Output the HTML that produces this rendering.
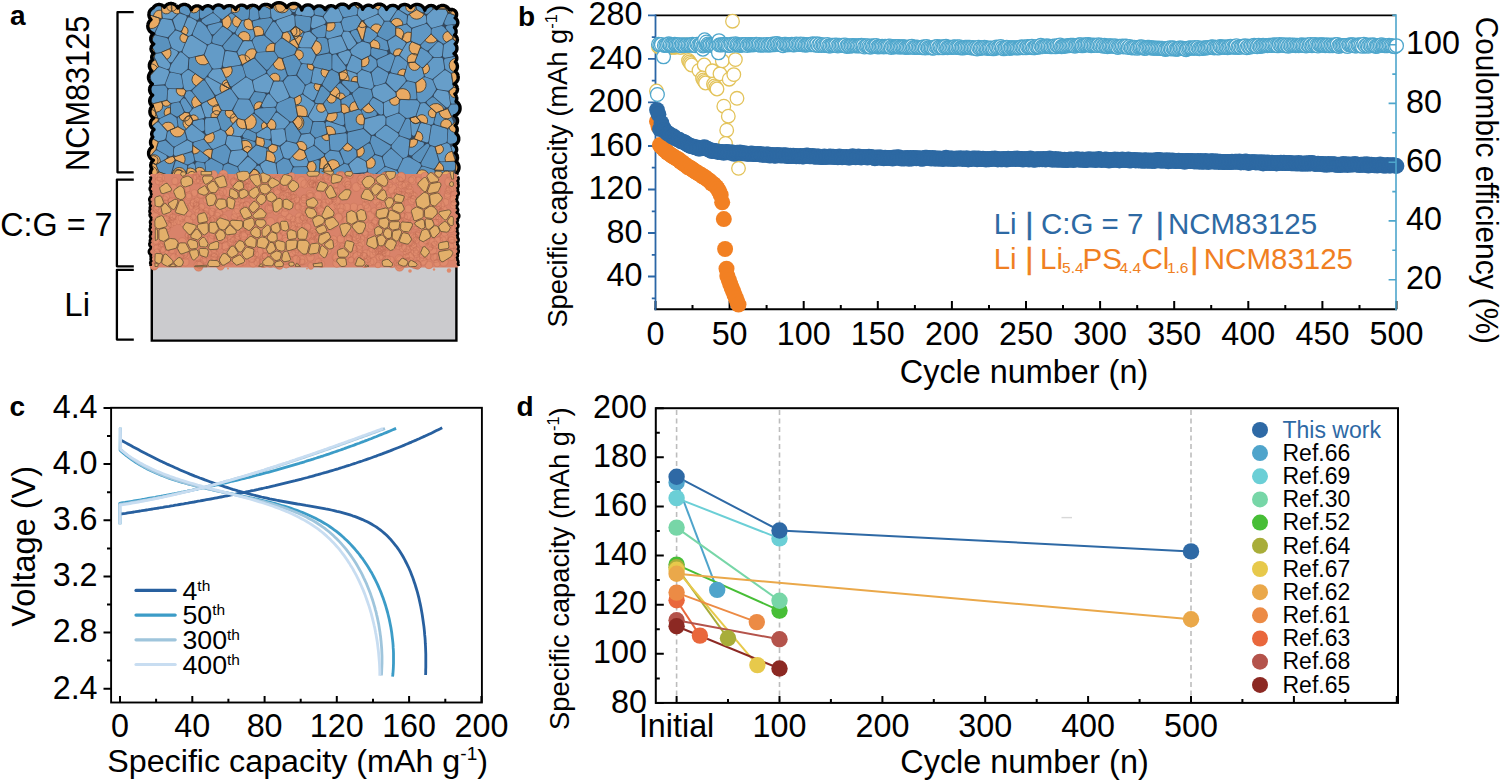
<!DOCTYPE html>
<html><head><meta charset="utf-8"><style>
html,body{margin:0;padding:0;background:#fff;overflow:hidden;width:1500px;height:781px;}
svg{display:block;}
text{font-family:"Liberation Sans", sans-serif;fill:#000;}
</style></head><body>
<svg width="1500" height="781" viewBox="0 0 1500 781" font-family='"Liberation Sans", sans-serif'>
<rect width="1500" height="781" fill="#fff"/>
<rect x="151.8" y="266" width="304.6" height="74.6" fill="#cbcbce"/>
<path d="M151.8,266V340.6H456.4V266" fill="none" stroke="#000" stroke-width="2.4"/>
<path d="M175.9,5.3 175.4,5 174.9,4.6 174.4,4.3 173.8,4.1 173.3,3.9 172.7,3.7 172.1,3.6 171.5,3.5 170.9,3.5 170.3,3.5 169.7,3.6 169.1,3.7 168.6,3.9 168,4.1 167.5,4.3 166.9,4.6 166.4,5 166,5.3 165.5,5.8 165.1,6.2 164.7,6.7 164.4,7.2 164.4,7.2 164.2,6.9 163.8,6.5 163.4,6.1 163,5.8 162.6,5.5 162.1,5.2 161.6,5 161.1,4.8 160.6,4.7 160.1,4.6 159.5,4.5 159,4.5 158.5,4.5 157.9,4.6 157.4,4.7 156.9,4.8 156.4,5 155.9,5.2 155.4,5.5 155,5.8 154.6,6.1 154.2,6.5 153.8,6.9 153.5,7.3 153.2,7.7 153.1,8 152.8,8.1 152.3,8.4 151.9,8.7 151.4,9 151,9.4 150.6,9.8 150.3,10.3 149.9,10.7 149.7,11.2 149.4,11.7 149.2,12.3 149.1,12.8 149,13.4 148.9,13.9 148.9,14.5 148.9,15.1 149,15.6 149.1,16.2 149.2,16.7 149.4,17.3 149.7,17.8 149.9,18.3 150.3,18.7 150.6,19.2 151,19.6 151,19.6 150.6,20 150.1,20.4 149.7,20.8 149.3,21.3 149,21.9 148.7,22.4 148.4,23 148.2,23.5 148,24.1 147.9,24.8 147.8,25.4 147.8,26 147.8,26.6 147.9,27.2 148,27.9 148.2,28.5 148.4,29 148.7,29.6 149,30.2 149.3,30.7 149.7,31.2 150.1,31.6 150.6,32 151.1,32.4 151.6,32.8 152.1,33.1 152.7,33.3 153.3,33.6 153.4,33.6 153.3,33.6 153,34 152.6,34.3 152.3,34.6 152,35 151.7,35.4 151.4,35.9 151.2,36.3 151.1,36.8 150.9,37.2 150.8,37.7 150.8,38.2 150.8,38.7 150.8,39.2 150.8,39.7 150.9,40.2 151.1,40.6 151.2,41.1 151.4,41.5 151.7,42 152,42.4 152.3,42.8 152.6,43.1 153,43.5 153.3,43.8 153.7,44 153.6,44.1 153.3,44.3 152.9,44.6 152.6,44.9 152.3,45.2 152.1,45.5 151.8,45.9 151.6,46.2 151.4,46.6 151.3,47 151.2,47.4 151.1,47.9 151,48.3 151,48.7 151,49.1 151.1,49.6 151.2,50 151.3,50.4 151.4,50.8 151.6,51.2 151.8,51.6 152.1,51.9 152.3,52.3 152.6,52.6 152.9,52.9 153.3,53.1 153.6,53.4 153.7,53.4 153.5,53.6 153.2,53.8 152.9,54.1 152.7,54.4 152.5,54.8 152.3,55.1 152.1,55.5 152,55.9 151.9,56.2 151.8,56.6 151.7,57 151.7,57.4 151.7,57.8 151.8,58.2 151.9,58.6 152,59 152.1,59.4 152.3,59.8 152.3,59.8 151.9,60.1 151.5,60.5 151.1,60.9 150.7,61.3 150.4,61.8 150.1,62.3 149.9,62.8 149.7,63.4 149.6,63.9 149.4,64.5 149.4,65.1 149.4,65.6 149.4,66.2 149.4,66.8 149.6,67.3 149.7,67.9 149.9,68.4 150.1,68.9 150.4,69.4 150.7,69.9 151.1,70.4 151.5,70.8 151.8,71 151.6,71.1 151.2,71.5 150.7,71.9 150.3,72.3 150,72.8 149.6,73.3 149.3,73.8 149.1,74.4 148.9,74.9 148.7,75.5 148.6,76.1 148.5,76.7 148.5,77.3 148.5,77.9 148.6,78.5 148.7,79.1 148.9,79.7 149.1,80.2 149.3,80.8 149.6,81.3 150,81.8 150.3,82.3 150.7,82.7 151.2,83.1 151.6,83.5 152.1,83.8 152.3,83.9 152.1,84.1 151.7,84.5 151.3,84.9 151,85.3 150.6,85.8 150.4,86.3 150.1,86.8 149.9,87.3 149.8,87.8 149.7,88.4 149.6,88.9 149.6,89.5 149.6,90.1 149.7,90.6 149.8,91.2 149.9,91.7 150.1,92.2 150.4,92.7 150.6,93.2 151,93.7 151.3,94.1 151.7,94.5 152.1,94.9 152.5,95.2 152.6,95.3 152.5,95.4 152,95.7 151.6,96.1 151.3,96.5 151,96.9 150.7,97.3 150.4,97.8 150.2,98.3 150,98.8 149.9,99.3 149.8,99.8 149.7,100.3 149.7,100.8 149.7,101.4 149.8,101.9 149.9,102.4 150,102.9 150.2,103.4 150.4,103.9 150.7,104.4 151,104.8 151.3,105.2 151.6,105.6 152,106 152.3,106.1 152.1,106.3 151.7,106.7 151.3,107.2 151,107.7 150.7,108.2 150.4,108.7 150.2,109.3 150.1,109.9 150,110.4 149.9,111 149.9,111.6 149.9,112.2 150,112.8 150.1,113.4 150.2,113.9 150.4,114.5 150.7,115 151,115.6 151.3,116 151.7,116.5 152.1,116.9 152.5,117.3 153,117.7 153.5,118 153.6,118.1 153.5,118.2 153.1,118.5 152.7,118.8 152.3,119.1 151.9,119.5 151.6,119.9 151.4,120.3 151.1,120.7 150.9,121.2 150.7,121.7 150.6,122.2 150.5,122.7 150.4,123.2 150.4,123.7 150.4,124.2 150.5,124.7 150.6,125.2 150.7,125.6 150.9,126.1 151.1,126.6 151.4,127 151.6,127.4 151.9,127.8 152.3,128.2 152.7,128.5 153.1,128.9 153.5,129.1 153.9,129.4 154,129.4 154,129.6 153.9,129.7 153.5,130 153.2,130.3 153,130.6 152.7,130.9 152.5,131.2 152.3,131.6 152.1,131.9 152,132.3 151.9,132.7 151.8,133.1 151.7,133.5 151.7,133.9 151.7,134.3 151.8,134.7 151.9,135.1 152,135.5 152.1,135.9 152.3,136.3 152.5,136.6 152.7,137 152.8,137.1 152.6,137.3 152.2,137.7 151.9,138.1 151.6,138.6 151.3,139.1 151.1,139.6 150.9,140.1 150.7,140.6 150.6,141.1 150.6,141.7 150.5,142.2 150.6,142.8 150.6,143.3 150.7,143.8 150.9,144.4 151.1,144.9 151.3,145.4 151.6,145.8 151.9,146.3 152.2,146.7 152.3,146.9 152.2,147 151.7,147.3 151.2,147.7 150.8,148 150.4,148.5 150,148.9 149.7,149.4 149.4,149.9 149.2,150.5 149,151 148.8,151.6 148.7,152.2 148.6,152.7 148.6,153.3 148.6,153.9 148.7,154.5 148.8,155.1 149,155.6 149.2,156.2 149.4,156.7 149.7,157.2 150,157.7 150.4,158.2 150.8,158.6 151.2,159 151.7,159.4 152.2,159.7 152.7,160 153.2,160.2 153.3,160.3 153.2,160.3 152.8,160.6 152.5,160.9 152.2,161.3 151.9,161.7 151.6,162.1 151.4,162.5 151.1,162.9 151,163.4 150.9,163.8 150.8,164.3 150.7,164.8 150.7,165.3 150.7,165.8 150.8,166.2 150.9,166.7 151,167.2 151.1,167.6 151.4,168.1 151.6,168.5 151.9,168.9 151.9,168.9 151.7,169.1 151.4,169.5 151.1,170 150.9,170.5 150.7,171 150.6,171.5 150.5,172 150.5,172.6 150.5,173.1 150.6,173.7 150.7,174.2 150.9,174.7 151.1,175.2 151.4,175.7 151.7,176.1 152.1,176.5 152.5,176.9 152.9,177.2 153.4,177.5 153.9,177.7 154.4,177.9 154.9,178 155.5,178.1 156,178.1 156.5,178.1 157.1,178 157.6,177.9 158.1,177.7 158.6,177.5 159.1,177.2 159.4,176.9 159.7,177.2 160.1,177.7 160.5,178.1 161,178.4 161.5,178.7 162,179 162,179 166.6,179 166.6,179 167.2,178.7 167.7,178.4 168.1,178.1 168.6,177.7 168.9,177.3 169.1,177.5 169.6,177.9 170.2,178.2 170.8,178.5 171.4,178.7 172.1,178.9 172.7,179 172.8,179 173.9,179 174,179 174.7,178.9 175.3,178.7 175.9,178.5 176.5,178.2 177.1,177.9 177.6,177.5 178.1,177.1 178.4,176.7 178.7,177 179.2,177.4 179.7,177.8 180.3,178.1 180.9,178.4 181.5,178.6 182.1,178.8 182.8,178.9 183.4,178.9 184.1,178.9 184.7,178.8 185.3,178.6 185.9,178.4 186.5,178.1 187.1,177.8 187.6,177.4 188.1,177 188.5,176.5 188.9,176 189.2,176 189.3,176.2 189.7,176.6 190.1,176.9 190.5,177.2 190.9,177.5 191.4,177.7 191.8,177.9 192.3,178 192.8,178.1 193.3,178.1 193.9,178.1 194.4,178 194.8,177.9 195.3,177.7 195.8,177.5 196.2,177.2 196.6,176.9 197,176.6 197.3,176.2 197.5,176 198.5,176 198.7,176.1 199.1,176.4 199.5,176.5 199.9,176.7 200.3,176.8 200.7,176.8 201.1,176.9 201.5,176.8 202,176.8 202.4,176.7 202.8,176.5 203.1,176.4 203.5,176.1 203.7,176 204.3,176 204.3,176.1 204.6,176.4 204.9,176.6 205.3,176.9 205.6,177.1 206,177.3 206.4,177.4 206.8,177.5 207.2,177.6 207.6,177.6 208,177.6 208.4,177.5 208.8,177.4 209.2,177.3 209.6,177.1 209.9,176.9 210.2,176.6 210.5,176.4 210.6,176.5 210.9,176.8 211.3,177.1 211.7,177.3 212.1,177.5 212.5,177.7 213,177.8 213.4,177.9 213.9,177.9 214.3,177.9 214.8,177.8 215.2,177.7 215.6,177.5 216,177.3 216.4,177.1 216.8,176.8 217,176.7 217.2,177 217.6,177.3 218,177.6 218.4,177.8 218.9,178.1 219.3,178.2 219.8,178.3 220.3,178.4 220.8,178.4 221.3,178.4 221.8,178.3 222.3,178.2 222.7,178.1 223.2,177.8 223.6,177.6 224,177.3 224.3,177 224.7,176.6 225,176.2 225.1,176 225.4,176 225.5,176.1 225.8,176.4 226.1,176.6 226.4,176.8 226.8,177 227.2,177.1 227.5,177.2 227.9,177.3 228.3,177.3 228.7,177.3 229.1,177.2 229.5,177.1 229.9,177 230.2,176.8 230.5,176.6 230.9,176.4 231.2,176.1 231.2,176 231.3,176 231.6,176.3 231.9,176.5 232.3,176.8 232.7,176.9 233.1,177.1 233.5,177.2 233.9,177.2 234.3,177.3 234.8,177.2 235.2,177.2 235.6,177.1 236,176.9 236.4,176.8 236.7,176.5 237.1,176.3 237.4,176 239.4,176 239.6,176.1 240,176.2 240.4,176.2 240.8,176.3 241.2,176.2 241.6,176.2 241.8,176.1 242,176.5 242.4,177 242.8,177.4 243.2,177.8 243.7,178.1 244.1,178.4 244.7,178.7 245.2,178.9 245.7,179 248.1,179 248.6,178.9 249.1,178.7 249.7,178.4 250.1,178.1 250.6,177.8 251,177.4 251.4,177 251.8,176.5 252,176.1 252.3,176.3 252.6,176.7 253,176.9 253.4,177.2 253.8,177.4 254.3,177.5 254.7,177.6 255.2,177.7 255.7,177.7 256.1,177.7 256.6,177.6 257,177.5 257.5,177.4 257.9,177.2 258.3,176.9 258.7,176.7 258.8,176.5 258.9,176.5 259.2,176.9 259.6,177.3 260,177.5 260.4,177.8 260.8,178 261.3,178.2 261.8,178.3 262.3,178.4 262.8,178.4 263.3,178.4 263.8,178.3 264.3,178.2 264.7,178 265.2,177.8 265.6,177.5 266,177.3 266.3,177 266.3,177.1 266.8,177.5 267.4,177.8 267.9,178.1 268.5,178.3 269.2,178.4 269.8,178.5 270.4,178.6 271.1,178.5 271.7,178.4 272.3,178.3 272.9,178.1 273.5,177.8 274.1,177.5 274.6,177.1 275.1,176.6 275.5,176.2 275.6,176 275.9,176 276.1,176.2 276.4,176.6 276.8,176.9 277.3,177.3 277.7,177.5 278.2,177.8 278.7,177.9 279.2,178.1 279.7,178.1 280.3,178.2 280.8,178.1 281.3,178.1 281.8,177.9 282.3,177.8 282.8,177.5 283.3,177.3 283.7,176.9 284.1,176.6 284.4,176.2 284.6,176 285,176 285.1,176 285.3,176.4 285.7,176.6 286,176.9 286.3,177.1 286.7,177.3 287.1,177.4 287.5,177.5 287.9,177.6 288.4,177.6 288.8,177.6 289.2,177.5 289.6,177.4 290,177.3 290.4,177.1 290.7,176.9 291.1,176.6 291.1,176.6 291.2,176.7 291.6,177 291.9,177.3 292.4,177.5 292.8,177.7 293.3,177.9 293.8,178 294.2,178.1 294.7,178.1 295.2,178.1 295.7,178 296.2,177.9 296.7,177.7 297.1,177.5 297.3,177.4 297.7,177.8 298.2,178.3 298.7,178.7 299.2,179 299.3,179 305.3,179 305.3,179 305.9,178.7 306.4,178.3 306.9,177.8 307.3,177.4 307.7,176.9 308,176.3 308.2,176 311,176 311.2,176.1 311.6,176.1 312,176.1 312.4,176.1 312.8,176.1 313.1,176 313.2,176 313.5,176.4 313.8,176.8 314.2,177.2 314.6,177.6 315,177.9 315.5,178.2 316,178.4 316.5,178.6 317,178.8 317.6,178.8 318.1,178.9 318.7,178.8 319.2,178.8 319.7,178.6 320.3,178.4 320.7,178.2 321.2,177.9 321.7,177.6 322.1,177.2 322.2,177.1 322.5,177.4 322.9,177.8 323.4,178.1 323.8,178.4 324.3,178.7 324.9,178.8 325.4,179 325.5,179 327.5,179 327.6,179 328.1,178.8 328.6,178.7 329.1,178.4 329.6,178.1 330.1,177.8 330.5,177.4 330.8,177 331.2,176.6 331.3,176.3 331.4,176.3 331.8,176.7 332.3,177 332.8,177.2 333.3,177.4 333.8,177.5 334.4,177.6 334.9,177.6 335.5,177.6 336,177.5 336.6,177.4 337.1,177.2 337.6,177 338,176.7 338.2,176.6 338.2,176.6 338.7,177.1 339.1,177.5 339.7,177.9 340.2,178.3 340.8,178.5 341.4,178.8 342,178.9 342.6,179 344.1,179 344.6,178.9 345.2,178.8 345.8,178.5 346.4,178.3 347,177.9 347.5,177.5 348,177.1 348.4,176.6 348.8,176.1 348.9,176 349.5,176 349.8,176.3 350.2,176.6 350.5,176.9 350.9,177.2 351.4,177.4 351.8,177.5 352.3,177.6 352.7,177.7 353.2,177.7 353.7,177.7 354.1,177.6 354.6,177.5 355,177.4 355.5,177.2 355.9,176.9 356.2,176.6 356.6,176.3 356.9,176 357.8,176 357.9,176.1 358.3,176.3 358.7,176.5 359.1,176.6 359.5,176.8 359.9,176.8 360.4,176.8 360.8,176.8 361.3,176.8 361.7,176.6 362.1,176.5 362.5,176.3 362.9,176.1 362.9,176 363.2,176.3 363.6,176.7 364,177 364.5,177.3 365,177.5 365.5,177.7 366,177.8 366.6,177.9 367.1,177.9 367.7,177.9 368.2,177.8 368.8,177.7 369.3,177.5 369.8,177.3 370.2,177 370.7,176.7 371.1,176.3 371.3,176 371.4,176 371.7,176.3 372,176.7 372.4,177 372.8,177.3 373.2,177.6 373.6,177.8 374.1,177.9 374.5,178.1 375,178.1 375.5,178.2 376,178.1 376.5,178.1 377,177.9 377.4,177.8 377.9,177.6 378.3,177.3 378.7,177 378.8,176.9 378.9,177 379.4,177.4 380,177.7 380.5,178 381.1,178.2 381.8,178.3 382.4,178.4 383,178.5 383.6,178.4 384.3,178.3 384.9,178.2 385.5,178 386,177.7 386.6,177.4 387.1,177 387.6,176.6 387.6,176.5 388,176.9 388.5,177.4 389,177.7 389.6,178.1 390.1,178.3 390.8,178.6 391.4,178.7 392,178.8 392.7,178.8 393.3,178.8 393.9,178.7 394.6,178.6 395.2,178.3 395.7,178.1 396.3,177.7 396.8,177.4 397.3,176.9 397.6,176.6 397.9,177 398.4,177.4 398.9,177.8 399.5,178.1 400,178.4 400.6,178.6 401.2,178.7 401.9,178.8 402.5,178.8 403.1,178.8 403.8,178.7 404.4,178.6 405,178.4 405.5,178.1 406.1,177.8 406.6,177.4 407.1,177 407.5,176.5 407.8,176 408.8,176 408.9,176 409.2,176.3 409.6,176.6 410,176.9 410.4,177 410.8,177.2 411.3,177.3 411.7,177.4 412.2,177.4 412.6,177.4 413.1,177.3 413.5,177.2 414,177 414.4,176.9 414.8,176.6 415.1,176.4 415.3,176.7 415.6,177 416,177.4 416.4,177.7 416.8,177.9 417.3,178.1 417.7,178.3 418.2,178.4 418.7,178.5 419.2,178.5 419.7,178.5 420.2,178.4 420.7,178.3 421.1,178.1 421.6,177.9 422,177.7 422.4,177.4 422.8,177 423.1,176.7 423.4,176.3 423.6,176 423.9,176 424.2,176.2 424.5,176.5 424.9,176.7 425.2,176.9 425.6,177 426,177.1 426.4,177.1 426.8,177.2 427.2,177.1 427.6,177.1 428,177 428.4,176.9 428.7,176.7 429.1,176.5 429.4,176.2 429.7,176 429.7,176 429.9,176.2 430.3,176.4 430.7,176.7 431.1,176.9 431.5,177 432,177.1 432.5,177.2 432.9,177.2 433.4,177.2 433.9,177.1 434.3,177 434.6,176.9 434.8,177.2 435.2,177.7 435.7,178.1 436.3,178.5 436.9,178.9 437.1,179 443.1,179 443.3,178.9 443.9,178.5 444.4,178.1 444.9,177.7 445.4,177.2 445.6,176.9 446.1,177.3 446.6,177.7 447.2,178 447.8,178.3 448.4,178.5 449.1,178.7 449.7,178.8 450.4,178.8 451.1,178.8 451.7,178.7 452.4,178.5 453,178.3 453.6,178 454.2,177.7 454.7,177.3 455.2,176.8 455.7,176.3 456.1,175.8 456.4,175.2 456.7,174.6 456.9,174 457.1,173.3 457.2,172.7 457.2,172.4 457.5,172 457.8,171.5 458.1,171 458.4,170.4 458.6,169.8 458.8,169.2 458.9,168.6 459,168 459,167.4 459,166.8 458.9,166.2 458.8,165.6 458.6,165 458.4,164.4 458.1,163.8 457.8,163.3 457.5,162.8 457.1,162.3 456.7,161.8 456.2,161.4 456.2,161.4 456.3,161.2 456.6,160.8 456.8,160.4 457,160 457.2,159.5 457.3,159 457.4,158.6 457.5,158.1 457.5,157.6 457.5,157.1 457.4,156.7 457.3,156.2 457.2,155.7 457,155.3 456.8,154.8 456.6,154.4 456.3,154 456,153.7 455.7,153.3 455.3,153 455.5,152.9 455.7,152.5 455.9,152.2 456.1,151.9 456.3,151.5 456.4,151.2 456.5,150.8 456.6,150.4 456.7,150 456.7,149.6 456.7,149.2 456.6,148.8 456.5,148.4 456.4,148.1 456.3,147.7 456.1,147.3 455.9,147 455.7,146.7 455.5,146.3 455.2,146.1 454.9,145.8 454.6,145.5 454.3,145.3 454.1,145.2 454.6,145 455,144.8 455.5,144.5 456,144.2 456.4,143.9 456.8,143.6 457.1,143.2 457.4,142.8 457.7,142.3 458,141.8 458.2,141.4 458.4,140.9 458.6,140.4 458.7,139.8 458.7,139.3 458.7,138.8 458.7,138.2 458.7,137.7 458.6,137.2 458.4,136.7 458.2,136.2 458,135.7 457.7,135.2 457.4,134.8 457.1,134.4 456.8,134 456.4,133.6 456,133.3 455.9,133.3 456.1,133 456.4,132.6 456.6,132.2 456.8,131.8 457,131.4 457.1,131 457.2,130.5 457.2,130.1 457.2,129.7 457.2,129.2 457.2,128.8 457.1,128.3 457,127.9 456.8,127.5 456.6,127.1 456.4,126.7 456.1,126.3 455.9,126 455.6,125.6 455.2,125.3 455.2,125.3 455.3,125.3 455.6,125 455.9,124.7 456.2,124.4 456.5,124.1 456.8,123.7 457,123.3 457.1,122.9 457.3,122.5 457.4,122.1 457.5,121.7 457.5,121.2 457.6,120.8 457.5,120.4 457.5,119.9 457.4,119.5 457.3,119.1 457.1,118.7 457,118.3 456.8,117.9 456.5,117.6 456.2,117.2 455.9,116.9 455.6,116.6 455.3,116.3 454.9,116.1 454.5,115.9 454.3,115.8 454.6,115.7 455.2,115.5 455.8,115.2 456.3,114.9 456.8,114.6 457.3,114.2 457.8,113.8 458.2,113.3 458.6,112.8 458.9,112.3 459.2,111.8 459.5,111.2 459.7,110.6 459.9,110 460,109.4 460,108.8 460.1,108.2 460,107.6 460,107 459.9,106.4 459.7,105.8 459.5,105.2 459.2,104.6 458.9,104.1 458.6,103.6 458.2,103.1 457.8,102.6 457.3,102.2 456.8,101.8 456.3,101.5 456.1,101.4 456.1,101.2 456.3,100.8 456.5,100.4 456.6,99.9 456.7,99.4 456.8,99 456.8,98.5 456.8,98 456.7,97.5 456.6,97.1 456.5,96.6 456.3,96.2 456.1,95.7 455.9,95.3 455.6,94.9 455.4,94.5 455,94.2 454.9,94 455.1,93.9 455.5,93.6 455.8,93.3 456.1,92.9 456.4,92.6 456.6,92.2 456.9,91.8 457.1,91.4 457.2,91 457.3,90.5 457.4,90.1 457.5,89.6 457.5,89.2 457.5,88.7 457.4,88.2 457.3,87.8 457.2,87.3 457.1,86.9 456.9,86.5 456.6,86.1 456.4,85.7 456.1,85.4 455.8,85 455.5,84.7 455.1,84.4 454.7,84.2 454.3,84 454.1,83.9 454.2,83.9 454.7,83.6 455.2,83.3 455.6,82.9 456,82.5 456.4,82.1 456.8,81.6 457.1,81.1 457.4,80.6 457.7,80.1 457.9,79.5 458,79 458.1,78.4 458.2,77.8 458.2,77.2 458.2,76.6 458.1,76.1 458,75.5 457.9,74.9 457.7,74.4 457.4,73.8 457.1,73.3 456.8,72.8 456.4,72.4 456,71.9 455.6,71.5 455.4,71.3 455.4,71.3 455.8,70.9 456.1,70.5 456.4,70.1 456.7,69.6 456.9,69.1 457.1,68.6 457.2,68.1 457.3,67.6 457.4,67.1 457.4,66.6 457.4,66.1 457.3,65.5 457.2,65 457.1,64.5 456.9,64 456.7,63.6 456.4,63.1 456.1,62.7 455.8,62.3 455.4,61.9 455.4,61.8 455.6,61.6 455.8,61.3 456.1,60.9 456.3,60.6 456.4,60.2 456.6,59.8 456.7,59.4 456.8,59 456.8,58.6 456.8,58.2 456.8,57.8 456.8,57.4 456.7,57 456.6,56.6 456.4,56.2 456.3,55.8 456.1,55.5 455.8,55.1 455.6,54.8 455.3,54.5 455,54.2 454.7,54 454.3,53.7 454,53.6 454.4,53.3 454.8,53 455.1,52.7 455.5,52.3 455.8,51.9 456,51.5 456.3,51.1 456.5,50.7 456.6,50.2 456.8,49.8 456.9,49.3 456.9,48.8 456.9,48.3 456.9,47.8 456.9,47.4 456.8,46.9 456.6,46.4 456.5,46 456.3,45.5 456,45.1 455.8,44.7 455.5,44.3 455.2,44 455.5,43.8 455.8,43.5 456.1,43.2 456.4,42.9 456.6,42.5 456.8,42.1 457,41.8 457.1,41.4 457.2,41 457.3,40.5 457.4,40.1 457.4,39.7 457.4,39.3 457.3,38.9 457.2,38.4 457.1,38 457,37.6 456.8,37.3 456.6,36.9 456.4,36.5 456.1,36.2 455.8,35.9 455.5,35.6 455.2,35.3 454.8,35.1 454.7,35 454.9,34.8 455.2,34.5 455.4,34.1 455.6,33.8 455.7,33.4 455.9,33 456,32.6 456.1,32.2 456.1,31.8 456.1,31.4 456.1,31 456.1,30.6 456,30.2 455.9,29.8 455.7,29.4 455.6,29.1 455.4,28.7 455.2,28.4 454.9,28.1 454.6,27.8 454.5,27.6 454.8,27.5 455.1,27.3 455.5,27.1 455.8,26.8 456.2,26.5 456.5,26.2 456.7,25.8 457,25.5 457.2,25.1 457.4,24.7 457.5,24.3 457.6,23.9 457.7,23.5 457.8,23 457.8,22.6 457.8,22.2 457.7,21.7 457.6,21.3 457.5,20.9 457.4,20.5 457.2,20.1 457,19.7 456.7,19.4 456.5,19 456.2,18.7 455.8,18.4 455.5,18.2 455.2,18 455.4,17.8 455.7,17.5 455.9,17.1 456.1,16.8 456.3,16.4 456.4,16.1 456.5,15.7 456.6,15.3 456.6,14.9 456.6,14.5 456.6,14.1 456.6,13.7 456.5,13.3 456.4,12.9 456.3,12.6 456.1,12.2 455.9,11.9 455.7,11.5 455.4,11.2 455.2,10.9 454.9,10.6 454.6,10.4 454.2,10.2 453.9,10 453.5,9.8 453.1,9.7 452.8,9.6 452.4,9.5 452,9.4 451.6,9.4 451.2,9.4 450.8,9.5 450.4,9.6 450,9.7 449.6,9.8 449.4,9.9 449.1,9.4 448.9,8.9 448.5,8.5 448.2,8 447.8,7.6 447.4,7.2 446.9,6.8 446.5,6.5 445.9,6.2 445.4,6 444.9,5.8 444.3,5.6 443.8,5.5 443.2,5.5 442.6,5.4 442.1,5.5 441.5,5.5 440.9,5.6 440.4,5.8 439.8,6 439.3,6.2 438.8,6.5 438.3,6.8 437.9,7.2 437.5,7.6 437.1,8 436.7,8.5 436.6,8.6 436.4,8.3 436.1,7.9 435.7,7.5 435.4,7.1 434.9,6.8 434.5,6.5 434.1,6.3 433.6,6 433.1,5.9 432.6,5.7 432.1,5.6 431.6,5.6 431.1,5.5 430.5,5.6 430,5.6 429.5,5.7 429,5.9 428.5,6 428.1,6.3 427.6,6.5 427.2,6.8 426.8,7.1 426.4,7.5 426,7.9 425.7,8.3 425.4,8.7 425.2,9.1 425,9.6 424.8,10.1 424.8,10.2 424.7,9.9 424.5,9.3 424.2,8.8 423.9,8.2 423.5,7.7 423.2,7.2 422.7,6.8 422.3,6.3 421.8,5.9 421.3,5.6 420.7,5.3 420.1,5 419.6,4.8 419,4.6 418.3,4.5 417.7,4.4 417.1,4.4 416.5,4.4 415.8,4.5 415.2,4.6 414.6,4.8 414,5 413.5,5.3 412.9,5.6 412.4,5.9 411.9,6.3 411.4,6.8 411,7.2 410.6,7.7 410.6,7.7 410.4,7.4 410,7 409.6,6.6 409.2,6.2 408.8,5.8 408.3,5.5 407.8,5.2 407.3,5 406.8,4.8 406.3,4.7 405.7,4.6 405.2,4.5 404.6,4.5 404,4.5 403.5,4.6 402.9,4.7 402.4,4.8 401.9,5 401.4,5.2 400.9,5.5 400.4,5.8 400,6.2 399.6,6.6 399.2,7 398.8,7.4 398.5,7.9 398.3,8.3 398.2,8.2 397.9,7.8 397.5,7.4 397.1,7 396.7,6.7 396.3,6.4 395.8,6.1 395.3,5.9 394.8,5.7 394.3,5.6 393.8,5.5 393.3,5.4 392.7,5.4 392.2,5.4 391.7,5.5 391.1,5.6 390.6,5.7 390.1,5.9 389.6,6.1 389.2,6.4 388.7,6.7 388.3,7 387.9,7.4 387.6,7.8 387.2,8.2 386.9,8.6 386.7,9.1 386.5,9.4 386.4,8.9 386.1,8.4 385.8,7.8 385.5,7.3 385.1,6.9 384.7,6.4 384.3,6 383.8,5.6 383.3,5.3 382.7,5 382.2,4.7 381.6,4.5 381,4.4 380.5,4.2 379.9,4.2 379.3,4.2 378.6,4.2 378,4.2 377.5,4.4 376.9,4.5 376.3,4.7 375.8,5 375.2,5.3 374.7,5.6 374.3,6 373.8,6.4 373.4,6.9 373.1,7.3 372.8,7.1 372.5,6.7 372.1,6.4 371.7,6.2 371.3,5.9 370.8,5.7 370.4,5.6 369.9,5.4 369.5,5.3 369,5.3 368.5,5.3 368,5.3 367.5,5.3 367.1,5.4 366.6,5.6 366.1,5.7 365.7,5.9 365.3,6.2 364.9,6.4 364.5,6.7 364.1,7.1 363.8,7.4 363.5,7.8 363.2,8.2 363,8.6 362.8,9.1 362.7,9.3 362.6,8.8 362.4,8.3 362.2,7.8 361.9,7.3 361.6,6.8 361.2,6.3 360.8,5.9 360.4,5.5 359.9,5.2 359.4,4.8 358.9,4.6 358.4,4.3 357.9,4.1 357.3,4 356.7,3.8 356.2,3.8 355.6,3.8 355,3.8 354.4,3.8 353.9,4 353.3,4.1 352.8,4.3 352.2,4.6 351.7,4.8 351.3,5.2 350.8,5.5 350.4,5.9 350,6.3 349.6,6.8 349.3,7.3 349,7.8 348.9,8 348.8,7.8 348.4,7.3 348.1,6.8 347.7,6.4 347.2,6 346.8,5.6 346.3,5.3 345.7,5 345.2,4.7 344.6,4.5 344.1,4.4 343.5,4.2 342.9,4.2 342.3,4.1 341.7,4.2 341.1,4.2 340.5,4.4 340,4.5 339.4,4.7 338.9,5 338.3,5.3 337.8,5.6 337.4,6 336.9,6.4 336.5,6.8 336.2,7.3 335.8,7.8 335.8,7.8 335.6,7.6 335.2,7.3 334.8,6.9 334.4,6.7 333.9,6.4 333.5,6.2 333,6 332.5,5.9 332,5.8 331.5,5.7 331,5.7 330.5,5.7 330,5.8 329.5,5.9 329,6 328.5,6.2 328.1,6.4 327.6,6.7 327.2,6.9 326.8,7.3 326.4,7.6 326.1,8 325.8,8.4 325.5,8.8 325.3,9.2 325.1,9.5 324.9,9.1 324.6,8.7 324.3,8.2 323.9,7.8 323.6,7.5 323.1,7.2 322.7,6.9 322.2,6.6 321.8,6.4 321.3,6.2 320.7,6 320.2,5.9 319.7,5.9 319.2,5.9 318.6,5.9 318.1,5.9 317.6,6 317.1,6.2 316.6,6.4 316.1,6.6 315.6,6.9 315.2,7.2 314.8,7.5 314.4,7.8 314,8.2 313.8,8.5 313.7,8.3 313.5,7.9 313.2,7.5 312.9,7.1 312.5,6.7 312.2,6.4 311.8,6.1 311.4,5.8 310.9,5.6 310.5,5.4 310,5.2 309.5,5.1 309,5 308.5,4.9 308,4.9 307.5,4.9 307,5 306.5,5.1 306.1,5.2 305.6,5.4 305.1,5.6 304.7,5.8 304.3,6.1 303.9,6.4 303.5,6.7 303.2,7.1 302.9,7.5 302.6,7.9 302.4,8.3 302.2,8.8 302,9.3 301.8,9.8 301.8,10.1 301.7,9.7 301.5,9.1 301.3,8.5 301,7.9 300.7,7.3 300.4,6.8 300,6.3 299.5,5.8 299.1,5.4 298.6,5 298,4.6 297.5,4.3 296.9,4.1 296.3,3.8 295.7,3.7 295,3.5 294.4,3.5 293.8,3.4 293.1,3.5 292.5,3.5 291.9,3.7 291.3,3.8 290.7,4.1 290.1,4.3 289.5,4.6 289,5 288.5,5.4 288,5.8 287.6,6.3 287.2,6.8 286.8,7.3 286.7,7.6 286.5,7.3 286.2,6.7 285.8,6.1 285.4,5.6 285,5.1 284.5,4.7 284,4.3 283.4,3.9 282.8,3.6 282.2,3.3 281.6,3.1 281,2.9 280.3,2.8 279.7,2.7 279,2.7 278.3,2.7 277.7,2.8 277,2.9 276.4,3.1 275.8,3.3 275.2,3.6 274.6,3.9 274,4.3 273.5,4.7 273,5.1 272.6,5.6 272.2,6.1 271.8,6.7 271.6,7 271.6,7 271.2,6.5 270.8,6.1 270.4,5.8 269.9,5.4 269.4,5.2 268.8,4.9 268.3,4.7 267.7,4.6 267.1,4.4 266.6,4.4 266,4.4 265.4,4.4 264.8,4.4 264.2,4.6 263.7,4.7 263.1,4.9 262.6,5.2 262.1,5.4 261.6,5.8 261.1,6.1 260.7,6.5 260.3,7 260,7.4 259.6,7.9 259.3,8.4 259.1,8.9 258.9,8.4 258.5,8 258.1,7.5 257.6,7.1 257.2,6.8 256.7,6.4 256.2,6.2 255.6,5.9 255.1,5.7 254.5,5.5 253.9,5.4 253.3,5.4 252.7,5.3 252.1,5.4 251.5,5.4 251,5.5 250.4,5.7 249.8,5.9 249.3,6.2 248.8,6.4 248.3,6.8 247.8,7.1 247.4,7.5 247,8 247,8 246.8,7.7 246.5,7.3 246.2,7 245.8,6.6 245.4,6.3 245,6.1 244.6,5.8 244.1,5.6 243.6,5.4 243.2,5.3 242.7,5.2 242.2,5.2 241.7,5.1 241.2,5.2 240.7,5.2 240.2,5.3 239.7,5.4 239.3,5.6 238.8,5.8 238.4,6.1 238,6.3 237.6,6.6 237.2,7 236.9,7.3 236.6,7.7 236.3,8.1 236.1,8.6 235.9,9 235.7,9.5 235.7,9.6 235.6,9.4 235.4,9 235,8.5 234.7,8.1 234.3,7.7 233.9,7.3 233.5,6.9 233,6.6 232.5,6.4 232,6.1 231.5,5.9 231,5.8 230.4,5.7 229.9,5.6 229.3,5.6 228.8,5.6 228.2,5.7 227.7,5.8 227.2,5.9 226.6,6.1 226.1,6.4 225.6,6.6 225.2,6.9 224.7,7.3 224.3,7.7 224,8.1 223.9,8.1 223.8,8 223.5,7.6 223.2,7.2 222.9,6.8 222.5,6.5 222.2,6.2 221.8,5.9 221.3,5.7 220.9,5.5 220.4,5.3 220,5.2 219.5,5.1 219,5 218.5,5 218,5 217.6,5.1 217.1,5.2 216.6,5.3 216.2,5.5 215.7,5.7 215.3,5.9 214.9,6.2 214.5,6.5 214.2,6.8 213.8,7.2 213.5,7.6 213.3,8 213,8.4 213,8.5 212.8,8.3 212.5,7.9 212.2,7.6 211.8,7.2 211.4,6.9 211,6.7 210.6,6.4 210.2,6.2 209.7,6.1 209.3,5.9 208.8,5.8 208.3,5.8 207.9,5.8 207.4,5.8 206.9,5.8 206.4,5.9 206,6.1 205.5,6.2 205.1,6.4 204.7,6.7 204.3,6.9 203.9,7.2 203.6,7.6 203.2,7.9 202.9,8.3 202.7,8.7 202.5,9 202.3,8.8 202.1,8.4 201.8,8 201.5,7.7 201.1,7.3 200.7,7 200.3,6.8 199.9,6.5 199.5,6.3 199,6.2 198.5,6 198.1,5.9 197.6,5.9 197.1,5.9 196.6,5.9 196.1,5.9 195.7,6 195.2,6.2 194.8,6.3 194.3,6.5 193.9,6.8 193.5,7 193.1,7.3 192.8,7.7 192.4,8 192.1,8.4 191.9,8.8 191.6,9.2 191.4,9.7 191.4,9.9 191.2,9.5 191,8.9 190.8,8.4 190.5,7.9 190.2,7.4 189.8,7 189.5,6.5 189,6.2 188.6,5.8 188.1,5.5 187.6,5.2 187.1,5 186.5,4.8 186,4.6 185.4,4.5 184.8,4.4 184.3,4.4 183.7,4.4 183.1,4.5 182.6,4.6 182,4.8 181.5,5 180.9,5.2 180.4,5.5 180,5.8 179.5,6.2 179.1,6.5 178.7,7 178.3,7.4 178,7.9 177.9,8.1 177.7,7.7 177.4,7.2 177.1,6.7 176.7,6.2 176.3,5.8Z" fill="#5a91bd"/>
<path d="M175.9,5.3 175.4,5 174.9,4.6 174.4,4.3 173.8,4.1 173.3,3.9 172.7,3.7 172.1,3.6 171.5,3.5 170.9,3.5 170.3,3.5 169.7,3.6 169.1,3.7 168.6,3.9 168,4.1 167.5,4.3 166.9,4.6 166.4,5 166,5.3 165.5,5.8 165.1,6.2 164.7,6.7 164.4,7.2 164.4,7.2 164.2,6.9 163.8,6.5 163.4,6.1 163,5.8 162.6,5.5 162.1,5.2 161.6,5 161.1,4.8 160.6,4.7 160.1,4.6 159.5,4.5 159,4.5 158.5,4.5 157.9,4.6 157.4,4.7 156.9,4.8 156.4,5 155.9,5.2 155.4,5.5 155,5.8 154.6,6.1 154.2,6.5 153.8,6.9 153.5,7.3 153.2,7.7 153.1,8 152.8,8.1 152.3,8.4 151.9,8.7 151.4,9 151,9.4 150.6,9.8 150.3,10.3 149.9,10.7 149.7,11.2 149.4,11.7 149.2,12.3 149.1,12.8 149,13.4 148.9,13.9 148.9,14.5 148.9,15.1 149,15.6 149.1,16.2 149.2,16.7 149.4,17.3 149.7,17.8 149.9,18.3 150.3,18.7 150.6,19.2 151,19.6 151,19.6 150.6,20 150.1,20.4 149.7,20.8 149.3,21.3 149,21.9 148.7,22.4 148.4,23 148.2,23.5 148,24.1 147.9,24.8 147.8,25.4 147.8,26 147.8,26.6 147.9,27.2 148,27.9 148.2,28.5 148.4,29 148.7,29.6 149,30.2 149.3,30.7 149.7,31.2 150.1,31.6 150.6,32 151.1,32.4 151.6,32.8 152.1,33.1 152.7,33.3 153.3,33.6 153.4,33.6 153.3,33.6 153,34 152.6,34.3 152.3,34.6 152,35 151.7,35.4 151.4,35.9 151.2,36.3 151.1,36.8 150.9,37.2 150.8,37.7 150.8,38.2 150.8,38.7 150.8,39.2 150.8,39.7 150.9,40.2 151.1,40.6 151.2,41.1 151.4,41.5 151.7,42 152,42.4 152.3,42.8 152.6,43.1 153,43.5 153.3,43.8 153.7,44 153.6,44.1 153.3,44.3 152.9,44.6 152.6,44.9 152.3,45.2 152.1,45.5 151.8,45.9 151.6,46.2 151.4,46.6 151.3,47 151.2,47.4 151.1,47.9 151,48.3 151,48.7 151,49.1 151.1,49.6 151.2,50 151.3,50.4 151.4,50.8 151.6,51.2 151.8,51.6 152.1,51.9 152.3,52.3 152.6,52.6 152.9,52.9 153.3,53.1 153.6,53.4 153.7,53.4 153.5,53.6 153.2,53.8 152.9,54.1 152.7,54.4 152.5,54.8 152.3,55.1 152.1,55.5 152,55.9 151.9,56.2 151.8,56.6 151.7,57 151.7,57.4 151.7,57.8 151.8,58.2 151.9,58.6 152,59 152.1,59.4 152.3,59.8 152.3,59.8 151.9,60.1 151.5,60.5 151.1,60.9 150.7,61.3 150.4,61.8 150.1,62.3 149.9,62.8 149.7,63.4 149.6,63.9 149.4,64.5 149.4,65.1 149.4,65.6 149.4,66.2 149.4,66.8 149.6,67.3 149.7,67.9 149.9,68.4 150.1,68.9 150.4,69.4 150.7,69.9 151.1,70.4 151.5,70.8 151.8,71 151.6,71.1 151.2,71.5 150.7,71.9 150.3,72.3 150,72.8 149.6,73.3 149.3,73.8 149.1,74.4 148.9,74.9 148.7,75.5 148.6,76.1 148.5,76.7 148.5,77.3 148.5,77.9 148.6,78.5 148.7,79.1 148.9,79.7 149.1,80.2 149.3,80.8 149.6,81.3 150,81.8 150.3,82.3 150.7,82.7 151.2,83.1 151.6,83.5 152.1,83.8 152.3,83.9 152.1,84.1 151.7,84.5 151.3,84.9 151,85.3 150.6,85.8 150.4,86.3 150.1,86.8 149.9,87.3 149.8,87.8 149.7,88.4 149.6,88.9 149.6,89.5 149.6,90.1 149.7,90.6 149.8,91.2 149.9,91.7 150.1,92.2 150.4,92.7 150.6,93.2 151,93.7 151.3,94.1 151.7,94.5 152.1,94.9 152.5,95.2 152.6,95.3 152.5,95.4 152,95.7 151.6,96.1 151.3,96.5 151,96.9 150.7,97.3 150.4,97.8 150.2,98.3 150,98.8 149.9,99.3 149.8,99.8 149.7,100.3 149.7,100.8 149.7,101.4 149.8,101.9 149.9,102.4 150,102.9 150.2,103.4 150.4,103.9 150.7,104.4 151,104.8 151.3,105.2 151.6,105.6 152,106 152.3,106.1 152.1,106.3 151.7,106.7 151.3,107.2 151,107.7 150.7,108.2 150.4,108.7 150.2,109.3 150.1,109.9 150,110.4 149.9,111 149.9,111.6 149.9,112.2 150,112.8 150.1,113.4 150.2,113.9 150.4,114.5 150.7,115 151,115.6 151.3,116 151.7,116.5 152.1,116.9 152.5,117.3 153,117.7 153.5,118 153.6,118.1 153.5,118.2 153.1,118.5 152.7,118.8 152.3,119.1 151.9,119.5 151.6,119.9 151.4,120.3 151.1,120.7 150.9,121.2 150.7,121.7 150.6,122.2 150.5,122.7 150.4,123.2 150.4,123.7 150.4,124.2 150.5,124.7 150.6,125.2 150.7,125.6 150.9,126.1 151.1,126.6 151.4,127 151.6,127.4 151.9,127.8 152.3,128.2 152.7,128.5 153.1,128.9 153.5,129.1 153.9,129.4 154,129.4 154,129.6 153.9,129.7 153.5,130 153.2,130.3 153,130.6 152.7,130.9 152.5,131.2 152.3,131.6 152.1,131.9 152,132.3 151.9,132.7 151.8,133.1 151.7,133.5 151.7,133.9 151.7,134.3 151.8,134.7 151.9,135.1 152,135.5 152.1,135.9 152.3,136.3 152.5,136.6 152.7,137 152.8,137.1 152.6,137.3 152.2,137.7 151.9,138.1 151.6,138.6 151.3,139.1 151.1,139.6 150.9,140.1 150.7,140.6 150.6,141.1 150.6,141.7 150.5,142.2 150.6,142.8 150.6,143.3 150.7,143.8 150.9,144.4 151.1,144.9 151.3,145.4 151.6,145.8 151.9,146.3 152.2,146.7 152.3,146.9 152.2,147 151.7,147.3 151.2,147.7 150.8,148 150.4,148.5 150,148.9 149.7,149.4 149.4,149.9 149.2,150.5 149,151 148.8,151.6 148.7,152.2 148.6,152.7 148.6,153.3 148.6,153.9 148.7,154.5 148.8,155.1 149,155.6 149.2,156.2 149.4,156.7 149.7,157.2 150,157.7 150.4,158.2 150.8,158.6 151.2,159 151.7,159.4 152.2,159.7 152.7,160 153.2,160.2 153.3,160.3 153.2,160.3 152.8,160.6 152.5,160.9 152.2,161.3 151.9,161.7 151.6,162.1 151.4,162.5 151.1,162.9 151,163.4 150.9,163.8 150.8,164.3 150.7,164.8 150.7,165.3 150.7,165.8 150.8,166.2 150.9,166.7 151,167.2 151.1,167.6 151.4,168.1 151.6,168.5 151.9,168.9 151.9,168.9 151.7,169.1 151.4,169.5 151.1,170 150.9,170.5 150.7,171 150.6,171.5 150.5,172 150.5,172.6 150.5,173.1 150.6,173.7 150.7,174.2 150.9,174.7 151.1,175.2 151.4,175.7 151.7,176.1 152.1,176.5 152.5,176.9 152.9,177.2 153.4,177.5 153.9,177.7 154.4,177.9 154.9,178 155.5,178.1 156,178.1 156.5,178.1 157.1,178 157.6,177.9 158.1,177.7 158.6,177.5 159.1,177.2 159.4,176.9 159.7,177.2 160.1,177.7 160.5,178.1 161,178.4 161.5,178.7 162,179 162,179 166.6,179 166.6,179 167.2,178.7 167.7,178.4 168.1,178.1 168.6,177.7 168.9,177.3 169.1,177.5 169.6,177.9 170.2,178.2 170.8,178.5 171.4,178.7 172.1,178.9 172.7,179 172.8,179 173.9,179 174,179 174.7,178.9 175.3,178.7 175.9,178.5 176.5,178.2 177.1,177.9 177.6,177.5 178.1,177.1 178.4,176.7 178.7,177 179.2,177.4 179.7,177.8 180.3,178.1 180.9,178.4 181.5,178.6 182.1,178.8 182.8,178.9 183.4,178.9 184.1,178.9 184.7,178.8 185.3,178.6 185.9,178.4 186.5,178.1 187.1,177.8 187.6,177.4 188.1,177 188.5,176.5 188.9,176 189.2,176 189.3,176.2 189.7,176.6 190.1,176.9 190.5,177.2 190.9,177.5 191.4,177.7 191.8,177.9 192.3,178 192.8,178.1 193.3,178.1 193.9,178.1 194.4,178 194.8,177.9 195.3,177.7 195.8,177.5 196.2,177.2 196.6,176.9 197,176.6 197.3,176.2 197.5,176 198.5,176 198.7,176.1 199.1,176.4 199.5,176.5 199.9,176.7 200.3,176.8 200.7,176.8 201.1,176.9 201.5,176.8 202,176.8 202.4,176.7 202.8,176.5 203.1,176.4 203.5,176.1 203.7,176 204.3,176 204.3,176.1 204.6,176.4 204.9,176.6 205.3,176.9 205.6,177.1 206,177.3 206.4,177.4 206.8,177.5 207.2,177.6 207.6,177.6 208,177.6 208.4,177.5 208.8,177.4 209.2,177.3 209.6,177.1 209.9,176.9 210.2,176.6 210.5,176.4 210.6,176.5 210.9,176.8 211.3,177.1 211.7,177.3 212.1,177.5 212.5,177.7 213,177.8 213.4,177.9 213.9,177.9 214.3,177.9 214.8,177.8 215.2,177.7 215.6,177.5 216,177.3 216.4,177.1 216.8,176.8 217,176.7 217.2,177 217.6,177.3 218,177.6 218.4,177.8 218.9,178.1 219.3,178.2 219.8,178.3 220.3,178.4 220.8,178.4 221.3,178.4 221.8,178.3 222.3,178.2 222.7,178.1 223.2,177.8 223.6,177.6 224,177.3 224.3,177 224.7,176.6 225,176.2 225.1,176 225.4,176 225.5,176.1 225.8,176.4 226.1,176.6 226.4,176.8 226.8,177 227.2,177.1 227.5,177.2 227.9,177.3 228.3,177.3 228.7,177.3 229.1,177.2 229.5,177.1 229.9,177 230.2,176.8 230.5,176.6 230.9,176.4 231.2,176.1 231.2,176 231.3,176 231.6,176.3 231.9,176.5 232.3,176.8 232.7,176.9 233.1,177.1 233.5,177.2 233.9,177.2 234.3,177.3 234.8,177.2 235.2,177.2 235.6,177.1 236,176.9 236.4,176.8 236.7,176.5 237.1,176.3 237.4,176 239.4,176 239.6,176.1 240,176.2 240.4,176.2 240.8,176.3 241.2,176.2 241.6,176.2 241.8,176.1 242,176.5 242.4,177 242.8,177.4 243.2,177.8 243.7,178.1 244.1,178.4 244.7,178.7 245.2,178.9 245.7,179 248.1,179 248.6,178.9 249.1,178.7 249.7,178.4 250.1,178.1 250.6,177.8 251,177.4 251.4,177 251.8,176.5 252,176.1 252.3,176.3 252.6,176.7 253,176.9 253.4,177.2 253.8,177.4 254.3,177.5 254.7,177.6 255.2,177.7 255.7,177.7 256.1,177.7 256.6,177.6 257,177.5 257.5,177.4 257.9,177.2 258.3,176.9 258.7,176.7 258.8,176.5 258.9,176.5 259.2,176.9 259.6,177.3 260,177.5 260.4,177.8 260.8,178 261.3,178.2 261.8,178.3 262.3,178.4 262.8,178.4 263.3,178.4 263.8,178.3 264.3,178.2 264.7,178 265.2,177.8 265.6,177.5 266,177.3 266.3,177 266.3,177.1 266.8,177.5 267.4,177.8 267.9,178.1 268.5,178.3 269.2,178.4 269.8,178.5 270.4,178.6 271.1,178.5 271.7,178.4 272.3,178.3 272.9,178.1 273.5,177.8 274.1,177.5 274.6,177.1 275.1,176.6 275.5,176.2 275.6,176 275.9,176 276.1,176.2 276.4,176.6 276.8,176.9 277.3,177.3 277.7,177.5 278.2,177.8 278.7,177.9 279.2,178.1 279.7,178.1 280.3,178.2 280.8,178.1 281.3,178.1 281.8,177.9 282.3,177.8 282.8,177.5 283.3,177.3 283.7,176.9 284.1,176.6 284.4,176.2 284.6,176 285,176 285.1,176 285.3,176.4 285.7,176.6 286,176.9 286.3,177.1 286.7,177.3 287.1,177.4 287.5,177.5 287.9,177.6 288.4,177.6 288.8,177.6 289.2,177.5 289.6,177.4 290,177.3 290.4,177.1 290.7,176.9 291.1,176.6 291.1,176.6 291.2,176.7 291.6,177 291.9,177.3 292.4,177.5 292.8,177.7 293.3,177.9 293.8,178 294.2,178.1 294.7,178.1 295.2,178.1 295.7,178 296.2,177.9 296.7,177.7 297.1,177.5 297.3,177.4 297.7,177.8 298.2,178.3 298.7,178.7 299.2,179 299.3,179 305.3,179 305.3,179 305.9,178.7 306.4,178.3 306.9,177.8 307.3,177.4 307.7,176.9 308,176.3 308.2,176 311,176 311.2,176.1 311.6,176.1 312,176.1 312.4,176.1 312.8,176.1 313.1,176 313.2,176 313.5,176.4 313.8,176.8 314.2,177.2 314.6,177.6 315,177.9 315.5,178.2 316,178.4 316.5,178.6 317,178.8 317.6,178.8 318.1,178.9 318.7,178.8 319.2,178.8 319.7,178.6 320.3,178.4 320.7,178.2 321.2,177.9 321.7,177.6 322.1,177.2 322.2,177.1 322.5,177.4 322.9,177.8 323.4,178.1 323.8,178.4 324.3,178.7 324.9,178.8 325.4,179 325.5,179 327.5,179 327.6,179 328.1,178.8 328.6,178.7 329.1,178.4 329.6,178.1 330.1,177.8 330.5,177.4 330.8,177 331.2,176.6 331.3,176.3 331.4,176.3 331.8,176.7 332.3,177 332.8,177.2 333.3,177.4 333.8,177.5 334.4,177.6 334.9,177.6 335.5,177.6 336,177.5 336.6,177.4 337.1,177.2 337.6,177 338,176.7 338.2,176.6 338.2,176.6 338.7,177.1 339.1,177.5 339.7,177.9 340.2,178.3 340.8,178.5 341.4,178.8 342,178.9 342.6,179 344.1,179 344.6,178.9 345.2,178.8 345.8,178.5 346.4,178.3 347,177.9 347.5,177.5 348,177.1 348.4,176.6 348.8,176.1 348.9,176 349.5,176 349.8,176.3 350.2,176.6 350.5,176.9 350.9,177.2 351.4,177.4 351.8,177.5 352.3,177.6 352.7,177.7 353.2,177.7 353.7,177.7 354.1,177.6 354.6,177.5 355,177.4 355.5,177.2 355.9,176.9 356.2,176.6 356.6,176.3 356.9,176 357.8,176 357.9,176.1 358.3,176.3 358.7,176.5 359.1,176.6 359.5,176.8 359.9,176.8 360.4,176.8 360.8,176.8 361.3,176.8 361.7,176.6 362.1,176.5 362.5,176.3 362.9,176.1 362.9,176 363.2,176.3 363.6,176.7 364,177 364.5,177.3 365,177.5 365.5,177.7 366,177.8 366.6,177.9 367.1,177.9 367.7,177.9 368.2,177.8 368.8,177.7 369.3,177.5 369.8,177.3 370.2,177 370.7,176.7 371.1,176.3 371.3,176 371.4,176 371.7,176.3 372,176.7 372.4,177 372.8,177.3 373.2,177.6 373.6,177.8 374.1,177.9 374.5,178.1 375,178.1 375.5,178.2 376,178.1 376.5,178.1 377,177.9 377.4,177.8 377.9,177.6 378.3,177.3 378.7,177 378.8,176.9 378.9,177 379.4,177.4 380,177.7 380.5,178 381.1,178.2 381.8,178.3 382.4,178.4 383,178.5 383.6,178.4 384.3,178.3 384.9,178.2 385.5,178 386,177.7 386.6,177.4 387.1,177 387.6,176.6 387.6,176.5 388,176.9 388.5,177.4 389,177.7 389.6,178.1 390.1,178.3 390.8,178.6 391.4,178.7 392,178.8 392.7,178.8 393.3,178.8 393.9,178.7 394.6,178.6 395.2,178.3 395.7,178.1 396.3,177.7 396.8,177.4 397.3,176.9 397.6,176.6 397.9,177 398.4,177.4 398.9,177.8 399.5,178.1 400,178.4 400.6,178.6 401.2,178.7 401.9,178.8 402.5,178.8 403.1,178.8 403.8,178.7 404.4,178.6 405,178.4 405.5,178.1 406.1,177.8 406.6,177.4 407.1,177 407.5,176.5 407.8,176 408.8,176 408.9,176 409.2,176.3 409.6,176.6 410,176.9 410.4,177 410.8,177.2 411.3,177.3 411.7,177.4 412.2,177.4 412.6,177.4 413.1,177.3 413.5,177.2 414,177 414.4,176.9 414.8,176.6 415.1,176.4 415.3,176.7 415.6,177 416,177.4 416.4,177.7 416.8,177.9 417.3,178.1 417.7,178.3 418.2,178.4 418.7,178.5 419.2,178.5 419.7,178.5 420.2,178.4 420.7,178.3 421.1,178.1 421.6,177.9 422,177.7 422.4,177.4 422.8,177 423.1,176.7 423.4,176.3 423.6,176 423.9,176 424.2,176.2 424.5,176.5 424.9,176.7 425.2,176.9 425.6,177 426,177.1 426.4,177.1 426.8,177.2 427.2,177.1 427.6,177.1 428,177 428.4,176.9 428.7,176.7 429.1,176.5 429.4,176.2 429.7,176 429.7,176 429.9,176.2 430.3,176.4 430.7,176.7 431.1,176.9 431.5,177 432,177.1 432.5,177.2 432.9,177.2 433.4,177.2 433.9,177.1 434.3,177 434.6,176.9 434.8,177.2 435.2,177.7 435.7,178.1 436.3,178.5 436.9,178.9 437.1,179 443.1,179 443.3,178.9 443.9,178.5 444.4,178.1 444.9,177.7 445.4,177.2 445.6,176.9 446.1,177.3 446.6,177.7 447.2,178 447.8,178.3 448.4,178.5 449.1,178.7 449.7,178.8 450.4,178.8 451.1,178.8 451.7,178.7 452.4,178.5 453,178.3 453.6,178 454.2,177.7 454.7,177.3 455.2,176.8 455.7,176.3 456.1,175.8 456.4,175.2 456.7,174.6 456.9,174 457.1,173.3 457.2,172.7 457.2,172.4 457.5,172 457.8,171.5 458.1,171 458.4,170.4 458.6,169.8 458.8,169.2 458.9,168.6 459,168 459,167.4 459,166.8 458.9,166.2 458.8,165.6 458.6,165 458.4,164.4 458.1,163.8 457.8,163.3 457.5,162.8 457.1,162.3 456.7,161.8 456.2,161.4 456.2,161.4 456.3,161.2 456.6,160.8 456.8,160.4 457,160 457.2,159.5 457.3,159 457.4,158.6 457.5,158.1 457.5,157.6 457.5,157.1 457.4,156.7 457.3,156.2 457.2,155.7 457,155.3 456.8,154.8 456.6,154.4 456.3,154 456,153.7 455.7,153.3 455.3,153 455.5,152.9 455.7,152.5 455.9,152.2 456.1,151.9 456.3,151.5 456.4,151.2 456.5,150.8 456.6,150.4 456.7,150 456.7,149.6 456.7,149.2 456.6,148.8 456.5,148.4 456.4,148.1 456.3,147.7 456.1,147.3 455.9,147 455.7,146.7 455.5,146.3 455.2,146.1 454.9,145.8 454.6,145.5 454.3,145.3 454.1,145.2 454.6,145 455,144.8 455.5,144.5 456,144.2 456.4,143.9 456.8,143.6 457.1,143.2 457.4,142.8 457.7,142.3 458,141.8 458.2,141.4 458.4,140.9 458.6,140.4 458.7,139.8 458.7,139.3 458.7,138.8 458.7,138.2 458.7,137.7 458.6,137.2 458.4,136.7 458.2,136.2 458,135.7 457.7,135.2 457.4,134.8 457.1,134.4 456.8,134 456.4,133.6 456,133.3 455.9,133.3 456.1,133 456.4,132.6 456.6,132.2 456.8,131.8 457,131.4 457.1,131 457.2,130.5 457.2,130.1 457.2,129.7 457.2,129.2 457.2,128.8 457.1,128.3 457,127.9 456.8,127.5 456.6,127.1 456.4,126.7 456.1,126.3 455.9,126 455.6,125.6 455.2,125.3 455.2,125.3 455.3,125.3 455.6,125 455.9,124.7 456.2,124.4 456.5,124.1 456.8,123.7 457,123.3 457.1,122.9 457.3,122.5 457.4,122.1 457.5,121.7 457.5,121.2 457.6,120.8 457.5,120.4 457.5,119.9 457.4,119.5 457.3,119.1 457.1,118.7 457,118.3 456.8,117.9 456.5,117.6 456.2,117.2 455.9,116.9 455.6,116.6 455.3,116.3 454.9,116.1 454.5,115.9 454.3,115.8 454.6,115.7 455.2,115.5 455.8,115.2 456.3,114.9 456.8,114.6 457.3,114.2 457.8,113.8 458.2,113.3 458.6,112.8 458.9,112.3 459.2,111.8 459.5,111.2 459.7,110.6 459.9,110 460,109.4 460,108.8 460.1,108.2 460,107.6 460,107 459.9,106.4 459.7,105.8 459.5,105.2 459.2,104.6 458.9,104.1 458.6,103.6 458.2,103.1 457.8,102.6 457.3,102.2 456.8,101.8 456.3,101.5 456.1,101.4 456.1,101.2 456.3,100.8 456.5,100.4 456.6,99.9 456.7,99.4 456.8,99 456.8,98.5 456.8,98 456.7,97.5 456.6,97.1 456.5,96.6 456.3,96.2 456.1,95.7 455.9,95.3 455.6,94.9 455.4,94.5 455,94.2 454.9,94 455.1,93.9 455.5,93.6 455.8,93.3 456.1,92.9 456.4,92.6 456.6,92.2 456.9,91.8 457.1,91.4 457.2,91 457.3,90.5 457.4,90.1 457.5,89.6 457.5,89.2 457.5,88.7 457.4,88.2 457.3,87.8 457.2,87.3 457.1,86.9 456.9,86.5 456.6,86.1 456.4,85.7 456.1,85.4 455.8,85 455.5,84.7 455.1,84.4 454.7,84.2 454.3,84 454.1,83.9 454.2,83.9 454.7,83.6 455.2,83.3 455.6,82.9 456,82.5 456.4,82.1 456.8,81.6 457.1,81.1 457.4,80.6 457.7,80.1 457.9,79.5 458,79 458.1,78.4 458.2,77.8 458.2,77.2 458.2,76.6 458.1,76.1 458,75.5 457.9,74.9 457.7,74.4 457.4,73.8 457.1,73.3 456.8,72.8 456.4,72.4 456,71.9 455.6,71.5 455.4,71.3 455.4,71.3 455.8,70.9 456.1,70.5 456.4,70.1 456.7,69.6 456.9,69.1 457.1,68.6 457.2,68.1 457.3,67.6 457.4,67.1 457.4,66.6 457.4,66.1 457.3,65.5 457.2,65 457.1,64.5 456.9,64 456.7,63.6 456.4,63.1 456.1,62.7 455.8,62.3 455.4,61.9 455.4,61.8 455.6,61.6 455.8,61.3 456.1,60.9 456.3,60.6 456.4,60.2 456.6,59.8 456.7,59.4 456.8,59 456.8,58.6 456.8,58.2 456.8,57.8 456.8,57.4 456.7,57 456.6,56.6 456.4,56.2 456.3,55.8 456.1,55.5 455.8,55.1 455.6,54.8 455.3,54.5 455,54.2 454.7,54 454.3,53.7 454,53.6 454.4,53.3 454.8,53 455.1,52.7 455.5,52.3 455.8,51.9 456,51.5 456.3,51.1 456.5,50.7 456.6,50.2 456.8,49.8 456.9,49.3 456.9,48.8 456.9,48.3 456.9,47.8 456.9,47.4 456.8,46.9 456.6,46.4 456.5,46 456.3,45.5 456,45.1 455.8,44.7 455.5,44.3 455.2,44 455.5,43.8 455.8,43.5 456.1,43.2 456.4,42.9 456.6,42.5 456.8,42.1 457,41.8 457.1,41.4 457.2,41 457.3,40.5 457.4,40.1 457.4,39.7 457.4,39.3 457.3,38.9 457.2,38.4 457.1,38 457,37.6 456.8,37.3 456.6,36.9 456.4,36.5 456.1,36.2 455.8,35.9 455.5,35.6 455.2,35.3 454.8,35.1 454.7,35 454.9,34.8 455.2,34.5 455.4,34.1 455.6,33.8 455.7,33.4 455.9,33 456,32.6 456.1,32.2 456.1,31.8 456.1,31.4 456.1,31 456.1,30.6 456,30.2 455.9,29.8 455.7,29.4 455.6,29.1 455.4,28.7 455.2,28.4 454.9,28.1 454.6,27.8 454.5,27.6 454.8,27.5 455.1,27.3 455.5,27.1 455.8,26.8 456.2,26.5 456.5,26.2 456.7,25.8 457,25.5 457.2,25.1 457.4,24.7 457.5,24.3 457.6,23.9 457.7,23.5 457.8,23 457.8,22.6 457.8,22.2 457.7,21.7 457.6,21.3 457.5,20.9 457.4,20.5 457.2,20.1 457,19.7 456.7,19.4 456.5,19 456.2,18.7 455.8,18.4 455.5,18.2 455.2,18 455.4,17.8 455.7,17.5 455.9,17.1 456.1,16.8 456.3,16.4 456.4,16.1 456.5,15.7 456.6,15.3 456.6,14.9 456.6,14.5 456.6,14.1 456.6,13.7 456.5,13.3 456.4,12.9 456.3,12.6 456.1,12.2 455.9,11.9 455.7,11.5 455.4,11.2 455.2,10.9 454.9,10.6 454.6,10.4 454.2,10.2 453.9,10 453.5,9.8 453.1,9.7 452.8,9.6 452.4,9.5 452,9.4 451.6,9.4 451.2,9.4 450.8,9.5 450.4,9.6 450,9.7 449.6,9.8 449.4,9.9 449.1,9.4 448.9,8.9 448.5,8.5 448.2,8 447.8,7.6 447.4,7.2 446.9,6.8 446.5,6.5 445.9,6.2 445.4,6 444.9,5.8 444.3,5.6 443.8,5.5 443.2,5.5 442.6,5.4 442.1,5.5 441.5,5.5 440.9,5.6 440.4,5.8 439.8,6 439.3,6.2 438.8,6.5 438.3,6.8 437.9,7.2 437.5,7.6 437.1,8 436.7,8.5 436.6,8.6 436.4,8.3 436.1,7.9 435.7,7.5 435.4,7.1 434.9,6.8 434.5,6.5 434.1,6.3 433.6,6 433.1,5.9 432.6,5.7 432.1,5.6 431.6,5.6 431.1,5.5 430.5,5.6 430,5.6 429.5,5.7 429,5.9 428.5,6 428.1,6.3 427.6,6.5 427.2,6.8 426.8,7.1 426.4,7.5 426,7.9 425.7,8.3 425.4,8.7 425.2,9.1 425,9.6 424.8,10.1 424.8,10.2 424.7,9.9 424.5,9.3 424.2,8.8 423.9,8.2 423.5,7.7 423.2,7.2 422.7,6.8 422.3,6.3 421.8,5.9 421.3,5.6 420.7,5.3 420.1,5 419.6,4.8 419,4.6 418.3,4.5 417.7,4.4 417.1,4.4 416.5,4.4 415.8,4.5 415.2,4.6 414.6,4.8 414,5 413.5,5.3 412.9,5.6 412.4,5.9 411.9,6.3 411.4,6.8 411,7.2 410.6,7.7 410.6,7.7 410.4,7.4 410,7 409.6,6.6 409.2,6.2 408.8,5.8 408.3,5.5 407.8,5.2 407.3,5 406.8,4.8 406.3,4.7 405.7,4.6 405.2,4.5 404.6,4.5 404,4.5 403.5,4.6 402.9,4.7 402.4,4.8 401.9,5 401.4,5.2 400.9,5.5 400.4,5.8 400,6.2 399.6,6.6 399.2,7 398.8,7.4 398.5,7.9 398.3,8.3 398.2,8.2 397.9,7.8 397.5,7.4 397.1,7 396.7,6.7 396.3,6.4 395.8,6.1 395.3,5.9 394.8,5.7 394.3,5.6 393.8,5.5 393.3,5.4 392.7,5.4 392.2,5.4 391.7,5.5 391.1,5.6 390.6,5.7 390.1,5.9 389.6,6.1 389.2,6.4 388.7,6.7 388.3,7 387.9,7.4 387.6,7.8 387.2,8.2 386.9,8.6 386.7,9.1 386.5,9.4 386.4,8.9 386.1,8.4 385.8,7.8 385.5,7.3 385.1,6.9 384.7,6.4 384.3,6 383.8,5.6 383.3,5.3 382.7,5 382.2,4.7 381.6,4.5 381,4.4 380.5,4.2 379.9,4.2 379.3,4.2 378.6,4.2 378,4.2 377.5,4.4 376.9,4.5 376.3,4.7 375.8,5 375.2,5.3 374.7,5.6 374.3,6 373.8,6.4 373.4,6.9 373.1,7.3 372.8,7.1 372.5,6.7 372.1,6.4 371.7,6.2 371.3,5.9 370.8,5.7 370.4,5.6 369.9,5.4 369.5,5.3 369,5.3 368.5,5.3 368,5.3 367.5,5.3 367.1,5.4 366.6,5.6 366.1,5.7 365.7,5.9 365.3,6.2 364.9,6.4 364.5,6.7 364.1,7.1 363.8,7.4 363.5,7.8 363.2,8.2 363,8.6 362.8,9.1 362.7,9.3 362.6,8.8 362.4,8.3 362.2,7.8 361.9,7.3 361.6,6.8 361.2,6.3 360.8,5.9 360.4,5.5 359.9,5.2 359.4,4.8 358.9,4.6 358.4,4.3 357.9,4.1 357.3,4 356.7,3.8 356.2,3.8 355.6,3.8 355,3.8 354.4,3.8 353.9,4 353.3,4.1 352.8,4.3 352.2,4.6 351.7,4.8 351.3,5.2 350.8,5.5 350.4,5.9 350,6.3 349.6,6.8 349.3,7.3 349,7.8 348.9,8 348.8,7.8 348.4,7.3 348.1,6.8 347.7,6.4 347.2,6 346.8,5.6 346.3,5.3 345.7,5 345.2,4.7 344.6,4.5 344.1,4.4 343.5,4.2 342.9,4.2 342.3,4.1 341.7,4.2 341.1,4.2 340.5,4.4 340,4.5 339.4,4.7 338.9,5 338.3,5.3 337.8,5.6 337.4,6 336.9,6.4 336.5,6.8 336.2,7.3 335.8,7.8 335.8,7.8 335.6,7.6 335.2,7.3 334.8,6.9 334.4,6.7 333.9,6.4 333.5,6.2 333,6 332.5,5.9 332,5.8 331.5,5.7 331,5.7 330.5,5.7 330,5.8 329.5,5.9 329,6 328.5,6.2 328.1,6.4 327.6,6.7 327.2,6.9 326.8,7.3 326.4,7.6 326.1,8 325.8,8.4 325.5,8.8 325.3,9.2 325.1,9.5 324.9,9.1 324.6,8.7 324.3,8.2 323.9,7.8 323.6,7.5 323.1,7.2 322.7,6.9 322.2,6.6 321.8,6.4 321.3,6.2 320.7,6 320.2,5.9 319.7,5.9 319.2,5.9 318.6,5.9 318.1,5.9 317.6,6 317.1,6.2 316.6,6.4 316.1,6.6 315.6,6.9 315.2,7.2 314.8,7.5 314.4,7.8 314,8.2 313.8,8.5 313.7,8.3 313.5,7.9 313.2,7.5 312.9,7.1 312.5,6.7 312.2,6.4 311.8,6.1 311.4,5.8 310.9,5.6 310.5,5.4 310,5.2 309.5,5.1 309,5 308.5,4.9 308,4.9 307.5,4.9 307,5 306.5,5.1 306.1,5.2 305.6,5.4 305.1,5.6 304.7,5.8 304.3,6.1 303.9,6.4 303.5,6.7 303.2,7.1 302.9,7.5 302.6,7.9 302.4,8.3 302.2,8.8 302,9.3 301.8,9.8 301.8,10.1 301.7,9.7 301.5,9.1 301.3,8.5 301,7.9 300.7,7.3 300.4,6.8 300,6.3 299.5,5.8 299.1,5.4 298.6,5 298,4.6 297.5,4.3 296.9,4.1 296.3,3.8 295.7,3.7 295,3.5 294.4,3.5 293.8,3.4 293.1,3.5 292.5,3.5 291.9,3.7 291.3,3.8 290.7,4.1 290.1,4.3 289.5,4.6 289,5 288.5,5.4 288,5.8 287.6,6.3 287.2,6.8 286.8,7.3 286.7,7.6 286.5,7.3 286.2,6.7 285.8,6.1 285.4,5.6 285,5.1 284.5,4.7 284,4.3 283.4,3.9 282.8,3.6 282.2,3.3 281.6,3.1 281,2.9 280.3,2.8 279.7,2.7 279,2.7 278.3,2.7 277.7,2.8 277,2.9 276.4,3.1 275.8,3.3 275.2,3.6 274.6,3.9 274,4.3 273.5,4.7 273,5.1 272.6,5.6 272.2,6.1 271.8,6.7 271.6,7 271.6,7 271.2,6.5 270.8,6.1 270.4,5.8 269.9,5.4 269.4,5.2 268.8,4.9 268.3,4.7 267.7,4.6 267.1,4.4 266.6,4.4 266,4.4 265.4,4.4 264.8,4.4 264.2,4.6 263.7,4.7 263.1,4.9 262.6,5.2 262.1,5.4 261.6,5.8 261.1,6.1 260.7,6.5 260.3,7 260,7.4 259.6,7.9 259.3,8.4 259.1,8.9 258.9,8.4 258.5,8 258.1,7.5 257.6,7.1 257.2,6.8 256.7,6.4 256.2,6.2 255.6,5.9 255.1,5.7 254.5,5.5 253.9,5.4 253.3,5.4 252.7,5.3 252.1,5.4 251.5,5.4 251,5.5 250.4,5.7 249.8,5.9 249.3,6.2 248.8,6.4 248.3,6.8 247.8,7.1 247.4,7.5 247,8 247,8 246.8,7.7 246.5,7.3 246.2,7 245.8,6.6 245.4,6.3 245,6.1 244.6,5.8 244.1,5.6 243.6,5.4 243.2,5.3 242.7,5.2 242.2,5.2 241.7,5.1 241.2,5.2 240.7,5.2 240.2,5.3 239.7,5.4 239.3,5.6 238.8,5.8 238.4,6.1 238,6.3 237.6,6.6 237.2,7 236.9,7.3 236.6,7.7 236.3,8.1 236.1,8.6 235.9,9 235.7,9.5 235.7,9.6 235.6,9.4 235.4,9 235,8.5 234.7,8.1 234.3,7.7 233.9,7.3 233.5,6.9 233,6.6 232.5,6.4 232,6.1 231.5,5.9 231,5.8 230.4,5.7 229.9,5.6 229.3,5.6 228.8,5.6 228.2,5.7 227.7,5.8 227.2,5.9 226.6,6.1 226.1,6.4 225.6,6.6 225.2,6.9 224.7,7.3 224.3,7.7 224,8.1 223.9,8.1 223.8,8 223.5,7.6 223.2,7.2 222.9,6.8 222.5,6.5 222.2,6.2 221.8,5.9 221.3,5.7 220.9,5.5 220.4,5.3 220,5.2 219.5,5.1 219,5 218.5,5 218,5 217.6,5.1 217.1,5.2 216.6,5.3 216.2,5.5 215.7,5.7 215.3,5.9 214.9,6.2 214.5,6.5 214.2,6.8 213.8,7.2 213.5,7.6 213.3,8 213,8.4 213,8.5 212.8,8.3 212.5,7.9 212.2,7.6 211.8,7.2 211.4,6.9 211,6.7 210.6,6.4 210.2,6.2 209.7,6.1 209.3,5.9 208.8,5.8 208.3,5.8 207.9,5.8 207.4,5.8 206.9,5.8 206.4,5.9 206,6.1 205.5,6.2 205.1,6.4 204.7,6.7 204.3,6.9 203.9,7.2 203.6,7.6 203.2,7.9 202.9,8.3 202.7,8.7 202.5,9 202.3,8.8 202.1,8.4 201.8,8 201.5,7.7 201.1,7.3 200.7,7 200.3,6.8 199.9,6.5 199.5,6.3 199,6.2 198.5,6 198.1,5.9 197.6,5.9 197.1,5.9 196.6,5.9 196.1,5.9 195.7,6 195.2,6.2 194.8,6.3 194.3,6.5 193.9,6.8 193.5,7 193.1,7.3 192.8,7.7 192.4,8 192.1,8.4 191.9,8.8 191.6,9.2 191.4,9.7 191.4,9.9 191.2,9.5 191,8.9 190.8,8.4 190.5,7.9 190.2,7.4 189.8,7 189.5,6.5 189,6.2 188.6,5.8 188.1,5.5 187.6,5.2 187.1,5 186.5,4.8 186,4.6 185.4,4.5 184.8,4.4 184.3,4.4 183.7,4.4 183.1,4.5 182.6,4.6 182,4.8 181.5,5 180.9,5.2 180.4,5.5 180,5.8 179.5,6.2 179.1,6.5 178.7,7 178.3,7.4 178,7.9 177.9,8.1 177.7,7.7 177.4,7.2 177.1,6.7 176.7,6.2 176.3,5.8Z" fill="#33475c"/>
<path d="M454.1,57 444.7,58.7 444,60.5 445.3,69.1 450.5,72.5 451.4,72.8 453.8,72.2 455.9,70.2 457,67.5 456.7,64.6 454.9,61.8 456.3,59.5 455.9,57.6ZM432,96.1 436.1,89.2 432.6,80.6 431.4,79.5 425.5,77.3 423.6,77.6 416.4,83.1 417.4,99 418,100.3 420.4,102.4 424.4,102.2 425.5,101.7ZM453.3,37.3 453.1,38.3 456.5,42.1 457.1,39.7 456.3,37.1 455.1,35.7ZM392.1,72.8 402.8,75 404.2,73.6 407.2,64 407.2,62.8 406.6,61.8 399.5,56.2 396.9,56 395.3,57.3 390.6,71.2 391.2,72.2ZM430.2,34.4 430.8,33.1 430.9,29.3 430.4,28 426.7,24 425.6,24.1 413.2,28.2 412.3,28.9 411.9,29.9 411.1,39.6 411.3,40.8 412.3,41.6 419.9,44.4 420.9,43.9ZM431.5,58.8 432,56.8 431.5,56 427.3,51.8 421.7,48.3 420.5,48.7 419.8,49.6 415.6,60.7 415.6,61.9 416.3,63 421.2,66.9 423,67.2ZM396.3,34.8 407,42 409.1,41.4 410,40.8 410.4,39.7 411.1,28.6 406.6,24.6 396.9,26.8 396.1,28.4ZM387.1,71.3 388.3,71.5 389.3,71.1 390,70.2 394.5,57.6 394.3,55.8 390.6,53.7 378.3,59.3 377.4,60.2 377.2,61.4 378.1,66.1ZM417.6,100.8 416.3,100.2 400.7,99.9 399.6,101.6 399.4,112.7 405.4,117.6 406.8,118 410.5,117.6 415.5,115.9 419.5,104.2 419.5,103.1ZM447,7.3 446.3,9 448.3,12.4 456.2,15.4 456.1,13 454.7,10.9 451.9,9.8 449.2,10.4ZM431.6,126.6 429,143.3 430,144.7 434.5,146.3 435.7,146.3 445.5,142.8 446.5,142.1 446.9,141 447.4,130.3 446.7,128.7 434.2,124.9 432.7,125.1ZM384.4,82.9 385.6,81.6 388.1,74.5 387.9,72.7 378.9,67.6 377.7,67.3 376.6,67.8 371.6,72.7 373.8,83.9 374.3,84.9 376.4,85.4ZM408.8,153.4 409.4,155.1 411.2,155.6 412,155.2 423.4,145.6 424,143.7 423.6,142.8 414.7,139.3 412.1,139.5 411,140.1 410.4,141.2ZM404,158.6 403,159.6 398.1,169.8 398,170.6 398.6,172.6 400.1,173.8 413.5,176.2 414.7,176.1 415.6,175.3 420.7,166.7 421,165.8 420.6,164.2 419.7,163.3 409.7,157.5 407.3,157.2ZM372.1,98.7 369.5,102.8 370,104.5 379,114.1 381.3,114.7 383.1,113.7 383,104 382,102.4 373.8,97.9ZM400.7,136.5 399.5,136.5 398.4,137.1 391.9,145.1 391.5,146.7 392.1,148.2 402.2,157.4 403.2,157.9 404.3,157.8 406.6,156.8 407.8,155.2 409.6,140.6 408.4,139.4ZM395.2,25.5 396.9,26 405.1,24 406.2,23.4 406.6,22.3 407,15.5 398.5,10.1 396.7,11 390.7,20.6 391.4,22.3ZM341.8,125.3 343.7,125 344.5,123.2 343.6,114.5 342.8,113.1 340.8,112.4 328.6,114.4 326.8,118 327.1,120ZM399.7,114 397.8,113.6 387.6,117.2 386.6,118 386.3,119.1 386.4,124.4 396.5,131.6 397.6,131.9 398.7,131.7 399.4,130.8 405,119.1 404.2,117.5ZM377.6,172.9 376.9,174.7 377.2,175.6 380.2,177.4 382.5,178.1 385.2,177.7 387.6,176 390.4,178.1 394,178.4 396.7,177 398.1,174.6 398.1,173.2 397,171 386.1,167.1 384.2,167.5ZM338.3,150.7 339.9,150.1 346.9,142.7 346.8,135 346.5,134 345.7,133.2 331,134.9 329.4,136.1 330.5,149.2 332,150.1ZM383.3,155.9 382.8,157.9 385.4,166 395.6,169.6 397.4,169.3 402,160.1 402.2,158.8 401.6,157.7 391.6,149 389.8,149.5ZM369.1,173.2 370.3,173.7 374.6,173.9 375.9,173.5 383.6,167.2 384.2,166.2 384.2,165 381.6,157.1 375.1,155 367.5,160.9 366.8,162.7 368,171.5ZM332.2,68.1 333.3,69.9 339,72.5 344.7,70 345.9,68.3 345.6,66.6 336,54.2 333.7,54.4 332.4,55.5ZM356.1,28.7 357.2,27.8 360.7,21.8 361,20.6 357.9,16.3 356,15.6 344.3,18 342.9,19.1 341.8,21.4 341.6,22.8 343.4,29.3 344.1,30.4 345.2,30.8 349.6,30.9ZM339.7,7.1 339.2,8.1 339.3,9.3 342.6,16.1 343.9,17.2 355.6,15 356.6,14.4 357.2,13.3 357.6,8.8 354.5,5.4 353.4,4.8 351,5.8 348.9,8.7 346.6,5.9 343.5,4.6 342.2,4.6ZM304.7,86.5 304.3,84.5 296.2,75.8 288.6,76.2 287.3,76.8 283.6,81.3 283.8,82.4 290,96.1 291.4,97.2 293.6,97.7 295,97.5 301.5,93.9 302.4,92.8ZM325.1,157 332.1,169 334.1,169 343.1,163.4 343.2,161.6 338.9,151.7 330.9,150.7 329.6,151.1 325.8,154 325,155.1ZM376.4,60.7 375.6,59.4 370.5,55.9 363.1,59.6 362.1,61.3 362.1,67.7 362.5,68.9 363.5,69.6 369.7,71.8 371.7,71.3 377,66.3ZM323.7,152.8 325.4,153.2 326.2,152.8 329.5,150 328.6,136.6 328.1,135.5 327.1,134.9 325.9,134.9 316.5,138 315.1,139.6 314.6,144.9ZM266.5,158.2 267.1,159.8 267.9,160.3 276,162.5 281.9,158.6 282.7,157.6 282.7,156.4 279.4,146.7 272.1,144.9 268.1,147.8 267.3,149.2ZM277.7,177.1 279.3,177.7 281.2,177.7 283.1,177 284.4,175.7 285.2,175.7 287.6,177.2 289.5,177.1 291.1,176.1 292.8,177.4 290.6,173.6 278,176.7ZM248.5,152.1 247.9,154 248.8,156 257.5,163.5 258.7,164 259.9,163.6 265.5,159.8 266.6,150 266.5,149.1 265.2,147.9 256.4,145.3ZM331.8,91.7 331.3,92.7 331.5,93.9 332.4,94.7 340.7,98.9 348.7,94.7 349.7,93.2 349.2,91.5 340.5,83.3 338.5,83.9ZM251.3,172.4 250.9,173.5 251.1,174.6 252.9,176.5 254.5,177.2 256.9,177.2 258.9,176 260.2,177.3 262.1,178 264,177.2 264.4,176.2 260,166.6 258.5,165.5 256.7,166.2ZM239.4,175.7 242,175.8 243.4,177.5 245.3,178.6 248.9,178.4 247.7,176.1 240.5,174.4ZM217.9,177.1 219.4,177.9 221.3,178.1 223,177.6 224.3,176.6 221.7,174.6ZM213.4,11.4 214.1,12.9 220.7,18.6 222.5,19 230.8,12.3 231,7 230.3,6.2 227.7,6.1 225.4,7.2 223.9,8.7 222.7,7.1 221.1,5.9 219.1,5.4 217.1,5.5 215.4,6.2 214,7.5ZM200.6,21.8 198.8,21.4 197.5,22.6 192.8,33.5 193,35.3 206.7,44.1 208.8,44.2 210.8,42.7 211.2,41.9 211.9,37.3 211.7,35.9 205.8,26.2ZM253.1,113 253.8,111.9 253.9,109.3 249.8,100.7 248.1,99.5 238.8,99.3 238,100.1 232.9,110.6 237.6,117.7 238.8,118.4 243.7,119.7 245.5,119.3ZM211.8,13.6 201.9,19.7 201.7,21.6 206,25.1 218.8,22 220.3,20.5 219.6,18.5 214.1,13.8 213,13.3ZM303.3,34.1 303.2,32.2 302.6,31.6 296.7,27.6 295.5,27.3 294.3,27.8 291.5,30.5 291.5,32.2 297.2,42 299.3,42 300,41.1ZM229.7,89 215.9,96.3 215.7,98.3 220.8,108.9 222.6,110.1 231.8,110 237.5,99.8 237.7,98.7 231.3,89.8ZM194.4,107.4 199.9,104.3 200.1,103.2 199.7,102.1 191.6,91.8 189.8,91 186.4,91.6 184.6,96.3 191.9,106.7 193.5,107.5ZM265.5,33.3 265.3,35.1 265.9,35.9 274.3,42.9 276.2,42.4 281.2,37.6 282.4,33.3 275.5,22.7 273.8,21.8 272.1,22.7ZM172.1,177.7 172.8,178.4 174.7,178.6 176.8,177.7 178.4,176.2 179.4,176.8 180.5,176.8 185.7,174.9 187.3,166.8 186.8,165.2 177.6,161.1 176.5,160.9 175.5,161.4 171.4,175.3ZM180.8,88.5 182,88.2 182.7,87.3 182.9,86.1 181.2,75.9 180.6,74.9 179.6,74.3 171.5,72.6 169.8,73.1 165.6,83.8 165.9,85.8 167.3,87.4 168.7,88.2ZM160.1,118.7 159,120.2 159.5,121.9 166.6,129.7 167.7,130.3 168.9,130.2 176.2,127.1 177.2,126.3 177.5,125.1 176.5,117.9 171.2,114.3 169.3,114.2ZM149.5,150.5 149.6,152.3 150.3,153 152.1,153.2 154.8,150.3 155.2,149.3 154.7,147.9 156,147.3 156.5,146.5 157.4,142.6 156.4,141.2 153.9,139.8 152.1,139.7 151,141.1 151.2,144.3 153,147.1 151.1,148.2ZM204.5,129.3 204,120.1 203.1,119.4 202,119.3 194.3,120.7 192.7,122 192.6,123.3 193.3,124.4 201.2,130.9 202.2,131.3 203.3,131.1 204.2,130.4ZM159.4,176.4 161.1,178.1 162.6,178.7 166.4,178.4 167.2,177.5 167.3,176.5 166.9,175.4 166,174.8 160.5,173.1 159,174.5ZM369,27.7 367.1,27.4 365.9,28.9 363.7,40.2 365.1,41.5 370,42.5 376.5,36.4 377.1,34.5 376.3,33ZM211.1,33.7 212.6,34.6 214.2,34 221.8,26.2 222.3,24.4 221.7,23 219.7,22.4 208.2,25.6 207.7,26.4 207.8,28.2ZM151.3,121.2 151.5,123.2 153.4,124 156.7,121.6 157.4,120.7 157.4,119.5 156.8,118.6 155.8,118.1 154,118.2 152.5,119.4ZM180.9,100.7 180.7,102.8 184.5,111.1 186.1,112.2 188.6,112.3 189.4,111.8 191.3,109.7 191.7,108 185.5,99 183.9,98.2 183,98.4Z" fill="#5f97c4"/>
<path d="M424.5,75.2 425.7,76.7 432.4,78.9 443.6,70 444.3,68.2 442.8,58.5 441.2,57.7 434.3,57.7 432.9,58.3 423.2,68.7ZM432.9,56.4 434.3,57 440.3,57 442,56.1 443,45.8 442.1,44 439.8,42.4 438,42.1 437.2,42.6 429,51.1 429.5,53.1ZM442.9,55.6 443.2,56.7 444,57.5 445.2,57.7 452,56.6 453.5,55.5 453.4,53.6 455.8,51.3 456.6,48.2 456.1,46 454.7,44 455.3,42.1 453,39.5 451.2,39.7 443.9,44.8ZM415.2,63 413.9,62.5 408.5,63.2 407.8,64.2 404.4,75.7 407,80.2 415.7,82.2 423,77.2 423.7,76.3 423.8,75.1 422.5,69.4 421.8,68.2ZM402.8,75.9 390.2,73.2 388.8,74.5 386.3,82.6 394.6,90.8 396.6,91.3 405.3,81.7 405.8,80.6 405.6,79.4 404.1,76.8ZM397.8,55.2 399.3,54.3 405.8,43.4 404.9,41.6 396.8,36.3 395.7,36 388.8,40.2 388.1,41.1 388,42.3 390.6,52.3 394.9,55.2ZM432.3,124.6 433.3,123.2 435.4,112.9 425.7,103.4 424.1,102.9 420.7,103.5 416.6,115.2 417,117.1 421.5,121.8 430.7,124.7ZM370.9,73.9 369.6,72.4 361.9,70.1 358.1,73.1 357.4,74.7 357.9,81.7 359.7,86.6 370.3,88.9 372.2,88.2 373.5,86.4 373.5,85.5ZM399.7,6.9 399.2,8 399.3,9.1 400.1,10 407.7,14.5 415.1,10.4 415.9,9.4 415.9,7.3 414.7,5.9 412.8,6.1 410.6,8.3 408.5,6.1 405.6,4.9 402.4,5.2ZM452.4,160.9 453.9,160 454.2,158.3 449.8,145.2 448.9,144.1 447.1,143.2 446.2,143.3 436.4,147 436,148.9 439.6,160.9 441.2,161.6ZM454.6,146 452.7,145.7 451.4,147.2 452.4,150.8 453.9,152.2 455.8,151.5 456.3,150.3 456,147.9ZM398.5,134.2 397.7,133.2 387.1,126 385.9,125.7 384.7,126.1 376.3,133.2 375.6,134.9 376.5,136.4 390.5,144.4 392.2,143.7 398.2,136.4 398.6,135.5ZM311.8,100 312.9,100.3 314,100 314.8,99.1 319.7,87.3 319.8,86.1 319.2,85.1 318.2,84.6 311.3,83.2 310,83.4 306.5,85.2 305.5,86.3 303.2,93 304,94.5ZM436.1,175.6 435.4,177.4 437.2,178.7 443,178.7 444,178ZM319.9,84.2 321.2,84.1 322.1,83.2 327.4,73.2 327.6,72 327.1,70.9 326.1,70.3 315,67.7 313.6,69.2 311.4,81.6 312.9,82.9ZM363.1,41.7 361.8,41.8 357.2,44 351.1,49.4 350.4,51 351.5,53.6 352.3,54.4 361.7,59.3 369.3,55.5 370.3,53.8 370.6,47.3 369.6,43.7ZM326,36.3 326.7,38 328.5,38.4 341,35 342.9,31.7 343,30.3 340.8,23.2 339.2,22.5 328.2,23.6 327.2,25.1ZM295.6,53.4 295.8,55.3 301.2,62.5 302.6,63.2 310.7,64.1 311.9,63.8 312.7,62.9 315.6,55.5 312,49.3 310.4,48.3 299.2,48.1 298,48.4ZM360.8,69.9 361.5,68.3 361.1,60.3 353.7,55.9 352.6,55.7 351.6,56.1 346.8,67.5 346.7,68.8 347.2,69.7 356.9,72.9ZM292.8,165.6 294.6,166.6 305.5,166.3 306.6,165.9 307.4,165 308,161.7 303.7,151.1 300.9,149.8 299.7,149.7 298.7,150.3 290.6,158.5 290.1,159.7 290.3,160.9ZM354.3,4.2 358.2,8.1 360.6,6.2 357.8,4.4ZM296,97.7 295.2,98.6 295,99.8 298.1,115.1 299.6,115.9 307.7,116 314.3,104.7 314.5,103.5 314,102.4 302.4,94.5ZM289.6,5 288.9,5.8 289.1,7.9 292.8,12.1 294.7,12 297.6,7.1 297.8,6 297.4,5 296.1,4.1 293.7,3.8ZM273.1,19.5 274.1,20.2 275.3,20.1 290.4,14.8 291.2,14.3 291.7,12.6 289.1,8.9 287.6,8.1 286.6,8.3 285.2,5.9 283.2,4.1 279.6,3 276,3.6 274.4,4.5 271.2,8.5 270.8,10 271.5,16.9ZM285.8,141.9 280.6,146.4 280.6,147.6 283.5,156.6 284.8,158 287.9,158.8 289.9,158.3 298.1,149.9 298.7,148.8 298.5,147.6 296.5,144.1 287.5,141.6ZM226.6,135.7 226.4,134.4 224.6,131.7 220.9,129.8 206.3,135.8 205.3,136.8 204.7,138.8 211.6,148.1 213.1,148.9 224.8,143.9ZM238.8,165.8 238.3,166.8 238.4,167.9 240.8,173.5 247.7,175.1 256.1,165.9 256.5,163.9 249.4,157.4 247.5,157ZM251.6,21.9 250.8,20.8 248.8,19.5 241.9,21.1 235.8,31.8 235.7,33.6 236.3,34.3 242.8,39.8 244.1,40.3 251.6,40.1 254.3,36.9 254.7,35.2ZM212,67.7 213.8,68.7 219.9,68.3 221.5,67.4 224.4,51.1 224.1,49.7 222.3,47 221.2,46.2 211.4,43.6 208.6,45 207.7,46 204.6,54.8ZM239.3,64.9 240.4,64.4 240.9,63.4 240.8,62.2 236.4,52.4 227.1,50.9 225.3,51.6 222.7,65 223.3,66.7 225,67.3ZM275.3,113.2 267.5,125 268.2,126.7 270.1,128.4 271.5,128.9 283.8,128.4 285.2,127.7 289.1,122.9 288.4,120.9 277.2,112.4ZM187,173.4 187.1,174.5 187.8,175.3 189.4,175.7 191.6,177.4 193.9,177.7 195.9,176.9 196.4,175.2 194.8,164.9 193.7,163.4 191.9,163.4 188.4,165.5ZM171.3,64.4 169.3,70.3 169.9,71.3 170.9,71.8 180.3,73.8 181.9,73.4 187.7,68.8 188.4,58.3 182.2,52.7 180.8,52.3 179.8,52.5ZM215.4,117.7 206,118.2 205,120 205.2,132.6 206.1,134.2 207.9,134.4 219.6,129.2 220,127.3 217.3,119.1 216.6,118ZM204.7,135 204.1,134.1 192.3,124.7 190.5,125.3 185.3,130.8 187.7,139.3 192.1,141.7 193.6,141.8 202.9,138.9 204.2,137.8ZM151.2,40.1 153.7,34.7 153.1,34.2 151.4,36.9ZM163.2,18.7 161.9,19 161.1,19.9 155.7,32.1 155.5,33.2 156,34.3 157,34.9 167.8,37.3 174.3,30.5 174.7,28.5 171.7,20.2ZM180.2,51.6 181.9,50.4 187.2,37.3 186.3,35.8 181.3,32.6 176.9,30.7 175.7,30.5 174.6,31.2 169.2,37.2 168.8,39.2 171.5,47 172.5,48.2 179.1,51.4ZM190.2,90.3 191.4,89.8 201,81.1 201.6,80.1 201.5,78.9 200.8,78 189.4,70.3 188.3,69.9 187.1,70.3 182.6,73.7 181.8,75.6 183.9,88 184.5,89.2 186.2,90.5ZM223.8,25.8 233.3,32.5 234.4,32.3 235.2,31.5 240.6,21.3 239.8,19.7 232.6,13.9 230.9,13.6 223,19.7 222.3,21.2 223,24.6ZM151.5,70.3 152.4,70.8 154.4,70.3 157.6,66.3 155.6,60.8 154.8,59.9 153.6,59.6 152.5,60 151,61.6 150,63.6 149.9,67.2ZM151.7,162.5 151.9,162.4 151.8,162.3ZM149.6,156.3 150,157.1 150.3,157.5 150,156.5ZM149.2,75.2 149,79 150.7,82.2 149.8,75.6ZM149.5,12.5 150,14.4 150.8,15 159,17.6 160.8,17.3 161.6,15.6 160.8,5.8 159.1,4.8 155.7,5.7 150.9,10ZM151.7,46.8 151.4,48.7 151.7,50.7 152.9,52.3 154.3,53.4 152.8,54.9 152.1,57.3 153.9,56.6 154.9,53.5ZM452.9,80.7 453.4,81.7 454.4,82.3 455.5,82.2 456.6,81.3 457.6,79.3 457.9,77.3 457.6,75.1 456.9,73.6 455.4,72.6 453.3,73.1 452,74.4ZM268.3,139.5 270,139.1 270.8,137.4 270.3,130.2 269.6,128.9 268.3,127.7 267.2,127.2 265.9,127.5 256.9,133.5 256.7,135.1 257.2,136.2 258.2,136.9ZM321.7,158.3 320.8,159.8 319.6,173.2 320.4,174 321.5,174.3 329.4,174 330.6,173.6 331.6,171.3 331.5,169.8 325.2,158.6 323.5,157.5ZM328.1,121.4 326.1,121.8 325.5,123.7 327.6,132.8 328.8,134.3 344.3,132.5 345.3,132 346,131 345.2,128 344,126.7ZM261.8,104.5 261.9,106.5 263.7,107.5 274.3,106.8 275.4,106.4 276.1,105.5 276.7,103 270.1,94.8 268.3,94.1 266.8,95.2ZM148.3,26.8 148.7,29 150.4,31.4 152.4,32.8 154.4,32.6 159.9,20.9 160.1,19.8 159.6,18.8 153.8,16.6 152,17 151.4,17.8 151.5,19.6 149.2,22.4ZM185.7,15.6 179.7,13.4 178.7,13.9 172.9,19.8 175.9,29.3 180.3,31.1 181.9,29.9 186.9,17.1ZM151.2,158.1 152,159.2 154,160.2 153.4,161.8 153.7,162.7 155.9,163.9 166,158.8 167.1,157.1 166.1,155.3 156.7,150.3 155,151.1 151.3,155.5 150.9,156.4ZM415.7,117.1 411.4,118.2 410.8,119.8 411.7,134 412,135 413.9,135.9 415.5,134.6 420.1,122.1 416.6,117.7Z" fill="#639bc7"/>
<path d="M443.5,26.7 441.4,26.1 433,28.3 432,29 431.5,30.2 431.5,33 432.1,34.5 438.5,40.6 443.4,43.7 444.5,43.3 451.2,39 451.9,38.1 452.1,37ZM399,98.4 400.3,99 415.7,99.2 416.4,98.4 416.6,97.4 415.6,84.5 415.2,83.4 414.1,82.7 408,81.3 406,81.9 396.6,92.9 396.7,95.5ZM448.4,108.8 451.5,115.4 453.4,115.7 456.2,114.6 458.3,112.7 459.3,110.6 459.7,108.3 459.3,105.8 458.5,104.7 457.3,104.4 451.8,104.6 450.2,105.5ZM446.7,127.8 448.5,127.4 452.8,123.7 453.5,122.1 448.3,110.7 446.8,109.6 436.6,113.1 434.2,122.3 434.8,124.1 435.6,124.6ZM410.2,120.4 409,118.7 408,118.6 406.3,119 405.6,119.7 399.2,132.7 399.1,134.2 400.4,135.7 409.5,138.8 411,137.6 411.2,136.7ZM456.1,126.8 453.8,124.8 452,125.2 448.3,128.7 447.5,141.3 447.7,142.3 449.2,143.5 450.7,143.8 456.4,142.6 457.2,142.2 458.1,140.7 458.4,138.7 458.1,136.7 457.1,134.9 455.4,133.4 456.7,131 456.8,128.5ZM438.8,162 434.6,147.3 431.9,146.3 430.2,146.6 429.6,147.2 421.4,162.6 421.3,164.3 422,165.4 433.1,168.7 434.3,168.6 435.3,167.8ZM374.3,135.9 372.5,135.8 371.8,136.3 370.4,141.2 370.5,142.4 375.3,153.9 381.9,155.9 390.2,148.2 390.8,146.5 390.5,145.7ZM451.5,178.4 453.4,177.7 455,176.6 456.7,173.3 455.6,172.7ZM363.3,129.1 348.2,132.6 347.5,134.2 347.9,142.7 355.8,149.2 356.9,149.6 358.1,149.3 368.9,142.1 369.8,140.9 370.7,135.7ZM421,167.5 416.3,176.1 416.6,177.2 417.6,177.9 419.3,178.2 421.7,177.4 423.4,175.7 426.3,176.8 428,176.6 429.6,175.7 431.7,176.7 433.9,176.8 434.8,176.3 435.4,174.4 434.2,170 423.2,166.6 422,166.7ZM308.1,160.3 309.6,161.5 310.6,161.5 320.2,158.3 323.8,156 324,154.2 315,146.4 313.9,146 312.7,146.2 306,150 305,151.5ZM343.1,112.5 344.8,112.8 356.8,109 357.3,108 357.2,106.9 351.7,95.1 350.6,94.7 349.5,95 341.4,100 341.9,110.8ZM376.5,37.3 370.8,43.3 371,45.5 371.5,46.5 372.5,47.1 386.2,50.3 387.2,50.3 388.6,48.9 386.8,41.2 378.8,37 377.6,36.8ZM368.8,177.3 371.6,175.7 374.2,177.6 377.2,177.5 375.3,174.6 369.7,174.3ZM332.1,175.9 333.3,177 334.8,177.3 336.6,177 338.2,176.1 340.8,178.2 344.2,178.6 346.7,177.7 348.7,175.7 350.7,175.7 351.5,175.3 352.3,173.6 347.9,164.8 344.4,163.8 333.2,170.3 332.3,171.5 331.6,173.6ZM365.3,24.6 363.1,22.4 361.3,22.6 357.6,28.8 360.1,35.2 361.6,36.4 362.6,36.3 363.9,34.8 365.7,26.4ZM309.4,83 310.5,81.6 313.3,67.6 313,66.1 311.2,64.8 303.2,64 302,64.2 301.1,65.2 297.2,75.1 304.6,83.8 305.7,84.4 307,84.2ZM347.1,163.7 348.9,163.3 356.2,157.1 356.9,155.5 356.4,150.7 348,144.1 346.2,144.6 340.1,151.3 344.2,162.1 344.7,162.9ZM323.6,25 312,30 311.6,31.9 316.8,37 318.2,37.5 323.5,37.3 325.1,36.5 326.4,27 325.6,25.2ZM289.8,121.2 291.5,121.6 293,120.9 297.2,116 294.4,99.8 293.8,98.8 290.9,97.8 289.6,97.9 278.4,102.8 277.4,103.9 276.2,107.6 276.6,110 277.3,111.3ZM277.4,162.5 276.6,164.4 278.2,174.8 279.1,175.4 280.2,175.5 290.3,172.7 292.6,167 288.8,160 283.6,158.5ZM273.4,80 274.8,80.6 282.6,80.6 287,75.8 282,59.8 280.6,58.5 278.8,58.4 277.9,59 267.5,71 267,72.1 267.6,73.6ZM252.9,58.9 243.3,64.7 243.1,66.4 245.9,75.8 246.9,77 251.5,79.5 253.3,79.5 265,73.6 265.8,72.7 266.1,71.5 265.6,70.4 254.7,58.7ZM263.6,5.1 270.3,8.7 271.4,7.2 269.7,5.7 267.6,4.9ZM252.9,39.8 252.6,41.8 256.1,50.6 256.9,51.6 258.1,51.9 272.2,51 273.8,50.1 274.3,44.3 264,35.4 256.2,36.4 255,37.2ZM255.7,6.3 253.7,6.5 250.8,8.6 250,10.1 249.5,18.7 251.8,20.5 257.5,19.3 258.9,18.1 258,8.6 257.2,7.2ZM275.6,111.5 276,110.1 275.4,108.3 273.7,107.5 259.4,108.5 255.9,109.7 255.1,110.3 254.6,111.5 255.2,113.4 266.3,123.2 267.4,123 268.3,122.3ZM265.4,127.1 266.3,125.6 265.7,123.9 254.4,113.9 252.6,114.3 245.4,120.6 247.2,128.5 255.3,132.4 257.2,132.2ZM208.6,175.6 210.5,175.9 212.5,177.3 214.2,177.5 218.6,175.9 220.7,174.5 221.6,173.2 222.8,166.4 222.7,165.2 221.9,164.3 211.2,158.7 206,162.1 205.2,164 206.6,173.4ZM204.8,140.4 203.8,139.7 202.6,139.7 194.5,142.2 193.5,142.9 193.4,145.2 208.2,156.2 210.1,156.5 211.3,154.9 211.9,149.8ZM204.5,175.7 206.5,177.1 209.1,176.9 206.4,174.7ZM213.4,43.3 221.9,45.4 222.8,44.8 232,34.1 231.2,32.1 223.4,26.7 221.7,27.3 213.1,36.2 212,41.1 212.6,42.8ZM256.4,143.1 256.8,144.2 257.8,144.8 267,147.5 270.7,144.9 271.4,143 270.8,141.1 269.8,140.6 259,137.8 257.9,137.8 256.9,138.5 256.5,139.5ZM213.7,149.5 212.5,151.1 211.8,156.4 212,157.5 212.8,158.4 223.5,164.2 227.4,162.5 230.3,151 226.2,145.8 225.1,145.1 223.9,145.2ZM180.4,7.1 179.7,8.7 180.2,12.2 186.8,15.3 188.8,15 190.8,10.8 190.8,9.1 189.2,6.7 186.5,5.1 183.8,4.7 182.6,5.2ZM224.4,68.1 223,69.1 222.9,70.9 229.6,85.2 230.3,86.1 231.4,86.4 232.5,86 244.4,77.5 245.1,76.5 245.1,75.3 242.5,66.8 241.2,65.5ZM202.4,9.7 200.6,9.8 199.7,11.5 199.9,17.5 201.7,18.5 211.8,12.8 212.8,11.2 212.8,9.7 212.3,8.2 210.5,6.8 208.7,6.2 205.2,6.8ZM180.1,177.6 182.2,178.5 184,178.6 185.8,178.1 187.6,177 186.2,175.7ZM177.2,156.4 175.9,157.7 176.3,159.5 187,164.4 188.7,164.3 193.3,162 194.3,160.6 192.9,153.7 191.4,152.2ZM178.8,127.6 177,127.5 168.7,130.9 167.5,132.4 166.3,139.5 172.8,146 173.9,146.5 175.2,146.2 185.5,140.3 186.5,138.9 184.5,131.6 183.6,130.5ZM158.7,142.3 156.8,148.6 157.8,150 169.4,156.4 170.8,156.6 172.5,155.8 173,154.6 173.3,147.6 165.5,140.4ZM179.4,7.1 181.4,5.3 179.7,6.4ZM264.6,177.7 265.4,177.3 266,176.8 265.3,176.7ZM266.6,176.9 269.8,178.2 272.8,177.7ZM153.2,95.3 151.9,96.5 151.7,97.4 151.9,101.2 152.2,102.3 153.2,103 154.3,103.1 165.2,100.4 166.3,99.8 166.7,98.6 167.3,89.4 166.8,88 165.3,86.1 163.7,85.4 152.4,86.1 151.4,87.8 151.6,93.2 151.8,94ZM151.1,97.3 150.1,99.8 150.4,103 151.3,102.8ZM150.7,86.4 149.9,89.5 150.9,93.1ZM386.5,54.7 387.7,53.2 387,51.4 386.1,50.9 373.6,48 372.4,48.1 371.5,48.8 371.1,49.9 371.2,54.9 376.7,59ZM456.2,161.9 455.8,172.1 456.8,172.6 458.1,170.3 458.6,168 458.1,164.5ZM344.2,80.6 342.4,81.2 342,83.1 351.2,92.2 353,91.9 358.5,86.9 358.4,85.7 357.1,82.6ZM196.2,148.3 194.1,148.1 193,149.9 195,159.7 195.6,160.7 196.7,161.2 203.8,162.2 205.3,161.8 207.8,160 208.6,158.4 207.7,156.8ZM443.4,177.1 444.6,177.1 445.6,176.4 448,178 450.4,178.3 453.7,174.2 453.8,172.2 452.1,171.1 437.8,170.5 436.7,170.8 435.9,171.7 435.8,172.9 436.5,174.8ZM351.2,33.7 357.1,42.3 359,42.4 360.9,41.2 361.2,40.3 357.5,30.9 356,29.7 352.2,30.7 351.3,31.4 350.9,32.5ZM190,14.5 190.2,16.4 190.9,17.1 196,19.8 198,19.7 199,18 198.8,7.2 198,6.4 196.7,6.2 193.4,7.5 192.4,8.7ZM421.6,44.2 421,45.2 421.1,46.3 421.8,47.2 426.2,50.3 428,50.5 436.5,42.4 437,40.5 432.5,35.8 430.6,35.3Z" fill="#5c94c1"/>
<path d="M434.1,78.7 433.4,79.8 433.5,81 436.6,88 438,89.2 448.5,90.8 453,87.1 450.8,73.7 446.1,70.6 444.9,70.3 443.7,70.7ZM415,60.6 420,46.6 418.8,45.1 411.3,41.9 409.8,41.9 407.8,42.6 406.8,43.4 400.3,53.8 400.2,55.6 407.5,61.7 408.9,62.2 414.3,61.5ZM372.6,88.8 372.1,90.5 373.5,96.4 382.4,101.8 384.2,101.9 394.9,96.8 395.8,96 395.9,93.6 395.2,92.4 385.4,83.5 374.8,86.6ZM430.6,27.1 431.5,27.7 432.6,27.8 442.3,25 447.3,13.6 447.2,11.8 445.6,9.6 433.5,9.3 427.4,15.1 426.8,16.6 427.2,22.5ZM407.2,22.8 407.9,24.5 411.8,27.7 425.1,23.5 426.4,22.3 426.5,21.5 425.8,15.9 417.7,10.8 415.7,10.8 408.2,15.5ZM385.6,8.1 383.2,5.9 381.3,6.6 378.9,9.4 378.5,10.8 378.5,13.1 379,14.3 384.6,20.7 389.3,20.7 396.9,9.5 397,7.6 394.6,6 391.1,5.9 388.2,7.6 386.5,10.2ZM383.3,22.5 383.5,21.3 383.1,20.2 379.1,15.5 378,14.8 376.8,14.9 365.4,19.8 364.3,21.1 364.7,22.9 366.7,25.2 376.5,32 377.6,31.7 378.4,31ZM366.1,118.9 365.1,119.5 364.7,120.6 364,128.2 371.6,134.9 373.8,134.4 385.3,124.5 385.6,118.4 385.1,117 383.6,115.6 379.2,115.4ZM429.5,125 421.8,122.9 420.3,124.1 415.3,137.8 416.6,139.3 427,142.6 428,142 428.5,141 430.8,126.3ZM384.8,102.4 383.9,103.1 383.7,104.2 384.1,114.3 385.2,116.1 386.2,116.7 387.3,116.6 397.3,113.1 398.2,112.4 398.6,111.3 399,100.3 398.9,99.5 397.4,97.8 396.4,97.2 395.2,97.4ZM366.1,162.7 365.1,161.2 358.6,157.7 357.4,157.4 356.3,157.9 349.8,163.4 349.1,165 352.4,172.1 353.2,172.9 354.4,173.2 365.3,172.3 366.3,171.9 367.1,170ZM356.8,75.2 356.4,74.1 355.4,73.4 346.6,70.4 345.1,70.5 340.7,72.7 339.8,73.6 339.6,74.8 340.1,77.9 340.7,79 341.8,79.6 354.8,81.3 355.9,81.1 356.8,80.3ZM336.1,53.2 345.4,50.3 346.4,49.7 346.8,48.7 341.9,37.4 340.5,36.2 329.6,38.8 328.2,40.1 330,51.9 330.7,53.1 332,53.9ZM365.1,173 363.5,174 363.4,175.8 365,177.2 367.2,177.4 368,176.9 368.7,175.4 368.3,173.6 367.6,173ZM299.1,44.6 299.2,46.5 300.9,47.4 311.3,47.4 316.1,39.3 316.2,37.6 309.7,31.7 305.6,32.4 304.2,33.6ZM362.4,9.2 361,7.8 359.1,8.2 358.4,9.5 357.7,14.1 358.2,15.6 361.2,19.3 362.3,20 363.5,19.9 376.6,14.2 377.5,13.5 377.8,12.3 377.6,10.2 376.9,9.5 374.8,8 373.1,7.8 371.6,6.5 369.8,5.7 367.7,5.7 365.9,6.2 363.8,7.9 362.7,10.3ZM348.1,31.6 344,31.7 343.2,32.6 342.2,34.6 342.1,36.3 347.7,48.2 348.2,48.9 350,49.3 355.6,44.6 356.2,42.9 349.6,32.5ZM295.8,11.8 295.7,13.7 297.2,14.8 300.1,15.1 301.4,14.8 302.5,15.5 310.8,16.6 313.1,15.6 313.9,13.8 313.1,8 311.1,6.1 308.6,5.2 306.1,5.5 303.8,6.9 302.5,8.9 301.8,11.7 301.1,8.9 300.5,8 299.4,7.6 298.3,7.9 297.5,8.7ZM299.4,148 300.5,148.9 304,150.1 312.8,145.4 313.8,144 314.5,139.3 314,137.6 309.9,133.6 301.6,134.7 297.4,143.6ZM327.5,114.7 327.4,113 322.7,104.6 316.8,103.9 315.7,104.1 314.9,104.9 309.2,115.3 308.9,116.5 309.5,117.7 313,121 323.5,121 325.1,120.2ZM335.2,7.7 332.7,6.8 331.6,6.8 330.6,7.5 324.2,15.6 323.8,16.8 324.1,18 327.4,22.5 339.7,21.8 341.4,20.7 342.3,18.8 342.3,17 338.6,9.3 337.9,8.5 335.9,8.4ZM272.1,142.8 272.6,143.8 273.6,144.3 279.7,145.6 285.2,141.5 286,139.7 284.4,129.9 282.7,129.1 272,129.8 271,131.6ZM264.9,175.1 266.5,176.2 273,177.1 273.9,177 276.3,175.3 277.1,173.5 275.5,163.6 274.5,163 266,160.6 260.6,164.3 260.5,166.1ZM289.8,30.6 294.9,26.2 294.4,16.8 293.9,15.7 292.9,15 291.7,15.1 277.5,20 276.6,20.8 276.2,21.9 276.5,23 282.2,31.5 283.2,32.3 284.5,32.3ZM276.5,101.4 277.6,102 278.9,101.9 287.9,97.9 289.1,96.3 283.1,82.6 282.4,81.8 281.4,81.4 275.4,81.3 274.2,81.6 273.5,82.6 269.9,91.9 270.2,93.9ZM241.1,138.6 240.2,137.1 239.4,136.9 228.2,135.7 227,137.2 225.9,144.1 231.2,150.3 240.5,149.6 241.5,149.2 242.3,147.3ZM244.6,41 242.9,42 237.4,51.9 241.5,62.2 242.2,63 243.3,63.4 253.5,57.7 254.4,56.7 255.8,53 255.8,51.6 252.1,42.3 251.4,41.3ZM256.1,91.2 268,92.8 269.3,91.6 273,81 267.6,74.6 266.4,74 265.2,74.2 254.1,79.9 253.2,80.8 253,82.1 254.5,89.6 255,90.6ZM243.4,150.4 242.1,150.1 232.6,151.1 231.5,151.5 230.8,152.5 228.7,161 229.1,162.8 236.2,165.8 237.4,165.9 238.4,165.3 247.3,155.5 247.2,153.7 246.4,152.5ZM232.5,86.9 231.7,88.7 232.1,89.7 238.1,97.6 239.5,98.4 249.1,98.7 253.7,91.8 254,90.4 251.9,80.7 247,77.8 246,77.6 244.9,78ZM245.9,129.5 246.2,127.9 244.2,120.8 238.1,119.2 226.8,130.8 226.3,131.8 226.8,133.7 228.3,134.8 239.8,136.2 241.7,135.4ZM248,7.4 249.7,8.6 253.6,5.7 250.5,6ZM206.7,46.8 206.6,45.1 205.9,44.4 192.6,36.1 190.8,35.9 189.2,36.5 188,37.6 182.7,50.4 182.6,51.7 183.2,52.7 188.3,57.1 190,57.5 203.6,54.4ZM190.2,17.4 188.1,17.6 187.4,18.4 182.2,31.4 183.2,33 188.2,35.9 190.7,35.2 191.8,34.1 196.8,21.9 195.7,20.4ZM225.1,85.8 227,85.8 228.1,84.2 227.9,83.2 221.8,70.1 221,69.2 219.9,68.9 212.7,69.6 208.8,74.2 208.4,75.3 208.6,76.4 209.4,77.2ZM202.9,103.4 201.7,104.8 201.8,105.8 205.1,115.9 205.8,116.9 207.1,117.3 215.8,117 217.5,116 220.5,110.4 214.9,98.7 212.9,98.5ZM164.4,7.8 162.7,8.1 161.9,9.8 162.3,16.3 163.1,17.9 164,18.2 172,19 179,12.4 178.8,9.5 176,5.9 173.1,4.2 170.4,3.9 168.2,4.4 166.1,5.6ZM172.4,61.7 178,53 177.8,51.9 176.9,51.1 171.4,48.6 164.3,51.4 163.4,52.2 163.1,53.4 163.5,54.5 169.2,61.8 170.8,62.5ZM152.3,168.9 150.9,171.5 151,174.2 152.6,176.5 153.6,177 154.7,176.9 155.6,176.1 158.2,171.8 155.8,165.4 155,164.4 153,163.6 151.9,163.9 151,165.8ZM150.7,75.6 151.7,83 153.7,84.8 154.8,85.1 164.3,84.3 165,83.4 169,72.8 168.8,71.1 167.7,70.1 159.8,67.3 158.6,67.2 157.6,67.8ZM184.1,89.7 182.8,89.2 168.9,89.1 167.9,90.7 167.5,100.1 170.8,102.9 178.9,101.5 180.1,100.7 183.4,96.4 185.1,92.4 185.2,91.2ZM152.3,135.4 153.4,138.3 154.2,139.2 158.3,141.3 164.2,139.8 165.6,138.3 166.9,131.2 158.6,122.2 156.6,122.5 152.5,126.4 152.5,127.6 154.3,129.2 154.3,129.8 152.6,131.7 152.1,133.3ZM193.3,108.6 190.2,111.9 189.7,113 192.4,118.9 193.3,119.8 194.5,120 203.8,117.9 204.4,117 204.4,115.9 200.9,106.2 199.9,105.8 198.8,106ZM445.8,106.9 446.8,107.4 448,107.2 449.8,104.9 450.1,103.5 448.5,93.1 448,92 446.9,91.4 438.3,89.9 437.1,90 433.9,94.6 433.7,96.4ZM349.7,51.4 348.2,50.4 347.3,50.4 339.5,52.9 338.2,54.1 338.5,56 345.1,64.4 346.1,64.5 347.7,63.3 350.8,55.2 350.8,53.6ZM205.5,80.5 215.1,94.7 216.9,94.7 225.4,90.3 226.5,88.5 226.2,87.5 208.4,77.4 206.6,77.3 205.6,78.2 205.2,79.3ZM166.6,69.1 168.6,68.7 169.2,67.9 170.1,65.6 169.8,63.6 161.2,53 155.7,54 154.8,56.1 154.9,57.5 158.8,66ZM173.7,153.9 174.5,155.6 176.3,156 190.9,151.3 191.9,150.6 192.3,149.5 192.1,142.8 187.3,140.3 175.1,147 174.1,148.7ZM311,26.2 311.8,28 313.7,28.3 324.4,23.9 325.3,23.2 325.6,22.1 325.3,21 322.6,17.2 314.5,15.6 312.2,17.3Z" fill="#679ec9"/>
<path d="M435.3,111.5 437.3,111.9 443.5,109.8 444.8,108.2 444.7,107.2 433.8,97.6 432.1,97.2 427.3,101 426.7,101.9 426.7,103ZM451.7,103.7 454.8,103.5 455.5,102.6 456.5,98.9 456,96.2 454.3,94 456.2,92.3 457.1,90.2 456.3,88.3 454.6,87.8 453.2,88.2 449.9,90.8 449.1,92.7 450.6,102.2ZM444.4,22.2 444.6,24.2 446.4,25 455.6,24.1 457.2,22.9 457.4,21.9 456.5,19.6 454.7,18 455,16.9 454.6,15.8 453.7,15.2 449.1,13.6 447.5,14.8ZM424.7,11.4 425.2,13.4 426.1,14 428,13.5 432.1,9.5 432.7,7.6 432.2,6.6 430.5,5.9 427.7,6.8 425.8,8.8ZM419.1,5 417.1,5.5 416.6,6.3 417.2,9.5 421.4,12.2 423.3,12.3 424.4,10.8 423.7,8.5 421.6,6.3ZM378.2,4.8 376.1,5.4 375.7,6.4 375.8,7.5 376.5,8.4 378.4,8.6 379.7,7.1 379.6,6.1ZM360.3,87.7 358.6,88.1 353.2,92.6 352.5,93.7 352.6,94.9 358.4,108.1 359.5,109.2 360.8,109.4 368.3,103 372.2,97.4 372.5,95.9 371,90 370,89.5ZM433,6.2 433.6,8.5 436.2,8.5 434.8,7.1ZM437.1,8.5 445.8,8.7 446.4,6.9 444.3,6 441.5,5.9 439,6.8ZM436.7,166.7 436.6,168.7 438.3,169.8 453.1,170.4 454.8,169.5 455.5,163.6 455.2,162.6 454.4,161.8 453.3,161.5 440.5,162.3 439,163.2ZM359.1,109.7 357.8,109.7 345.8,113.3 344.5,114.5 345.5,126.5 346.8,130.2 348.1,131.5 361.8,128.5 362.8,127.9 363.3,126.8 364,118.5 361,111.1ZM329.8,113.3 340.4,111.5 341.2,109.7 340.1,100 332.2,95.4 330.3,95.3 324.2,103.1 323.8,104.1 327.7,112.2 328.6,113.1ZM323.2,85.7 329.7,91.4 331.7,90.8 339.1,82.1 339.6,81 338.5,73.5 331.9,70.1 330,70.7 329,71.6 322.5,84.2ZM377.7,34.5 378.8,36.2 386.2,39.9 388.2,39.8 395.1,34.9 395.3,26.8 390.1,22.1 388.8,21.6 384.7,21.8 378,33ZM310.7,132.9 315.2,137.4 316.3,137.4 326.2,133.9 326.7,132 324.7,123.3 323.6,121.9 314.7,121.8 313.1,122.5ZM373.4,155.2 374.1,154.1 374,152.9 370.6,144.6 369.9,143.7 368.8,143.4 367.7,143.7 357.5,150.8 357.9,156.3 365.1,160.5 366.2,160.7 367.3,160.2ZM330.3,69.8 331.2,69.1 331.6,68 331.5,55.6 330.8,54.1 328.8,53.4 316.7,55.9 313.1,63.6 313,64.5 313.5,65.8 314.7,66.7 328.4,70.2ZM398.1,176.7 400.2,178 403.1,178.5 405.4,177.8 407.6,175.8 398.9,174.3ZM409.5,176.2 411.3,177 413.4,176.9ZM308.4,132.9 309.5,132.4 310.2,131.4 312.2,122.7 311.7,120.8 308.4,117.5 307.1,117 298,116.7 294.2,120.5 293.8,121.3 294.1,123 301.5,133.5ZM313.9,176.3 315.2,177.6 317.1,178.4 320.1,178.1 322.2,176.6 324.5,178.4 327.4,178.7 329.4,177.9 331.4,175.9 330.9,174.6 318.8,175ZM309.8,162.4 308.5,163.6 307.7,165.8 307.8,167.3 310.8,174.5 312.1,175.6 313.4,175.7 318.1,174.2 318.6,173.1 319.7,161.1 319.1,160.4 317.3,160ZM314.8,7.9 314.2,9.6 314.5,13.3 315,14.4 316.1,15 322.7,16.1 325.9,12.1 325.8,11.1 324.1,8.5 321.6,6.7 318.1,6.3ZM293.2,176.8 295,177.8 297.4,177 298.7,178.3 299.9,178.7 304.6,178.7 306.1,178.1 307.9,175.7 308.9,175.2 309.5,174.1 309.4,172.9 306.7,167.3 305.5,166.9 294.7,167.3 293.7,167.6 292.9,168.5 291.5,172.3 291.6,174ZM288.1,141 296,142.8 297.4,141.7 300.6,134.2 293.4,123.2 292.5,122.4 291.3,122.4 290.2,123 285.3,128.8 286.6,139.4 287.1,140.4ZM327.2,40 326.5,38.8 324.7,38 318.6,38.1 316.9,39.2 312.3,48 315.7,53.9 316.6,54.7 317.8,54.8 328.5,52.5 329.1,50.6ZM282.9,59.6 287.8,74.8 289.4,75.5 296,74.7 300.7,64.6 300.4,62.6 295.5,56 294.5,55.3 293.3,55.3 284.3,58.1ZM336.6,7.2 338.3,7.7 341.1,4.6 338.5,5.5ZM274.7,50.4 275,51.7 278.3,56.7 279.5,57.6 282.5,58 294.4,54.1 296.4,49 295.6,47.5 282.4,38.4 280.7,39 275.7,43.7 275.1,45ZM255.2,56.4 255.6,58.4 266.2,69.7 267.3,69.7 268.3,69.1 277.2,58.8 277.6,57.6 277.3,56.4 274.7,52.5 273,51.6 257.9,52.5 256.9,52.9 256.2,53.8ZM303.8,31.5 305.3,31.8 309.5,30.5 309.9,29.4 311,18.3 309.4,17.1 297.3,15.4 296.2,15.6 295.3,16.4 295.1,17.6 295.9,26.1ZM271.8,18.9 269.9,18.1 259.5,19.5 253.1,21.3 252.5,23.2 255.6,34.9 257.4,35.6 263.8,34.3 272.1,21.5 272.4,20.3ZM243,134.7 242.7,136.4 244,137.7 253.3,140.8 254.4,140.8 255.4,140.2 255.9,139.1 256.1,136.6 255.7,133.6 248.4,130 247.5,129.8 245.9,130.6ZM223.6,175.3 225.6,175.7 227.9,176.9 229.6,176.7 231.2,175.7 233.1,176.7 235,176.9 239.1,175 239.7,173.9 239.6,172.8 237.2,167.1 227.9,163.4 224.7,164.7 223.6,166.1 222.3,172.9 222.4,174ZM235.7,10.5 234.9,9.3 232.9,9.1 231.7,10.8 231.9,12.3 240.9,19.7 242.6,20.1 247.2,19 248.3,18.4 248.7,17.2 249.3,10.7 249,9.5 248.1,8.7 246.9,8.6 244.9,6.4 242.2,5.5 239.5,5.9 237.4,7.3ZM221,128.3 221.9,129.4 224,130.6 225.7,130.7 236.3,119.7 236.8,118 236.5,117.2 231.9,111.2 222.5,110.7 220.8,111.7 217.7,117.3ZM264.1,93.1 254.8,92 253.9,92.7 250.1,99.3 253.9,107.8 255.4,108.9 258.6,108 259.7,107.1 265.8,95.1 265.6,94.2ZM241.5,39.6 234.5,34.1 232.7,34.7 223.5,45 223,46.6 225.2,49.8 235.3,51.3 236.4,51.1 237.3,50.3 242.3,41.3ZM149.2,15 149.4,16.1 149.6,16.8 149.9,15.3ZM202.3,78.3 204.2,78.5 205,77.9 211.2,70.1 211.6,69 211.3,67.9 204.6,56.5 203.6,55.7 202.4,55.5 190.8,58 189.7,58.6 189.2,59.8 188.9,68.7ZM187.6,113.1 184.2,113.2 178.4,117.1 177.5,118.9 178.5,126.4 183.2,129.5 184.5,129.7 185.6,129.2 191.2,123.7 192.3,120.6 189.1,114.1ZM154,106.1 158.2,117.7 159.2,118.1 160.3,117.9 169.7,112.9 170.3,104.6 169.6,103 167.7,101.4 165.9,100.9 154.4,104.1ZM174,158 173,157.2 169.9,157.5 157.1,164.5 156.9,166.4 159.2,171.4 168.6,175 170.6,174.6 174.7,160.6ZM170.7,112 171.6,113.7 177,116.8 182.9,113.2 183.8,111.7 180.3,103.4 178.9,102.3 178.1,102.3 172.5,103.5 171.1,104.5ZM152,40.1 152.1,42 154.3,44 153.1,44.9 152.5,46 152.6,47.2 154.8,51.7 155.7,52.6 157,52.8 161.5,51.9 169.4,48.6 170.5,47.1 168.2,39.3 166.7,38 155.1,35.3 153.7,36.4ZM205.2,81.3 204.3,80.6 203.2,80.5 202.2,80.9 192.3,90.2 192.7,92.1 200.5,102 202.1,102.8 213.2,97.6 214,96.9 214.3,95.8ZM156.1,115.5 153.8,108.6 152,108.1 150.6,109.3 150.2,111.1 150.4,113.2 151.2,115.3 152,116.4 153.9,117.1 154.9,117ZM293.5,45.2 295.6,45.4 296.7,43.7 291,32.6 289.5,31.6 288.6,31.7 283.4,33.7 282.6,35.9 282.6,37.1 283.4,38ZM412.8,155.4 412.1,157.1 413.1,158.6 418.7,161.9 420.7,161.9 429.1,146.7 429.3,145.5 428.8,144.4 427.9,143.8 426,144.2ZM260.6,7.1 258.9,10.8 259.6,16.7 260.8,18.4 268.9,17.6 270.5,16.4 270.1,10.3 269.1,8.8 262.7,5.7ZM362.4,109.2 361.7,110.3 361.8,111.5 364,116.9 365.5,118.1 375.6,115.7 377,114.3 376.5,112.4 368.9,104.7 367,105.1ZM197.6,162 195.9,162.6 195.3,164.3 196.9,174 197.9,175.4 200.2,176.4 201.7,176.3 205.6,173.9 205.8,172.7 204.6,164.4 204.1,163.3 202.9,162.7ZM447.5,25.5 445.8,26.8 446.2,28.8 451.4,34.8 452.4,35.4 453.5,35.4 454.4,34.8 455.5,33 455.8,31 455.2,29.1 453.9,27.5 453.4,25.8 451.8,25.1ZM244.7,138.6 242.8,139 242.2,139.8 243.1,148.6 243.9,150 246,151.4 247.7,151.7 255.1,145.2 255.7,143.3 254.4,141.9ZM320.8,86.9 314.8,101.4 315.7,102.9 322.8,103.5 329.5,95 329.8,93.1 323.5,86.9 322.6,86.5Z" fill="#5a92be"/>
<path d="M292.8,121.7 297.6,128.7 300.4,127.1 302.1,124 302.2,121.4 301.6,119.4 300,117.4 297.8,116.2ZM150.3,15.2 149.8,17.9 151,19.6 149,21.9 148,27.7 150.9,28.5 153.4,28.3 156.3,27 158.4,24.7 159.5,21.8 159.3,18.7 159.1,18ZM298,47.7 298.4,45.5 294.9,39.1 292,40.1 289.6,42.6 297.3,48.3ZM247.9,175.8 249.3,178.6 251,177.4 252,176.1 253.4,177.2 255.2,177.7 257,177.5 258.8,176.5 259.3,177 259.5,175 258.9,172.7 257.4,170.9 255.4,169.7 253.4,169.5ZM340.7,99.6 345.5,96.9 343.9,94.2 342.5,93.4 340.7,93 338.8,93.4 337.4,94.2 335.8,97ZM395.7,35.2 402.1,39.4 403.8,36.2 403.7,32.6 402.7,30.7 400.8,28.9 398.4,28 395.8,28.1ZM422.6,68.5 423.8,74 424.3,74 426.4,73.4 428.1,72 429.2,70.1 429.5,68 428.6,65.5 427.1,63.8ZM434.8,170 443.5,170.4 443.5,167.3 442.3,164.7 439.2,162.2 434.6,169.4ZM243.2,40.6 249.2,40.7 249.9,38.9 250,36.6 249.2,34.4 247.6,32.7 245.5,31.7 243.1,31.6 240.9,32.4 239.2,34 238.2,36.1ZM330.3,92.8 330.5,94.1 338.3,98.3 339.3,96.6 339.9,93.7 339.3,90.8 337.7,88.3 335.5,86.8ZM287.5,6.4 286.7,7.6 284,4.3 281.6,3.1 279.7,2.7 276.3,3.1 275.6,5.5 275.9,8.2 277.2,10.5 279.3,12.2 281.9,12.9 285.1,12.4 287.7,10.5 289,8.2ZM158.4,66.4 155.5,59.9 153.8,60.6 152.2,62 150.7,65.2 151.1,68.8 153.5,71.7ZM381.8,178.3 384.9,178.2 387.6,176.5 389,177.7 391.1,178.6 391.2,175.2 390.2,173.5 388.7,172.3 386.8,171.8 384.8,172 383.1,173 381.9,174.5 381.3,176.8ZM444.9,177.7 445.6,176.9 447.8,178.3 450.8,178.8 453.1,175.5 451.9,173.3 449.9,171.8 447.5,171.1 445.4,171.2 443.6,172 442,173.3 440.5,176.6ZM229.4,88.5 221.3,84.1 220.1,87.1 220.2,89.9 221.5,92.7ZM214.9,97.2 207.1,101 209,104.3 212,106.1 215.4,106.4 218.6,105.1ZM436.1,112.7 431.9,108.7 430.5,109.3 429.2,110.5 428.4,112.1 428.4,113.9 429,115.5 430.2,116.8 431.8,117.6 433.5,117.6 435.1,117.1ZM235.9,16.2 234.1,17.4 233,18.8 232.5,22.3 233.3,24.4 234.4,25.7 235.9,26.6 238.1,27.1 241.6,20.7ZM345.8,69.8 339,73.1 340,79.7 342.7,80 343.6,79.7 345.3,78.7 346.6,77.2 347.4,75.3 347.5,73.3 346.8,70.9ZM349.3,111.9 349.1,108.6 347.1,105.6 344.3,104.2 341.1,104.3 341.6,111.9 343.8,113.5ZM370.9,47.1 379.2,49 379.8,46.8 379.5,44.3 378.6,42.4 377.1,41 373.6,39.7 370.1,43.1ZM456.5,42.6 457.2,41 457.3,38.9 456.6,36.9 455.6,37 452.8,38.4ZM218.4,104.7 216.2,104.7 214.4,105.5 213.1,107 212.4,108.9 212.4,110.9 213.3,112.7 214.8,114.1 216.6,114.8 218.6,114.7 221.2,110.4ZM452.7,38.4 453,37.1 448,31.4 445.1,32.4 443.1,35.2 442.9,37.3 443.5,39.4 444.8,41.1 446.7,42.1ZM221.4,68.5 225.6,77.5 228.9,76.4 231.5,73.5 232.3,70.2 231.3,66.6ZM176.7,6.2 174.4,4.3 170.9,3.5 167.1,4.5 166.8,6.4 167.1,8.3 168.2,9.9 169.8,11 171.8,11.4 173.7,11 175.3,9.9 176.4,8.3ZM247.3,152.8 251.6,148.9 250.1,147.2 247.8,146.3 244.7,147.2 242.9,149.7ZM173.8,157.1 175.3,159.7 183.6,163.3 184.7,161.5 185.1,159.7 184.8,157.4 184,155.7 182.6,154.3ZM452.4,9.5 449.4,9.9 446.8,6.8 446,9 448.1,12.6 448.7,12.9 451.2,11.7 452.5,10.1ZM290.4,30.8 293.5,36.5 295,35.5 296.4,33.8 296.9,32.2 296.8,30 296.1,28.4 294.8,26.9ZM402.3,50.1 399.5,48.7 396.1,49.3 394,51.3 393.2,54.5 395.5,55.8 399,55.4ZM297.8,116.1 306.4,116.6 307.3,114.2 307.1,111.2 305.9,108.4 303.7,106.4 299.7,105.3 295.9,106.2ZM295.4,26.4 290.4,30.8 293.1,35.8 295.5,36.4 297.8,36.2 300.8,34.7 303,31.4ZM259.6,108 262.4,102.7 260.2,101.8 258.1,101.9 256.2,102.8 254.8,104.3 254.1,106.2 254.2,108.3 254.8,109.8ZM175.7,178.6 178.4,176.7 179.3,177.5 184.4,176 184.2,173.4 182.9,171.4 181.3,170.2 179.3,169.8 177.3,170.2 175.6,171.4 174.5,173.1 174.1,175 174.6,177.4ZM275,129.1 276,125.9 275.6,122.9 273.8,120.4 270.9,119 267,124.7 267.3,126.3 270.6,129.3ZM409.3,147.2 412.5,147.2 415.3,145.8 417.2,143.2 417.7,140.1 414.2,138.8 410.3,139.7ZM222,20.1 222.8,25.6 227.1,28.7 229.1,27.2 230.7,24.7 231.3,21.7 230.7,18.7 229.1,16.2 228,15.3ZM205.3,135.8 204,138.9 207.1,142.8 209.2,142.8 211.5,142 213,140.7 214.2,138.6 214.3,135.3 212.9,132.6ZM297.8,116.1 292.8,121.7 298.4,129.9 300.8,128.8 302.4,127.1 303.5,124.9 303.9,122 303.1,119.1 301.7,117.2 300.6,116.3ZM244.7,120.3 246.8,128.9 247.5,129.2 250.4,129.1 252.6,128.1 254.4,126.6 255.9,124 256.3,121.6 255.7,118.6 254,116.2 251.8,114.6ZM335.5,177.6 338.2,176.6 340.8,178.5 344.1,179 344.6,178.5 344.8,176.7 344.3,174.9 343.2,173.4 341.5,172.5 339.7,172.3 337.9,172.8 336.4,173.9 335.4,175.9ZM364.5,118.9 362.6,114.2 360.7,114.1 358.7,114.8 357.1,116.3 356.3,118.2 356.2,120.3 356.9,122.3 358.3,123.8 360.2,124.7 362.3,124.8 363.9,124.3ZM226.7,79.8 225,80.2 223.5,81.2 222.5,82.7 222.1,84.5 229.2,88.4 230.3,87.5ZM455.5,172.3 457.1,173.1 458.9,168.6 458.8,165.6 457.4,162.6 455.8,163.2ZM217.4,177.1 219.3,178.2 221.3,178.4 223.2,177.8 224.7,176.5 221.7,174.2ZM359.4,4.8 356.2,3.8 353.6,4 357.7,8.1 359.2,5.8ZM173.9,179 176.5,178.2 178.4,176.7 179.3,177.5 186.2,175.4 185.9,172.3 184.6,169.9 182.4,168.2 179.7,167.5 177,167.8 174.6,169.2 172.9,171.3 172.2,174 172.5,176.7ZM282.9,33.2 281.9,37.4 288.7,42.2 290,40.3 290.5,38.2 290.3,36.1 289.5,34.1 287.1,31.8ZM330.5,94.1 326.9,99.4 327.7,101.1 329,102.3 330.7,103 332.6,102.9 334.2,102.1 335.5,100.8 336.1,99.1 336.1,97.2ZM452.7,38.4 456.5,42.6 457.4,39.3 456.1,36.2 455.1,35.3 453,37.1ZM272,144.3 268.3,147.2 268.4,149 269.1,150.6 270.5,151.8 272.1,152.5 273.9,152.4 275.6,151.6 276.8,150.3 277.4,148.6 277.3,146.8 276.7,145.4ZM173.9,179 176.5,178.2 178.4,176.7 179.3,177.5 183.2,176.3 183.1,173.5 181.7,171.3 179.9,170.1 177.8,169.6 175.7,170.1 173.9,171.3 172.7,173.1 172.2,175.2 172.7,177.3ZM170.3,113.3 170.5,107.7 167.3,107.9 165.6,109 164.7,110.4 164.1,113.1 165.2,115.8ZM435,177.5 437.1,179 441.5,179 441.5,176.9 435.9,175.2ZM420.8,121.9 426.6,123.8 427.5,121.8 427.5,119.6 426.8,117.4 425.2,115.8 423.2,114.8 420.9,114.7 418.8,115.5 417.1,117.1 416.9,117.5ZM339.7,166.1 338.4,162.4 336.9,161 335,160 333,159.7 330.9,160 327.7,162.2 332.2,170.5ZM191.8,123.5 192.9,120.6 190.5,116.1 188.2,116.2 186.2,117 184.6,118.4 183.3,120.8 183,123.4 183.5,125.5 184.6,127.3 186.4,128.8ZM244.7,120.3 237.9,118.5 237.5,119 236.7,121.2 236.7,123.2 237.3,125.1 238.8,127.1 240.6,128.2 242.5,128.7 244.5,128.5 246.5,127.7ZM328.7,134.9 327.5,134 321.9,135.9 322.2,137.6 323.3,139.1 324.9,140.2 326.7,140.6 328.6,140.2 329.2,139.9ZM380.6,6.9 380.1,4.2 379.3,4.2 376.3,4.7 373.5,6.7 378.1,9.9ZM157.3,67.7 156,65.9 154.2,64.6 152.1,63.9 149.6,63.9 149.7,67.9 151.8,71 150,72.8 149,74.7 150.1,75.4ZM170,157.1 164.5,160 165.7,162 167.5,163.1 169.6,163.6 171.8,163.1 173.5,162 174.7,160.2 175,159.3 173.2,156.4ZM274.3,51.2 274.9,44 274.2,43.5 272.2,43.3 270.1,43.8 268.3,45 266.9,46.6 265.9,49.2 266,51.7ZM255.3,36.2 263,35 263.6,32.8 263.4,30.5 262.5,28.8 260.8,27.3 258.6,26.5 256.8,26.5 255,27 253.4,28.3ZM281.9,58.5 278.6,57.7 273.1,64 274.8,67.4 278.3,69.7 281.8,70 285.2,68.6ZM169.7,3.6 166.4,5 164.4,7.2 163,5.8 161.6,5.2 161.7,11.3 163.5,13 165.5,13.8 167.7,13.7 169.7,12.8 171.2,11.2 172,9.1 171.8,6.5 170.4,4.2ZM267,124.7 264,121.9 262.7,122.8 261.7,124.3 261.4,126 261.7,127.7 262.7,129.2 267.3,126.3ZM416.7,9.8 409.4,14.2 410.4,16 412.1,17.7 414.3,18.8 416.7,19.2 419.1,18.8 421.3,17.7 423,16 424,14.1ZM435.1,146.8 436.9,153.4 438.5,153.8 440.3,153.6 442.8,151.6 443.4,149.9 443.4,148.1 442.6,146.5 441.3,145.3 440.5,144.9ZM161.3,18.7 162,18.3 161.6,10.3 158.9,10.2 156.5,11.1 154.3,13.2 153.4,16.2ZM327.5,134 328.7,134.9 335.5,134 335.2,131 333.9,128.6 332.3,127.3 330.3,126.4 328.2,126.3 325.9,126.9ZM156.9,174.8 157.4,171.9 156.3,168.9 153.7,166.9 150.8,166.5 151.9,168.9 150.5,172 150.7,174.2 151.4,175.7 154,177.7 155.7,176.6ZM431.1,34 424.9,40.3 426.7,41.9 429,42.9 433.3,42.7 435.5,41.6 437.2,39.9ZM192.9,120.6 198.3,119.6 197.8,117.4 196,115.5 193.2,114.8 190.4,116ZM225.4,131.7 227.1,135 231.7,135.5 233.6,132.8 233.7,129.6 232.7,127.6 230.9,125.9ZM242.3,64.7 250.4,59.9 248.6,57 245.4,55.1 241.7,54.8 238.6,56ZM331.1,174.3 332.2,170.5 328.3,163.3 327.5,163.5 325.4,164.7 324,166.5 323.3,168.8 323.6,171.1 324.7,173.2 326.3,174.4ZM285.8,6.1 282.8,3.6 279,2.7 277,2.9 274.6,3.9 273.9,4.7 273.7,6.2 274.1,8.5 275.5,10.5 277.5,11.8 279.8,12.3 282.2,11.8 284.1,10.5 285.5,8.5ZM307.1,166.6 310,173.5 312.4,172.8 314.1,171.5 315.3,169.9 316,167.9 316,165.9 315.3,163.9 312.7,161.1 308.6,162.4ZM304.1,150.7 299.5,148.9 292.5,156.1 294.4,158.4 297.1,159.9 300.1,160.3 303.1,159.4 305.1,158 306.3,156.4ZM196.9,176.6 197.5,176 198.5,176 201.4,176.8 205.6,174.8 205.4,171.6 203.6,168.8 202,167.8 199.6,167.4 197.8,167.7 195.7,168.8ZM409.2,62.5 408.8,64.7 409.2,66.9 410.5,68.7 412.3,70 414.5,70.4 416.7,70 418.6,68.7 419.8,66.9 420,66.4 414.7,62.2ZM203.4,79.4 195.4,73.9 193.8,75 192.6,76.7 191.9,80.2 193.2,83.6 196.2,85.9ZM405.8,69.6 402.8,69 400.3,69.8 398.5,71.6 397.6,74.4 403.9,75.8ZM186.3,175.4 188,177 189.2,176 190.9,177.5 192.8,178.1 195.8,177.5 196.7,176.8 196.9,176.1 196.2,171.8 195.3,170.4 193.1,168.7 190.4,168 187.4,168.4ZM329.1,70.7 322.2,68.9 321,71.5 321.5,74.5 323.3,76.5 325.6,77.3ZM217.1,117.3 220.1,112.2 218.4,111 216.8,110.6 215.1,110.8 213.1,111.7 211.1,114.4 211,117.5ZM204,54.9 195.3,56.7 195.7,59.5 196.8,61.7 198.5,63.5 200.7,64.6 205.1,64.8 208.7,62.8ZM295.4,26.4 290.4,30.8 294.9,39.1 296.8,38.2 298.5,36.8 299.6,34.9 300.2,32.8 299.4,29ZM248.9,19 245,19.9 244,22.5 244.1,25 245.1,27.2 246.9,28.9 249.2,29.7 251.7,29.6 253.5,28.8 251.7,21ZM298.7,59.8 300.6,59.2 302.1,58.1 303.1,56.4 303.3,54.5 302.8,52.6 301.6,51.1 299.9,50.2 298,49.9 296.5,50.3 294.8,54.5ZM357.5,82 357.2,76.5 354.1,76.6 351.9,78.5 351.3,81.2ZM361.7,59.9 361.8,66.7 364,66.7 365.8,66.1 367.4,65 368.5,63.4 369.2,60.1 367.8,56.7ZM415.8,82.8 416.6,92.1 418.5,92.3 420.9,92 423,90.9 424.7,89.2 425.9,86.5 426,83.5 425,80.8 423,78.6 422.3,78.1ZM297.5,4.3 295,3.5 292.5,3.5 289.5,4.6 288.6,5.3 288.6,5.8 289.2,7.5 290.5,8.8 292.1,9.6 294,9.7 295.7,9 297.2,7.5 297.9,5.4ZM321.1,84.8 314.9,83.6 314,86.3 314.8,88.8 316.3,90.3 318.5,91ZM358.5,109.2 355.1,101.5 352.1,102.6 350.2,105 349.5,108.4 350.5,111.5ZM304.1,150.7 306.7,149.2 306.7,146.3 305.6,144.1 303.8,142.4 302,141.6 299.5,141.5 297.5,142.3 296.8,143.6 299.5,148.9ZM167.5,131.1 174.7,128.1 174,125.9 172.8,124.1 171,122.8 168.9,122.2 165.2,122.6 162.1,125.2ZM170,130 170.6,132.3 172.2,134.7 174.6,136.4 176.9,136.9 179.8,136.6 181.8,135.5 183.8,133.4 184.7,131.1 184.6,130.6 177.9,126.8ZM327.1,23.2 326.3,30.4 328.4,31.1 330.2,31.1 333.4,29.5 335,26.3 335,24.4 334.4,22.6ZM339,73.1 340,79.7 348.8,80.8 349.1,78.8 348.7,76.7 347.7,74.7 346.2,73.1 344.2,72.1 342,71.8ZM410.6,41.2 411.3,32.5 407.8,32.1 404.8,33.4 402.7,35.8 401.9,39.3 407,42.6ZM399.4,99.3 396.5,96.4 389.7,99.7 389.8,101.5 390.6,103.3 392,104.6 393.9,105.3 395.8,105.2 397.6,104.4 399,102.9ZM295.7,105.1 299.1,104 301.1,101.5 301.5,98.2 300,95.1 294.4,98.3ZM151.2,159 153.3,160.3 152,161.5 152.3,162.5 155.8,164.5 157.1,163.2 157.9,161.5 158,159.7 157.3,157.9 156.1,156.6 153.6,155.7 151.1,156.2 150.4,156.6ZM455.3,170.9 457.8,171.6 459,168 458.4,164.4 456.2,161.3ZM368.5,103.4 362.3,108.8 365,111.8 367,112.6 369.2,112.8 372.2,111.8 374.4,109.7ZM311.6,48 315.9,54.8 318,53.9 320.1,51.9 321.3,49.3 321.4,46.5 320.7,44.3 319.4,42.4 315.8,40.5ZM192.6,151.1 193.2,153.8 194.9,153.9 198,152.8 199.8,150.6 192.8,145.5ZM377.4,33.4 381.4,26.3 378.4,24.2 375,24 372.1,25.7 370.5,28.4ZM410.5,120.2 412.4,122.5 415.3,123.6 417.9,123.2 420.3,121.3 415.9,116.4 410.3,118ZM366.3,161.5 367.1,167.6 368,168 370.2,168.3 372.2,167.7 374,166.3 375,164.4 375.3,162.3 374.7,160.2 373.3,158.4 371.4,157.4ZM415.6,177 417.3,178.1 419.7,178.5 422,177.7 423.6,176 426.8,177.2 428.8,176.6 428.8,175.9 428.1,173.4 426.5,171.3 424.2,170.1 421.6,169.8 418.7,170.7 415.5,176.1ZM410.5,120.4 412.7,122.7 415.3,123.6 418,123.1 420.3,121.4 415.9,116.4 410.3,118ZM452.2,151.3 448.6,152.4 446.1,154.9 445,158.3 445.5,161.7 455.5,161.1ZM447.7,108.7 438.9,111.7 440.4,115.6 443.1,118 447.2,118.8 449.6,118.2 451.7,117ZM176.3,88.7 176.4,91.9 178.2,94.6 181.2,96 184.1,95.7 186,91 183.7,88.9ZM161.4,52.3 166.9,59.4 169.5,57.5 170.9,54.7 170.9,51.5 169.6,48.8ZM328.2,113.8 325.9,119.3 328,121 330.4,121.7 332.9,121.4 335,120.2 336.6,118.2 337.3,115.3 336.7,112.6ZM230.4,88.1 227.6,81.9 225.1,82.9 223.3,85.2 229.4,88.5ZM150.1,109.9 150,112.8 151,115.6 152.4,117.2 154.5,117.5 155.9,114.9 155.3,111.7 152.8,109.7ZM409.6,99.7 410.3,97 409.9,94 408.5,91.3 406.1,89.4 403.1,88.6 400.1,88.9 399.1,89.3 396.1,92.7 396.5,96.4 399.4,99.3ZM443.8,110 443.1,107.8 441.6,105.7 437.8,103.6 433.5,103.8 431.3,104.9 429.6,106.6 436.1,112.7ZM449,127.4 449.8,129.5 451.5,131.3 453.8,132.3 456.5,132.4 457.2,130.5 457.2,128.8 456.4,126.7 455.2,125.3 457.1,122.9 454.4,122.8ZM152.8,103.8 155.7,112.4 159.6,111.3 162.1,108.6 162.8,104.9 161.7,101.6ZM331.1,174.3 332.2,170.5 328.4,163.6 326.2,164.6 324.6,166.3 323.8,168.5 323.9,170.9 324.9,173 326.3,174.4ZM408,62.5 414.7,62.2 417.6,54.7 415.3,53.6 413.2,53.5 411.3,53.9 409.5,55 408.2,56.5 407.4,58.4 407.3,61ZM181.3,32.2 186,34.9 187.3,33.5 188,31.7 187.9,29.8 187.1,28.1 185.7,26.8 183.9,26.1ZM414.6,4.8 412.4,5.9 410.6,7.7 408.8,5.8 406.4,4.7 405.7,7.2 406.4,9.7 407.7,11 409.4,11.8 411.3,11.9 413,11.2 414.4,10 415.2,8.3 415.2,6.4ZM347.4,142.9 342.7,147.7 343.7,149.4 344.9,150.4 348.1,151.2 351.1,150 352.8,147.2ZM191.8,123.5 192.9,120.6 190.1,115.3 187.8,115.9 186.1,117.2 185.1,119.1 184.8,121.2 185.4,123.3 187.1,125.2 189.2,126.1ZM195.4,96.2 192.8,98.3 191.6,101.7 192.3,105.3 194.4,107.7 201.1,104.5 201.4,103.7ZM247.9,175.8 249.3,178.6 251,177.4 252,176.1 253.4,177.2 255.2,177.7 257,177.5 258.8,176.5 260,177.5 260.1,176.9 259.9,174.5 258.6,171.8 256.5,169.8 253.9,168.9ZM452.8,9.6 449.4,9.9 446.8,6.8 446,9 448.1,12.6 449.3,13.1 451.9,11.7 453,10.1ZM254.4,57.6 256.4,52.3 255.2,49.3 252.5,48.8 250.2,49.1 248.1,50.2 246.5,51.8 245.3,54.4 245.1,56.7 245.9,59.5 247.5,61.6ZM323.8,178.4 325.5,179 327.6,179 329.6,178.1 331.3,176.3 332.2,176.9 331.1,174.3 324.1,174.5 323.5,176.5ZM298.4,45.5 302.2,37.2 299.8,36.1 297.6,35.9 293.9,37.3ZM262.9,146.8 264,144.9 264.5,142.7 263.7,138.7 256.5,136.8 255.9,142 256.2,144.7ZM179.2,116.2 179.7,118.1 181.1,119.8 183,120.8 185.1,121.1 187.2,120.5 188.6,119.5 189.8,117.7 190.2,115.6 188.8,112.9 184.7,112.4ZM366.3,25.3 362.4,20.7 361.8,20.6 358.5,26.1 360.7,27.4 362.7,27.6 365.1,26.9 366.1,26.1ZM274.4,162.6 275.5,158.7 274.3,154.7 271.3,151.9 269,151.1 266.8,151.1 266,160.1ZM323,104.1 318.7,103.7 317.1,105.5 316.6,107.3 316.8,109.1 317.7,110.7 319.2,111.8 320.9,112.3 322.8,112.1 324.4,111.2 325.5,109.8 325.7,109.2ZM237.9,118.5 234.2,113.5 232.4,114.4 231.2,115.6 230.3,117.5 230.2,119.2 231.2,121.9 233.1,123.5ZM263.7,178.3 266.3,177 269.8,178.5 272.8,178.1 272.8,177.4 265.2,176.4ZM361.1,6.2 357.9,4.1 355.6,3.8 353.6,4 358.2,8.6ZM210.5,158.4 211.2,157.9 212.4,149.7 208.8,149.1 205.4,150.2 202.9,152.8ZM414.2,138.8 421.2,141.3 422.4,139.4 422.9,137.6 422,134 420,132.1 417.2,131.2ZM319.5,168.3 322.1,168.8 324.8,168.3 327.1,166.8 328.7,164.5 324.4,156.3 320.6,158.6ZM451.6,125.2 451.4,123 450.3,121.2 448.6,119.9 446.6,119.3 444.5,119.5 442.6,120.6 441.3,122.2 440.7,124.3 441,126.5 447.8,128.4ZM455.9,71.8 455.4,71.3 456.9,69.1 457.4,66.1 456.7,63.6 455.4,61.8 456.4,60.2 456.8,58.3 454,58.6 451.6,60 449.9,62.2 449.2,64.8 449.7,68.1 451.2,70.3 454,72.1ZM445.4,6 442.6,5.4 440.4,5.8 438.3,6.8 436.6,8.6 434.9,6.8 432.6,5.7 433.3,8.8 445.3,9ZM420,45.3 412.1,41.9 410.2,43.9 409.2,46.6 409.3,49.5 410.5,52.1 413.6,54.6 417.4,55.1 420.6,46.7ZM151.2,159 153.3,160.3 152,161.5 152.3,162.5 155.8,164.5 160.2,162.2 160.2,160.1 159.4,157.7 157.7,155.9 155.9,155 153.4,154.7 151,155.4 150.2,156.3ZM453.7,87.4 449.2,90.9 449.5,93.3 450.5,95.2 452.4,96.9 454.3,97.7 456.8,97.8 456.1,95.7 454.9,94 457.1,91.4 457.4,88ZM279.2,81 279.9,79.2 279.8,77.2 278.9,75.4 277.5,74 275.6,73.3 273.6,73.4 271.7,74.3 270.4,75.7 269.9,76.7 273.8,80.9ZM188,177 189.2,176 191.4,177.7 194.4,178 196.6,176.9 196.5,175.1 195.7,173.4 194.3,172.2 192.6,171.5 190.7,171.6 188.7,172.6 187.5,174.1 187,176.1ZM232.1,110.6 225.7,110.5 225.3,112.5 225.6,114.2 226.4,115.8 228,117.3 230.1,118 232.3,118 234.3,117 235.7,115.6ZM242.9,149.6 247.3,152.8 252.2,148.3 251.6,144.9 250,142.5 248.1,141.1 245.9,140.4 241.8,140.9ZM239.2,5.7 236.9,7.3 235.7,9.6 234.3,7.7 232.1,6.2 231.7,6.5 231.4,11.2 232.8,12.3 234.6,12.8 237.8,11.9 239.1,10.5 239.7,8.8 239.5,6.5ZM161.5,101.7 162.6,104.8 165.2,106.3 168.5,105.9 170.6,103.7 167,100.3ZM188.1,36.5 182.9,33.5 181.3,34.5 180.3,36.1 179.9,37.9 180.3,39.8 182.5,42.2 185.6,42.6ZM179.6,12.6 179.4,7.6 178.8,6.9 177.9,8.1 175.9,5.3 172.6,3.7 171.5,5.7 171.2,7.6 171.5,9.5 172.4,11.3 174.2,12.9 176.4,13.8 178.3,13.8ZM356.9,150.5 357.4,156.7 359.3,156.7 361.5,155.9 363.2,154.3 364.2,152.2 364.2,149.4 362.7,146.7ZM313.8,66.7 312.3,64.6 307.3,64.1 307.4,67.3 308.4,68.7 309.9,69.7 311.6,70.1 313.2,69.8ZM402.8,24.9 402.6,22.6 401.7,20.9 399.9,19.3 398.2,18.6 396.3,18.4 394,19.1 392.1,20.5 391,22.4 395.8,26.6ZM199.4,6.3 196.6,5.9 193.9,6.8 192.2,8.3 190.7,11.9 193.6,13 196.9,12.2 199.2,9.7ZM150.6,125.2 151.3,125.9 152.2,125.7 157.8,121.1 158.3,119.6 157.5,118.1 154,117.7 152.3,119.1 150.6,122.1ZM239.9,174.6 240,176.1 241.8,176 242.8,177.4 244.6,178.7 247.9,179 248.7,178.5 248.8,177.5 247.5,175.7 242.9,174.6 242,174.8 241,174.2ZM453,83 454,83.8 455.6,82.9 457.1,81.1 458,79 457.9,75 455.9,72 452.1,73.1 451.5,73.8ZM456.6,86 454.3,84.1 453.4,84.7 453.6,86.6 454.5,87.4 456.2,87.5ZM355.8,3.8 355,4.2 354.8,5.1 358,8.2 358.9,8 360.5,6.5 360.5,5.9 359.4,4.8ZM265.2,176.4 263.7,178.3 266.3,177 269.8,178.5 271.7,178.4 273.9,177.6ZM248.6,6.5 248.3,7.8 249.7,8.8 252.1,7.3 252.5,6.3 251.3,5.5ZM150.5,32 151.1,32.4 151.8,32.9ZM154.2,34.6 153.1,33.8 151.4,35.9 150.8,38.2 151.2,41ZM149.5,155.9 150.8,155.6 155.9,149.5 158,142.6 157.5,141.4 152.2,138.5 151.1,139.5 150.5,142.3 151.1,144.8 152.3,146.9 150.4,148.5 149,151.1 148.6,154 148.8,155.1ZM218.6,176.3 218.4,177.7 220.4,178.4 222.8,178 224.2,176.6 223.8,175.8 221.7,174.5ZM265.5,4.4 264.7,4.9 265.1,6.2 270.1,8.8 271.3,7.9 271.3,6.6 269.8,5.4 267.8,4.6ZM151.8,168.9 150.6,171.4 150.7,174.1 152.1,176.5 154.5,177.8 155.2,177.4 158.7,171.8 156,164.8 152.3,162.7 151.3,163.2 150.7,164.8 151,167.1ZM398,176.2 398.2,177.2 399.4,178.1 402.4,178.8 405.5,178.1 407.3,176.6 406.5,175.3 399.6,174.1 398.7,174.3ZM456.6,87.7 457.4,88 457.1,87ZM154.8,54.9 154.6,53.9 153.1,53.9 152,55.9 152.2,57 153.2,57.2 154.1,56.8ZM152.9,48.6 151.5,48.2 151,49.1 151.2,49.9 152.4,52.3 153.8,52.9 154.4,51.5ZM154.9,177.9 154.9,178 155,178ZM153.8,106.6 152.6,106 150.7,108.2 150,110.5 150.1,113.4 152.1,117 156.5,117.7 157.1,116.5ZM152.4,103.6 151,104 151.1,105 151.7,105.5 153,104.8ZM152.3,162.5 152,161.5 151,163.4ZM150.2,156.3 148.9,155.5 151.1,158.9ZM438,7.1 437.8,8.4 438.6,8.9 445.3,9 446.2,8.4 446.6,7.1 445.4,6 442.6,5.4 440.3,5.8ZM434.5,6.5 433.4,6.6 433,7 433.6,8.7 435.4,8.4 435.5,7.4ZM362.9,21.3 362.1,21 361.3,21.5 357.1,28.7 361.4,39.2 362.2,39.8 363.3,39 366.2,25.8 366,24.9ZM448,7.8 446.6,7.7 446.1,9 447.9,12.3 455.3,15.4 456.2,15.3 456.6,14.4 456.4,13 454.9,10.7 452.3,9.5 449.4,9.9ZM205.1,175 204.6,175.8 205.3,176.9 207.2,177.6 208.5,177.1 208.5,176.2 206.9,174.7ZM155.7,176.5 155.7,177.6 156.2,178 157.7,177.9 159.4,176.9 160.9,178.4 162.3,179 166.4,179 169.1,177.2 170.1,178.1 171.2,177.1 170.5,176.1 169.5,176.2 168.9,175.5 159.1,172 158.4,172.5Z" fill="#e9aa63" stroke="#3f3a30" stroke-width="0.85" stroke-linejoin="round"/>
<path d="M175.9,5.3 175.4,5 174.9,4.6 174.4,4.3 173.8,4.1 173.3,3.9 172.7,3.7 172.1,3.6 171.5,3.5 170.9,3.5 170.3,3.5 169.7,3.6 169.1,3.7 168.6,3.9 168,4.1 167.5,4.3 166.9,4.6 166.4,5 166,5.3 165.5,5.8 165.1,6.2 164.7,6.7 164.4,7.2 164.4,7.2 164.2,6.9 163.8,6.5 163.4,6.1 163,5.8 162.6,5.5 162.1,5.2 161.6,5 161.1,4.8 160.6,4.7 160.1,4.6 159.5,4.5 159,4.5 158.5,4.5 157.9,4.6 157.4,4.7 156.9,4.8 156.4,5 155.9,5.2 155.4,5.5 155,5.8 154.6,6.1 154.2,6.5 153.8,6.9 153.5,7.3 153.2,7.7 153.1,8 152.8,8.1 152.3,8.4 151.9,8.7 151.4,9 151,9.4 150.6,9.8 150.3,10.3 149.9,10.7 149.7,11.2 149.4,11.7 149.2,12.3 149.1,12.8 149,13.4 148.9,13.9 148.9,14.5 148.9,15.1 149,15.6 149.1,16.2 149.2,16.7 149.4,17.3 149.7,17.8 149.9,18.3 150.3,18.7 150.6,19.2 151,19.6 151,19.6 150.6,20 150.1,20.4 149.7,20.8 149.3,21.3 149,21.9 148.7,22.4 148.4,23 148.2,23.5 148,24.1 147.9,24.8 147.8,25.4 147.8,26 147.8,26.6 147.9,27.2 148,27.9 148.2,28.5 148.4,29 148.7,29.6 149,30.2 149.3,30.7 149.7,31.2 150.1,31.6 150.6,32 151.1,32.4 151.6,32.8 152.1,33.1 152.7,33.3 153.3,33.6 153.4,33.6 153.3,33.6 153,34 152.6,34.3 152.3,34.6 152,35 151.7,35.4 151.4,35.9 151.2,36.3 151.1,36.8 150.9,37.2 150.8,37.7 150.8,38.2 150.8,38.7 150.8,39.2 150.8,39.7 150.9,40.2 151.1,40.6 151.2,41.1 151.4,41.5 151.7,42 152,42.4 152.3,42.8 152.6,43.1 153,43.5 153.3,43.8 153.7,44 153.6,44.1 153.3,44.3 152.9,44.6 152.6,44.9 152.3,45.2 152.1,45.5 151.8,45.9 151.6,46.2 151.4,46.6 151.3,47 151.2,47.4 151.1,47.9 151,48.3 151,48.7 151,49.1 151.1,49.6 151.2,50 151.3,50.4 151.4,50.8 151.6,51.2 151.8,51.6 152.1,51.9 152.3,52.3 152.6,52.6 152.9,52.9 153.3,53.1 153.6,53.4 153.7,53.4 153.5,53.6 153.2,53.8 152.9,54.1 152.7,54.4 152.5,54.8 152.3,55.1 152.1,55.5 152,55.9 151.9,56.2 151.8,56.6 151.7,57 151.7,57.4 151.7,57.8 151.8,58.2 151.9,58.6 152,59 152.1,59.4 152.3,59.8 152.3,59.8 151.9,60.1 151.5,60.5 151.1,60.9 150.7,61.3 150.4,61.8 150.1,62.3 149.9,62.8 149.7,63.4 149.6,63.9 149.4,64.5 149.4,65.1 149.4,65.6 149.4,66.2 149.4,66.8 149.6,67.3 149.7,67.9 149.9,68.4 150.1,68.9 150.4,69.4 150.7,69.9 151.1,70.4 151.5,70.8 151.8,71 151.6,71.1 151.2,71.5 150.7,71.9 150.3,72.3 150,72.8 149.6,73.3 149.3,73.8 149.1,74.4 148.9,74.9 148.7,75.5 148.6,76.1 148.5,76.7 148.5,77.3 148.5,77.9 148.6,78.5 148.7,79.1 148.9,79.7 149.1,80.2 149.3,80.8 149.6,81.3 150,81.8 150.3,82.3 150.7,82.7 151.2,83.1 151.6,83.5 152.1,83.8 152.3,83.9 152.1,84.1 151.7,84.5 151.3,84.9 151,85.3 150.6,85.8 150.4,86.3 150.1,86.8 149.9,87.3 149.8,87.8 149.7,88.4 149.6,88.9 149.6,89.5 149.6,90.1 149.7,90.6 149.8,91.2 149.9,91.7 150.1,92.2 150.4,92.7 150.6,93.2 151,93.7 151.3,94.1 151.7,94.5 152.1,94.9 152.5,95.2 152.6,95.3 152.5,95.4 152,95.7 151.6,96.1 151.3,96.5 151,96.9 150.7,97.3 150.4,97.8 150.2,98.3 150,98.8 149.9,99.3 149.8,99.8 149.7,100.3 149.7,100.8 149.7,101.4 149.8,101.9 149.9,102.4 150,102.9 150.2,103.4 150.4,103.9 150.7,104.4 151,104.8 151.3,105.2 151.6,105.6 152,106 152.3,106.1 152.1,106.3 151.7,106.7 151.3,107.2 151,107.7 150.7,108.2 150.4,108.7 150.2,109.3 150.1,109.9 150,110.4 149.9,111 149.9,111.6 149.9,112.2 150,112.8 150.1,113.4 150.2,113.9 150.4,114.5 150.7,115 151,115.6 151.3,116 151.7,116.5 152.1,116.9 152.5,117.3 153,117.7 153.5,118 153.6,118.1 153.5,118.2 153.1,118.5 152.7,118.8 152.3,119.1 151.9,119.5 151.6,119.9 151.4,120.3 151.1,120.7 150.9,121.2 150.7,121.7 150.6,122.2 150.5,122.7 150.4,123.2 150.4,123.7 150.4,124.2 150.5,124.7 150.6,125.2 150.7,125.6 150.9,126.1 151.1,126.6 151.4,127 151.6,127.4 151.9,127.8 152.3,128.2 152.7,128.5 153.1,128.9 153.5,129.1 153.9,129.4 154,129.4 154,129.6 153.9,129.7 153.5,130 153.2,130.3 153,130.6 152.7,130.9 152.5,131.2 152.3,131.6 152.1,131.9 152,132.3 151.9,132.7 151.8,133.1 151.7,133.5 151.7,133.9 151.7,134.3 151.8,134.7 151.9,135.1 152,135.5 152.1,135.9 152.3,136.3 152.5,136.6 152.7,137 152.8,137.1 152.6,137.3 152.2,137.7 151.9,138.1 151.6,138.6 151.3,139.1 151.1,139.6 150.9,140.1 150.7,140.6 150.6,141.1 150.6,141.7 150.5,142.2 150.6,142.8 150.6,143.3 150.7,143.8 150.9,144.4 151.1,144.9 151.3,145.4 151.6,145.8 151.9,146.3 152.2,146.7 152.3,146.9 152.2,147 151.7,147.3 151.2,147.7 150.8,148 150.4,148.5 150,148.9 149.7,149.4 149.4,149.9 149.2,150.5 149,151 148.8,151.6 148.7,152.2 148.6,152.7 148.6,153.3 148.6,153.9 148.7,154.5 148.8,155.1 149,155.6 149.2,156.2 149.4,156.7 149.7,157.2 150,157.7 150.4,158.2 150.8,158.6 151.2,159 151.7,159.4 152.2,159.7 152.7,160 153.2,160.2 153.3,160.3 153.2,160.3 152.8,160.6 152.5,160.9 152.2,161.3 151.9,161.7 151.6,162.1 151.4,162.5 151.1,162.9 151,163.4 150.9,163.8 150.8,164.3 150.7,164.8 150.7,165.3 150.7,165.8 150.8,166.2 150.9,166.7 151,167.2 151.1,167.6 151.4,168.1 151.6,168.5 151.9,168.9 151.9,168.9 151.7,169.1 151.4,169.5 151.1,170 150.9,170.5 150.7,171 150.6,171.5 150.5,172 150.5,172.6 150.5,173.1 150.6,173.7 150.7,174.2 150.8,174.5M456.7,174.5 456.9,174 457.1,173.3 457.2,172.7 457.2,172.4 457.5,172 457.8,171.5 458.1,171 458.4,170.4 458.6,169.8 458.8,169.2 458.9,168.6 459,168 459,167.4 459,166.8 458.9,166.2 458.8,165.6 458.6,165 458.4,164.4 458.1,163.8 457.8,163.3 457.5,162.8 457.1,162.3 456.7,161.8 456.2,161.4 456.2,161.4 456.3,161.2 456.6,160.8 456.8,160.4 457,160 457.2,159.5 457.3,159 457.4,158.6 457.5,158.1 457.5,157.6 457.5,157.1 457.4,156.7 457.3,156.2 457.2,155.7 457,155.3 456.8,154.8 456.6,154.4 456.3,154 456,153.7 455.7,153.3 455.3,153 455.5,152.9 455.7,152.5 455.9,152.2 456.1,151.9 456.3,151.5 456.4,151.2 456.5,150.8 456.6,150.4 456.7,150 456.7,149.6 456.7,149.2 456.6,148.8 456.5,148.4 456.4,148.1 456.3,147.7 456.1,147.3 455.9,147 455.7,146.7 455.5,146.3 455.2,146.1 454.9,145.8 454.6,145.5 454.3,145.3 454.1,145.2 454.6,145 455,144.8 455.5,144.5 456,144.2 456.4,143.9 456.8,143.6 457.1,143.2 457.4,142.8 457.7,142.3 458,141.8 458.2,141.4 458.4,140.9 458.6,140.4 458.7,139.8 458.7,139.3 458.7,138.8 458.7,138.2 458.7,137.7 458.6,137.2 458.4,136.7 458.2,136.2 458,135.7 457.7,135.2 457.4,134.8 457.1,134.4 456.8,134 456.4,133.6 456,133.3 455.9,133.3 456.1,133 456.4,132.6 456.6,132.2 456.8,131.8 457,131.4 457.1,131 457.2,130.5 457.2,130.1 457.2,129.7 457.2,129.2 457.2,128.8 457.1,128.3 457,127.9 456.8,127.5 456.6,127.1 456.4,126.7 456.1,126.3 455.9,126 455.6,125.6 455.2,125.3 455.2,125.3 455.3,125.3 455.6,125 455.9,124.7 456.2,124.4 456.5,124.1 456.8,123.7 457,123.3 457.1,122.9 457.3,122.5 457.4,122.1 457.5,121.7 457.5,121.2 457.6,120.8 457.5,120.4 457.5,119.9 457.4,119.5 457.3,119.1 457.1,118.7 457,118.3 456.8,117.9 456.5,117.6 456.2,117.2 455.9,116.9 455.6,116.6 455.3,116.3 454.9,116.1 454.5,115.9 454.3,115.8 454.6,115.7 455.2,115.5 455.8,115.2 456.3,114.9 456.8,114.6 457.3,114.2 457.8,113.8 458.2,113.3 458.6,112.8 458.9,112.3 459.2,111.8 459.5,111.2 459.7,110.6 459.9,110 460,109.4 460,108.8 460.1,108.2 460,107.6 460,107 459.9,106.4 459.7,105.8 459.5,105.2 459.2,104.6 458.9,104.1 458.6,103.6 458.2,103.1 457.8,102.6 457.3,102.2 456.8,101.8 456.3,101.5 456.1,101.4 456.1,101.2 456.3,100.8 456.5,100.4 456.6,99.9 456.7,99.4 456.8,99 456.8,98.5 456.8,98 456.7,97.5 456.6,97.1 456.5,96.6 456.3,96.2 456.1,95.7 455.9,95.3 455.6,94.9 455.4,94.5 455,94.2 454.9,94 455.1,93.9 455.5,93.6 455.8,93.3 456.1,92.9 456.4,92.6 456.6,92.2 456.9,91.8 457.1,91.4 457.2,91 457.3,90.5 457.4,90.1 457.5,89.6 457.5,89.2 457.5,88.7 457.4,88.2 457.3,87.8 457.2,87.3 457.1,86.9 456.9,86.5 456.6,86.1 456.4,85.7 456.1,85.4 455.8,85 455.5,84.7 455.1,84.4 454.7,84.2 454.3,84 454.1,83.9 454.2,83.9 454.7,83.6 455.2,83.3 455.6,82.9 456,82.5 456.4,82.1 456.8,81.6 457.1,81.1 457.4,80.6 457.7,80.1 457.9,79.5 458,79 458.1,78.4 458.2,77.8 458.2,77.2 458.2,76.6 458.1,76.1 458,75.5 457.9,74.9 457.7,74.4 457.4,73.8 457.1,73.3 456.8,72.8 456.4,72.4 456,71.9 455.6,71.5 455.4,71.3 455.4,71.3 455.8,70.9 456.1,70.5 456.4,70.1 456.7,69.6 456.9,69.1 457.1,68.6 457.2,68.1 457.3,67.6 457.4,67.1 457.4,66.6 457.4,66.1 457.3,65.5 457.2,65 457.1,64.5 456.9,64 456.7,63.6 456.4,63.1 456.1,62.7 455.8,62.3 455.4,61.9 455.4,61.8 455.6,61.6 455.8,61.3 456.1,60.9 456.3,60.6 456.4,60.2 456.6,59.8 456.7,59.4 456.8,59 456.8,58.6 456.8,58.2 456.8,57.8 456.8,57.4 456.7,57 456.6,56.6 456.4,56.2 456.3,55.8 456.1,55.5 455.8,55.1 455.6,54.8 455.3,54.5 455,54.2 454.7,54 454.3,53.7 454,53.6 454.4,53.3 454.8,53 455.1,52.7 455.5,52.3 455.8,51.9 456,51.5 456.3,51.1 456.5,50.7 456.6,50.2 456.8,49.8 456.9,49.3 456.9,48.8 456.9,48.3 456.9,47.8 456.9,47.4 456.8,46.9 456.6,46.4 456.5,46 456.3,45.5 456,45.1 455.8,44.7 455.5,44.3 455.2,44 455.5,43.8 455.8,43.5 456.1,43.2 456.4,42.9 456.6,42.5 456.8,42.1 457,41.8 457.1,41.4 457.2,41 457.3,40.5 457.4,40.1 457.4,39.7 457.4,39.3 457.3,38.9 457.2,38.4 457.1,38 457,37.6 456.8,37.3 456.6,36.9 456.4,36.5 456.1,36.2 455.8,35.9 455.5,35.6 455.2,35.3 454.8,35.1 454.7,35 454.9,34.8 455.2,34.5 455.4,34.1 455.6,33.8 455.7,33.4 455.9,33 456,32.6 456.1,32.2 456.1,31.8 456.1,31.4 456.1,31 456.1,30.6 456,30.2 455.9,29.8 455.7,29.4 455.6,29.1 455.4,28.7 455.2,28.4 454.9,28.1 454.6,27.8 454.5,27.6 454.8,27.5 455.1,27.3 455.5,27.1 455.8,26.8 456.2,26.5 456.5,26.2 456.7,25.8 457,25.5 457.2,25.1 457.4,24.7 457.5,24.3 457.6,23.9 457.7,23.5 457.8,23 457.8,22.6 457.8,22.2 457.7,21.7 457.6,21.3 457.5,20.9 457.4,20.5 457.2,20.1 457,19.7 456.7,19.4 456.5,19 456.2,18.7 455.8,18.4 455.5,18.2 455.2,18 455.4,17.8 455.7,17.5 455.9,17.1 456.1,16.8 456.3,16.4 456.4,16.1 456.5,15.7 456.6,15.3 456.6,14.9 456.6,14.5 456.6,14.1 456.6,13.7 456.5,13.3 456.4,12.9 456.3,12.6 456.1,12.2 455.9,11.9 455.7,11.5 455.4,11.2 455.2,10.9 454.9,10.6 454.6,10.4 454.2,10.2 453.9,10 453.5,9.8 453.1,9.7 452.8,9.6 452.4,9.5 452,9.4 451.6,9.4 451.2,9.4 450.8,9.5 450.4,9.6 450,9.7 449.6,9.8 449.4,9.9 449.1,9.4 448.9,8.9 448.5,8.5 448.2,8 447.8,7.6 447.4,7.2 446.9,6.8 446.5,6.5 445.9,6.2 445.4,6 444.9,5.8 444.3,5.6 443.8,5.5 443.2,5.5 442.6,5.4 442.1,5.5 441.5,5.5 440.9,5.6 440.4,5.8 439.8,6 439.3,6.2 438.8,6.5 438.3,6.8 437.9,7.2 437.5,7.6 437.1,8 436.7,8.5 436.6,8.6 436.4,8.3 436.1,7.9 435.7,7.5 435.4,7.1 434.9,6.8 434.5,6.5 434.1,6.3 433.6,6 433.1,5.9 432.6,5.7 432.1,5.6 431.6,5.6 431.1,5.5 430.5,5.6 430,5.6 429.5,5.7 429,5.9 428.5,6 428.1,6.3 427.6,6.5 427.2,6.8 426.8,7.1 426.4,7.5 426,7.9 425.7,8.3 425.4,8.7 425.2,9.1 425,9.6 424.8,10.1 424.8,10.2 424.7,9.9 424.5,9.3 424.2,8.8 423.9,8.2 423.5,7.7 423.2,7.2 422.7,6.8 422.3,6.3 421.8,5.9 421.3,5.6 420.7,5.3 420.1,5 419.6,4.8 419,4.6 418.3,4.5 417.7,4.4 417.1,4.4 416.5,4.4 415.8,4.5 415.2,4.6 414.6,4.8 414,5 413.5,5.3 412.9,5.6 412.4,5.9 411.9,6.3 411.4,6.8 411,7.2 410.6,7.7 410.6,7.7 410.4,7.4 410,7 409.6,6.6 409.2,6.2 408.8,5.8 408.3,5.5 407.8,5.2 407.3,5 406.8,4.8 406.3,4.7 405.7,4.6 405.2,4.5 404.6,4.5 404,4.5 403.5,4.6 402.9,4.7 402.4,4.8 401.9,5 401.4,5.2 400.9,5.5 400.4,5.8 400,6.2 399.6,6.6 399.2,7 398.8,7.4 398.5,7.9 398.3,8.3 398.2,8.2 397.9,7.8 397.5,7.4 397.1,7 396.7,6.7 396.3,6.4 395.8,6.1 395.3,5.9 394.8,5.7 394.3,5.6 393.8,5.5 393.3,5.4 392.7,5.4 392.2,5.4 391.7,5.5 391.1,5.6 390.6,5.7 390.1,5.9 389.6,6.1 389.2,6.4 388.7,6.7 388.3,7 387.9,7.4 387.6,7.8 387.2,8.2 386.9,8.6 386.7,9.1 386.5,9.4 386.4,8.9 386.1,8.4 385.8,7.8 385.5,7.3 385.1,6.9 384.7,6.4 384.3,6 383.8,5.6 383.3,5.3 382.7,5 382.2,4.7 381.6,4.5 381,4.4 380.5,4.2 379.9,4.2 379.3,4.2 378.6,4.2 378,4.2 377.5,4.4 376.9,4.5 376.3,4.7 375.8,5 375.2,5.3 374.7,5.6 374.3,6 373.8,6.4 373.4,6.9 373.1,7.3 372.8,7.1 372.5,6.7 372.1,6.4 371.7,6.2 371.3,5.9 370.8,5.7 370.4,5.6 369.9,5.4 369.5,5.3 369,5.3 368.5,5.3 368,5.3 367.5,5.3 367.1,5.4 366.6,5.6 366.1,5.7 365.7,5.9 365.3,6.2 364.9,6.4 364.5,6.7 364.1,7.1 363.8,7.4 363.5,7.8 363.2,8.2 363,8.6 362.8,9.1 362.7,9.3 362.6,8.8 362.4,8.3 362.2,7.8 361.9,7.3 361.6,6.8 361.2,6.3 360.8,5.9 360.4,5.5 359.9,5.2 359.4,4.8 358.9,4.6 358.4,4.3 357.9,4.1 357.3,4 356.7,3.8 356.2,3.8 355.6,3.8 355,3.8 354.4,3.8 353.9,4 353.3,4.1 352.8,4.3 352.2,4.6 351.7,4.8 351.3,5.2 350.8,5.5 350.4,5.9 350,6.3 349.6,6.8 349.3,7.3 349,7.8 348.9,8 348.8,7.8 348.4,7.3 348.1,6.8 347.7,6.4 347.2,6 346.8,5.6 346.3,5.3 345.7,5 345.2,4.7 344.6,4.5 344.1,4.4 343.5,4.2 342.9,4.2 342.3,4.1 341.7,4.2 341.1,4.2 340.5,4.4 340,4.5 339.4,4.7 338.9,5 338.3,5.3 337.8,5.6 337.4,6 336.9,6.4 336.5,6.8 336.2,7.3 335.8,7.8 335.8,7.8 335.6,7.6 335.2,7.3 334.8,6.9 334.4,6.7 333.9,6.4 333.5,6.2 333,6 332.5,5.9 332,5.8 331.5,5.7 331,5.7 330.5,5.7 330,5.8 329.5,5.9 329,6 328.5,6.2 328.1,6.4 327.6,6.7 327.2,6.9 326.8,7.3 326.4,7.6 326.1,8 325.8,8.4 325.5,8.8 325.3,9.2 325.1,9.5 324.9,9.1 324.6,8.7 324.3,8.2 323.9,7.8 323.6,7.5 323.1,7.2 322.7,6.9 322.2,6.6 321.8,6.4 321.3,6.2 320.7,6 320.2,5.9 319.7,5.9 319.2,5.9 318.6,5.9 318.1,5.9 317.6,6 317.1,6.2 316.6,6.4 316.1,6.6 315.6,6.9 315.2,7.2 314.8,7.5 314.4,7.8 314,8.2 313.8,8.5 313.7,8.3 313.5,7.9 313.2,7.5 312.9,7.1 312.5,6.7 312.2,6.4 311.8,6.1 311.4,5.8 310.9,5.6 310.5,5.4 310,5.2 309.5,5.1 309,5 308.5,4.9 308,4.9 307.5,4.9 307,5 306.5,5.1 306.1,5.2 305.6,5.4 305.1,5.6 304.7,5.8 304.3,6.1 303.9,6.4 303.5,6.7 303.2,7.1 302.9,7.5 302.6,7.9 302.4,8.3 302.2,8.8 302,9.3 301.8,9.8 301.8,10.1 301.7,9.7 301.5,9.1 301.3,8.5 301,7.9 300.7,7.3 300.4,6.8 300,6.3 299.5,5.8 299.1,5.4 298.6,5 298,4.6 297.5,4.3 296.9,4.1 296.3,3.8 295.7,3.7 295,3.5 294.4,3.5 293.8,3.4 293.1,3.5 292.5,3.5 291.9,3.7 291.3,3.8 290.7,4.1 290.1,4.3 289.5,4.6 289,5 288.5,5.4 288,5.8 287.6,6.3 287.2,6.8 286.8,7.3 286.7,7.6 286.5,7.3 286.2,6.7 285.8,6.1 285.4,5.6 285,5.1 284.5,4.7 284,4.3 283.4,3.9 282.8,3.6 282.2,3.3 281.6,3.1 281,2.9 280.3,2.8 279.7,2.7 279,2.7 278.3,2.7 277.7,2.8 277,2.9 276.4,3.1 275.8,3.3 275.2,3.6 274.6,3.9 274,4.3 273.5,4.7 273,5.1 272.6,5.6 272.2,6.1 271.8,6.7 271.6,7 271.6,7 271.2,6.5 270.8,6.1 270.4,5.8 269.9,5.4 269.4,5.2 268.8,4.9 268.3,4.7 267.7,4.6 267.1,4.4 266.6,4.4 266,4.4 265.4,4.4 264.8,4.4 264.2,4.6 263.7,4.7 263.1,4.9 262.6,5.2 262.1,5.4 261.6,5.8 261.1,6.1 260.7,6.5 260.3,7 260,7.4 259.6,7.9 259.3,8.4 259.1,8.9 258.9,8.4 258.5,8 258.1,7.5 257.6,7.1 257.2,6.8 256.7,6.4 256.2,6.2 255.6,5.9 255.1,5.7 254.5,5.5 253.9,5.4 253.3,5.4 252.7,5.3 252.1,5.4 251.5,5.4 251,5.5 250.4,5.7 249.8,5.9 249.3,6.2 248.8,6.4 248.3,6.8 247.8,7.1 247.4,7.5 247,8 247,8 246.8,7.7 246.5,7.3 246.2,7 245.8,6.6 245.4,6.3 245,6.1 244.6,5.8 244.1,5.6 243.6,5.4 243.2,5.3 242.7,5.2 242.2,5.2 241.7,5.1 241.2,5.2 240.7,5.2 240.2,5.3 239.7,5.4 239.3,5.6 238.8,5.8 238.4,6.1 238,6.3 237.6,6.6 237.2,7 236.9,7.3 236.6,7.7 236.3,8.1 236.1,8.6 235.9,9 235.7,9.5 235.7,9.6 235.6,9.4 235.4,9 235,8.5 234.7,8.1 234.3,7.7 233.9,7.3 233.5,6.9 233,6.6 232.5,6.4 232,6.1 231.5,5.9 231,5.8 230.4,5.7 229.9,5.6 229.3,5.6 228.8,5.6 228.2,5.7 227.7,5.8 227.2,5.9 226.6,6.1 226.1,6.4 225.6,6.6 225.2,6.9 224.7,7.3 224.3,7.7 224,8.1 223.9,8.1 223.8,8 223.5,7.6 223.2,7.2 222.9,6.8 222.5,6.5 222.2,6.2 221.8,5.9 221.3,5.7 220.9,5.5 220.4,5.3 220,5.2 219.5,5.1 219,5 218.5,5 218,5 217.6,5.1 217.1,5.2 216.6,5.3 216.2,5.5 215.7,5.7 215.3,5.9 214.9,6.2 214.5,6.5 214.2,6.8 213.8,7.2 213.5,7.6 213.3,8 213,8.4 213,8.5 212.8,8.3 212.5,7.9 212.2,7.6 211.8,7.2 211.4,6.9 211,6.7 210.6,6.4 210.2,6.2 209.7,6.1 209.3,5.9 208.8,5.8 208.3,5.8 207.9,5.8 207.4,5.8 206.9,5.8 206.4,5.9 206,6.1 205.5,6.2 205.1,6.4 204.7,6.7 204.3,6.9 203.9,7.2 203.6,7.6 203.2,7.9 202.9,8.3 202.7,8.7 202.5,9 202.3,8.8 202.1,8.4 201.8,8 201.5,7.7 201.1,7.3 200.7,7 200.3,6.8 199.9,6.5 199.5,6.3 199,6.2 198.5,6 198.1,5.9 197.6,5.9 197.1,5.9 196.6,5.9 196.1,5.9 195.7,6 195.2,6.2 194.8,6.3 194.3,6.5 193.9,6.8 193.5,7 193.1,7.3 192.8,7.7 192.4,8 192.1,8.4 191.9,8.8 191.6,9.2 191.4,9.7 191.4,9.9 191.2,9.5 191,8.9 190.8,8.4 190.5,7.9 190.2,7.4 189.8,7 189.5,6.5 189,6.2 188.6,5.8 188.1,5.5 187.6,5.2 187.1,5 186.5,4.8 186,4.6 185.4,4.5 184.8,4.4 184.3,4.4 183.7,4.4 183.1,4.5 182.6,4.6 182,4.8 181.5,5 180.9,5.2 180.4,5.5 180,5.8 179.5,6.2 179.1,6.5 178.7,7 178.3,7.4 178,7.9 177.9,8.1 177.7,7.7 177.4,7.2 177.1,6.7 176.7,6.2 176.3,5.8 175.9,5.3" fill="none" stroke="#000" stroke-width="3.4" stroke-linejoin="round"/>
<path d="M151,174.2 150.7,174.4 150.5,174.6 150.4,174.8 150.2,175.1 150.1,175.4 150.1,175.7 150,176 150.1,176.3 150.1,176.6 150.2,176.9 150.4,177.2 150.5,177.4 150.7,177.6 151,177.8 151,177.9 150.9,178 150.8,178.2 150.7,178.5 150.7,178.7 150.7,179 150.7,179.3 150.7,179.3 150.7,179.3 150.4,179.7 150.2,180 150,180.4 149.9,180.8 149.8,181.2 149.7,181.6 149.8,182 149.9,182.4 150,182.8 150.2,183.2 150.4,183.6 150.7,183.9 151,184.1 151.1,184.2 151,184.3 150.8,184.6 150.7,184.9 150.6,185.2 150.5,185.5 150.5,185.8 150.5,186.1 150.6,186.4 150.7,186.6 150.5,186.8 150.2,187.1 150,187.4 149.9,187.7 149.8,188.1 149.7,188.5 149.7,188.8 149.7,189.2 149.8,189.5 149.9,189.9 150,190.2 150.2,190.5 150.5,190.8 150.8,191 151.1,191.3 151.1,191.3 151,191.5 150.9,191.8 150.9,192.1 150.8,192.5 150.9,192.8 150.9,193.2 151,193.5 151.2,193.8 151.4,194.1 151.5,194.3 151.5,194.3 151.3,194.6 151.1,194.9 151,195.3 150.9,195.6 150.9,195.9 150.9,196.3 151,196.6 151,196.7 150.8,196.7 150.5,197 150.2,197.2 149.9,197.5 149.7,197.9 149.5,198.2 149.4,198.6 149.3,199 149.3,199.4 149.3,199.8 149.4,200.2 149.5,200.6 149.7,201 149.9,201.3 150.2,201.6 150.3,201.7 150.2,201.7 150,202.1 149.9,202.6 149.8,203 149.8,203.4 149.8,203.9 149.9,204.3 150,204.7 150.2,205.1 150.5,205.5 150.8,205.8 150.6,205.9 150.4,206.2 150.2,206.5 150,206.8 149.9,207.1 149.8,207.5 149.8,207.8 149.8,208.2 149.9,208.5 150,208.8 150.2,209.2 150.2,209.3 150.1,209.5 149.9,209.8 149.7,210.1 149.6,210.5 149.5,210.9 149.5,211.3 149.5,211.7 149.6,212.1 149.7,212.4 149.9,212.8 150.1,213.1 150.4,213.4 150.4,213.4 150.3,213.5 150.1,213.8 149.9,214.1 149.8,214.5 149.7,214.8 149.7,215.2 149.7,215.5 149.8,215.9 149.9,216.2 150.1,216.5 150.3,216.8 150.5,217.1 150.8,217.3 151.1,217.5 151.2,217.6 151.1,217.7 151,218 151,218.3 150.9,218.7 151,219 151,219.3 151.1,219.7 151.2,219.8 151.2,219.8 150.9,220 150.6,220.3 150.4,220.6 150.2,221 150.1,221.3 150,221.7 150,222.1 150,222.5 150.1,222.8 150.2,223.2 150.4,223.5 150.6,223.8 150.8,224 150.8,224.1 150.6,224.4 150.4,224.7 150.3,225.1 150.2,225.5 150.2,225.8 150.2,226.2 150.3,226.6 150.4,227 150.6,227.3 150.7,227.5 150.5,227.6 150.3,227.9 150.1,228.2 149.9,228.5 149.8,228.9 149.7,229.3 149.7,229.6 149.7,230 149.8,230.4 149.9,230.8 150.1,231.1 150.3,231.4 150.5,231.7 150.8,232 151.1,232.1 151,232.3 150.9,232.5 150.8,232.8 150.7,233.1 150.7,233.4 150.7,233.7 150.8,234 150.9,234.2 150.7,234.4 150.5,234.7 150.3,235.1 150.1,235.6 150.1,236 150,236.4 150.1,236.9 150.1,237.3 150.3,237.7 150.5,238.1 150.7,238.5 150.9,238.7 150.7,238.9 150.4,239.2 150.2,239.5 150.1,239.8 150,240.1 149.9,240.5 149.9,240.8 149.9,241.2 150,241.6 150.1,241.9 150.2,242.2 150.3,242.3 150.2,242.4 150,242.6 149.8,243 149.6,243.3 149.5,243.7 149.4,244 149.4,244.4 149.4,244.8 149.5,245.1 149.6,245.5 149.8,245.8 150,246.2 150.2,246.4 150.5,246.7 150.8,246.9 150.9,246.9 150.8,247.1 150.6,247.4 150.6,247.8 150.6,248.1 150.6,248.5 150.6,248.7 150.6,248.7 150.2,249 149.9,249.3 149.6,249.6 149.3,250 149.1,250.4 149,250.8 148.9,251.3 148.9,251.7 148.9,252.2 149,252.6 149.1,253 149.3,253.4 149.6,253.8 149.9,254.2 150.2,254.5 150.6,254.7 151,254.9 150.9,255.1 150.7,255.3 150.6,255.6 150.6,255.9 150.6,256.2 150.6,256.5 150.6,256.8 150.7,257.1 150.9,257.4 151,257.6 151.1,257.6 151,257.7 150.9,258.1 150.7,258.4 150.7,258.8 150.6,259.2 150.7,259.6 150.7,259.9 150.9,260.3 151,260.6 151.2,261 151.3,261.1 151.3,261.1 151.1,261.3 150.9,261.5 150.7,261.7 150.5,261.9 150.4,262.2 150.3,262.4 150.2,262.7 150.2,263 150.2,263.3 150.3,263.5 150.4,263.8 150.5,264.1 150.7,264.3 150.9,264.5 150.9,264.5 150.8,264.7 150.7,265.1 150.6,265.4 150.6,265.8 150.6,266.1 150.7,266.5 150.8,266.8 150.9,267.2 151.1,267.4 151.2,267.5 155.4,267.5 453.8,267.5 457.9,267.5 458,267.4 458.2,267.1 458.4,266.7 458.5,266.4 458.6,266 458.6,265.7 458.6,265.3 458.5,265 458.4,264.6 458.2,264.3 458,264 457.8,263.8 457.9,263.8 458.1,263.5 458.2,263.2 458.3,262.8 458.4,262.5 458.4,262.1 458.4,261.7 458.3,261.4 458.2,261 458.1,260.7 457.9,260.4 457.6,260.2 457.4,260 457.5,259.7 457.6,259.4 457.6,259.1 457.6,258.8 457.5,258.5 457.4,258.2 457.3,258 457.1,257.7 457,257.6 457.1,257.5 457.3,257.2 457.5,256.9 457.7,256.6 457.8,256.3 457.8,255.9 457.9,255.5 457.8,255.2 457.8,254.8 457.7,254.5 457.5,254.2 457.3,253.9 457.4,253.9 457.7,253.6 458,253.3 458.3,252.9 458.5,252.5 458.6,252.1 458.7,251.7 458.7,251.3 458.7,250.8 458.6,250.4 458.5,250 458.3,249.6 458,249.3 457.8,249 457.9,249 458.1,248.6 458.3,248.2 458.4,247.8 458.5,247.4 458.5,246.9 458.5,246.5 458.4,246.1 458.3,245.7 458.1,245.3 457.9,244.9 457.6,244.6 457.3,244.4 457.4,244.1 457.5,243.7 457.5,243.4 457.5,243 457.4,242.7 457.3,242.3 457.2,242.2 457.3,242.2 457.6,242 457.8,241.8 458.1,241.5 458.3,241.2 458.4,240.9 458.5,240.6 458.6,240.2 458.6,239.9 458.6,239.5 458.5,239.2 458.4,238.8 458.3,238.5 458.1,238.2 457.8,238 457.6,237.7 457.5,237.7 457.6,237.4 457.6,237.1 457.7,236.8 457.6,236.4 457.6,236.1 457.5,235.8 457.3,235.6 457.2,235.4 457.4,235.3 457.6,235.1 457.8,234.8 457.9,234.5 458,234.2 458.1,233.9 458.1,233.6 458.1,233.2 458,232.9 457.9,232.6 457.8,232.3 457.6,232.1 457.4,231.8 457.2,231.6 457,231.5 457.1,231.4 457.3,231 457.4,230.7 457.5,230.3 457.5,230 457.5,229.6 457.4,229.3 457.3,228.9 457.1,228.6 457,228.4 457.1,228.3 457.4,228 457.7,227.7 457.9,227.4 458.1,227 458.3,226.6 458.3,226.2 458.4,225.7 458.3,225.3 458.3,224.9 458.1,224.5 457.9,224.1 457.7,223.7 457.4,223.4 457.4,223.3 457.4,223.1 457.4,222.8 457.4,222.5 457.3,222.3 457.2,222.1 457.1,221.9 457.3,221.8 457.5,221.5 457.6,221.3 457.7,221 457.8,220.8 457.9,220.5 457.9,220.2 457.9,219.9 457.8,219.6 457.7,219.3 457.6,219.1 457.5,218.9 457.7,218.8 458,218.5 458.3,218.3 458.6,217.9 458.8,217.6 459,217.2 459.2,216.8 459.2,216.4 459.3,216 459.2,215.5 459.2,215.1 459,214.7 458.8,214.3 458.6,214 458.3,213.7 458,213.4 457.7,213.2 457.3,213 456.9,212.8 456.9,212.7 456.8,212.5 456.7,212.3 456.9,212.2 457.1,212 457.4,211.8 457.6,211.6 457.8,211.3 457.9,211 458,210.7 458.1,210.4 458.1,210.1 458.1,209.7 458,209.4 457.9,209.1 457.8,208.8 457.6,208.6 457.4,208.3 457.1,208.1 456.9,208 457,207.9 457.1,207.6 457.1,207.3 457.2,207 457.1,206.7 457.1,206.4 457,206.1 456.8,205.8 456.8,205.7 457,205.6 457.3,205.4 457.5,205.1 457.7,204.8 457.8,204.5 458,204.2 458,203.8 458,203.5 458,203.1 458,202.8 457.8,202.4 457.7,202.1 457.5,201.8 457.3,201.6 457,201.4 457.1,201.3 457.1,201 457.1,200.7 457.1,200.4 457.1,200.2 457,199.9 456.8,199.7 456.7,199.4 456.5,199.3 456.6,199.2 456.8,199 457,198.7 457.2,198.4 457.3,198.1 457.3,197.7 457.4,197.4 457.3,197.1 457.3,196.8 457.2,196.4 457,196.1 457,196.1 457.1,196 457.5,195.8 457.8,195.5 458,195.2 458.3,194.9 458.4,194.5 458.6,194.1 458.7,193.7 458.7,193.3 458.7,192.9 458.6,192.5 458.4,192.1 458.3,191.8 458,191.4 457.8,191.1 457.6,191 457.7,190.7 457.9,190.4 457.9,190 458,189.7 457.9,189.3 457.9,188.9 457.7,188.6 457.6,188.3 457.4,188 457.6,187.8 457.9,187.5 458.1,187.2 458.3,186.8 458.4,186.4 458.5,186 458.5,185.6 458.5,185.2 458.4,184.8 458.3,184.4 458.1,184 458,183.8 458,183.8 458.1,183.5 458.2,183.2 458.2,182.9 458.3,182.6 458.2,182.3 458.2,182.1 458.1,181.8 458,181.5 457.8,181.3 457.6,181 457.5,181 457.7,180.8 457.9,180.5 458.2,180.2 458.3,179.8 458.5,179.4 458.6,179.1 458.6,178.7 458.6,178.3 458.5,177.9 458.3,177.5 458.2,177.1 457.9,176.8 457.7,176.5 457.6,176.4 457.6,176.3 457.6,176 457.6,175.7 457.5,175.5 457.5,175.2 457.3,175 457.2,174.8 457,174.6 456.8,174.4 456.6,174.2 456.3,174.1 456.1,174 456,174 455.2,174 153.5,174 151.2,174Z" fill="#d9836a"/>
<path d="M344,185a3.6,3.6 0 1,0 7.2,0a3.6,3.6 0 1,0 -7.2,0M168,224a3.0,3.0 0 1,0 5.9,0a3.0,3.0 0 1,0 -5.9,0M397,177a4.3,4.3 0 1,0 8.5,0a4.3,4.3 0 1,0 -8.5,0M240,262a3.4,3.4 0 1,0 6.8,0a3.4,3.4 0 1,0 -6.8,0M194,236a3.2,3.2 0 1,0 6.5,0a3.2,3.2 0 1,0 -6.5,0M395,219a3.3,3.3 0 1,0 6.6,0a3.3,3.3 0 1,0 -6.6,0M328,195a3.3,3.3 0 1,0 6.6,0a3.3,3.3 0 1,0 -6.6,0M175,197a3.2,3.2 0 1,0 6.4,0a3.2,3.2 0 1,0 -6.4,0M198,213a3.6,3.6 0 1,0 7.2,0a3.6,3.6 0 1,0 -7.2,0M329,225a4.0,4.0 0 1,0 8.1,0a4.0,4.0 0 1,0 -8.1,0M334,218a4.3,4.3 0 1,0 8.7,0a4.3,4.3 0 1,0 -8.7,0M194,200a2.8,2.8 0 1,0 5.6,0a2.8,2.8 0 1,0 -5.6,0M424,256a3.5,3.5 0 1,0 7.1,0a3.5,3.5 0 1,0 -7.1,0M403,226a4.5,4.5 0 1,0 9.0,0a4.5,4.5 0 1,0 -9.0,0M422,205a3.3,3.3 0 1,0 6.6,0a3.3,3.3 0 1,0 -6.6,0M275,262a3.6,3.6 0 1,0 7.3,0a3.6,3.6 0 1,0 -7.3,0M259,177a3.5,3.5 0 1,0 7.0,0a3.5,3.5 0 1,0 -7.0,0M428,213a4.2,4.2 0 1,0 8.5,0a4.2,4.2 0 1,0 -8.5,0M419,261a4.1,4.1 0 1,0 8.2,0a4.1,4.1 0 1,0 -8.2,0M299,202a4.5,4.5 0 1,0 9.0,0a4.5,4.5 0 1,0 -9.0,0M393,243a2.9,2.9 0 1,0 5.8,0a2.9,2.9 0 1,0 -5.8,0M346,238a3.0,3.0 0 1,0 6.1,0a3.0,3.0 0 1,0 -6.1,0M249,217a3.3,3.3 0 1,0 6.5,0a3.3,3.3 0 1,0 -6.5,0M183,189a3.6,3.6 0 1,0 7.2,0a3.6,3.6 0 1,0 -7.2,0M154,248a3.6,3.6 0 1,0 7.1,0a3.6,3.6 0 1,0 -7.1,0M234,198a3.4,3.4 0 1,0 6.7,0a3.4,3.4 0 1,0 -6.7,0M330,240a3.6,3.6 0 1,0 7.1,0a3.6,3.6 0 1,0 -7.1,0M365,227a4.3,4.3 0 1,0 8.5,0a4.3,4.3 0 1,0 -8.5,0M370,245a2.8,2.8 0 1,0 5.7,0a2.8,2.8 0 1,0 -5.7,0M255,186a4.3,4.3 0 1,0 8.6,0a4.3,4.3 0 1,0 -8.6,0M200,260a3.4,3.4 0 1,0 6.8,0a3.4,3.4 0 1,0 -6.8,0M197,239a3.1,3.1 0 1,0 6.3,0a3.1,3.1 0 1,0 -6.3,0M259,215a3.9,3.9 0 1,0 7.9,0a3.9,3.9 0 1,0 -7.9,0M305,236a4.2,4.2 0 1,0 8.5,0a4.2,4.2 0 1,0 -8.5,0M441,232a3.6,3.6 0 1,0 7.1,0a3.6,3.6 0 1,0 -7.1,0M299,207a4.3,4.3 0 1,0 8.6,0a4.3,4.3 0 1,0 -8.6,0M314,239a4.3,4.3 0 1,0 8.5,0a4.3,4.3 0 1,0 -8.5,0M360,256a3.6,3.6 0 1,0 7.2,0a3.6,3.6 0 1,0 -7.2,0M360,256a3.7,3.7 0 1,0 7.4,0a3.7,3.7 0 1,0 -7.4,0M398,201a3.1,3.1 0 1,0 6.2,0a3.1,3.1 0 1,0 -6.2,0M406,225a4.5,4.5 0 1,0 9.1,0a4.5,4.5 0 1,0 -9.1,0M331,199a3.0,3.0 0 1,0 6.0,0a3.0,3.0 0 1,0 -6.0,0M421,198a3.1,3.1 0 1,0 6.2,0a3.1,3.1 0 1,0 -6.2,0M309,241a3.8,3.8 0 1,0 7.7,0a3.8,3.8 0 1,0 -7.7,0M164,247a4.0,4.0 0 1,0 8.0,0a4.0,4.0 0 1,0 -8.0,0M248,259a3.7,3.7 0 1,0 7.4,0a3.7,3.7 0 1,0 -7.4,0M381,183a3.4,3.4 0 1,0 6.7,0a3.4,3.4 0 1,0 -6.7,0M377,238a4.1,4.1 0 1,0 8.1,0a4.1,4.1 0 1,0 -8.1,0M358,178a4.3,4.3 0 1,0 8.7,0a4.3,4.3 0 1,0 -8.7,0M163,197a3.3,3.3 0 1,0 6.7,0a3.3,3.3 0 1,0 -6.7,0M301,184a3.6,3.6 0 1,0 7.1,0a3.6,3.6 0 1,0 -7.1,0M193,206a3.4,3.4 0 1,0 6.8,0a3.4,3.4 0 1,0 -6.8,0M185,248a2.9,2.9 0 1,0 5.7,0a2.9,2.9 0 1,0 -5.7,0M211,257a3.5,3.5 0 1,0 7.1,0a3.5,3.5 0 1,0 -7.1,0M434,203a3.7,3.7 0 1,0 7.5,0a3.7,3.7 0 1,0 -7.5,0M308,212a4.6,4.6 0 1,0 9.2,0a4.6,4.6 0 1,0 -9.2,0M271,248a3.7,3.7 0 1,0 7.4,0a3.7,3.7 0 1,0 -7.4,0M254,252a4.5,4.5 0 1,0 8.9,0a4.5,4.5 0 1,0 -8.9,0M154,230a4.2,4.2 0 1,0 8.3,0a4.2,4.2 0 1,0 -8.3,0M302,212a4.1,4.1 0 1,0 8.2,0a4.1,4.1 0 1,0 -8.2,0M198,218a3.2,3.2 0 1,0 6.3,0a3.2,3.2 0 1,0 -6.3,0M410,247a3.5,3.5 0 1,0 7.0,0a3.5,3.5 0 1,0 -7.0,0M386,225a4.0,4.0 0 1,0 8.0,0a4.0,4.0 0 1,0 -8.0,0M222,246a4.0,4.0 0 1,0 7.9,0a4.0,4.0 0 1,0 -7.9,0M450,199a3.5,3.5 0 1,0 7.0,0a3.5,3.5 0 1,0 -7.0,0M384,199a4.2,4.2 0 1,0 8.4,0a4.2,4.2 0 1,0 -8.4,0M405,190a4.1,4.1 0 1,0 8.2,0a4.1,4.1 0 1,0 -8.2,0M238,200a3.4,3.4 0 1,0 6.9,0a3.4,3.4 0 1,0 -6.9,0M385,233a3.5,3.5 0 1,0 7.0,0a3.5,3.5 0 1,0 -7.0,0M356,249a3.2,3.2 0 1,0 6.3,0a3.2,3.2 0 1,0 -6.3,0M410,223a3.9,3.9 0 1,0 7.9,0a3.9,3.9 0 1,0 -7.9,0M409,195a3.6,3.6 0 1,0 7.3,0a3.6,3.6 0 1,0 -7.3,0M364,176a3.5,3.5 0 1,0 7.0,0a3.5,3.5 0 1,0 -7.0,0M313,216a3.7,3.7 0 1,0 7.4,0a3.7,3.7 0 1,0 -7.4,0M401,185a4.1,4.1 0 1,0 8.2,0a4.1,4.1 0 1,0 -8.2,0M235,183a3.6,3.6 0 1,0 7.3,0a3.6,3.6 0 1,0 -7.3,0M190,217a3.1,3.1 0 1,0 6.2,0a3.1,3.1 0 1,0 -6.2,0M283,188a4.6,4.6 0 1,0 9.2,0a4.6,4.6 0 1,0 -9.2,0M213,216a3.9,3.9 0 1,0 7.8,0a3.9,3.9 0 1,0 -7.8,0M352,187a4.3,4.3 0 1,0 8.7,0a4.3,4.3 0 1,0 -8.7,0M262,183a3.6,3.6 0 1,0 7.1,0a3.6,3.6 0 1,0 -7.1,0M337,208a4.1,4.1 0 1,0 8.2,0a4.1,4.1 0 1,0 -8.2,0M243,250a4.5,4.5 0 1,0 9.0,0a4.5,4.5 0 1,0 -9.0,0M396,181a3.6,3.6 0 1,0 7.1,0a3.6,3.6 0 1,0 -7.1,0M311,210a3.1,3.1 0 1,0 6.3,0a3.1,3.1 0 1,0 -6.3,0M328,186a3.1,3.1 0 1,0 6.2,0a3.1,3.1 0 1,0 -6.2,0M276,266a3.5,3.5 0 1,0 7.0,0a3.5,3.5 0 1,0 -7.0,0M440,237a4.0,4.0 0 1,0 7.9,0a4.0,4.0 0 1,0 -7.9,0M424,228a4.1,4.1 0 1,0 8.3,0a4.1,4.1 0 1,0 -8.3,0M292,248a4.4,4.4 0 1,0 8.8,0a4.4,4.4 0 1,0 -8.8,0M151,260a2.9,2.9 0 1,0 5.7,0a2.9,2.9 0 1,0 -5.7,0M342,182a4.2,4.2 0 1,0 8.3,0a4.2,4.2 0 1,0 -8.3,0M280,187a4.3,4.3 0 1,0 8.6,0a4.3,4.3 0 1,0 -8.6,0M225,257a3.5,3.5 0 1,0 7.0,0a3.5,3.5 0 1,0 -7.0,0M318,216a4.2,4.2 0 1,0 8.3,0a4.2,4.2 0 1,0 -8.3,0M257,222a3.2,3.2 0 1,0 6.4,0a3.2,3.2 0 1,0 -6.4,0M252,185a3.3,3.3 0 1,0 6.5,0a3.3,3.3 0 1,0 -6.5,0M234,238a3.1,3.1 0 1,0 6.1,0a3.1,3.1 0 1,0 -6.1,0M196,264a4.0,4.0 0 1,0 7.9,0a4.0,4.0 0 1,0 -7.9,0M176,254a4.2,4.2 0 1,0 8.3,0a4.2,4.2 0 1,0 -8.3,0M333,263a3.8,3.8 0 1,0 7.5,0a3.8,3.8 0 1,0 -7.5,0M193,176a3.0,3.0 0 1,0 5.9,0a3.0,3.0 0 1,0 -5.9,0M289,226a4.3,4.3 0 1,0 8.6,0a4.3,4.3 0 1,0 -8.6,0M172,181a3.0,3.0 0 1,0 5.9,0a3.0,3.0 0 1,0 -5.9,0M259,261a4.2,4.2 0 1,0 8.4,0a4.2,4.2 0 1,0 -8.4,0M164,229a3.1,3.1 0 1,0 6.3,0a3.1,3.1 0 1,0 -6.3,0M218,204a3.2,3.2 0 1,0 6.5,0a3.2,3.2 0 1,0 -6.5,0M239,196a3.4,3.4 0 1,0 6.8,0a3.4,3.4 0 1,0 -6.8,0M327,226a4.1,4.1 0 1,0 8.2,0a4.1,4.1 0 1,0 -8.2,0M234,177a3.8,3.8 0 1,0 7.7,0a3.8,3.8 0 1,0 -7.7,0M244,194a3.5,3.5 0 1,0 7.1,0a3.5,3.5 0 1,0 -7.1,0M434,230a4.1,4.1 0 1,0 8.2,0a4.1,4.1 0 1,0 -8.2,0M163,225a4.1,4.1 0 1,0 8.1,0a4.1,4.1 0 1,0 -8.1,0M411,245a2.9,2.9 0 1,0 5.8,0a2.9,2.9 0 1,0 -5.8,0M447,176a4.2,4.2 0 1,0 8.4,0a4.2,4.2 0 1,0 -8.4,0M291,260a4.5,4.5 0 1,0 9.0,0a4.5,4.5 0 1,0 -9.0,0M375,183a4.0,4.0 0 1,0 7.9,0a4.0,4.0 0 1,0 -7.9,0M186,214a3.0,3.0 0 1,0 6.1,0a3.0,3.0 0 1,0 -6.1,0M241,180a3.8,3.8 0 1,0 7.5,0a3.8,3.8 0 1,0 -7.5,0M177,197a4.2,4.2 0 1,0 8.4,0a4.2,4.2 0 1,0 -8.4,0M238,228a4.4,4.4 0 1,0 8.7,0a4.4,4.4 0 1,0 -8.7,0M341,250a4.5,4.5 0 1,0 9.0,0a4.5,4.5 0 1,0 -9.0,0M223,192a4.6,4.6 0 1,0 9.2,0a4.6,4.6 0 1,0 -9.2,0M425,204a4.5,4.5 0 1,0 8.9,0a4.5,4.5 0 1,0 -8.9,0M176,196a4.4,4.4 0 1,0 8.7,0a4.4,4.4 0 1,0 -8.7,0M182,254a3.2,3.2 0 1,0 6.4,0a3.2,3.2 0 1,0 -6.4,0M382,187a3.7,3.7 0 1,0 7.4,0a3.7,3.7 0 1,0 -7.4,0M322,226a4.4,4.4 0 1,0 8.7,0a4.4,4.4 0 1,0 -8.7,0M160,240a4.3,4.3 0 1,0 8.7,0a4.3,4.3 0 1,0 -8.7,0M307,197a4.2,4.2 0 1,0 8.5,0a4.2,4.2 0 1,0 -8.5,0M279,199a4.2,4.2 0 1,0 8.4,0a4.2,4.2 0 1,0 -8.4,0M380,250a3.7,3.7 0 1,0 7.4,0a3.7,3.7 0 1,0 -7.4,0M155,177a3.8,3.8 0 1,0 7.6,0a3.8,3.8 0 1,0 -7.6,0M162,232a3.0,3.0 0 1,0 6.1,0a3.0,3.0 0 1,0 -6.1,0M383,177a4.0,4.0 0 1,0 8.1,0a4.0,4.0 0 1,0 -8.1,0M217,266a3.7,3.7 0 1,0 7.3,0a3.7,3.7 0 1,0 -7.3,0M306,253a3.3,3.3 0 1,0 6.6,0a3.3,3.3 0 1,0 -6.6,0M443,202a2.9,2.9 0 1,0 5.7,0a2.9,2.9 0 1,0 -5.7,0M234,209a3.9,3.9 0 1,0 7.7,0a3.9,3.9 0 1,0 -7.7,0M170,258a4.2,4.2 0 1,0 8.4,0a4.2,4.2 0 1,0 -8.4,0M375,265a2.9,2.9 0 1,0 5.8,0a2.9,2.9 0 1,0 -5.8,0M357,253a3.1,3.1 0 1,0 6.2,0a3.1,3.1 0 1,0 -6.2,0M273,193a4.5,4.5 0 1,0 8.9,0a4.5,4.5 0 1,0 -8.9,0M292,251a3.3,3.3 0 1,0 6.5,0a3.3,3.3 0 1,0 -6.5,0M331,243a3.4,3.4 0 1,0 6.8,0a3.4,3.4 0 1,0 -6.8,0M231,183a3.9,3.9 0 1,0 7.9,0a3.9,3.9 0 1,0 -7.9,0M274,193a3.4,3.4 0 1,0 6.8,0a3.4,3.4 0 1,0 -6.8,0M246,186a3.9,3.9 0 1,0 7.7,0a3.9,3.9 0 1,0 -7.7,0M197,195a3.4,3.4 0 1,0 6.9,0a3.4,3.4 0 1,0 -6.9,0M448,240a3.2,3.2 0 1,0 6.4,0a3.2,3.2 0 1,0 -6.4,0M404,261a3.4,3.4 0 1,0 6.8,0a3.4,3.4 0 1,0 -6.8,0M390,233a3.8,3.8 0 1,0 7.6,0a3.8,3.8 0 1,0 -7.6,0M422,236a4.0,4.0 0 1,0 7.9,0a4.0,4.0 0 1,0 -7.9,0M433,217a3.0,3.0 0 1,0 6.0,0a3.0,3.0 0 1,0 -6.0,0M153,241a3.6,3.6 0 1,0 7.3,0a3.6,3.6 0 1,0 -7.3,0M414,264a3.3,3.3 0 1,0 6.5,0a3.3,3.3 0 1,0 -6.5,0M211,227a2.8,2.8 0 1,0 5.7,0a2.8,2.8 0 1,0 -5.7,0M181,182a3.3,3.3 0 1,0 6.7,0a3.3,3.3 0 1,0 -6.7,0M283,193a4.0,4.0 0 1,0 8.1,0a4.0,4.0 0 1,0 -8.1,0M378,251a3.8,3.8 0 1,0 7.6,0a3.8,3.8 0 1,0 -7.6,0M377,248a4.1,4.1 0 1,0 8.2,0a4.1,4.1 0 1,0 -8.2,0M245,228a4.3,4.3 0 1,0 8.6,0a4.3,4.3 0 1,0 -8.6,0M225,208a2.8,2.8 0 1,0 5.6,0a2.8,2.8 0 1,0 -5.6,0M331,185a3.6,3.6 0 1,0 7.2,0a3.6,3.6 0 1,0 -7.2,0M206,186a4.4,4.4 0 1,0 8.8,0a4.4,4.4 0 1,0 -8.8,0M249,263a4.1,4.1 0 1,0 8.3,0a4.1,4.1 0 1,0 -8.3,0M327,219a4.0,4.0 0 1,0 7.9,0a4.0,4.0 0 1,0 -7.9,0M394,192a3.8,3.8 0 1,0 7.5,0a3.8,3.8 0 1,0 -7.5,0M232,192a3.2,3.2 0 1,0 6.4,0a3.2,3.2 0 1,0 -6.4,0M387,260a3.6,3.6 0 1,0 7.2,0a3.6,3.6 0 1,0 -7.2,0M203,191a3.4,3.4 0 1,0 6.7,0a3.4,3.4 0 1,0 -6.7,0M262,256a3.7,3.7 0 1,0 7.5,0a3.7,3.7 0 1,0 -7.5,0M298,232a3.1,3.1 0 1,0 6.2,0a3.1,3.1 0 1,0 -6.2,0M262,215a2.9,2.9 0 1,0 5.8,0a2.9,2.9 0 1,0 -5.8,0M242,227a3.9,3.9 0 1,0 7.8,0a3.9,3.9 0 1,0 -7.8,0M230,182a3.8,3.8 0 1,0 7.7,0a3.8,3.8 0 1,0 -7.7,0M196,175a4.5,4.5 0 1,0 9.1,0a4.5,4.5 0 1,0 -9.1,0M370,261a3.4,3.4 0 1,0 6.7,0a3.4,3.4 0 1,0 -6.7,0M382,253a3.9,3.9 0 1,0 7.9,0a3.9,3.9 0 1,0 -7.9,0M161,200a3.5,3.5 0 1,0 6.9,0a3.5,3.5 0 1,0 -6.9,0M283,227a3.1,3.1 0 1,0 6.3,0a3.1,3.1 0 1,0 -6.3,0M217,177a3.5,3.5 0 1,0 7.0,0a3.5,3.5 0 1,0 -7.0,0M186,196a2.8,2.8 0 1,0 5.7,0a2.8,2.8 0 1,0 -5.7,0M404,196a3.7,3.7 0 1,0 7.4,0a3.7,3.7 0 1,0 -7.4,0M324,179a3.8,3.8 0 1,0 7.6,0a3.8,3.8 0 1,0 -7.6,0M391,197a3.9,3.9 0 1,0 7.9,0a3.9,3.9 0 1,0 -7.9,0M368,226a3.4,3.4 0 1,0 6.9,0a3.4,3.4 0 1,0 -6.9,0M304,236a3.6,3.6 0 1,0 7.2,0a3.6,3.6 0 1,0 -7.2,0M371,244a4.2,4.2 0 1,0 8.3,0a4.2,4.2 0 1,0 -8.3,0M281,188a3.1,3.1 0 1,0 6.2,0a3.1,3.1 0 1,0 -6.2,0M240,226a2.9,2.9 0 1,0 5.8,0a2.9,2.9 0 1,0 -5.8,0M244,188a3.8,3.8 0 1,0 7.5,0a3.8,3.8 0 1,0 -7.5,0M211,250a2.9,2.9 0 1,0 5.8,0a2.9,2.9 0 1,0 -5.8,0M257,243a4.3,4.3 0 1,0 8.6,0a4.3,4.3 0 1,0 -8.6,0M267,261a4.4,4.4 0 1,0 8.8,0a4.4,4.4 0 1,0 -8.8,0M320,205a3.1,3.1 0 1,0 6.3,0a3.1,3.1 0 1,0 -6.3,0M357,180a4.0,4.0 0 1,0 7.9,0a4.0,4.0 0 1,0 -7.9,0M219,192a3.9,3.9 0 1,0 7.8,0a3.9,3.9 0 1,0 -7.8,0M268,180a3.1,3.1 0 1,0 6.1,0a3.1,3.1 0 1,0 -6.1,0M387,211a4.2,4.2 0 1,0 8.4,0a4.2,4.2 0 1,0 -8.4,0M336,175a3.4,3.4 0 1,0 6.8,0a3.4,3.4 0 1,0 -6.8,0M331,197a3.0,3.0 0 1,0 6.1,0a3.0,3.0 0 1,0 -6.1,0M450,205a4.0,4.0 0 1,0 8.0,0a4.0,4.0 0 1,0 -8.0,0M283,265a3.2,3.2 0 1,0 6.4,0a3.2,3.2 0 1,0 -6.4,0M159,234a4.0,4.0 0 1,0 8.1,0a4.0,4.0 0 1,0 -8.1,0M402,185a3.1,3.1 0 1,0 6.2,0a3.1,3.1 0 1,0 -6.2,0M294,200a3.0,3.0 0 1,0 6.1,0a3.0,3.0 0 1,0 -6.1,0M193,179a3.6,3.6 0 1,0 7.1,0a3.6,3.6 0 1,0 -7.1,0M191,178a3.0,3.0 0 1,0 5.9,0a3.0,3.0 0 1,0 -5.9,0M362,234a3.4,3.4 0 1,0 6.8,0a3.4,3.4 0 1,0 -6.8,0M392,179a3.6,3.6 0 1,0 7.1,0a3.6,3.6 0 1,0 -7.1,0M431,180a3.1,3.1 0 1,0 6.1,0a3.1,3.1 0 1,0 -6.1,0M295,207a2.9,2.9 0 1,0 5.8,0a2.9,2.9 0 1,0 -5.8,0M402,247a3.9,3.9 0 1,0 7.7,0a3.9,3.9 0 1,0 -7.7,0M275,226a3.7,3.7 0 1,0 7.4,0a3.7,3.7 0 1,0 -7.4,0M321,204a4.3,4.3 0 1,0 8.5,0a4.3,4.3 0 1,0 -8.5,0M306,197a3.9,3.9 0 1,0 7.7,0a3.9,3.9 0 1,0 -7.7,0M384,221a3.4,3.4 0 1,0 6.8,0a3.4,3.4 0 1,0 -6.8,0M314,238a3.1,3.1 0 1,0 6.3,0a3.1,3.1 0 1,0 -6.3,0M417,212a3.6,3.6 0 1,0 7.1,0a3.6,3.6 0 1,0 -7.1,0M307,245a3.1,3.1 0 1,0 6.2,0a3.1,3.1 0 1,0 -6.2,0M206,220a2.8,2.8 0 1,0 5.7,0a2.8,2.8 0 1,0 -5.7,0M281,187a3.2,3.2 0 1,0 6.3,0a3.2,3.2 0 1,0 -6.3,0M260,257a3.9,3.9 0 1,0 7.8,0a3.9,3.9 0 1,0 -7.8,0M234,233a3.7,3.7 0 1,0 7.4,0a3.7,3.7 0 1,0 -7.4,0M151,215a4.1,4.1 0 1,0 8.1,0a4.1,4.1 0 1,0 -8.1,0M394,263a2.8,2.8 0 1,0 5.7,0a2.8,2.8 0 1,0 -5.7,0M305,210a3.6,3.6 0 1,0 7.2,0a3.6,3.6 0 1,0 -7.2,0M397,215a3.8,3.8 0 1,0 7.6,0a3.8,3.8 0 1,0 -7.6,0M378,255a3.9,3.9 0 1,0 7.7,0a3.9,3.9 0 1,0 -7.7,0M309,184a3.5,3.5 0 1,0 7.0,0a3.5,3.5 0 1,0 -7.0,0M207,246a4.0,4.0 0 1,0 8.0,0a4.0,4.0 0 1,0 -8.0,0M190,228a4.4,4.4 0 1,0 8.7,0a4.4,4.4 0 1,0 -8.7,0M405,209a3.5,3.5 0 1,0 6.9,0a3.5,3.5 0 1,0 -6.9,0M309,213a4.6,4.6 0 1,0 9.1,0a4.6,4.6 0 1,0 -9.1,0M405,257a4.6,4.6 0 1,0 9.2,0a4.6,4.6 0 1,0 -9.2,0M182,262a3.5,3.5 0 1,0 6.9,0a3.5,3.5 0 1,0 -6.9,0M229,230a3.5,3.5 0 1,0 7.0,0a3.5,3.5 0 1,0 -7.0,0M214,264a3.1,3.1 0 1,0 6.3,0a3.1,3.1 0 1,0 -6.3,0M175,211a4.3,4.3 0 1,0 8.6,0a4.3,4.3 0 1,0 -8.6,0M392,217a3.5,3.5 0 1,0 7.1,0a3.5,3.5 0 1,0 -7.1,0M192,248a4.2,4.2 0 1,0 8.3,0a4.2,4.2 0 1,0 -8.3,0M215,236a4.4,4.4 0 1,0 8.8,0a4.4,4.4 0 1,0 -8.8,0M258,196a4.1,4.1 0 1,0 8.3,0a4.1,4.1 0 1,0 -8.3,0M338,211a2.8,2.8 0 1,0 5.6,0a2.8,2.8 0 1,0 -5.6,0M248,239a3.1,3.1 0 1,0 6.3,0a3.1,3.1 0 1,0 -6.3,0M295,245a3.4,3.4 0 1,0 6.9,0a3.4,3.4 0 1,0 -6.9,0M188,237a4.0,4.0 0 1,0 8.1,0a4.0,4.0 0 1,0 -8.1,0M333,258a3.5,3.5 0 1,0 6.9,0a3.5,3.5 0 1,0 -6.9,0M303,216a4.3,4.3 0 1,0 8.7,0a4.3,4.3 0 1,0 -8.7,0M250,197a3.5,3.5 0 1,0 6.9,0a3.5,3.5 0 1,0 -6.9,0M398,243a3.1,3.1 0 1,0 6.3,0a3.1,3.1 0 1,0 -6.3,0M396,265a3.4,3.4 0 1,0 6.8,0a3.4,3.4 0 1,0 -6.8,0M387,238a3.9,3.9 0 1,0 7.8,0a3.9,3.9 0 1,0 -7.8,0M219,175a4.4,4.4 0 1,0 8.7,0a4.4,4.4 0 1,0 -8.7,0M249,250a4.3,4.3 0 1,0 8.7,0a4.3,4.3 0 1,0 -8.7,0M407,242a4.1,4.1 0 1,0 8.2,0a4.1,4.1 0 1,0 -8.2,0M396,261a4.5,4.5 0 1,0 8.9,0a4.5,4.5 0 1,0 -8.9,0M414,204a4.5,4.5 0 1,0 8.9,0a4.5,4.5 0 1,0 -8.9,0M177,192a4.4,4.4 0 1,0 8.7,0a4.4,4.4 0 1,0 -8.7,0M315,262a3.4,3.4 0 1,0 6.8,0a3.4,3.4 0 1,0 -6.8,0M169,189a4.4,4.4 0 1,0 8.8,0a4.4,4.4 0 1,0 -8.8,0M393,214a4.0,4.0 0 1,0 8.0,0a4.0,4.0 0 1,0 -8.0,0M162,261a3.3,3.3 0 1,0 6.6,0a3.3,3.3 0 1,0 -6.6,0M210,220a3.7,3.7 0 1,0 7.3,0a3.7,3.7 0 1,0 -7.3,0M297,241a3.1,3.1 0 1,0 6.3,0a3.1,3.1 0 1,0 -6.3,0M390,205a3.5,3.5 0 1,0 7.0,0a3.5,3.5 0 1,0 -7.0,0M419,243a4.1,4.1 0 1,0 8.2,0a4.1,4.1 0 1,0 -8.2,0M389,214a3.4,3.4 0 1,0 6.8,0a3.4,3.4 0 1,0 -6.8,0M308,253a3.1,3.1 0 1,0 6.2,0a3.1,3.1 0 1,0 -6.2,0M360,218a4.5,4.5 0 1,0 9.0,0a4.5,4.5 0 1,0 -9.0,0M364,259a3.5,3.5 0 1,0 7.1,0a3.5,3.5 0 1,0 -7.1,0M290,198a3.2,3.2 0 1,0 6.3,0a3.2,3.2 0 1,0 -6.3,0M244,195a3.9,3.9 0 1,0 7.9,0a3.9,3.9 0 1,0 -7.9,0M321,242a4.2,4.2 0 1,0 8.3,0a4.2,4.2 0 1,0 -8.3,0M442,223a3.9,3.9 0 1,0 7.8,0a3.9,3.9 0 1,0 -7.8,0M310,219a3.4,3.4 0 1,0 6.8,0a3.4,3.4 0 1,0 -6.8,0M243,205a3.7,3.7 0 1,0 7.4,0a3.7,3.7 0 1,0 -7.4,0M284,225a4.0,4.0 0 1,0 8.0,0a4.0,4.0 0 1,0 -8.0,0M446,228a4.6,4.6 0 1,0 9.2,0a4.6,4.6 0 1,0 -9.2,0M245,231a3.8,3.8 0 1,0 7.7,0a3.8,3.8 0 1,0 -7.7,0M286,217a3.2,3.2 0 1,0 6.5,0a3.2,3.2 0 1,0 -6.5,0M445,182a4.3,4.3 0 1,0 8.5,0a4.3,4.3 0 1,0 -8.5,0M295,207a3.4,3.4 0 1,0 6.7,0a3.4,3.4 0 1,0 -6.7,0M434,206a3.8,3.8 0 1,0 7.7,0a3.8,3.8 0 1,0 -7.7,0M275,236a3.8,3.8 0 1,0 7.6,0a3.8,3.8 0 1,0 -7.6,0M311,185a2.8,2.8 0 1,0 5.7,0a2.8,2.8 0 1,0 -5.7,0M346,175a3.7,3.7 0 1,0 7.5,0a3.7,3.7 0 1,0 -7.5,0M235,243a3.4,3.4 0 1,0 6.8,0a3.4,3.4 0 1,0 -6.8,0M165,190a3.4,3.4 0 1,0 6.8,0a3.4,3.4 0 1,0 -6.8,0M344,239a4.3,4.3 0 1,0 8.6,0a4.3,4.3 0 1,0 -8.6,0M438,226a2.9,2.9 0 1,0 5.8,0a2.9,2.9 0 1,0 -5.8,0M350,207a3.9,3.9 0 1,0 7.8,0a3.9,3.9 0 1,0 -7.8,0M203,211a3.2,3.2 0 1,0 6.5,0a3.2,3.2 0 1,0 -6.5,0M354,262a3.5,3.5 0 1,0 6.9,0a3.5,3.5 0 1,0 -6.9,0M301,233a4.2,4.2 0 1,0 8.4,0a4.2,4.2 0 1,0 -8.4,0M258,200a4.0,4.0 0 1,0 8.0,0a4.0,4.0 0 1,0 -8.0,0M243,220a3.9,3.9 0 1,0 7.9,0a3.9,3.9 0 1,0 -7.9,0M318,264a3.4,3.4 0 1,0 6.9,0a3.4,3.4 0 1,0 -6.9,0M214,212a4.4,4.4 0 1,0 8.8,0a4.4,4.4 0 1,0 -8.8,0M408,180a3.1,3.1 0 1,0 6.2,0a3.1,3.1 0 1,0 -6.2,0M221,246a4.0,4.0 0 1,0 8.1,0a4.0,4.0 0 1,0 -8.1,0M199,247a4.4,4.4 0 1,0 8.7,0a4.4,4.4 0 1,0 -8.7,0M395,207a4.3,4.3 0 1,0 8.5,0a4.3,4.3 0 1,0 -8.5,0M229,260a3.1,3.1 0 1,0 6.1,0a3.1,3.1 0 1,0 -6.1,0M268,203a4.3,4.3 0 1,0 8.6,0a4.3,4.3 0 1,0 -8.6,0M380,224a3.8,3.8 0 1,0 7.5,0a3.8,3.8 0 1,0 -7.5,0M239,229a2.9,2.9 0 1,0 5.8,0a2.9,2.9 0 1,0 -5.8,0M367,262a3.6,3.6 0 1,0 7.2,0a3.6,3.6 0 1,0 -7.2,0M290,229a3.5,3.5 0 1,0 7.0,0a3.5,3.5 0 1,0 -7.0,0M429,195a3.7,3.7 0 1,0 7.4,0a3.7,3.7 0 1,0 -7.4,0M358,243a3.4,3.4 0 1,0 6.7,0a3.4,3.4 0 1,0 -6.7,0M188,238a3.0,3.0 0 1,0 6.1,0a3.0,3.0 0 1,0 -6.1,0M397,177a4.4,4.4 0 1,0 8.8,0a4.4,4.4 0 1,0 -8.8,0M395,221a4.4,4.4 0 1,0 8.8,0a4.4,4.4 0 1,0 -8.8,0M385,237a3.3,3.3 0 1,0 6.5,0a3.3,3.3 0 1,0 -6.5,0M178,186a3.0,3.0 0 1,0 5.9,0a3.0,3.0 0 1,0 -5.9,0M352,239a4.5,4.5 0 1,0 9.0,0a4.5,4.5 0 1,0 -9.0,0M265,208a4.3,4.3 0 1,0 8.7,0a4.3,4.3 0 1,0 -8.7,0M389,265a2.8,2.8 0 1,0 5.6,0a2.8,2.8 0 1,0 -5.6,0M437,213a4.2,4.2 0 1,0 8.5,0a4.2,4.2 0 1,0 -8.5,0M212,225a4.2,4.2 0 1,0 8.3,0a4.2,4.2 0 1,0 -8.3,0M367,239a3.0,3.0 0 1,0 5.9,0a3.0,3.0 0 1,0 -5.9,0M425,180a4.3,4.3 0 1,0 8.6,0a4.3,4.3 0 1,0 -8.6,0M321,232a3.2,3.2 0 1,0 6.4,0a3.2,3.2 0 1,0 -6.4,0M388,245a3.2,3.2 0 1,0 6.5,0a3.2,3.2 0 1,0 -6.5,0M429,213a4.3,4.3 0 1,0 8.7,0a4.3,4.3 0 1,0 -8.7,0M221,209a3.2,3.2 0 1,0 6.4,0a3.2,3.2 0 1,0 -6.4,0M161,188a3.1,3.1 0 1,0 6.2,0a3.1,3.1 0 1,0 -6.2,0M306,219a3.0,3.0 0 1,0 6.0,0a3.0,3.0 0 1,0 -6.0,0M426,233a3.7,3.7 0 1,0 7.5,0a3.7,3.7 0 1,0 -7.5,0M232,213a4.4,4.4 0 1,0 8.9,0a4.4,4.4 0 1,0 -8.9,0M277,221a4.5,4.5 0 1,0 8.9,0a4.5,4.5 0 1,0 -8.9,0M271,253a2.9,2.9 0 1,0 5.8,0a2.9,2.9 0 1,0 -5.8,0M364,186a3.3,3.3 0 1,0 6.6,0a3.3,3.3 0 1,0 -6.6,0M175,256a4.4,4.4 0 1,0 8.8,0a4.4,4.4 0 1,0 -8.8,0M389,221a3.0,3.0 0 1,0 6.0,0a3.0,3.0 0 1,0 -6.0,0M306,257a4.1,4.1 0 1,0 8.2,0a4.1,4.1 0 1,0 -8.2,0M150,265a4.5,4.5 0 1,0 9.0,0a4.5,4.5 0 1,0 -9.0,0M327,177a4.1,4.1 0 1,0 8.2,0a4.1,4.1 0 1,0 -8.2,0M338,175a3.6,3.6 0 1,0 7.2,0a3.6,3.6 0 1,0 -7.2,0M155,181a4.0,4.0 0 1,0 8.0,0a4.0,4.0 0 1,0 -8.0,0M381,205a3.1,3.1 0 1,0 6.2,0a3.1,3.1 0 1,0 -6.2,0M232,196a3.8,3.8 0 1,0 7.6,0a3.8,3.8 0 1,0 -7.6,0M233,258a2.8,2.8 0 1,0 5.7,0a2.8,2.8 0 1,0 -5.7,0M219,232a3.6,3.6 0 1,0 7.2,0a3.6,3.6 0 1,0 -7.2,0M176,210a3.3,3.3 0 1,0 6.6,0a3.3,3.3 0 1,0 -6.6,0M390,197a4.0,4.0 0 1,0 7.9,0a4.0,4.0 0 1,0 -7.9,0M354,213a2.9,2.9 0 1,0 5.8,0a2.9,2.9 0 1,0 -5.8,0M312,185a3.2,3.2 0 1,0 6.5,0a3.2,3.2 0 1,0 -6.5,0M427,191a4.5,4.5 0 1,0 9.0,0a4.5,4.5 0 1,0 -9.0,0M199,178a2.9,2.9 0 1,0 5.7,0a2.9,2.9 0 1,0 -5.7,0M403,257a3.3,3.3 0 1,0 6.6,0a3.3,3.3 0 1,0 -6.6,0M254,206a3.9,3.9 0 1,0 7.9,0a3.9,3.9 0 1,0 -7.9,0M241,218a4.0,4.0 0 1,0 7.9,0a4.0,4.0 0 1,0 -7.9,0M233,187a4.0,4.0 0 1,0 8.0,0a4.0,4.0 0 1,0 -8.0,0M346,175a3.6,3.6 0 1,0 7.2,0a3.6,3.6 0 1,0 -7.2,0M404,229a4.0,4.0 0 1,0 8.0,0a4.0,4.0 0 1,0 -8.0,0M444,194a3.5,3.5 0 1,0 7.0,0a3.5,3.5 0 1,0 -7.0,0M195,257a3.9,3.9 0 1,0 7.7,0a3.9,3.9 0 1,0 -7.7,0M413,235a3.4,3.4 0 1,0 6.8,0a3.4,3.4 0 1,0 -6.8,0M364,200a3.7,3.7 0 1,0 7.4,0a3.7,3.7 0 1,0 -7.4,0M339,246a3.2,3.2 0 1,0 6.5,0a3.2,3.2 0 1,0 -6.5,0M377,225a3.9,3.9 0 1,0 7.9,0a3.9,3.9 0 1,0 -7.9,0M180,223a3.0,3.0 0 1,0 5.9,0a3.0,3.0 0 1,0 -5.9,0M340,247a3.5,3.5 0 1,0 7.0,0a3.5,3.5 0 1,0 -7.0,0M280,232a3.8,3.8 0 1,0 7.6,0a3.8,3.8 0 1,0 -7.6,0M444,252a4.0,4.0 0 1,0 8.1,0a4.0,4.0 0 1,0 -8.1,0M255,180a4.0,4.0 0 1,0 8.0,0a4.0,4.0 0 1,0 -8.0,0M217,239a4.0,4.0 0 1,0 7.9,0a4.0,4.0 0 1,0 -7.9,0M409,180a3.7,3.7 0 1,0 7.3,0a3.7,3.7 0 1,0 -7.3,0M253,206a3.3,3.3 0 1,0 6.5,0a3.3,3.3 0 1,0 -6.5,0M400,217a3.8,3.8 0 1,0 7.6,0a3.8,3.8 0 1,0 -7.6,0M185,226a3.9,3.9 0 1,0 7.9,0a3.9,3.9 0 1,0 -7.9,0M188,206a3.3,3.3 0 1,0 6.6,0a3.3,3.3 0 1,0 -6.6,0M315,182a4.6,4.6 0 1,0 9.1,0a4.6,4.6 0 1,0 -9.1,0M268,260a2.9,2.9 0 1,0 5.7,0a2.9,2.9 0 1,0 -5.7,0M376,257a3.6,3.6 0 1,0 7.2,0a3.6,3.6 0 1,0 -7.2,0M263,232a3.4,3.4 0 1,0 6.7,0a3.4,3.4 0 1,0 -6.7,0M224,259a4.0,4.0 0 1,0 7.9,0a4.0,4.0 0 1,0 -7.9,0M300,217a4.2,4.2 0 1,0 8.5,0a4.2,4.2 0 1,0 -8.5,0M373,201a3.4,3.4 0 1,0 6.7,0a3.4,3.4 0 1,0 -6.7,0M274,180a3.6,3.6 0 1,0 7.1,0a3.6,3.6 0 1,0 -7.1,0M185,236a3.4,3.4 0 1,0 6.8,0a3.4,3.4 0 1,0 -6.8,0M249,195a3.3,3.3 0 1,0 6.5,0a3.3,3.3 0 1,0 -6.5,0M219,256a3.6,3.6 0 1,0 7.2,0a3.6,3.6 0 1,0 -7.2,0M314,204a4.5,4.5 0 1,0 9.0,0a4.5,4.5 0 1,0 -9.0,0M330,191a4.0,4.0 0 1,0 8.0,0a4.0,4.0 0 1,0 -8.0,0M150,266a4.1,4.1 0 1,0 8.3,0a4.1,4.1 0 1,0 -8.3,0M214,214a4.4,4.4 0 1,0 8.9,0a4.4,4.4 0 1,0 -8.9,0M383,247a3.8,3.8 0 1,0 7.7,0a3.8,3.8 0 1,0 -7.7,0M209,235a3.8,3.8 0 1,0 7.7,0a3.8,3.8 0 1,0 -7.7,0M196,180a3.7,3.7 0 1,0 7.5,0a3.7,3.7 0 1,0 -7.5,0M426,205a3.9,3.9 0 1,0 7.9,0a3.9,3.9 0 1,0 -7.9,0M181,255a4.4,4.4 0 1,0 8.8,0a4.4,4.4 0 1,0 -8.8,0M240,241a4.1,4.1 0 1,0 8.3,0a4.1,4.1 0 1,0 -8.3,0M281,256a2.9,2.9 0 1,0 5.8,0a2.9,2.9 0 1,0 -5.8,0M236,186a4.3,4.3 0 1,0 8.6,0a4.3,4.3 0 1,0 -8.6,0M372,196a4.0,4.0 0 1,0 8.0,0a4.0,4.0 0 1,0 -8.0,0M304,227a3.5,3.5 0 1,0 7.1,0a3.5,3.5 0 1,0 -7.1,0M321,226a3.4,3.4 0 1,0 6.7,0a3.4,3.4 0 1,0 -6.7,0M260,190a3.9,3.9 0 1,0 7.9,0a3.9,3.9 0 1,0 -7.9,0M397,196a3.9,3.9 0 1,0 7.7,0a3.9,3.9 0 1,0 -7.7,0M268,192a2.9,2.9 0 1,0 5.8,0a2.9,2.9 0 1,0 -5.8,0M162,243a3.0,3.0 0 1,0 6.1,0a3.0,3.0 0 1,0 -6.1,0M236,222a3.2,3.2 0 1,0 6.3,0a3.2,3.2 0 1,0 -6.3,0M325,218a3.2,3.2 0 1,0 6.4,0a3.2,3.2 0 1,0 -6.4,0M353,234a4.5,4.5 0 1,0 9.0,0a4.5,4.5 0 1,0 -9.0,0M251,246a3.9,3.9 0 1,0 7.8,0a3.9,3.9 0 1,0 -7.8,0M322,178a3.4,3.4 0 1,0 6.7,0a3.4,3.4 0 1,0 -6.7,0M280,179a3.0,3.0 0 1,0 6.0,0a3.0,3.0 0 1,0 -6.0,0M398,185a3.8,3.8 0 1,0 7.6,0a3.8,3.8 0 1,0 -7.6,0M222,223a3.5,3.5 0 1,0 7.0,0a3.5,3.5 0 1,0 -7.0,0M231,217a3.3,3.3 0 1,0 6.6,0a3.3,3.3 0 1,0 -6.6,0M435,217a3.0,3.0 0 1,0 6.1,0a3.0,3.0 0 1,0 -6.1,0M373,190a4.1,4.1 0 1,0 8.3,0a4.1,4.1 0 1,0 -8.3,0M383,259a3.7,3.7 0 1,0 7.5,0a3.7,3.7 0 1,0 -7.5,0M374,247a4.3,4.3 0 1,0 8.5,0a4.3,4.3 0 1,0 -8.5,0M332,257a4.1,4.1 0 1,0 8.3,0a4.1,4.1 0 1,0 -8.3,0M265,209a4.3,4.3 0 1,0 8.6,0a4.3,4.3 0 1,0 -8.6,0M428,210a4.5,4.5 0 1,0 8.9,0a4.5,4.5 0 1,0 -8.9,0M389,239a3.4,3.4 0 1,0 6.8,0a3.4,3.4 0 1,0 -6.8,0M233,202a4.0,4.0 0 1,0 8.1,0a4.0,4.0 0 1,0 -8.1,0M290,195a3.1,3.1 0 1,0 6.1,0a3.1,3.1 0 1,0 -6.1,0M394,192a3.1,3.1 0 1,0 6.2,0a3.1,3.1 0 1,0 -6.2,0M310,180a3.5,3.5 0 1,0 7.1,0a3.5,3.5 0 1,0 -7.1,0M211,254a3.8,3.8 0 1,0 7.6,0a3.8,3.8 0 1,0 -7.6,0M300,218a2.8,2.8 0 1,0 5.7,0a2.8,2.8 0 1,0 -5.7,0M405,261a2.8,2.8 0 1,0 5.6,0a2.8,2.8 0 1,0 -5.6,0M319,247a4.3,4.3 0 1,0 8.6,0a4.3,4.3 0 1,0 -8.6,0M437,258a4.4,4.4 0 1,0 8.8,0a4.4,4.4 0 1,0 -8.8,0M194,266a4.6,4.6 0 1,0 9.1,0a4.6,4.6 0 1,0 -9.1,0M344,255a3.3,3.3 0 1,0 6.5,0a3.3,3.3 0 1,0 -6.5,0M280,185a3.6,3.6 0 1,0 7.3,0a3.6,3.6 0 1,0 -7.3,0M448,240a3.6,3.6 0 1,0 7.3,0a3.6,3.6 0 1,0 -7.3,0M245,194a3.6,3.6 0 1,0 7.1,0a3.6,3.6 0 1,0 -7.1,0M237,220a3.8,3.8 0 1,0 7.7,0a3.8,3.8 0 1,0 -7.7,0M272,229a3.5,3.5 0 1,0 7.1,0a3.5,3.5 0 1,0 -7.1,0M299,219a4.3,4.3 0 1,0 8.6,0a4.3,4.3 0 1,0 -8.6,0M419,229a4.2,4.2 0 1,0 8.3,0a4.2,4.2 0 1,0 -8.3,0M241,190a3.4,3.4 0 1,0 6.7,0a3.4,3.4 0 1,0 -6.7,0M191,245a4.4,4.4 0 1,0 8.9,0a4.4,4.4 0 1,0 -8.9,0M344,195a3.0,3.0 0 1,0 6.1,0a3.0,3.0 0 1,0 -6.1,0M383,228a3.1,3.1 0 1,0 6.1,0a3.1,3.1 0 1,0 -6.1,0M448,244a4.5,4.5 0 1,0 9.1,0a4.5,4.5 0 1,0 -9.1,0M445,247a4.5,4.5 0 1,0 8.9,0a4.5,4.5 0 1,0 -8.9,0M434,190a3.4,3.4 0 1,0 6.8,0a3.4,3.4 0 1,0 -6.8,0M312,233a3.1,3.1 0 1,0 6.1,0a3.1,3.1 0 1,0 -6.1,0M231,246a4.5,4.5 0 1,0 9.1,0a4.5,4.5 0 1,0 -9.1,0M292,260a4.4,4.4 0 1,0 8.8,0a4.4,4.4 0 1,0 -8.8,0M421,192a3.5,3.5 0 1,0 7.0,0a3.5,3.5 0 1,0 -7.0,0M349,249a4.3,4.3 0 1,0 8.6,0a4.3,4.3 0 1,0 -8.6,0M187,237a2.8,2.8 0 1,0 5.7,0a2.8,2.8 0 1,0 -5.7,0M244,180a3.7,3.7 0 1,0 7.4,0a3.7,3.7 0 1,0 -7.4,0M188,235a3.5,3.5 0 1,0 7.1,0a3.5,3.5 0 1,0 -7.1,0M393,205a4.6,4.6 0 1,0 9.2,0a4.6,4.6 0 1,0 -9.2,0M186,182a3.7,3.7 0 1,0 7.4,0a3.7,3.7 0 1,0 -7.4,0M302,252a2.8,2.8 0 1,0 5.7,0a2.8,2.8 0 1,0 -5.7,0M205,197a3.6,3.6 0 1,0 7.2,0a3.6,3.6 0 1,0 -7.2,0M398,236a3.2,3.2 0 1,0 6.5,0a3.2,3.2 0 1,0 -6.5,0M267,245a3.8,3.8 0 1,0 7.6,0a3.8,3.8 0 1,0 -7.6,0M184,208a2.8,2.8 0 1,0 5.7,0a2.8,2.8 0 1,0 -5.7,0M288,196a3.3,3.3 0 1,0 6.7,0a3.3,3.3 0 1,0 -6.7,0M253,254a2.9,2.9 0 1,0 5.9,0a2.9,2.9 0 1,0 -5.9,0M177,187a3.6,3.6 0 1,0 7.1,0a3.6,3.6 0 1,0 -7.1,0M281,260a4.1,4.1 0 1,0 8.2,0a4.1,4.1 0 1,0 -8.2,0M231,187a3.8,3.8 0 1,0 7.6,0a3.8,3.8 0 1,0 -7.6,0M400,196a4.2,4.2 0 1,0 8.4,0a4.2,4.2 0 1,0 -8.4,0M259,263a4.5,4.5 0 1,0 9.0,0a4.5,4.5 0 1,0 -9.0,0M203,249a3.9,3.9 0 1,0 7.7,0a3.9,3.9 0 1,0 -7.7,0M266,222a4.4,4.4 0 1,0 8.9,0a4.4,4.4 0 1,0 -8.9,0M295,227a3.7,3.7 0 1,0 7.4,0a3.7,3.7 0 1,0 -7.4,0M158,244a3.0,3.0 0 1,0 6.0,0a3.0,3.0 0 1,0 -6.0,0M421,176a3.8,3.8 0 1,0 7.6,0a3.8,3.8 0 1,0 -7.6,0M227,238a3.9,3.9 0 1,0 7.9,0a3.9,3.9 0 1,0 -7.9,0M374,250a4.6,4.6 0 1,0 9.2,0a4.6,4.6 0 1,0 -9.2,0M185,196a3.7,3.7 0 1,0 7.3,0a3.7,3.7 0 1,0 -7.3,0M430,211a3.2,3.2 0 1,0 6.3,0a3.2,3.2 0 1,0 -6.3,0M309,204a2.9,2.9 0 1,0 5.9,0a2.9,2.9 0 1,0 -5.9,0M392,217a4.3,4.3 0 1,0 8.6,0a4.3,4.3 0 1,0 -8.6,0M182,206a3.0,3.0 0 1,0 6.0,0a3.0,3.0 0 1,0 -6.0,0M404,216a3.9,3.9 0 1,0 7.8,0a3.9,3.9 0 1,0 -7.8,0M166,215a3.5,3.5 0 1,0 7.0,0a3.5,3.5 0 1,0 -7.0,0M361,197a4.6,4.6 0 1,0 9.1,0a4.6,4.6 0 1,0 -9.1,0M249,222a3.6,3.6 0 1,0 7.3,0a3.6,3.6 0 1,0 -7.3,0M254,180a2.9,2.9 0 1,0 5.7,0a2.9,2.9 0 1,0 -5.7,0M425,265a3.9,3.9 0 1,0 7.8,0a3.9,3.9 0 1,0 -7.8,0M191,193a3.4,3.4 0 1,0 6.8,0a3.4,3.4 0 1,0 -6.8,0M161,206a3.3,3.3 0 1,0 6.6,0a3.3,3.3 0 1,0 -6.6,0M248,252a3.8,3.8 0 1,0 7.6,0a3.8,3.8 0 1,0 -7.6,0M451,203a2.9,2.9 0 1,0 5.9,0a2.9,2.9 0 1,0 -5.9,0M379,242a4.3,4.3 0 1,0 8.5,0a4.3,4.3 0 1,0 -8.5,0M263,250a3.0,3.0 0 1,0 6.0,0a3.0,3.0 0 1,0 -6.0,0M367,238a3.8,3.8 0 1,0 7.6,0a3.8,3.8 0 1,0 -7.6,0M335,217a3.6,3.6 0 1,0 7.1,0a3.6,3.6 0 1,0 -7.1,0M292,231a4.3,4.3 0 1,0 8.6,0a4.3,4.3 0 1,0 -8.6,0M251,226a3.5,3.5 0 1,0 7.0,0a3.5,3.5 0 1,0 -7.0,0M203,239a2.8,2.8 0 1,0 5.6,0a2.8,2.8 0 1,0 -5.6,0M415,180a3.1,3.1 0 1,0 6.2,0a3.1,3.1 0 1,0 -6.2,0M375,215a3.3,3.3 0 1,0 6.7,0a3.3,3.3 0 1,0 -6.7,0M297,260a4.0,4.0 0 1,0 7.9,0a4.0,4.0 0 1,0 -7.9,0M259,262a3.2,3.2 0 1,0 6.5,0a3.2,3.2 0 1,0 -6.5,0M178,242a4.2,4.2 0 1,0 8.5,0a4.2,4.2 0 1,0 -8.5,0M389,211a4.0,4.0 0 1,0 8.1,0a4.0,4.0 0 1,0 -8.1,0M213,199a4.5,4.5 0 1,0 9.0,0a4.5,4.5 0 1,0 -9.0,0M406,261a3.8,3.8 0 1,0 7.6,0a3.8,3.8 0 1,0 -7.6,0M364,208a3.5,3.5 0 1,0 7.0,0a3.5,3.5 0 1,0 -7.0,0M428,243a4.5,4.5 0 1,0 9.0,0a4.5,4.5 0 1,0 -9.0,0M195,213a4.5,4.5 0 1,0 8.9,0a4.5,4.5 0 1,0 -8.9,0M428,250a4.4,4.4 0 1,0 8.8,0a4.4,4.4 0 1,0 -8.8,0M230,240a3.0,3.0 0 1,0 6.0,0a3.0,3.0 0 1,0 -6.0,0M288,176a3.6,3.6 0 1,0 7.2,0a3.6,3.6 0 1,0 -7.2,0M208,212a4.0,4.0 0 1,0 8.0,0a4.0,4.0 0 1,0 -8.0,0M353,256a4.5,4.5 0 1,0 9.0,0a4.5,4.5 0 1,0 -9.0,0M243,206a3.6,3.6 0 1,0 7.1,0a3.6,3.6 0 1,0 -7.1,0M226,252a4.2,4.2 0 1,0 8.5,0a4.2,4.2 0 1,0 -8.5,0M350,234a3.3,3.3 0 1,0 6.7,0a3.3,3.3 0 1,0 -6.7,0M234,245a3.0,3.0 0 1,0 5.9,0a3.0,3.0 0 1,0 -5.9,0M449,188a3.2,3.2 0 1,0 6.3,0a3.2,3.2 0 1,0 -6.3,0M379,258a3.1,3.1 0 1,0 6.2,0a3.1,3.1 0 1,0 -6.2,0M433,222a3.0,3.0 0 1,0 6.0,0a3.0,3.0 0 1,0 -6.0,0M314,196a4.0,4.0 0 1,0 7.9,0a4.0,4.0 0 1,0 -7.9,0M338,251a4.5,4.5 0 1,0 8.9,0a4.5,4.5 0 1,0 -8.9,0M409,237a4.1,4.1 0 1,0 8.2,0a4.1,4.1 0 1,0 -8.2,0M411,252a3.7,3.7 0 1,0 7.4,0a3.7,3.7 0 1,0 -7.4,0M434,263a3.2,3.2 0 1,0 6.3,0a3.2,3.2 0 1,0 -6.3,0M214,231a3.8,3.8 0 1,0 7.6,0a3.8,3.8 0 1,0 -7.6,0M278,221a3.2,3.2 0 1,0 6.3,0a3.2,3.2 0 1,0 -6.3,0M275,229a4.2,4.2 0 1,0 8.3,0a4.2,4.2 0 1,0 -8.3,0M363,184a3.2,3.2 0 1,0 6.4,0a3.2,3.2 0 1,0 -6.4,0M296,246a3.3,3.3 0 1,0 6.6,0a3.3,3.3 0 1,0 -6.6,0M372,196a3.3,3.3 0 1,0 6.7,0a3.3,3.3 0 1,0 -6.7,0M405,193a4.3,4.3 0 1,0 8.6,0a4.3,4.3 0 1,0 -8.6,0M316,177a3.6,3.6 0 1,0 7.3,0a3.6,3.6 0 1,0 -7.3,0M313,186a3.5,3.5 0 1,0 6.9,0a3.5,3.5 0 1,0 -6.9,0M295,218a4.5,4.5 0 1,0 8.9,0a4.5,4.5 0 1,0 -8.9,0M267,257a3.3,3.3 0 1,0 6.7,0a3.3,3.3 0 1,0 -6.7,0M374,189a3.9,3.9 0 1,0 7.7,0a3.9,3.9 0 1,0 -7.7,0M376,251a2.9,2.9 0 1,0 5.8,0a2.9,2.9 0 1,0 -5.8,0M373,189a4.5,4.5 0 1,0 9.1,0a4.5,4.5 0 1,0 -9.1,0M242,253a3.1,3.1 0 1,0 6.2,0a3.1,3.1 0 1,0 -6.2,0M447,224a3.2,3.2 0 1,0 6.4,0a3.2,3.2 0 1,0 -6.4,0M425,247a4.1,4.1 0 1,0 8.2,0a4.1,4.1 0 1,0 -8.2,0M279,196a3.9,3.9 0 1,0 7.9,0a3.9,3.9 0 1,0 -7.9,0M405,242a4.1,4.1 0 1,0 8.2,0a4.1,4.1 0 1,0 -8.2,0M169,217a3.3,3.3 0 1,0 6.6,0a3.3,3.3 0 1,0 -6.6,0M311,236a3.9,3.9 0 1,0 7.8,0a3.9,3.9 0 1,0 -7.8,0M152,203a3.3,3.3 0 1,0 6.6,0a3.3,3.3 0 1,0 -6.6,0M278,201a3.1,3.1 0 1,0 6.3,0a3.1,3.1 0 1,0 -6.3,0M217,220a4.4,4.4 0 1,0 8.8,0a4.4,4.4 0 1,0 -8.8,0M215,263a4.0,4.0 0 1,0 8.0,0a4.0,4.0 0 1,0 -8.0,0M419,256a4.2,4.2 0 1,0 8.3,0a4.2,4.2 0 1,0 -8.3,0M425,193a3.9,3.9 0 1,0 7.9,0a3.9,3.9 0 1,0 -7.9,0M259,190a3.3,3.3 0 1,0 6.6,0a3.3,3.3 0 1,0 -6.6,0M345,187a3.0,3.0 0 1,0 6.0,0a3.0,3.0 0 1,0 -6.0,0M405,250a2.9,2.9 0 1,0 5.7,0a2.9,2.9 0 1,0 -5.7,0M210,175a3.8,3.8 0 1,0 7.5,0a3.8,3.8 0 1,0 -7.5,0M446,189a3.8,3.8 0 1,0 7.7,0a3.8,3.8 0 1,0 -7.7,0M282,242a3.9,3.9 0 1,0 7.7,0a3.9,3.9 0 1,0 -7.7,0M370,185a4.6,4.6 0 1,0 9.1,0a4.6,4.6 0 1,0 -9.1,0M387,185a2.8,2.8 0 1,0 5.6,0a2.8,2.8 0 1,0 -5.6,0M395,246a3.5,3.5 0 1,0 7.0,0a3.5,3.5 0 1,0 -7.0,0M429,233a3.7,3.7 0 1,0 7.4,0a3.7,3.7 0 1,0 -7.4,0M163,219a3.5,3.5 0 1,0 7.0,0a3.5,3.5 0 1,0 -7.0,0M281,207a4.3,4.3 0 1,0 8.7,0a4.3,4.3 0 1,0 -8.7,0M262,184a3.3,3.3 0 1,0 6.5,0a3.3,3.3 0 1,0 -6.5,0M402,222a3.4,3.4 0 1,0 6.9,0a3.4,3.4 0 1,0 -6.9,0M414,265a3.6,3.6 0 1,0 7.1,0a3.6,3.6 0 1,0 -7.1,0M193,204a3.0,3.0 0 1,0 6.0,0a3.0,3.0 0 1,0 -6.0,0M413,240a3.4,3.4 0 1,0 6.8,0a3.4,3.4 0 1,0 -6.8,0M344,253a4.6,4.6 0 1,0 9.2,0a4.6,4.6 0 1,0 -9.2,0M202,217a4.0,4.0 0 1,0 7.9,0a4.0,4.0 0 1,0 -7.9,0M284,223a3.6,3.6 0 1,0 7.2,0a3.6,3.6 0 1,0 -7.2,0M274,227a3.5,3.5 0 1,0 7.0,0a3.5,3.5 0 1,0 -7.0,0M239,213a4.2,4.2 0 1,0 8.4,0a4.2,4.2 0 1,0 -8.4,0M197,218a3.2,3.2 0 1,0 6.4,0a3.2,3.2 0 1,0 -6.4,0M429,176a3.4,3.4 0 1,0 6.9,0a3.4,3.4 0 1,0 -6.9,0M440,240a3.2,3.2 0 1,0 6.4,0a3.2,3.2 0 1,0 -6.4,0M372,221a3.0,3.0 0 1,0 5.9,0a3.0,3.0 0 1,0 -5.9,0M182,179a3.3,3.3 0 1,0 6.6,0a3.3,3.3 0 1,0 -6.6,0M273,264a4.4,4.4 0 1,0 8.8,0a4.4,4.4 0 1,0 -8.8,0M315,236a3.9,3.9 0 1,0 7.8,0a3.9,3.9 0 1,0 -7.8,0M394,209a4.0,4.0 0 1,0 7.9,0a4.0,4.0 0 1,0 -7.9,0M216,196a3.3,3.3 0 1,0 6.6,0a3.3,3.3 0 1,0 -6.6,0M271,202a3.9,3.9 0 1,0 7.8,0a3.9,3.9 0 1,0 -7.8,0M162,204a3.9,3.9 0 1,0 7.8,0a3.9,3.9 0 1,0 -7.8,0M389,247a3.6,3.6 0 1,0 7.2,0a3.6,3.6 0 1,0 -7.2,0M337,177a4.5,4.5 0 1,0 8.9,0a4.5,4.5 0 1,0 -8.9,0M351,248a3.0,3.0 0 1,0 6.0,0a3.0,3.0 0 1,0 -6.0,0M274,202a4.3,4.3 0 1,0 8.6,0a4.3,4.3 0 1,0 -8.6,0M378,189a4.5,4.5 0 1,0 9.1,0a4.5,4.5 0 1,0 -9.1,0M212,187a3.8,3.8 0 1,0 7.6,0a3.8,3.8 0 1,0 -7.6,0M283,262a2.9,2.9 0 1,0 5.8,0a2.9,2.9 0 1,0 -5.8,0M423,240a3.4,3.4 0 1,0 6.7,0a3.4,3.4 0 1,0 -6.7,0M197,240a2.9,2.9 0 1,0 5.7,0a2.9,2.9 0 1,0 -5.7,0M239,183a3.4,3.4 0 1,0 6.9,0a3.4,3.4 0 1,0 -6.9,0M449,252a3.8,3.8 0 1,0 7.6,0a3.8,3.8 0 1,0 -7.6,0M344,233a4.2,4.2 0 1,0 8.4,0a4.2,4.2 0 1,0 -8.4,0M399,263a4.5,4.5 0 1,0 9.0,0a4.5,4.5 0 1,0 -9.0,0M254,262a3.3,3.3 0 1,0 6.5,0a3.3,3.3 0 1,0 -6.5,0M185,235a2.9,2.9 0 1,0 5.8,0a2.9,2.9 0 1,0 -5.8,0M413,265a4.2,4.2 0 1,0 8.5,0a4.2,4.2 0 1,0 -8.5,0M229,223a2.9,2.9 0 1,0 5.8,0a2.9,2.9 0 1,0 -5.8,0M285,250a3.2,3.2 0 1,0 6.3,0a3.2,3.2 0 1,0 -6.3,0M198,207a3.4,3.4 0 1,0 6.9,0a3.4,3.4 0 1,0 -6.9,0M251,205a2.9,2.9 0 1,0 5.9,0a2.9,2.9 0 1,0 -5.9,0M343,220a3.9,3.9 0 1,0 7.8,0a3.9,3.9 0 1,0 -7.8,0M248,258a4.2,4.2 0 1,0 8.4,0a4.2,4.2 0 1,0 -8.4,0M316,210a4.3,4.3 0 1,0 8.7,0a4.3,4.3 0 1,0 -8.7,0M281,213a3.8,3.8 0 1,0 7.6,0a3.8,3.8 0 1,0 -7.6,0M168,220a2.9,2.9 0 1,0 5.9,0a2.9,2.9 0 1,0 -5.9,0M427,247a3.0,3.0 0 1,0 6.0,0a3.0,3.0 0 1,0 -6.0,0M214,236a3.8,3.8 0 1,0 7.6,0a3.8,3.8 0 1,0 -7.6,0M273,212a3.2,3.2 0 1,0 6.4,0a3.2,3.2 0 1,0 -6.4,0M274,180a2.9,2.9 0 1,0 5.8,0a2.9,2.9 0 1,0 -5.8,0M222,177a3.2,3.2 0 1,0 6.5,0a3.2,3.2 0 1,0 -6.5,0M210,207a3.9,3.9 0 1,0 7.7,0a3.9,3.9 0 1,0 -7.7,0M448,239a4.3,4.3 0 1,0 8.6,0a4.3,4.3 0 1,0 -8.6,0M318,245a3.9,3.9 0 1,0 7.9,0a3.9,3.9 0 1,0 -7.9,0M153,209a3.0,3.0 0 1,0 6.1,0a3.0,3.0 0 1,0 -6.1,0M357,208a3.6,3.6 0 1,0 7.2,0a3.6,3.6 0 1,0 -7.2,0M197,264a3.3,3.3 0 1,0 6.6,0a3.3,3.3 0 1,0 -6.6,0M193,209a3.4,3.4 0 1,0 6.7,0a3.4,3.4 0 1,0 -6.7,0M207,239a3.6,3.6 0 1,0 7.2,0a3.6,3.6 0 1,0 -7.2,0M154,262a3.0,3.0 0 1,0 6.0,0a3.0,3.0 0 1,0 -6.0,0M411,265a3.8,3.8 0 1,0 7.6,0a3.8,3.8 0 1,0 -7.6,0M381,176a3.2,3.2 0 1,0 6.3,0a3.2,3.2 0 1,0 -6.3,0M389,239a3.0,3.0 0 1,0 6.0,0a3.0,3.0 0 1,0 -6.0,0M230,182a4.2,4.2 0 1,0 8.5,0a4.2,4.2 0 1,0 -8.5,0M343,207a3.8,3.8 0 1,0 7.6,0a3.8,3.8 0 1,0 -7.6,0M301,199a3.8,3.8 0 1,0 7.5,0a3.8,3.8 0 1,0 -7.5,0M152,241a4.5,4.5 0 1,0 9.0,0a4.5,4.5 0 1,0 -9.0,0M200,215a3.9,3.9 0 1,0 7.7,0a3.9,3.9 0 1,0 -7.7,0M356,246a3.4,3.4 0 1,0 6.8,0a3.4,3.4 0 1,0 -6.8,0M376,208a4.2,4.2 0 1,0 8.4,0a4.2,4.2 0 1,0 -8.4,0M302,227a4.4,4.4 0 1,0 8.8,0a4.4,4.4 0 1,0 -8.8,0M204,221a3.4,3.4 0 1,0 6.8,0a3.4,3.4 0 1,0 -6.8,0M169,246a3.2,3.2 0 1,0 6.3,0a3.2,3.2 0 1,0 -6.3,0M200,187a4.2,4.2 0 1,0 8.4,0a4.2,4.2 0 1,0 -8.4,0M362,205a3.7,3.7 0 1,0 7.4,0a3.7,3.7 0 1,0 -7.4,0M258,220a2.9,2.9 0 1,0 5.7,0a2.9,2.9 0 1,0 -5.7,0M237,263a3.4,3.4 0 1,0 6.8,0a3.4,3.4 0 1,0 -6.8,0M361,232a3.6,3.6 0 1,0 7.3,0a3.6,3.6 0 1,0 -7.3,0M337,239a3.8,3.8 0 1,0 7.7,0a3.8,3.8 0 1,0 -7.7,0M387,202a3.2,3.2 0 1,0 6.4,0a3.2,3.2 0 1,0 -6.4,0M289,247a3.7,3.7 0 1,0 7.4,0a3.7,3.7 0 1,0 -7.4,0M151,217a4.4,4.4 0 1,0 8.8,0a4.4,4.4 0 1,0 -8.8,0M201,227a3.3,3.3 0 1,0 6.6,0a3.3,3.3 0 1,0 -6.6,0M313,245a3.4,3.4 0 1,0 6.8,0a3.4,3.4 0 1,0 -6.8,0M201,216a4.6,4.6 0 1,0 9.1,0a4.6,4.6 0 1,0 -9.1,0M159,203a3.2,3.2 0 1,0 6.4,0a3.2,3.2 0 1,0 -6.4,0M292,247a3.8,3.8 0 1,0 7.6,0a3.8,3.8 0 1,0 -7.6,0M327,195a3.8,3.8 0 1,0 7.5,0a3.8,3.8 0 1,0 -7.5,0M376,205a2.8,2.8 0 1,0 5.7,0a2.8,2.8 0 1,0 -5.7,0M441,221a4.5,4.5 0 1,0 9.1,0a4.5,4.5 0 1,0 -9.1,0M334,206a3.1,3.1 0 1,0 6.2,0a3.1,3.1 0 1,0 -6.2,0M431,245a3.8,3.8 0 1,0 7.7,0a3.8,3.8 0 1,0 -7.7,0M156,203a3.6,3.6 0 1,0 7.1,0a3.6,3.6 0 1,0 -7.1,0M178,218a3.6,3.6 0 1,0 7.3,0a3.6,3.6 0 1,0 -7.3,0M211,223a4.5,4.5 0 1,0 9.0,0a4.5,4.5 0 1,0 -9.0,0M413,250a3.3,3.3 0 1,0 6.7,0a3.3,3.3 0 1,0 -6.7,0M219,219a4.5,4.5 0 1,0 9.0,0a4.5,4.5 0 1,0 -9.0,0M213,182a4.3,4.3 0 1,0 8.7,0a4.3,4.3 0 1,0 -8.7,0M153,222a4.6,4.6 0 1,0 9.1,0a4.6,4.6 0 1,0 -9.1,0M323,176a3.3,3.3 0 1,0 6.7,0a3.3,3.3 0 1,0 -6.7,0M376,237a3.0,3.0 0 1,0 5.9,0a3.0,3.0 0 1,0 -5.9,0M290,219a3.1,3.1 0 1,0 6.2,0a3.1,3.1 0 1,0 -6.2,0M190,203a3.5,3.5 0 1,0 7.0,0a3.5,3.5 0 1,0 -7.0,0M436,205a4.4,4.4 0 1,0 8.8,0a4.4,4.4 0 1,0 -8.8,0M157,218a3.1,3.1 0 1,0 6.1,0a3.1,3.1 0 1,0 -6.1,0M168,202a4.1,4.1 0 1,0 8.1,0a4.1,4.1 0 1,0 -8.1,0M332,201a4.1,4.1 0 1,0 8.2,0a4.1,4.1 0 1,0 -8.2,0M362,254a4.0,4.0 0 1,0 8.1,0a4.0,4.0 0 1,0 -8.1,0M176,247a4.5,4.5 0 1,0 9.0,0a4.5,4.5 0 1,0 -9.0,0M415,235a3.0,3.0 0 1,0 6.1,0a3.0,3.0 0 1,0 -6.1,0M410,220a4.1,4.1 0 1,0 8.2,0a4.1,4.1 0 1,0 -8.2,0M429,194a2.8,2.8 0 1,0 5.7,0a2.8,2.8 0 1,0 -5.7,0M433,257a3.0,3.0 0 1,0 5.9,0a3.0,3.0 0 1,0 -5.9,0M288,253a3.9,3.9 0 1,0 7.8,0a3.9,3.9 0 1,0 -7.8,0M308,266a2.9,2.9 0 1,0 5.7,0a2.9,2.9 0 1,0 -5.7,0M261,189a4.5,4.5 0 1,0 9.1,0a4.5,4.5 0 1,0 -9.1,0M325,199a4.4,4.4 0 1,0 8.7,0a4.4,4.4 0 1,0 -8.7,0M424,219a4.5,4.5 0 1,0 9.0,0a4.5,4.5 0 1,0 -9.0,0M214,238a4.6,4.6 0 1,0 9.2,0a4.6,4.6 0 1,0 -9.2,0M219,239a4.3,4.3 0 1,0 8.6,0a4.3,4.3 0 1,0 -8.6,0M410,199a3.5,3.5 0 1,0 7.0,0a3.5,3.5 0 1,0 -7.0,0M184,221a4.4,4.4 0 1,0 8.7,0a4.4,4.4 0 1,0 -8.7,0M240,256a3.3,3.3 0 1,0 6.6,0a3.3,3.3 0 1,0 -6.6,0M291,236a4.3,4.3 0 1,0 8.5,0a4.3,4.3 0 1,0 -8.5,0M433,208a3.5,3.5 0 1,0 7.0,0a3.5,3.5 0 1,0 -7.0,0M378,248a4.2,4.2 0 1,0 8.4,0a4.2,4.2 0 1,0 -8.4,0M230,254a4.2,4.2 0 1,0 8.4,0a4.2,4.2 0 1,0 -8.4,0M328,206a4.1,4.1 0 1,0 8.2,0a4.1,4.1 0 1,0 -8.2,0M171,243a3.6,3.6 0 1,0 7.1,0a3.6,3.6 0 1,0 -7.1,0M379,229a3.4,3.4 0 1,0 6.9,0a3.4,3.4 0 1,0 -6.9,0M246,221a3.0,3.0 0 1,0 6.1,0a3.0,3.0 0 1,0 -6.1,0M229,233a3.2,3.2 0 1,0 6.3,0a3.2,3.2 0 1,0 -6.3,0M427,223a3.4,3.4 0 1,0 6.8,0a3.4,3.4 0 1,0 -6.8,0M203,200a3.5,3.5 0 1,0 7.0,0a3.5,3.5 0 1,0 -7.0,0M190,203a4.5,4.5 0 1,0 9.1,0a4.5,4.5 0 1,0 -9.1,0M431,258a4.5,4.5 0 1,0 9.0,0a4.5,4.5 0 1,0 -9.0,0M361,263a4.0,4.0 0 1,0 7.9,0a4.0,4.0 0 1,0 -7.9,0M273,190a4.0,4.0 0 1,0 7.9,0a4.0,4.0 0 1,0 -7.9,0M439,261a4.6,4.6 0 1,0 9.1,0a4.6,4.6 0 1,0 -9.1,0M282,238a4.6,4.6 0 1,0 9.2,0a4.6,4.6 0 1,0 -9.2,0M367,253a4.4,4.4 0 1,0 8.7,0a4.4,4.4 0 1,0 -8.7,0M318,255a3.4,3.4 0 1,0 6.9,0a3.4,3.4 0 1,0 -6.9,0M399,215a3.2,3.2 0 1,0 6.4,0a3.2,3.2 0 1,0 -6.4,0M399,248a3.9,3.9 0 1,0 7.9,0a3.9,3.9 0 1,0 -7.9,0M291,199a4.3,4.3 0 1,0 8.6,0a4.3,4.3 0 1,0 -8.6,0M350,236a4.3,4.3 0 1,0 8.6,0a4.3,4.3 0 1,0 -8.6,0M158,248a4.3,4.3 0 1,0 8.7,0a4.3,4.3 0 1,0 -8.7,0M192,179a4.4,4.4 0 1,0 8.7,0a4.4,4.4 0 1,0 -8.7,0M228,224a4.5,4.5 0 1,0 8.9,0a4.5,4.5 0 1,0 -8.9,0M209,220a2.9,2.9 0 1,0 5.8,0a2.9,2.9 0 1,0 -5.8,0M413,254a3.6,3.6 0 1,0 7.2,0a3.6,3.6 0 1,0 -7.2,0M388,189a4.3,4.3 0 1,0 8.5,0a4.3,4.3 0 1,0 -8.5,0M394,242a2.9,2.9 0 1,0 5.7,0a2.9,2.9 0 1,0 -5.7,0M239,236a4.3,4.3 0 1,0 8.6,0a4.3,4.3 0 1,0 -8.6,0M298,238a3.6,3.6 0 1,0 7.2,0a3.6,3.6 0 1,0 -7.2,0M326,201a3.2,3.2 0 1,0 6.3,0a3.2,3.2 0 1,0 -6.3,0M412,226a3.4,3.4 0 1,0 6.8,0a3.4,3.4 0 1,0 -6.8,0M239,206a3.7,3.7 0 1,0 7.5,0a3.7,3.7 0 1,0 -7.5,0M198,216a3.4,3.4 0 1,0 6.9,0a3.4,3.4 0 1,0 -6.9,0M267,208a2.9,2.9 0 1,0 5.8,0a2.9,2.9 0 1,0 -5.8,0M416,203a4.1,4.1 0 1,0 8.3,0a4.1,4.1 0 1,0 -8.3,0M435,210a3.4,3.4 0 1,0 6.9,0a3.4,3.4 0 1,0 -6.9,0M354,261a3.8,3.8 0 1,0 7.5,0a3.8,3.8 0 1,0 -7.5,0M345,185a3.4,3.4 0 1,0 6.7,0a3.4,3.4 0 1,0 -6.7,0M287,235a3.5,3.5 0 1,0 7.0,0a3.5,3.5 0 1,0 -7.0,0M372,252a3.2,3.2 0 1,0 6.5,0a3.2,3.2 0 1,0 -6.5,0M309,184a3.4,3.4 0 1,0 6.8,0a3.4,3.4 0 1,0 -6.8,0M325,251a3.1,3.1 0 1,0 6.3,0a3.1,3.1 0 1,0 -6.3,0M390,235a4.3,4.3 0 1,0 8.6,0a4.3,4.3 0 1,0 -8.6,0M171,222a3.1,3.1 0 1,0 6.1,0a3.1,3.1 0 1,0 -6.1,0M384,237a3.2,3.2 0 1,0 6.4,0a3.2,3.2 0 1,0 -6.4,0M448,257a3.5,3.5 0 1,0 7.0,0a3.5,3.5 0 1,0 -7.0,0M216,246a3.4,3.4 0 1,0 6.8,0a3.4,3.4 0 1,0 -6.8,0M408,200a4.3,4.3 0 1,0 8.7,0a4.3,4.3 0 1,0 -8.7,0M257,229a3.4,3.4 0 1,0 6.7,0a3.4,3.4 0 1,0 -6.7,0M337,180a3.5,3.5 0 1,0 6.9,0a3.5,3.5 0 1,0 -6.9,0M256,229a4.2,4.2 0 1,0 8.5,0a4.2,4.2 0 1,0 -8.5,0M299,262a3.1,3.1 0 1,0 6.2,0a3.1,3.1 0 1,0 -6.2,0M371,211a3.2,3.2 0 1,0 6.4,0a3.2,3.2 0 1,0 -6.4,0M251,209a3.7,3.7 0 1,0 7.4,0a3.7,3.7 0 1,0 -7.4,0M297,247a4.2,4.2 0 1,0 8.5,0a4.2,4.2 0 1,0 -8.5,0M270,245a3.9,3.9 0 1,0 7.7,0a3.9,3.9 0 1,0 -7.7,0M160,251a4.4,4.4 0 1,0 8.8,0a4.4,4.4 0 1,0 -8.8,0M342,221a4.4,4.4 0 1,0 8.9,0a4.4,4.4 0 1,0 -8.9,0M446,228a2.9,2.9 0 1,0 5.8,0a2.9,2.9 0 1,0 -5.8,0M306,194a3.6,3.6 0 1,0 7.3,0a3.6,3.6 0 1,0 -7.3,0M332,195a2.9,2.9 0 1,0 5.8,0a2.9,2.9 0 1,0 -5.8,0M299,237a3.7,3.7 0 1,0 7.5,0a3.7,3.7 0 1,0 -7.5,0M395,266a4.6,4.6 0 1,0 9.1,0a4.6,4.6 0 1,0 -9.1,0M251,216a3.8,3.8 0 1,0 7.7,0a3.8,3.8 0 1,0 -7.7,0M215,261a4.2,4.2 0 1,0 8.4,0a4.2,4.2 0 1,0 -8.4,0M440,210a3.7,3.7 0 1,0 7.4,0a3.7,3.7 0 1,0 -7.4,0M307,184a3.3,3.3 0 1,0 6.5,0a3.3,3.3 0 1,0 -6.5,0M348,260a2.9,2.9 0 1,0 5.8,0a2.9,2.9 0 1,0 -5.8,0M251,222a3.5,3.5 0 1,0 7.1,0a3.5,3.5 0 1,0 -7.1,0M230,191a3.4,3.4 0 1,0 6.7,0a3.4,3.4 0 1,0 -6.7,0M168,201a2.9,2.9 0 1,0 5.8,0a2.9,2.9 0 1,0 -5.8,0M415,234a3.7,3.7 0 1,0 7.4,0a3.7,3.7 0 1,0 -7.4,0M247,237a3.4,3.4 0 1,0 6.8,0a3.4,3.4 0 1,0 -6.8,0M403,252a3.2,3.2 0 1,0 6.4,0a3.2,3.2 0 1,0 -6.4,0M305,208a4.6,4.6 0 1,0 9.1,0a4.6,4.6 0 1,0 -9.1,0M222,179a3.2,3.2 0 1,0 6.4,0a3.2,3.2 0 1,0 -6.4,0M433,232a4.1,4.1 0 1,0 8.2,0a4.1,4.1 0 1,0 -8.2,0M298,239a3.6,3.6 0 1,0 7.1,0a3.6,3.6 0 1,0 -7.1,0M308,235a4.2,4.2 0 1,0 8.5,0a4.2,4.2 0 1,0 -8.5,0M433,233a4.3,4.3 0 1,0 8.6,0a4.3,4.3 0 1,0 -8.6,0M198,194a4.4,4.4 0 1,0 8.9,0a4.4,4.4 0 1,0 -8.9,0M170,217a3.2,3.2 0 1,0 6.5,0a3.2,3.2 0 1,0 -6.5,0M313,203a4.4,4.4 0 1,0 8.9,0a4.4,4.4 0 1,0 -8.9,0M180,251a4.5,4.5 0 1,0 9.0,0a4.5,4.5 0 1,0 -9.0,0M272,249a3.9,3.9 0 1,0 7.8,0a3.9,3.9 0 1,0 -7.8,0M219,223a3.0,3.0 0 1,0 6.1,0a3.0,3.0 0 1,0 -6.1,0M244,182a3.1,3.1 0 1,0 6.2,0a3.1,3.1 0 1,0 -6.2,0M416,222a4.4,4.4 0 1,0 8.7,0a4.4,4.4 0 1,0 -8.7,0M288,203a3.7,3.7 0 1,0 7.4,0a3.7,3.7 0 1,0 -7.4,0M260,264a2.9,2.9 0 1,0 5.7,0a2.9,2.9 0 1,0 -5.7,0M210,195a3.7,3.7 0 1,0 7.4,0a3.7,3.7 0 1,0 -7.4,0M267,186a3.9,3.9 0 1,0 7.8,0a3.9,3.9 0 1,0 -7.8,0M416,225a3.4,3.4 0 1,0 6.8,0a3.4,3.4 0 1,0 -6.8,0M301,198a2.9,2.9 0 1,0 5.8,0a2.9,2.9 0 1,0 -5.8,0M241,210a4.2,4.2 0 1,0 8.4,0a4.2,4.2 0 1,0 -8.4,0M274,255a3.0,3.0 0 1,0 6.0,0a3.0,3.0 0 1,0 -6.0,0M244,191a4.2,4.2 0 1,0 8.4,0a4.2,4.2 0 1,0 -8.4,0M200,227a3.7,3.7 0 1,0 7.4,0a3.7,3.7 0 1,0 -7.4,0M371,223a3.3,3.3 0 1,0 6.6,0a3.3,3.3 0 1,0 -6.6,0M436,219a3.1,3.1 0 1,0 6.2,0a3.1,3.1 0 1,0 -6.2,0M315,222a3.0,3.0 0 1,0 5.9,0a3.0,3.0 0 1,0 -5.9,0M162,220a4.1,4.1 0 1,0 8.2,0a4.1,4.1 0 1,0 -8.2,0M259,234a3.3,3.3 0 1,0 6.5,0a3.3,3.3 0 1,0 -6.5,0M369,248a3.8,3.8 0 1,0 7.5,0a3.8,3.8 0 1,0 -7.5,0M427,212a3.5,3.5 0 1,0 7.0,0a3.5,3.5 0 1,0 -7.0,0M153,209a4.2,4.2 0 1,0 8.4,0a4.2,4.2 0 1,0 -8.4,0M382,214a3.6,3.6 0 1,0 7.2,0a3.6,3.6 0 1,0 -7.2,0M333,180a3.7,3.7 0 1,0 7.5,0a3.7,3.7 0 1,0 -7.5,0M406,187a2.9,2.9 0 1,0 5.9,0a2.9,2.9 0 1,0 -5.9,0M300,231a3.5,3.5 0 1,0 7.0,0a3.5,3.5 0 1,0 -7.0,0M275,261a4.6,4.6 0 1,0 9.2,0a4.6,4.6 0 1,0 -9.2,0M445,191a3.4,3.4 0 1,0 6.8,0a3.4,3.4 0 1,0 -6.8,0M230,258a3.9,3.9 0 1,0 7.8,0a3.9,3.9 0 1,0 -7.8,0M317,183a4.2,4.2 0 1,0 8.5,0a4.2,4.2 0 1,0 -8.5,0M444,196a3.3,3.3 0 1,0 6.6,0a3.3,3.3 0 1,0 -6.6,0M154,252a3.2,3.2 0 1,0 6.4,0a3.2,3.2 0 1,0 -6.4,0M201,255a4.0,4.0 0 1,0 8.0,0a4.0,4.0 0 1,0 -8.0,0M283,197a4.5,4.5 0 1,0 9.0,0a4.5,4.5 0 1,0 -9.0,0M253,243a4.0,4.0 0 1,0 7.9,0a4.0,4.0 0 1,0 -7.9,0M267,264a3.5,3.5 0 1,0 7.1,0a3.5,3.5 0 1,0 -7.1,0M229,196a2.9,2.9 0 1,0 5.7,0a2.9,2.9 0 1,0 -5.7,0M285,260a4.1,4.1 0 1,0 8.2,0a4.1,4.1 0 1,0 -8.2,0M254,203a4.2,4.2 0 1,0 8.5,0a4.2,4.2 0 1,0 -8.5,0M398,204a3.3,3.3 0 1,0 6.5,0a3.3,3.3 0 1,0 -6.5,0M229,249a3.7,3.7 0 1,0 7.3,0a3.7,3.7 0 1,0 -7.3,0M352,237a4.2,4.2 0 1,0 8.5,0a4.2,4.2 0 1,0 -8.5,0M313,177a4.0,4.0 0 1,0 8.0,0a4.0,4.0 0 1,0 -8.0,0M223,253a3.9,3.9 0 1,0 7.7,0a3.9,3.9 0 1,0 -7.7,0M356,238a4.3,4.3 0 1,0 8.7,0a4.3,4.3 0 1,0 -8.7,0M395,259a4.3,4.3 0 1,0 8.6,0a4.3,4.3 0 1,0 -8.6,0M227,243a3.4,3.4 0 1,0 6.9,0a3.4,3.4 0 1,0 -6.9,0M376,226a3.8,3.8 0 1,0 7.7,0a3.8,3.8 0 1,0 -7.7,0M179,192a3.0,3.0 0 1,0 6.1,0a3.0,3.0 0 1,0 -6.1,0M179,254a4.4,4.4 0 1,0 8.9,0a4.4,4.4 0 1,0 -8.9,0M255,217a3.8,3.8 0 1,0 7.7,0a3.8,3.8 0 1,0 -7.7,0M358,183a4.6,4.6 0 1,0 9.1,0a4.6,4.6 0 1,0 -9.1,0M159,185a4.1,4.1 0 1,0 8.2,0a4.1,4.1 0 1,0 -8.2,0M249,233a3.8,3.8 0 1,0 7.6,0a3.8,3.8 0 1,0 -7.6,0M294,222a4.3,4.3 0 1,0 8.5,0a4.3,4.3 0 1,0 -8.5,0M272,245a3.9,3.9 0 1,0 7.7,0a3.9,3.9 0 1,0 -7.7,0M417,185a3.3,3.3 0 1,0 6.7,0a3.3,3.3 0 1,0 -6.7,0M157,178a3.8,3.8 0 1,0 7.6,0a3.8,3.8 0 1,0 -7.6,0M288,192a3.1,3.1 0 1,0 6.2,0a3.1,3.1 0 1,0 -6.2,0M210,257a3.8,3.8 0 1,0 7.6,0a3.8,3.8 0 1,0 -7.6,0M276,227a3.6,3.6 0 1,0 7.2,0a3.6,3.6 0 1,0 -7.2,0M297,182a4.6,4.6 0 1,0 9.1,0a4.6,4.6 0 1,0 -9.1,0M325,241a4.4,4.4 0 1,0 8.8,0a4.4,4.4 0 1,0 -8.8,0M181,181a3.2,3.2 0 1,0 6.4,0a3.2,3.2 0 1,0 -6.4,0M202,193a3.5,3.5 0 1,0 7.0,0a3.5,3.5 0 1,0 -7.0,0M399,229a4.1,4.1 0 1,0 8.2,0a4.1,4.1 0 1,0 -8.2,0M299,260a4.4,4.4 0 1,0 8.8,0a4.4,4.4 0 1,0 -8.8,0M188,237a4.5,4.5 0 1,0 9.0,0a4.5,4.5 0 1,0 -9.0,0M397,225a3.5,3.5 0 1,0 7.0,0a3.5,3.5 0 1,0 -7.0,0M178,200a3.0,3.0 0 1,0 5.9,0a3.0,3.0 0 1,0 -5.9,0M171,246a3.7,3.7 0 1,0 7.4,0a3.7,3.7 0 1,0 -7.4,0M261,240a3.4,3.4 0 1,0 6.7,0a3.4,3.4 0 1,0 -6.7,0M426,196a3.2,3.2 0 1,0 6.3,0a3.2,3.2 0 1,0 -6.3,0M216,262a4.4,4.4 0 1,0 8.8,0a4.4,4.4 0 1,0 -8.8,0M212,260a2.9,2.9 0 1,0 5.7,0a2.9,2.9 0 1,0 -5.7,0M361,217a3.2,3.2 0 1,0 6.4,0a3.2,3.2 0 1,0 -6.4,0M329,196a3.7,3.7 0 1,0 7.5,0a3.7,3.7 0 1,0 -7.5,0M374,214a4.4,4.4 0 1,0 8.8,0a4.4,4.4 0 1,0 -8.8,0M420,192a3.2,3.2 0 1,0 6.4,0a3.2,3.2 0 1,0 -6.4,0M154,207a2.9,2.9 0 1,0 5.9,0a2.9,2.9 0 1,0 -5.9,0M241,186a3.7,3.7 0 1,0 7.3,0a3.7,3.7 0 1,0 -7.3,0M227,260a4.2,4.2 0 1,0 8.5,0a4.2,4.2 0 1,0 -8.5,0M258,224a3.0,3.0 0 1,0 5.9,0a3.0,3.0 0 1,0 -5.9,0M169,250a3.0,3.0 0 1,0 5.9,0a3.0,3.0 0 1,0 -5.9,0M261,197a3.2,3.2 0 1,0 6.4,0a3.2,3.2 0 1,0 -6.4,0M215,195a4.5,4.5 0 1,0 9.0,0a4.5,4.5 0 1,0 -9.0,0M223,235a3.2,3.2 0 1,0 6.5,0a3.2,3.2 0 1,0 -6.5,0M430,257a3.7,3.7 0 1,0 7.4,0a3.7,3.7 0 1,0 -7.4,0M434,241a4.4,4.4 0 1,0 8.8,0a4.4,4.4 0 1,0 -8.8,0M308,182a2.9,2.9 0 1,0 5.9,0a2.9,2.9 0 1,0 -5.9,0M403,263a3.6,3.6 0 1,0 7.1,0a3.6,3.6 0 1,0 -7.1,0M417,258a3.4,3.4 0 1,0 6.7,0a3.4,3.4 0 1,0 -6.7,0M378,246a4.0,4.0 0 1,0 8.0,0a4.0,4.0 0 1,0 -8.0,0M220,180a3.4,3.4 0 1,0 6.8,0a3.4,3.4 0 1,0 -6.8,0M231,223a3.4,3.4 0 1,0 6.9,0a3.4,3.4 0 1,0 -6.9,0M271,204a3.0,3.0 0 1,0 6.1,0a3.0,3.0 0 1,0 -6.1,0M235,236a3.3,3.3 0 1,0 6.6,0a3.3,3.3 0 1,0 -6.6,0M419,255a3.6,3.6 0 1,0 7.3,0a3.6,3.6 0 1,0 -7.3,0M239,235a4.4,4.4 0 1,0 8.8,0a4.4,4.4 0 1,0 -8.8,0M396,194a3.2,3.2 0 1,0 6.4,0a3.2,3.2 0 1,0 -6.4,0M165,261a3.3,3.3 0 1,0 6.6,0a3.3,3.3 0 1,0 -6.6,0M269,245a3.3,3.3 0 1,0 6.6,0a3.3,3.3 0 1,0 -6.6,0M367,177a3.5,3.5 0 1,0 7.1,0a3.5,3.5 0 1,0 -7.1,0M159,250a3.3,3.3 0 1,0 6.6,0a3.3,3.3 0 1,0 -6.6,0M396,244a3.0,3.0 0 1,0 6.0,0a3.0,3.0 0 1,0 -6.0,0M240,248a4.0,4.0 0 1,0 8.1,0a4.0,4.0 0 1,0 -8.1,0M277,187a3.1,3.1 0 1,0 6.2,0a3.1,3.1 0 1,0 -6.2,0M255,220a4.0,4.0 0 1,0 8.0,0a4.0,4.0 0 1,0 -8.0,0M411,238a3.8,3.8 0 1,0 7.6,0a3.8,3.8 0 1,0 -7.6,0M310,231a2.9,2.9 0 1,0 5.8,0a2.9,2.9 0 1,0 -5.8,0M164,225a3.6,3.6 0 1,0 7.1,0a3.6,3.6 0 1,0 -7.1,0M411,196a3.4,3.4 0 1,0 6.9,0a3.4,3.4 0 1,0 -6.9,0M225,235a4.2,4.2 0 1,0 8.5,0a4.2,4.2 0 1,0 -8.5,0M180,210a4.0,4.0 0 1,0 8.0,0a4.0,4.0 0 1,0 -8.0,0M373,245a3.1,3.1 0 1,0 6.2,0a3.1,3.1 0 1,0 -6.2,0M366,216a4.4,4.4 0 1,0 8.8,0a4.4,4.4 0 1,0 -8.8,0M208,252a4.4,4.4 0 1,0 8.9,0a4.4,4.4 0 1,0 -8.9,0M333,191a3.4,3.4 0 1,0 6.8,0a3.4,3.4 0 1,0 -6.8,0M262,256a3.1,3.1 0 1,0 6.2,0a3.1,3.1 0 1,0 -6.2,0M275,209a3.8,3.8 0 1,0 7.5,0a3.8,3.8 0 1,0 -7.5,0M370,178a3.2,3.2 0 1,0 6.4,0a3.2,3.2 0 1,0 -6.4,0M175,220a4.0,4.0 0 1,0 7.9,0a4.0,4.0 0 1,0 -7.9,0M387,241a3.1,3.1 0 1,0 6.2,0a3.1,3.1 0 1,0 -6.2,0M449,176a3.2,3.2 0 1,0 6.3,0a3.2,3.2 0 1,0 -6.3,0M340,234a3.5,3.5 0 1,0 7.0,0a3.5,3.5 0 1,0 -7.0,0" fill="#e08b6d" stroke="#b8674f" stroke-width="0.45" stroke-opacity="0.7"/>
<path d="M366.1,218.8 366.5,217.2 365.2,211.7 364,210.4 360.8,209.4 357.3,211.6 356.6,212.5 357.9,219.2 358.5,220.2 359.6,220.7 364.3,220.9ZM355.8,213.3 354.7,212 351.4,210.6 346.9,212.7 346.6,213.8 346.9,222 351.5,224.3 356.4,221.6 357.2,220.7 357.3,219.5ZM365.6,226.3 365.5,224.7 364.1,222.3 358.6,221.5 357.4,221.8 353.1,224.4 352.4,225.3 352.2,226.3 352.8,228 357.4,233.1 359.2,233.7 362.7,232.9ZM325,218.8 333.2,216.1 334.1,213.6 333.6,211.7 328.6,206.5 327.8,206 326,206.4 322.2,214.5 322,215.6 322.6,216.7ZM367.8,245.8 374.5,248.7 375.6,248.3 377.6,246.1 376.3,237.6 375.4,236.2 374.4,235.9 367.8,238.8 366.7,243.7 366.9,244.9ZM330.6,229.5 338.3,225 338.5,223.8 338.1,222.8 334.3,218.1 333.3,217.4 332.1,217.4 326.4,219.4 325.1,221 325.1,223.8 328.6,229.5ZM382.5,245.7 384.1,244.6 386.3,239.4 383.4,235.7 382.4,235.1 381.3,235.1 377.5,236.6 377,238.3 378.5,245.2 380.2,245.9ZM339.2,194.9 338.6,196.8 341.5,200 346.8,199.6 348.3,198.5 350.8,193.2 350.9,191.6 350,190.2 349,189.8 345,189.7ZM344.5,246.9 349.9,252.3 351.9,251.7 354,243.3 352.6,241.9 346.8,240.6 345.4,242.1ZM341.3,224.3 339.8,225.7 339.8,226.8 342.2,235 342.8,236 343.8,236.4 344.9,236.3 350.7,228.2 351,226.4 349.9,224.9 347,223.4 345.6,223.3ZM307.6,216.6 308.8,217.6 311.9,218.2 316.6,215.2 316.6,213.3 314.2,209.1 308.5,207.8 306.8,208.2 305.1,211.9ZM387.5,239.9 384.8,245.1 385.5,246.7 390.3,250.5 393,249.7 394,248.7 396.4,243.2 395.5,241.6 392.2,239.3 390.6,239ZM380.6,219 379.5,219.6 379,220.7 378.8,225.1 384.3,228.7 387.8,227.3 389,221.2 387.5,218.9 386.6,218.2 385.5,218.1ZM312.7,220.5 314.6,226.3 315.6,226.8 316.7,226.6 323.1,223.6 324.2,222 324.4,219.6 323.9,218.8 321.7,216.4 319,215.5 317.5,215.8 313.5,218.3 312.7,219.2ZM398.7,221.6 390.6,221.8 389.6,223.2 389.1,226.2 389.8,228.2 392.6,230.1 398,229 399,228.3 399.7,223.5 399.5,222.4ZM403.2,231.3 408.6,231.9 409.5,231 412.4,225.6 412.4,223.7 410.9,222.7 402,221.9 400.8,223.6 400.6,228.8 402.1,230.7ZM374.9,233.8 375.4,234.8 376.4,235.4 381,234.3 382.3,233 382.9,229.7 382.1,228.7 379.3,226.9 378.2,226.6 377.1,226.9 374.5,228.9ZM390.8,266.5 392.4,265.7 392.7,263.8 388.7,259.7 386.7,259.3 382.6,260.7 382.1,262.5 382.6,264.9 383.6,266.3ZM402,233.9 399.4,240.9 399.9,241.9 400.9,242.5 407,244.1 408.1,244 409.1,243.4 411.5,239.8 411.3,238.6 408.5,233.8 404.2,232.8 403.3,232.8ZM348.2,255.2 348.7,253.2 348.2,252.4 343.5,248.1 338.6,249.7 337.4,251 337.9,255.6 338.9,257.1 346,257.2ZM320.3,243.9 321.5,244.3 322.7,243.9 330.3,238.1 330.4,236.4 328.6,232.7 326.7,232.4 319.3,235.5 318.2,241.9ZM363.9,260.5 359.2,257.5 358,257.9 357.3,258.8 355.3,264.5 356.4,266 362.8,266.1 364.9,263.6 364.6,261.5ZM366.2,264.7 364.7,266.3 369,266.3ZM297.8,237.4 298.8,239 299.7,239.2 305.5,239.3 306.6,237.9 307.8,232.4 307.7,231.2 302.8,227.8 301,227.6 297.6,231.1ZM312.5,197.8 306.6,200.5 306.2,202.3 306.9,205.2 307.4,206.2 308.5,206.7 314.3,207.5 317.9,203.4 317.5,201.6 314.8,198.3 313.7,197.7ZM412.3,209.4 411.5,210.3 411.4,211.5 413.8,220.2 414.8,220.7 416,220.6 422.3,217.9 423.2,217.1 423.3,210.9 422.1,209.2 416.4,206.9ZM415.9,221.8 414.7,223.4 415.5,225.2 421.4,229.1 424.3,228.1 424.9,226.5 424.2,221 423.2,219.5 421.4,219.4ZM391.8,210.4 390.7,210.3 389.6,210.8 389,211.7 387.6,217.4 389.1,219.8 390.8,220.6 399,220.1 400,218.4 399.8,214.4ZM388.5,211.1 388.4,209.8 387.6,208.8 385.9,207.9 377.9,209.9 376.9,210.5 376.4,211.5 376,215.8 379,218.5 385.5,217.5 386.5,217 387,216.1ZM383.4,233.3 383.8,235.2 387.2,238.6 389.9,238.2 390.9,237.6 391.4,236.5 391.8,231.2 389.1,228.8 387.1,228.6 384.7,229.7ZM401.1,258.9 398.3,262.6 398.7,264.4 403.2,266.2 406.3,265.8 407.7,262.7 407.7,261.4 406.8,260.4 402.8,258.2ZM402.8,201.2 404.3,196.9 403.8,195.9 397.6,194.2 396.4,194.2 395.5,195 393.8,197.8 394.6,200.9 395.3,201.8 400.9,202.5 402.1,202.2ZM331.3,181.4 332,183.1 332.9,183.5 339.9,181.8 341.2,180.7 342.3,177.5 341.9,176.5 340.9,175.9 333.9,174 331.7,175.8ZM361.4,195.6 361.3,197.1 361.9,198.3 370.4,200.7 371.6,200.6 372.5,200 374,197.6 373.7,196.4 369.8,190.2 368.4,189.3 365.2,189.2 364.4,190.1ZM332.2,186.5 330.5,185.4 329.5,185.6 325.6,191 325.2,192 328.1,197.4 329.5,198.4 335,196.9 336,196.2 336.4,195.2ZM408.4,264.1 408.7,265.9 410.3,266.7 416.2,266.4 417.2,264.7 416.2,263 411.5,260.4 409.5,261.3ZM387.9,207.9 388.9,208.2 390.7,207.3 393.8,202.3 393.1,199.4 391.5,198.1 388.1,197.7 384.9,201.6 386.3,206.3ZM344.9,173.9 345.4,175 346.5,175.7 350.6,176.3 352,175.2 352.6,173.2 351.5,171.6 346.9,171.4 345.1,172.5ZM362.5,180.7 362,181.9 362.3,183.1 364.7,186.8 366.1,187.7 368.3,188.1 370,187.5 374.8,182.1 374.3,179.1 373.4,177.9 370.1,176 366.5,176.7 365.4,177.4ZM282.2,221.2 281.1,221.5 280.4,222.4 281.2,228.8 282.6,230.3 286,231.1 288.9,228.6 287.7,222.7 286.6,221.4ZM374.9,184.3 370.9,188.7 371.2,190.4 373.6,194.2 374.5,195 375.7,195.1 376.7,194.5 382.1,188.4 382,187.2 381.2,186.3 376.6,183.7ZM291.2,229.8 289.4,230.2 287,232.4 287.8,238.7 289.6,239.5 295.8,238.6 296.6,236.9 295.9,231.5ZM401.5,212.4 404.2,209.3 404.1,208.1 402.6,204.5 402,203.7 400.9,203.3 395.2,203.3 392.3,207 392,208.1 392.3,209.2 393.2,210 399.3,212.7 400.4,212.9ZM345.1,266.2 346.5,265 346.6,264 345.8,259 344.2,258.2 338.9,258.1 337.3,258.9 336.6,261.1 340.3,265.9 341.9,266.6ZM427.8,229.2 428.9,229.4 430,228.9 433.4,225.9 434,224.9 433.9,223.8 432.2,219.8 426.4,218.8 425.7,219.2 425.1,220.9 425.8,227.3 426.2,228.2ZM309.3,244.5 308.8,242.6 307.2,241 305.9,240.4 298.9,240.3 297.8,241.9 297.3,248.7 302.2,253.7 303.9,254.2 305.7,254 306.8,253.5 307.3,252.5ZM310.7,244.3 308.5,252.8 309.9,254.2 316.7,253.2 317.7,252.7 318.3,251.7 319.5,245 317.4,243.1 311.8,243.8ZM328,250.4 322.7,245.7 320.9,246.3 319.2,253.4 322.8,257.2 324.6,257.7 326.1,256.5 327.9,251.6ZM317,227.6 316.1,228.4 315.9,229.5 318.2,233.1 319.2,233.8 320.5,233.7 325.6,231.8 326.5,231.1 326.9,230 324.9,225.9 323.3,224.9ZM423.2,241.8 430.2,237.6 430.5,235.9 428.5,230.6 426.4,229.4 424.9,229.3 421.8,230.6 419.3,238.1 419.5,239.8ZM424.4,209.9 424.7,216.7 426.1,217.7 432.3,218.5 436.8,214.2 437.3,212.9 437,210.6 434.3,207.3 431.4,206.2 429.6,206.4ZM424.6,192.5 423.2,192.9 416.5,198.7 415.8,200.4 416.8,205.9 423.6,208.9 429,205.8 429.8,205 429.9,203.8 428.8,195.1 427,193ZM376.9,177.4 376.1,178.4 376,179.6 377.3,182.3 383.2,186 384.3,186.3 386.2,185.5 387,184.3 387.8,181.6 387.6,180.1 384.1,174.1 382,174.2ZM382,190.4 376.6,196.3 377,198.2 382.4,200.5 383.6,200.6 384.7,199.9 387,196.6 385.3,191.1 383.8,189.8ZM438.2,227.2 436.8,226 434.7,225.7 430.3,229.3 429.7,230.3 429.8,231.4 432,237.2 434.2,237.8 439.2,232.8 439.7,231.8 439.6,230.7ZM308.9,171.4 307.2,172.3 306.9,173.3 307.6,175.2 308.3,176 309.4,176.3 317.8,176 319.4,173.4 319.1,172.4 317.4,171.4ZM267.6,236.2 267.1,237.9 267.5,238.8 269.3,241 270.6,241.7 273.1,242 274.6,241.7 277.3,239.4 276.8,234.1 272.9,232.2 271.7,232.1 270.7,232.7ZM321.7,171.2 331,175.3 333.5,173.1 333.7,171.2ZM446.7,222.2 444.9,221.5 443.9,221.8 439.5,225.2 438.8,226.3 438.9,227.6 440.8,231.4 446.8,232.2 448.6,231.3 450.4,227.8ZM262.1,209.1 260.2,208.6 259.4,209 253.5,214.2 252.8,215.7 253.4,217.3 255.4,218.4 264.3,217.7 266,214.7 266.1,213.5ZM288.1,240.4 286.8,241 286.1,242 286.4,249.6 287.9,250.5 289.2,250.6 296.2,248.4 297.3,242 297.1,240.8 296.3,240ZM281.4,251.1 283.1,251 285,249.5 285.1,243.8 284.7,242.6 283.7,241.9 278,240.5 275.8,241.8 275.1,242.8 275.1,244 276.6,248.7 277.9,250ZM271.6,230.1 272.8,231.6 276.1,232.9 277.2,233 279.7,231.1 280.3,229.3 278.8,223.3 277.8,222.8 276.6,222.9 271.5,225.4 271,227.1ZM418.4,182.7 417.8,184.6 418.3,185.5 423.4,191.1 424.8,191.8 426.4,191.2 429.1,183.3 426.5,178.4 425.6,177.6 424.5,177.5 423.4,178ZM292.5,207.8 293.2,203.6 292.5,202.8 287.1,199.1 284.6,199.5 283.2,200.6 283.1,206.1 283.4,207.2 284.4,208 289.5,209.7ZM448.5,209.9 439.4,211.6 438.8,213.6 443.9,219.4 444.9,220 446.1,219.9 447,219.2 451,212.5 450.6,211 449.8,210.1ZM275.6,211.9 277.6,211.6 282.1,207.5 282.2,200.7 281.9,199.8 280.8,198.7 279,198.3 277.7,198.7 272.6,202.8 273.4,210 273.8,211ZM294.3,180.8 292.5,180.5 291.7,181.1 288.1,185.4 288.4,187.2 291.1,190.7 292.7,191.5 295.3,190.9 298.7,187 298.2,183.7ZM285.2,174.5 283.5,174.9 283,175.6 280.2,180.8 280.3,183 281.1,184.1 283.3,185.3 286.7,185.2 292.1,179.1 291.6,176.4ZM279.4,182.4 278.5,181.2 272.3,177.8 270.6,178.7 268.2,182.2 268,183.9 270.7,187.3 272.4,187.9 278.5,184.6 279.3,183.7ZM283.1,261.2 284.9,261.7 289.1,260.9 290.1,260.3 290.7,259.3 288.2,252.4 286.8,251.2 285,251.4 283.2,252.6 282.9,253.4 281.8,258.6 281.8,259.6ZM429.3,181.5 430.2,182.3 431.4,182.5 437.1,181.6 438.1,181.1 438.7,180.2 438.7,179 432.1,172.9 430.2,172.5 427.4,175.3 426.9,176.4ZM332.9,241.3 331.7,239.7 329.8,239.9 325.4,243.1 324.7,244.1 324.6,245.2 325.3,246.2 329,249.1 332.1,248.6 332.9,248.2 333.6,246.4ZM296.5,263.2 295.2,266.3 300.5,266.3ZM319,182.7 316.5,189.1 317.4,190.7 323.6,191.3 327.2,186.6 327.5,185.5 327.2,184.4 326.3,183.6 320.6,181.5ZM322,262.7 313,263.9 313.8,266.6 322.4,266.6ZM449.9,249.7 439.1,251.5 438.5,253.4 440,259.9 441,261.2 442.9,261.8 451.2,256.6 452.7,253.4 452.8,252.2 452.1,251.3ZM439.8,249.7 448.2,248.5 448.9,246.7 448.4,242.9 448,241.9 447,241.3 440,242.7 438.6,243.8 438.6,248 438.9,249ZM266.4,193.8 270.9,190.3 271,189.2 270.5,188.2 266.7,184.2 262.1,184.3 259.4,187.2 260.9,192.4 264.6,194ZM430.6,203.7 431.9,205.3 435.1,206.2 441.9,199.6 442.4,197.8 439.3,193.7 437.3,193 430.4,194.6 429.7,196.4ZM263.3,172.9 261.3,173.3 260.7,174.2 261.9,181.4 263,182.8 266.6,182.7 270,178.1 270.4,176.9 270,175.8ZM268.6,225.3 267.5,225.1 266.5,225.6 262,229.7 262.1,234.3 262.5,235.5 263.6,236.2 265.7,236.4 266.6,235.8 270.6,231.1 270,226.8ZM265.5,201.3 266.1,199.3 265.4,196.5 264.2,195.1 261.8,194.2 260.5,194.2 259.5,194.8 256.3,199.1 256.7,200.9 260.4,204.6 262.3,204.2ZM437.6,176.8 438.7,177.3 439.8,177.1 440.6,176.4 442.3,173.3 441.3,171.5 436.6,171.2 434.9,172.1 434.7,173.9ZM387.6,171.4 385.9,172.4 385.6,173.3 388.8,179.3 390.7,179.4 394.7,177.3 395.6,173.8 395.4,172.6 394.7,171.7ZM275.9,199.2 276.5,198.3 276.6,197.2 276.1,196.2 271.8,192.1 270,192.4 266.4,195.3 267.1,199.5 268.4,200.9 271.7,201.9ZM427.6,190.9 427.5,192.1 429.1,193.6 438.2,191.7 441,185.4 440.7,183.3 439.5,182.4 438.5,182.3 430.3,183.8ZM274.6,264 274.8,265.9 276.5,266.8 282.4,266.5 283.4,264.8 283.2,262.9 280.6,260.6 275.7,261.9ZM450,172.5 451.7,179.2 453.5,178.9 453.5,171.5 451.4,171.5ZM266.3,249.3 268.4,253.4 270.5,253.4 275.3,250.2 275.6,248.5 273.5,243 271.2,242.4 270,242.6 269.2,243.5ZM453.4,185.5 453.4,182.6 451.7,181.6 450,182.5 449.3,184.2 450.1,185.8 451.8,186.6ZM249.1,194.4 249.9,195.8 252.9,198 253.8,198.4 255.6,197.7 259.4,192.8 257.8,187.7 255.4,187.1 249.8,190.8 249.1,191.6ZM257.3,186.3 259.1,185.7 261.1,183.3 259.3,175 257.5,174.3 250.8,175.4 249.8,177.3 250.2,179.1 255.1,185.4ZM254,225.8 254.5,224.3 253.9,220 253.3,218.9 251.8,217.9 244.9,220.1 244,220.7 243.6,221.8 243.5,227.2 248,230.2 248.8,230.5 250.5,229.8ZM453.4,218.1 452.5,216.4 450.5,216.4 447.8,220.1 447.5,221.2 447.9,222.4 450.6,225.6 452.5,225.5 453.2,224.8ZM251,234 251.9,235.2 256.2,237.6 258.2,237.5 260.4,235.9 260.2,229.8 256.7,227.2 254.9,227 251,231.1 250.6,232ZM246.1,245.1 247.4,246.1 254.4,247.6 255.3,247 255.8,245.9 256.3,239.4 251.8,236.6 250.7,236.4 249.6,236.8 244.9,240.9 244.9,242.7ZM232,220.2 230.2,221.2 230,222.8 230.5,224.1 236.2,229.9 237.9,230.4 238.7,230.1 242.2,227.4 242.8,222.7 241.9,220.8ZM266.2,247.5 268.8,241.9 268.3,240.9 266.3,238.3 265.2,237.6 262.3,237 260.8,237.2 257.7,239.3 256.9,245.9 258.3,247.1 264.8,248.5ZM244.6,207.2 240.3,210 240.2,211.9 243.6,218.5 245.4,218.7 251.2,216.3 251.6,215.2 251.3,213.9 247.9,208.4 246.7,207.5ZM395.5,240.7 396.6,241.1 397.8,240.8 398.5,239.9 401.5,232.9 401.6,231.8 401.1,230.8 399.7,229.6 394,230.7 393,231.3 392.5,232.4 392.1,238ZM232.6,189 230.7,188.9 229.9,189.6 229.4,194.9 229.7,196.1 234.7,198.7 236.4,198.7 238.1,197.4 238.3,196.2 237.5,192.1ZM257.3,219.7 255.6,220.9 255.7,224 256.6,225.4 259.8,227.5 261,227.9 262.2,227.4 265.3,224.7 265.9,223.6 265.8,222.4 264.3,219.8ZM422.9,247 420.6,252.7 421,253.7 424.3,256.9 425.4,256.9 426.4,256.3 429.4,252.4 428.9,250.6 424.8,246.6ZM290.3,262.2 288.9,263.4 289,265.3 290.7,266.2 293.3,265.8 294.1,264.6 293.9,262.8 293.1,262.2ZM267.2,257.2 262.6,261.6 262.9,263.5 264,264.8 265.5,265.6 271.3,265.9 272.5,265.6 274,262.9 274.1,261.8 273.5,260.8 269,256.7ZM236,230.5 230.4,225.3 229.3,225.3 225.4,229.8 225.1,231.8 225.8,233.6 227.1,234.8 234.8,233.9 236.4,232.6ZM245,258.4 246.1,259 247.4,258.9 253.1,256 253.9,250.6 253.2,248.9 247.7,247.3 246.5,247.3 245.6,248 241.9,253.4 242.3,255.1ZM235.5,244.5 235,245.7 235.4,246.9 238.5,251.4 240.1,252.2 241.8,251.4 245.3,246.2 243.1,241.6 240.1,240.7 238.9,240.7 238,241.4ZM239.2,181 237.3,181.5 233,186.2 233.2,187.4 234,188.3 238.5,190.6 242.5,188.7 243.4,187.9 243.6,186.8 242.9,182.4ZM274.7,260.1 276.6,260.6 280,259.4 281.4,254.1 280.9,252.3 276.6,250.9 271.6,253.7 270.9,254.6 270.7,255.8 271.3,256.9ZM248.1,178.6 249,177.5 249.7,174.8 247.7,171.6 243.1,171.3 238.2,172.2 237.2,172.7 236.7,173.6 237.9,178.8 239.2,180.1 243.6,181.2ZM218.6,240.6 220.3,240.6 223.3,239.4 224.4,238.3 225.3,236.2 225.3,234.7 223.7,231.2 220.7,229.9 219.5,229.9 218.5,230.5 215.4,234.4 217.2,239.3ZM232.1,260.3 232.7,261.8 236.6,265.2 243.5,262.7 244.7,261.3 244.3,259.6 241,255.6 239.3,254.9 233.1,258.2 232.4,258.9ZM225.2,207.7 226.2,206.9 226.5,205.7 225.8,200.1 224.2,199.2 219,199 217.8,199.4 215.5,204.4 215.5,205.6 216,206.6 219.7,209.6ZM218.8,218.6 216.5,221.4 216.7,222.6 219,227.9 220.2,229 222.8,229.9 224,229.9 225,229.3 229.1,224.2 229.5,222.8 229.1,221.2 228.1,220.5 220.9,218.1 219.8,218ZM226.9,199.8 227.7,207.1 228.6,207.8 231.5,208.8 232.6,208.8 233.6,208.3 235,201.6 234.8,200.4 233.9,199.5 229.8,197.7 228.6,197.5 227.6,198.1ZM258.8,205.1 255,201.3 253.9,201.3 253,202 249.5,206.2 249,207.3 249.3,208.5 252,212.2 253.2,212.3 254.2,211.9 259.2,207.1ZM226.4,254.1 224.9,253.5 222.4,254 219.5,259.2 219.6,261.1 222.1,265.1 224.1,265.1 230.5,261.1 230.6,258.6ZM215.4,222.1 210.2,222.5 209.2,224.1 209.2,231.7 210.6,232.8 214.2,233.5 217.9,229.7 218.4,228.7 218.2,227.6 216.2,223ZM207.7,263.9 208,265.7 209.6,266.5 218,266.5 219.7,265.5 220,264.6 218.7,261.6 217,260.6 210.4,260.3 209.2,260.6ZM232,246.1 230.6,246.9 227,252.4 227.5,254.1 230.3,256.9 231.9,257.5 237.2,254.6 238.2,252.8 234.5,246.9 233.7,246.2ZM217.9,189.4 218.3,188.3 218,187.3 214.2,181.3 212.1,181.5 207.3,185.1 207.3,186.9 209.6,191.3 211,192.4 215.3,192.8ZM258.5,266.3 263.5,266.3 261.2,263.5ZM198.7,224.2 197.3,225.4 197.5,227.6 202.6,234.2 204.4,235 207.4,233.1 208.3,231.5 208.1,223.8 207.2,223 206.1,222.9ZM201.2,175 211.7,174.7 211.6,171.5 201,171.5ZM198.9,241 199.7,245.9 201.2,246.7 205.6,247 207.2,246.4 208.1,243.6 205.1,238.3 204.3,237.5 203.1,237.3 202.1,237.8ZM206.2,248.6 200.1,248.4 198.9,249.7 200.2,255.3 205.3,257.1 206.4,257.1 207.4,256.5 208.4,251.5 207.8,249.5ZM205.9,214.1 204.5,212.8 203.5,212.8 198.5,214.3 197.7,215.9 198.1,222.2 199,222.9 200.1,223.1 207.1,221.5 207.7,220.5 207.6,219.4ZM209.8,249.7 217.7,249.1 218.6,247.5 218.8,243.3 217.9,241.6 216,241.4 209.7,244.1 208.5,247.8ZM205.9,197.7 207.6,205.1 209.4,205.8 213.8,205 216.3,199.1 216.3,197.8 214.8,194.2 210.1,193.3 206.6,195.8ZM222.4,175.8 215.2,178.4 214.8,179.5 215,180.7 219.3,187.4 220.5,187.6 226.3,186.4 226.9,185.4 226.9,184.3 224.4,176.2ZM191.1,235.1 190.8,237 191.2,237.8 197.6,239.9 201.3,236.9 201.9,235.1 198.3,230 197.3,229.3 196.1,229.3 195.1,230ZM195.9,227.8 196.2,225.9 195.7,225.1 187.3,222.8 186.1,222.8 185.2,223.5 182.9,226.9 183.4,228.6 189,234.6 190.2,234.6 191.1,233.9ZM187.9,241.2 187.4,242.3 187.6,243.4 189.8,247.9 190.7,248.8 192,249 196.3,248.3 197.9,247 197.3,242.4 196,240.9 190.1,239.3ZM191.3,250.2 189.8,251.3 189.7,252.9 191.9,258.7 193.3,259.9 194.3,259.9 198.7,255.9 198,251.1 196.7,249.6ZM180.5,242.9 179.4,243.4 178.7,244.3 177.4,248.5 180.2,253.6 181.9,253.9 188.9,251.4 189.3,250.3 189.1,249.2 185.6,242.9ZM181.1,175.2 182.6,176.3 184.8,175.6 185.7,174.9 185.9,172.9 184.1,171.8 181.6,172 180.6,173.7ZM208.5,191.7 205.5,186 204.5,185.7 198.8,189.1 197.9,190.6 198.2,192.8 199.2,193.6 203.9,195.2 205.7,194.8 207.8,193.3ZM181.2,179.2 180.9,180.4 181.3,184.4 183.7,186.6 185.6,186.9 191.2,184.9 192.2,184.2 192.6,183 192.3,178.8 188.9,176.3 187.1,176.1 182.4,178ZM239.5,196.6 240.7,198.2 242.1,198.6 247.1,196 247.9,195.2 248.2,194.1 247.7,191.4 244.2,189.1 240,191 239.2,191.8 239,193ZM204.4,176 202.8,176.9 202.5,178.7 204.1,183 205.3,184.2 207.1,183.9 213.2,179.2 212.9,177.2 211.8,176.1ZM206.6,265.2 194.8,265.9 194.6,266.7 207.1,266.7ZM179.1,201.5 175.4,211.6 175.9,212.6 176.8,213.1 183.2,214.9 184.3,214.9 185.2,214.3 188.1,210.3 183.8,201.3 183,200.4 181.9,200.2 179.8,200.7ZM171.8,208.8 173.7,209.5 175.3,208.3 177.8,202 177.7,200.2 176.7,199.4 174.7,199.3 168.7,202.9 168.4,204.1 168.9,205.1ZM174.5,189.7 173.7,191.3 173.8,192.2 175.9,197 176.7,197.9 180.2,199.5 182.4,199.3 184.8,197.3 185.3,195.6 184,188.9 181.7,186.4 180.6,186 179.3,186.3ZM161,207.5 162.4,213.7 163.4,214.2 164.5,214.2 169.8,212.3 171.1,210.9 170.7,209.1 165.8,203.6 164.6,203.6 163.7,204.2ZM176.3,239.8 174.9,239 170.6,238.5 169.2,238.8 165.2,241.5 164.4,242.5 164.4,243.7 166.2,249.7 168.1,250.3 176.4,248.1 178.2,242.7ZM178.2,257.8 174,261.6 173.9,262.8 174.5,263.8 177,266 178.4,266.5 181.5,266.2 183.3,263 183.1,261 180.2,257.5ZM173.1,263.7 168.7,266.6 176.4,266.6ZM171.2,188.3 167.3,183.3 165.3,183.5 160.6,186.8 159.8,187.8 159.8,189 161.2,193.1 163.2,193.6 171,190.9 171.6,189.2ZM157.5,228.5 159.1,228.8 165.5,226.9 166.5,226.3 167,225.3 166.8,224.1 163.2,216.7 161.5,215.6 156.8,217.5 155.7,218.7 154.8,221.1 155,226.7ZM157.7,239.4 157.5,229.7 155.3,228.4 155.3,240.6ZM159.2,206.8 161,206.2 163.7,202.6 161.6,196.9 160,195.7 156.1,196.9 155.2,197.7 154.8,198.8 155.1,205.3 156.6,206.4ZM168.8,236.5 166,228.5 164.1,228 160.2,229.1 158.9,230.2 158.9,238.4 159.2,239.4 160.1,240.2 163.6,241.4 168,238.8 168.8,237.8ZM172.6,260.3 165.9,253.9 163.9,254.5 161.8,261.8 161.9,263 162.7,264 167.4,266.4 172.2,263.5 173.1,262.1ZM158.4,264.4 155,262.7 155,266.5 157.5,266.5ZM160.9,253.7 156,253.4 155.2,254.1 154.9,260.4 155.2,261.5 156,262.2 158.3,263.4 159.9,263.4 161.1,262 162.6,255.1 161.9,254.2Z" fill="#e3af6a" stroke="#5a4a30" stroke-width="0.75" stroke-linejoin="round"/>
<path d="M150.1,176.5 150.1,176.6 150.2,176.9 150.4,177.2 150.5,177.4 150.7,177.6 151,177.8 151,177.9 150.9,178 150.8,178.2 150.7,178.5 150.7,178.7 150.7,179 150.7,179.3 150.7,179.3 150.7,179.3 150.4,179.7 150.2,180 150,180.4 149.9,180.8 149.8,181.2 149.7,181.6 149.8,182 149.9,182.4 150,182.8 150.2,183.2 150.4,183.6 150.7,183.9 151,184.1 151.1,184.2 151,184.3 150.8,184.6 150.7,184.9 150.6,185.2 150.5,185.5 150.5,185.8 150.5,186.1 150.6,186.4 150.7,186.6 150.5,186.8 150.2,187.1 150,187.4 149.9,187.7 149.8,188.1 149.7,188.5 149.7,188.8 149.7,189.2 149.8,189.5 149.9,189.9 150,190.2 150.2,190.5 150.5,190.8 150.8,191 151.1,191.3 151.1,191.3 151,191.5 150.9,191.8 150.9,192.1 150.8,192.5 150.9,192.8 150.9,193.2 151,193.5 151.2,193.8 151.4,194.1 151.5,194.3 151.5,194.3 151.3,194.6 151.1,194.9 151,195.3 150.9,195.6 150.9,195.9 150.9,196.3 151,196.6 151,196.7 150.8,196.7 150.5,197 150.2,197.2 149.9,197.5 149.7,197.9 149.5,198.2 149.4,198.6 149.3,199 149.3,199.4 149.3,199.8 149.4,200.2 149.5,200.6 149.7,201 149.9,201.3 150.2,201.6 150.3,201.7 150.2,201.7 150,202.1 149.9,202.6 149.8,203 149.8,203.4 149.8,203.9 149.9,204.3 150,204.7 150.2,205.1 150.5,205.5 150.8,205.8 150.6,205.9 150.4,206.2 150.2,206.5 150,206.8 149.9,207.1 149.8,207.5 149.8,207.8 149.8,208.2 149.9,208.5 150,208.8 150.2,209.2 150.2,209.3 150.1,209.5 149.9,209.8 149.7,210.1 149.6,210.5 149.5,210.9 149.5,211.3 149.5,211.7 149.6,212.1 149.7,212.4 149.9,212.8 150.1,213.1 150.4,213.4 150.4,213.4 150.3,213.5 150.1,213.8 149.9,214.1 149.8,214.5 149.7,214.8 149.7,215.2 149.7,215.5 149.8,215.9 149.9,216.2 150.1,216.5 150.3,216.8 150.5,217.1 150.8,217.3 151.1,217.5 151.2,217.6 151.1,217.7 151,218 151,218.3 150.9,218.7 151,219 151,219.3 151.1,219.7 151.2,219.8 151.2,219.8 150.9,220 150.6,220.3 150.4,220.6 150.2,221 150.1,221.3 150,221.7 150,222.1 150,222.5 150.1,222.8 150.2,223.2 150.4,223.5 150.6,223.8 150.8,224 150.8,224.1 150.6,224.4 150.4,224.7 150.3,225.1 150.2,225.5 150.2,225.8 150.2,226.2 150.3,226.6 150.4,227 150.6,227.3 150.7,227.5 150.5,227.6 150.3,227.9 150.1,228.2 149.9,228.5 149.8,228.9 149.7,229.3 149.7,229.6 149.7,230 149.8,230.4 149.9,230.8 150.1,231.1 150.3,231.4 150.5,231.7 150.8,232 151.1,232.1 151,232.3 150.9,232.5 150.8,232.8 150.7,233.1 150.7,233.4 150.7,233.7 150.8,234 150.9,234.2 150.7,234.4 150.5,234.7 150.3,235.1 150.1,235.6 150.1,236 150,236.4 150.1,236.9 150.1,237.3 150.3,237.7 150.5,238.1 150.7,238.5 150.9,238.7 150.7,238.9 150.4,239.2 150.2,239.5 150.1,239.8 150,240.1 149.9,240.5 149.9,240.8 149.9,241.2 150,241.6 150.1,241.9 150.2,242.2 150.3,242.3 150.2,242.4 150,242.6 149.8,243 149.6,243.3 149.5,243.7 149.4,244 149.4,244.4 149.4,244.8 149.5,245.1 149.6,245.5 149.8,245.8 150,246.2 150.2,246.4 150.5,246.7 150.8,246.9 150.9,246.9 150.8,247.1 150.6,247.4 150.6,247.8 150.6,248.1 150.6,248.5 150.6,248.7 150.6,248.7 150.2,249 149.9,249.3 149.6,249.6 149.3,250 149.1,250.4 149,250.8 148.9,251.3 148.9,251.7 148.9,252.2 149,252.6 149.1,253 149.3,253.4 149.6,253.8 149.9,254.2 150.2,254.5 150.6,254.7 151,254.9 150.9,255.1 150.7,255.3 150.6,255.6 150.6,255.9 150.6,256.2 150.6,256.5 150.6,256.8 150.7,257.1 150.9,257.4 151,257.6 151.1,257.6 151,257.7 150.9,258.1 150.7,258.4 150.7,258.8 150.6,259.2 150.7,259.6 150.7,259.9 150.9,260.3 151,260.6 151.2,261 151.3,261.1 151.3,261.1 151.1,261.3 150.9,261.5 150.7,261.7 150.5,261.9 150.4,262.2 150.3,262.4 150.2,262.7 150.2,263 150.2,263.3 150.3,263.5 150.4,263.8 150.5,264.1 150.7,264.3 150.9,264.5 150.9,264.5 150.8,264.7 150.7,265.1 150.6,265.4 150.6,265.8 150.6,266M458.6,266 458.6,265.7 458.6,265.3 458.5,265 458.4,264.6 458.2,264.3 458,264 457.8,263.8 457.9,263.8 458.1,263.5 458.2,263.2 458.3,262.8 458.4,262.5 458.4,262.1 458.4,261.7 458.3,261.4 458.2,261 458.1,260.7 457.9,260.4 457.6,260.2 457.4,260 457.5,259.7 457.6,259.4 457.6,259.1 457.6,258.8 457.5,258.5 457.4,258.2 457.3,258 457.1,257.7 457,257.6 457.1,257.5 457.3,257.2 457.5,256.9 457.7,256.6 457.8,256.3 457.8,255.9 457.9,255.5 457.8,255.2 457.8,254.8 457.7,254.5 457.5,254.2 457.3,253.9 457.4,253.9 457.7,253.6 458,253.3 458.3,252.9 458.5,252.5 458.6,252.1 458.7,251.7 458.7,251.3 458.7,250.8 458.6,250.4 458.5,250 458.3,249.6 458,249.3 457.8,249 457.9,249 458.1,248.6 458.3,248.2 458.4,247.8 458.5,247.4 458.5,246.9 458.5,246.5 458.4,246.1 458.3,245.7 458.1,245.3 457.9,244.9 457.6,244.6 457.3,244.4 457.4,244.1 457.5,243.7 457.5,243.4 457.5,243 457.4,242.7 457.3,242.3 457.2,242.2 457.3,242.2 457.6,242 457.8,241.8 458.1,241.5 458.3,241.2 458.4,240.9 458.5,240.6 458.6,240.2 458.6,239.9 458.6,239.5 458.5,239.2 458.4,238.8 458.3,238.5 458.1,238.2 457.8,238 457.6,237.7 457.5,237.7 457.6,237.4 457.6,237.1 457.7,236.8 457.6,236.4 457.6,236.1 457.5,235.8 457.3,235.6 457.2,235.4 457.4,235.3 457.6,235.1 457.8,234.8 457.9,234.5 458,234.2 458.1,233.9 458.1,233.6 458.1,233.2 458,232.9 457.9,232.6 457.8,232.3 457.6,232.1 457.4,231.8 457.2,231.6 457,231.5 457.1,231.4 457.3,231 457.4,230.7 457.5,230.3 457.5,230 457.5,229.6 457.4,229.3 457.3,228.9 457.1,228.6 457,228.4 457.1,228.3 457.4,228 457.7,227.7 457.9,227.4 458.1,227 458.3,226.6 458.3,226.2 458.4,225.7 458.3,225.3 458.3,224.9 458.1,224.5 457.9,224.1 457.7,223.7 457.4,223.4 457.4,223.3 457.4,223.1 457.4,222.8 457.4,222.5 457.3,222.3 457.2,222.1 457.1,221.9 457.3,221.8 457.5,221.5 457.6,221.3 457.7,221 457.8,220.8 457.9,220.5 457.9,220.2 457.9,219.9 457.8,219.6 457.7,219.3 457.6,219.1 457.5,218.9 457.7,218.8 458,218.5 458.3,218.3 458.6,217.9 458.8,217.6 459,217.2 459.2,216.8 459.2,216.4 459.3,216 459.2,215.5 459.2,215.1 459,214.7 458.8,214.3 458.6,214 458.3,213.7 458,213.4 457.7,213.2 457.3,213 456.9,212.8 456.9,212.7 456.8,212.5 456.7,212.3 456.9,212.2 457.1,212 457.4,211.8 457.6,211.6 457.8,211.3 457.9,211 458,210.7 458.1,210.4 458.1,210.1 458.1,209.7 458,209.4 457.9,209.1 457.8,208.8 457.6,208.6 457.4,208.3 457.1,208.1 456.9,208 457,207.9 457.1,207.6 457.1,207.3 457.2,207 457.1,206.7 457.1,206.4 457,206.1 456.8,205.8 456.8,205.7 457,205.6 457.3,205.4 457.5,205.1 457.7,204.8 457.8,204.5 458,204.2 458,203.8 458,203.5 458,203.1 458,202.8 457.8,202.4 457.7,202.1 457.5,201.8 457.3,201.6 457,201.4 457.1,201.3 457.1,201 457.1,200.7 457.1,200.4 457.1,200.2 457,199.9 456.8,199.7 456.7,199.4 456.5,199.3 456.6,199.2 456.8,199 457,198.7 457.2,198.4 457.3,198.1 457.3,197.7 457.4,197.4 457.3,197.1 457.3,196.8 457.2,196.4 457,196.1 457,196.1 457.1,196 457.5,195.8 457.8,195.5 458,195.2 458.3,194.9 458.4,194.5 458.6,194.1 458.7,193.7 458.7,193.3 458.7,192.9 458.6,192.5 458.4,192.1 458.3,191.8 458,191.4 457.8,191.1 457.6,191 457.7,190.7 457.9,190.4 457.9,190 458,189.7 457.9,189.3 457.9,188.9 457.7,188.6 457.6,188.3 457.4,188 457.6,187.8 457.9,187.5 458.1,187.2 458.3,186.8 458.4,186.4 458.5,186 458.5,185.6 458.5,185.2 458.4,184.8 458.3,184.4 458.1,184 458,183.8 458,183.8 458.1,183.5 458.2,183.2 458.2,182.9 458.3,182.6 458.2,182.3 458.2,182.1 458.1,181.8 458,181.5 457.8,181.3 457.6,181 457.5,181 457.7,180.8 457.9,180.5 458.2,180.2 458.3,179.8 458.5,179.4 458.6,179.1 458.6,178.7 458.6,178.3 458.5,177.9 458.3,177.5 458.2,177.1 457.9,176.8 457.7,176.5" fill="none" stroke="#000" stroke-width="2.6" stroke-linejoin="round"/>
<circle cx="410" cy="271" r="1.8" fill="#df8a6c"/>
<circle cx="434" cy="269.5" r="1.2" fill="#df8a6c"/>
<circle cx="449" cy="270.5" r="2.2" fill="#df8a6c"/>
<circle cx="228" cy="268.5" r="1" fill="#df8a6c"/>
<circle cx="307" cy="268.6" r="0.9" fill="#df8a6c"/>
<g fill="none" stroke="#000" stroke-width="2.3" stroke-linejoin="round"><path d="M133.7,12.2H117.5V172.3H133.7"/><path d="M133.8,179.6H116.9V266.3H133.8"/><path d="M133.8,269.8H116.9V339.6H133.8"/></g>
<text x="10" y="25.2" font-size="28" font-weight="bold">a</text>
<text transform="translate(89.4,93.3) rotate(-90) scale(1,1.07)" text-anchor="middle" font-size="30.7">NCM83125</text>
<text x="0.3" y="235.6" font-size="32.3">C:G = 7</text>
<text x="64.3" y="316.2" font-size="33">Li</text>
<path d="M655.5,15.4H1396" stroke="#000" stroke-width="1.7" fill="none"/>
<path d="M654.5,309.2H1397" stroke="#000" stroke-width="1.9" fill="none"/>
<path d="M655.5,309.2V301M729.6,309.2V301M803.7,309.2V301M877.8,309.2V301M951.9,309.2V301M1026,309.2V301M1100.1,309.2V301M1174.2,309.2V301M1248.3,309.2V301M1322.4,309.2V301M1396.5,309.2V301M692.5,309.2V305M766.6,309.2V305M840.8,309.2V305M914.9,309.2V305M989,309.2V305M1063,309.2V305M1137.2,309.2V305M1211.2,309.2V305M1285.3,309.2V305M1359.5,309.2V305" stroke="#000" stroke-width="2" fill="none"/>
<path d="M655.5,14.3V310.2M648,276.5H655.5M648,233H655.5M648,189.5H655.5M648,146H655.5M648,102.4H655.5M648,58.9H655.5M648,15.4H655.5M651.8,298.3H655.5M651.8,254.8H655.5M651.8,211.3H655.5M651.8,167.7H655.5M651.8,124.2H655.5M651.8,80.7H655.5M651.8,37.2H655.5" stroke="#2b66a6" stroke-width="1.8" fill="none"/>
<g fill="#fff" stroke="#e3c35a" stroke-width="1.3"><circle cx="656.5" cy="91" r="6.8"/><circle cx="658.5" cy="46.8" r="6.8"/><circle cx="659.9" cy="47.1" r="6.8"/><circle cx="661.4" cy="46.5" r="6.8"/><circle cx="662.9" cy="45.9" r="6.8"/><circle cx="664.4" cy="46.3" r="6.8"/><circle cx="665.9" cy="45.8" r="6.8"/><circle cx="667.4" cy="46.9" r="6.8"/><circle cx="668.8" cy="48.1" r="6.8"/><circle cx="670.3" cy="46.3" r="6.8"/><circle cx="671.8" cy="46.2" r="6.8"/><circle cx="673.3" cy="47.3" r="6.8"/><circle cx="674.8" cy="47.2" r="6.8"/><circle cx="676.2" cy="46.9" r="6.8"/><circle cx="677.7" cy="45.9" r="6.8"/><circle cx="679.2" cy="46.8" r="6.8"/><circle cx="680.7" cy="47.5" r="6.8"/><circle cx="682.2" cy="45.5" r="6.8"/><circle cx="683.7" cy="46.3" r="6.8"/><circle cx="685.1" cy="44.9" r="6.8"/><circle cx="686.6" cy="45.5" r="6.8"/><circle cx="688.5" cy="60.5" r="6.8"/><circle cx="689.5" cy="62" r="6.8"/><circle cx="690.5" cy="63.5" r="6.8"/><circle cx="691.5" cy="65" r="6.8"/><circle cx="699" cy="70.4" r="6.8"/><circle cx="704.2" cy="65" r="6.8"/><circle cx="702.5" cy="78" r="6.8"/><circle cx="703.5" cy="80" r="6.8"/><circle cx="704.6" cy="81.5" r="6.8"/><circle cx="705.5" cy="83" r="6.8"/><circle cx="712.3" cy="70.8" r="6.8"/><circle cx="713.5" cy="84" r="6.8"/><circle cx="714.5" cy="86" r="6.8"/><circle cx="716" cy="87.5" r="6.8"/><circle cx="717" cy="89" r="6.8"/><circle cx="720" cy="73.8" r="6.8"/><circle cx="722.3" cy="60.8" r="6.8"/><circle cx="729.2" cy="79.2" r="6.8"/><circle cx="733.8" cy="74.6" r="6.8"/><circle cx="735.4" cy="59.6" r="6.8"/><circle cx="737" cy="98.3" r="6.8"/><circle cx="723.8" cy="106.2" r="6.8"/><circle cx="728.3" cy="116.2" r="6.8"/><circle cx="726.7" cy="130.2" r="6.8"/><circle cx="725.5" cy="143.4" r="6.8"/><circle cx="738.5" cy="168.3" r="6.8"/><circle cx="732.5" cy="21.2" r="6.8"/></g>
<g fill="#fff" stroke="#4ea6cc" stroke-width="1.3"><circle cx="657.4" cy="94.5" r="6.9"/><circle cx="658.5" cy="44.4" r="6.9"/><circle cx="659.9" cy="45.1" r="6.9"/><circle cx="661.4" cy="44.6" r="6.9"/><circle cx="663.5" cy="56.8" r="6.9"/><circle cx="664.4" cy="45.4" r="6.9"/><circle cx="665.9" cy="45.3" r="6.9"/><circle cx="667.4" cy="45.1" r="6.9"/><circle cx="668.8" cy="43.9" r="6.9"/><circle cx="670.3" cy="44.9" r="6.9"/><circle cx="671.8" cy="45.2" r="6.9"/><circle cx="673.3" cy="45.2" r="6.9"/><circle cx="674.8" cy="44.4" r="6.9"/><circle cx="676.2" cy="44.9" r="6.9"/><circle cx="677.7" cy="44.7" r="6.9"/><circle cx="679.2" cy="44.7" r="6.9"/><circle cx="680.7" cy="45.7" r="6.9"/><circle cx="682.2" cy="44.7" r="6.9"/><circle cx="683.7" cy="45.1" r="6.9"/><circle cx="685.1" cy="45.5" r="6.9"/><circle cx="686.6" cy="44.8" r="6.9"/><circle cx="688.1" cy="45" r="6.9"/><circle cx="689.6" cy="45.1" r="6.9"/><circle cx="691.1" cy="45.1" r="6.9"/><circle cx="692.5" cy="44.4" r="6.9"/><circle cx="694" cy="45.1" r="6.9"/><circle cx="695.5" cy="45.7" r="6.9"/><circle cx="697" cy="44.2" r="6.9"/><circle cx="698.5" cy="45.4" r="6.9"/><circle cx="700" cy="45.1" r="6.9"/><circle cx="701.4" cy="44.7" r="6.9"/><circle cx="702.9" cy="49.2" r="6.9"/><circle cx="702.9" cy="46" r="6.9"/><circle cx="704.4" cy="45.4" r="6.9"/><circle cx="704.7" cy="39.8" r="6.9"/><circle cx="705.9" cy="44.4" r="6.9"/><circle cx="706.5" cy="42" r="6.9"/><circle cx="707.4" cy="45" r="6.9"/><circle cx="708" cy="44" r="6.9"/><circle cx="708.9" cy="45.2" r="6.9"/><circle cx="710.3" cy="44.9" r="6.9"/><circle cx="711.8" cy="45.3" r="6.9"/><circle cx="713.3" cy="44.9" r="6.9"/><circle cx="714.8" cy="45.3" r="6.9"/><circle cx="716.3" cy="45.6" r="6.9"/><circle cx="717.7" cy="44.6" r="6.9"/><circle cx="718.5" cy="52.8" r="6.9"/><circle cx="719" cy="40.7" r="6.9"/><circle cx="719.2" cy="45" r="6.9"/><circle cx="720.7" cy="44.7" r="6.9"/><circle cx="722.2" cy="45" r="6.9"/><circle cx="723.7" cy="44.3" r="6.9"/><circle cx="725.2" cy="44.6" r="6.9"/><circle cx="726.6" cy="44.8" r="6.9"/><circle cx="728.1" cy="45.3" r="6.9"/><circle cx="729.6" cy="45.4" r="6.9"/><circle cx="731.1" cy="44.2" r="6.9"/><circle cx="732.6" cy="44.4" r="6.9"/><circle cx="734" cy="45.2" r="6.9"/><circle cx="735.5" cy="43.8" r="6.9"/><circle cx="737" cy="44.6" r="6.9"/><circle cx="738.5" cy="44.8" r="6.9"/><circle cx="740" cy="45.4" r="6.9"/><circle cx="741.5" cy="45.1" r="6.9"/><circle cx="742.9" cy="44.6" r="6.9"/><circle cx="744.4" cy="44.6" r="6.9"/><circle cx="745.9" cy="44.6" r="6.9"/><circle cx="747.4" cy="45.5" r="6.9"/><circle cx="748.9" cy="44.5" r="6.9"/><circle cx="750.3" cy="44.6" r="6.9"/><circle cx="751.8" cy="44.9" r="6.9"/><circle cx="753.3" cy="44.7" r="6.9"/><circle cx="754.8" cy="44.6" r="6.9"/><circle cx="756.3" cy="44.2" r="6.9"/><circle cx="757.8" cy="44.7" r="6.9"/><circle cx="759.2" cy="44.5" r="6.9"/><circle cx="760.7" cy="45.3" r="6.9"/><circle cx="762.2" cy="45" r="6.9"/><circle cx="763.7" cy="44.7" r="6.9"/><circle cx="765.2" cy="45" r="6.9"/><circle cx="766.6" cy="44.5" r="6.9"/><circle cx="768.1" cy="45.2" r="6.9"/><circle cx="769.6" cy="44.6" r="6.9"/><circle cx="771.1" cy="44.9" r="6.9"/><circle cx="772.6" cy="44" r="6.9"/><circle cx="774.1" cy="44.8" r="6.9"/><circle cx="775.5" cy="43.8" r="6.9"/><circle cx="777" cy="43.6" r="6.9"/><circle cx="778.5" cy="44.5" r="6.9"/><circle cx="780" cy="44.2" r="6.9"/><circle cx="781.5" cy="44.7" r="6.9"/><circle cx="783" cy="45.7" r="6.9"/><circle cx="784.4" cy="44.2" r="6.9"/><circle cx="785.9" cy="44.3" r="6.9"/><circle cx="787.4" cy="44.7" r="6.9"/><circle cx="788.9" cy="44.8" r="6.9"/><circle cx="790.4" cy="44.5" r="6.9"/><circle cx="791.8" cy="44.4" r="6.9"/><circle cx="793.3" cy="44.9" r="6.9"/><circle cx="794.8" cy="44.8" r="6.9"/><circle cx="796.3" cy="44" r="6.9"/><circle cx="797.8" cy="44.5" r="6.9"/><circle cx="799.3" cy="44.5" r="6.9"/><circle cx="800.7" cy="44" r="6.9"/><circle cx="802.2" cy="44.7" r="6.9"/><circle cx="803.7" cy="44.2" r="6.9"/><circle cx="805.2" cy="45.1" r="6.9"/><circle cx="806.7" cy="44.8" r="6.9"/><circle cx="808.1" cy="44.8" r="6.9"/><circle cx="809.6" cy="44.5" r="6.9"/><circle cx="811.1" cy="44.7" r="6.9"/><circle cx="812.6" cy="43.8" r="6.9"/><circle cx="814.1" cy="44.3" r="6.9"/><circle cx="815.6" cy="45.1" r="6.9"/><circle cx="817" cy="43.9" r="6.9"/><circle cx="818.5" cy="45.4" r="6.9"/><circle cx="820" cy="44.2" r="6.9"/><circle cx="821.5" cy="45.4" r="6.9"/><circle cx="823" cy="44.7" r="6.9"/><circle cx="824.4" cy="45.5" r="6.9"/><circle cx="825.9" cy="45.2" r="6.9"/><circle cx="827.4" cy="44.5" r="6.9"/><circle cx="828.9" cy="45.9" r="6.9"/><circle cx="830.4" cy="46" r="6.9"/><circle cx="831.9" cy="45.3" r="6.9"/><circle cx="833.3" cy="45.2" r="6.9"/><circle cx="834.8" cy="45.3" r="6.9"/><circle cx="836.3" cy="45" r="6.9"/><circle cx="837.8" cy="46" r="6.9"/><circle cx="839.3" cy="45.3" r="6.9"/><circle cx="840.8" cy="45.5" r="6.9"/><circle cx="842.2" cy="45.2" r="6.9"/><circle cx="843.7" cy="45.3" r="6.9"/><circle cx="845.2" cy="45" r="6.9"/><circle cx="846.7" cy="46.4" r="6.9"/><circle cx="848.2" cy="45.7" r="6.9"/><circle cx="849.6" cy="46.3" r="6.9"/><circle cx="851.1" cy="45.8" r="6.9"/><circle cx="852.6" cy="45.5" r="6.9"/><circle cx="854.1" cy="45.8" r="6.9"/><circle cx="855.6" cy="45.7" r="6.9"/><circle cx="857.1" cy="46" r="6.9"/><circle cx="858.5" cy="45.8" r="6.9"/><circle cx="860" cy="45.9" r="6.9"/><circle cx="861.5" cy="45.4" r="6.9"/><circle cx="863" cy="45.7" r="6.9"/><circle cx="864.5" cy="47" r="6.9"/><circle cx="865.9" cy="45.9" r="6.9"/><circle cx="867.4" cy="45.7" r="6.9"/><circle cx="868.9" cy="46.5" r="6.9"/><circle cx="870.4" cy="47.1" r="6.9"/><circle cx="871.9" cy="45.7" r="6.9"/><circle cx="873.4" cy="46.3" r="6.9"/><circle cx="874.8" cy="46.1" r="6.9"/><circle cx="876.3" cy="45.6" r="6.9"/><circle cx="877.8" cy="46.9" r="6.9"/><circle cx="879.3" cy="46.6" r="6.9"/><circle cx="880.8" cy="46.6" r="6.9"/><circle cx="882.2" cy="46.3" r="6.9"/><circle cx="883.7" cy="46.9" r="6.9"/><circle cx="885.2" cy="46.4" r="6.9"/><circle cx="886.7" cy="46.6" r="6.9"/><circle cx="888.2" cy="46.2" r="6.9"/><circle cx="889.7" cy="46.1" r="6.9"/><circle cx="891.1" cy="47.4" r="6.9"/><circle cx="892.6" cy="46.5" r="6.9"/><circle cx="894.1" cy="46.9" r="6.9"/><circle cx="895.6" cy="46.8" r="6.9"/><circle cx="897.1" cy="46.6" r="6.9"/><circle cx="898.5" cy="46.6" r="6.9"/><circle cx="900" cy="47.2" r="6.9"/><circle cx="901.5" cy="46.7" r="6.9"/><circle cx="903" cy="46.8" r="6.9"/><circle cx="904.5" cy="46.9" r="6.9"/><circle cx="906" cy="47.5" r="6.9"/><circle cx="907.4" cy="47.3" r="6.9"/><circle cx="908.9" cy="47.2" r="6.9"/><circle cx="910.4" cy="46.7" r="6.9"/><circle cx="911.9" cy="46.3" r="6.9"/><circle cx="913.4" cy="47.5" r="6.9"/><circle cx="914.9" cy="47.5" r="6.9"/><circle cx="916.3" cy="47" r="6.9"/><circle cx="917.8" cy="47.4" r="6.9"/><circle cx="919.3" cy="47.5" r="6.9"/><circle cx="920.8" cy="47.5" r="6.9"/><circle cx="922.3" cy="47.6" r="6.9"/><circle cx="923.7" cy="46.9" r="6.9"/><circle cx="925.2" cy="47.9" r="6.9"/><circle cx="926.7" cy="46.6" r="6.9"/><circle cx="928.2" cy="47.7" r="6.9"/><circle cx="929.7" cy="47.5" r="6.9"/><circle cx="931.2" cy="47.7" r="6.9"/><circle cx="932.6" cy="48.2" r="6.9"/><circle cx="934.1" cy="48" r="6.9"/><circle cx="935.6" cy="46.7" r="6.9"/><circle cx="937.1" cy="46.5" r="6.9"/><circle cx="938.6" cy="47.8" r="6.9"/><circle cx="940" cy="46.9" r="6.9"/><circle cx="941.5" cy="47.4" r="6.9"/><circle cx="943" cy="47.8" r="6.9"/><circle cx="944.5" cy="46.6" r="6.9"/><circle cx="946" cy="46.4" r="6.9"/><circle cx="947.5" cy="47.6" r="6.9"/><circle cx="948.9" cy="47.5" r="6.9"/><circle cx="950.4" cy="47.4" r="6.9"/><circle cx="951.9" cy="47.5" r="6.9"/><circle cx="953.4" cy="47.1" r="6.9"/><circle cx="954.9" cy="46.8" r="6.9"/><circle cx="956.3" cy="47.5" r="6.9"/><circle cx="957.8" cy="47.1" r="6.9"/><circle cx="959.3" cy="46.8" r="6.9"/><circle cx="960.8" cy="47.9" r="6.9"/><circle cx="962.3" cy="47.7" r="6.9"/><circle cx="963.8" cy="47.9" r="6.9"/><circle cx="965.2" cy="47.2" r="6.9"/><circle cx="966.7" cy="47.4" r="6.9"/><circle cx="968.2" cy="47.3" r="6.9"/><circle cx="969.7" cy="47.4" r="6.9"/><circle cx="971.2" cy="47.9" r="6.9"/><circle cx="972.6" cy="47.5" r="6.9"/><circle cx="974.1" cy="48.1" r="6.9"/><circle cx="975.6" cy="48.1" r="6.9"/><circle cx="977.1" cy="48.9" r="6.9"/><circle cx="978.6" cy="47.3" r="6.9"/><circle cx="980.1" cy="48.4" r="6.9"/><circle cx="981.5" cy="48" r="6.9"/><circle cx="983" cy="48" r="6.9"/><circle cx="984.5" cy="47.3" r="6.9"/><circle cx="986" cy="47.8" r="6.9"/><circle cx="987.5" cy="48.5" r="6.9"/><circle cx="989" cy="48.1" r="6.9"/><circle cx="990.4" cy="48.2" r="6.9"/><circle cx="991.9" cy="48" r="6.9"/><circle cx="993.4" cy="48.8" r="6.9"/><circle cx="994.9" cy="48.2" r="6.9"/><circle cx="996.4" cy="47.1" r="6.9"/><circle cx="997.8" cy="47.9" r="6.9"/><circle cx="999.3" cy="47.3" r="6.9"/><circle cx="1000.8" cy="46.6" r="6.9"/><circle cx="1002.3" cy="47.9" r="6.9"/><circle cx="1003.8" cy="48.8" r="6.9"/><circle cx="1005.3" cy="48.1" r="6.9"/><circle cx="1006.7" cy="47.4" r="6.9"/><circle cx="1008.2" cy="47.5" r="6.9"/><circle cx="1009.7" cy="48.5" r="6.9"/><circle cx="1011.2" cy="47.9" r="6.9"/><circle cx="1012.7" cy="47.8" r="6.9"/><circle cx="1014.1" cy="47.7" r="6.9"/><circle cx="1015.6" cy="47.7" r="6.9"/><circle cx="1017.1" cy="48" r="6.9"/><circle cx="1018.6" cy="47.8" r="6.9"/><circle cx="1020.1" cy="47.6" r="6.9"/><circle cx="1021.6" cy="46.9" r="6.9"/><circle cx="1023" cy="47.6" r="6.9"/><circle cx="1024.5" cy="47" r="6.9"/><circle cx="1026" cy="47.8" r="6.9"/><circle cx="1027.5" cy="46.6" r="6.9"/><circle cx="1029" cy="47.1" r="6.9"/><circle cx="1030.4" cy="47.1" r="6.9"/><circle cx="1031.9" cy="46.4" r="6.9"/><circle cx="1033.4" cy="47.8" r="6.9"/><circle cx="1034.9" cy="47.6" r="6.9"/><circle cx="1036.4" cy="46.6" r="6.9"/><circle cx="1037.9" cy="47.2" r="6.9"/><circle cx="1039.3" cy="46.9" r="6.9"/><circle cx="1040.8" cy="45.4" r="6.9"/><circle cx="1042.3" cy="46.7" r="6.9"/><circle cx="1043.8" cy="46.5" r="6.9"/><circle cx="1045.3" cy="46.5" r="6.9"/><circle cx="1046.7" cy="45.9" r="6.9"/><circle cx="1048.2" cy="46.2" r="6.9"/><circle cx="1049.7" cy="46.2" r="6.9"/><circle cx="1051.2" cy="46.8" r="6.9"/><circle cx="1052.7" cy="46.4" r="6.9"/><circle cx="1054.2" cy="46.1" r="6.9"/><circle cx="1055.6" cy="46.8" r="6.9"/><circle cx="1057.1" cy="45.7" r="6.9"/><circle cx="1058.6" cy="45.8" r="6.9"/><circle cx="1060.1" cy="45" r="6.9"/><circle cx="1061.6" cy="46.6" r="6.9"/><circle cx="1063" cy="46.3" r="6.9"/><circle cx="1064.5" cy="46.2" r="6.9"/><circle cx="1066" cy="46" r="6.9"/><circle cx="1067.5" cy="45.7" r="6.9"/><circle cx="1069" cy="45.6" r="6.9"/><circle cx="1070.5" cy="45.4" r="6.9"/><circle cx="1071.9" cy="45.3" r="6.9"/><circle cx="1073.4" cy="45.4" r="6.9"/><circle cx="1074.9" cy="46.1" r="6.9"/><circle cx="1076.4" cy="45.5" r="6.9"/><circle cx="1077.9" cy="45.2" r="6.9"/><circle cx="1079.4" cy="44.8" r="6.9"/><circle cx="1080.8" cy="44.7" r="6.9"/><circle cx="1082.3" cy="45.8" r="6.9"/><circle cx="1083.8" cy="45.2" r="6.9"/><circle cx="1085.3" cy="44.9" r="6.9"/><circle cx="1086.8" cy="44.8" r="6.9"/><circle cx="1088.2" cy="44.5" r="6.9"/><circle cx="1089.7" cy="45.1" r="6.9"/><circle cx="1091.2" cy="45.6" r="6.9"/><circle cx="1092.7" cy="45.1" r="6.9"/><circle cx="1094.2" cy="45.2" r="6.9"/><circle cx="1095.7" cy="45.3" r="6.9"/><circle cx="1097.1" cy="45.5" r="6.9"/><circle cx="1098.6" cy="44.7" r="6.9"/><circle cx="1100.1" cy="45.5" r="6.9"/><circle cx="1101.6" cy="45.2" r="6.9"/><circle cx="1103.1" cy="46.2" r="6.9"/><circle cx="1104.5" cy="45.4" r="6.9"/><circle cx="1106" cy="46.2" r="6.9"/><circle cx="1107.5" cy="46.7" r="6.9"/><circle cx="1109" cy="45.9" r="6.9"/><circle cx="1110.5" cy="45.8" r="6.9"/><circle cx="1112" cy="46.2" r="6.9"/><circle cx="1113.4" cy="46.2" r="6.9"/><circle cx="1114.9" cy="45.8" r="6.9"/><circle cx="1116.4" cy="46.6" r="6.9"/><circle cx="1117.9" cy="47.4" r="6.9"/><circle cx="1119.4" cy="46.4" r="6.9"/><circle cx="1120.8" cy="46.5" r="6.9"/><circle cx="1122.3" cy="46.1" r="6.9"/><circle cx="1123.8" cy="46.9" r="6.9"/><circle cx="1125.3" cy="46.1" r="6.9"/><circle cx="1126.8" cy="46.3" r="6.9"/><circle cx="1128.3" cy="47.5" r="6.9"/><circle cx="1129.7" cy="46.5" r="6.9"/><circle cx="1131.2" cy="47.6" r="6.9"/><circle cx="1132.7" cy="47.9" r="6.9"/><circle cx="1134.2" cy="47.3" r="6.9"/><circle cx="1135.7" cy="47.5" r="6.9"/><circle cx="1137.2" cy="48.3" r="6.9"/><circle cx="1138.6" cy="47.3" r="6.9"/><circle cx="1140.1" cy="47.1" r="6.9"/><circle cx="1141.6" cy="46.8" r="6.9"/><circle cx="1143.1" cy="47.6" r="6.9"/><circle cx="1144.6" cy="48.4" r="6.9"/><circle cx="1146" cy="48.2" r="6.9"/><circle cx="1147.5" cy="47.3" r="6.9"/><circle cx="1149" cy="47.4" r="6.9"/><circle cx="1150.5" cy="47.7" r="6.9"/><circle cx="1152" cy="48.1" r="6.9"/><circle cx="1153.5" cy="47.9" r="6.9"/><circle cx="1154.9" cy="48.2" r="6.9"/><circle cx="1156.4" cy="48.3" r="6.9"/><circle cx="1157.9" cy="48.1" r="6.9"/><circle cx="1159.4" cy="48.3" r="6.9"/><circle cx="1160.9" cy="48.4" r="6.9"/><circle cx="1162.3" cy="48.4" r="6.9"/><circle cx="1163.8" cy="48.7" r="6.9"/><circle cx="1165.3" cy="49.4" r="6.9"/><circle cx="1166.8" cy="48.9" r="6.9"/><circle cx="1168.3" cy="48.7" r="6.9"/><circle cx="1169.8" cy="47.8" r="6.9"/><circle cx="1171.2" cy="48.9" r="6.9"/><circle cx="1172.7" cy="47.8" r="6.9"/><circle cx="1174.2" cy="48.2" r="6.9"/><circle cx="1175.7" cy="49.3" r="6.9"/><circle cx="1177.2" cy="49.2" r="6.9"/><circle cx="1178.6" cy="48.7" r="6.9"/><circle cx="1180.1" cy="47.9" r="6.9"/><circle cx="1181.6" cy="48.5" r="6.9"/><circle cx="1183.1" cy="48.3" r="6.9"/><circle cx="1184.6" cy="48.9" r="6.9"/><circle cx="1186.1" cy="49.6" r="6.9"/><circle cx="1187.5" cy="48.6" r="6.9"/><circle cx="1189" cy="48" r="6.9"/><circle cx="1190.5" cy="47.8" r="6.9"/><circle cx="1192" cy="48.3" r="6.9"/><circle cx="1193.5" cy="48.2" r="6.9"/><circle cx="1194.9" cy="47.6" r="6.9"/><circle cx="1196.4" cy="48.2" r="6.9"/><circle cx="1197.9" cy="47.5" r="6.9"/><circle cx="1199.4" cy="48.6" r="6.9"/><circle cx="1200.9" cy="48.5" r="6.9"/><circle cx="1202.4" cy="48.5" r="6.9"/><circle cx="1203.8" cy="47.7" r="6.9"/><circle cx="1205.3" cy="48.1" r="6.9"/><circle cx="1206.8" cy="47.7" r="6.9"/><circle cx="1208.3" cy="47.6" r="6.9"/><circle cx="1209.8" cy="47.5" r="6.9"/><circle cx="1211.2" cy="47" r="6.9"/><circle cx="1212.7" cy="46.9" r="6.9"/><circle cx="1214.2" cy="47.9" r="6.9"/><circle cx="1215.7" cy="47.4" r="6.9"/><circle cx="1217.2" cy="47.6" r="6.9"/><circle cx="1218.7" cy="47.9" r="6.9"/><circle cx="1220.1" cy="46.5" r="6.9"/><circle cx="1221.6" cy="46.9" r="6.9"/><circle cx="1223.1" cy="47.3" r="6.9"/><circle cx="1224.6" cy="47.4" r="6.9"/><circle cx="1226.1" cy="46.9" r="6.9"/><circle cx="1227.6" cy="47.6" r="6.9"/><circle cx="1229" cy="47.1" r="6.9"/><circle cx="1230.5" cy="46.4" r="6.9"/><circle cx="1232" cy="46.5" r="6.9"/><circle cx="1233.5" cy="47.3" r="6.9"/><circle cx="1235" cy="47.1" r="6.9"/><circle cx="1236.4" cy="45.8" r="6.9"/><circle cx="1237.9" cy="47.4" r="6.9"/><circle cx="1239.4" cy="47" r="6.9"/><circle cx="1240.9" cy="47.3" r="6.9"/><circle cx="1242.4" cy="46.4" r="6.9"/><circle cx="1243.9" cy="46.4" r="6.9"/><circle cx="1245.3" cy="45.9" r="6.9"/><circle cx="1246.8" cy="47.7" r="6.9"/><circle cx="1248.3" cy="46.3" r="6.9"/><circle cx="1249.8" cy="47.1" r="6.9"/><circle cx="1251.3" cy="46" r="6.9"/><circle cx="1252.7" cy="46.3" r="6.9"/><circle cx="1254.2" cy="45.3" r="6.9"/><circle cx="1255.7" cy="45.9" r="6.9"/><circle cx="1257.2" cy="46.6" r="6.9"/><circle cx="1258.7" cy="45.4" r="6.9"/><circle cx="1260.2" cy="46.5" r="6.9"/><circle cx="1261.6" cy="46.1" r="6.9"/><circle cx="1263.1" cy="45.4" r="6.9"/><circle cx="1264.6" cy="45.6" r="6.9"/><circle cx="1266.1" cy="45.5" r="6.9"/><circle cx="1267.6" cy="45.7" r="6.9"/><circle cx="1269" cy="45.4" r="6.9"/><circle cx="1270.5" cy="45.2" r="6.9"/><circle cx="1272" cy="45.4" r="6.9"/><circle cx="1273.5" cy="45" r="6.9"/><circle cx="1275" cy="44.8" r="6.9"/><circle cx="1276.5" cy="45.4" r="6.9"/><circle cx="1277.9" cy="45.8" r="6.9"/><circle cx="1279.4" cy="44.6" r="6.9"/><circle cx="1280.9" cy="45.3" r="6.9"/><circle cx="1282.4" cy="45" r="6.9"/><circle cx="1283.9" cy="44.8" r="6.9"/><circle cx="1285.3" cy="45.7" r="6.9"/><circle cx="1286.8" cy="45.1" r="6.9"/><circle cx="1288.3" cy="46.1" r="6.9"/><circle cx="1289.8" cy="44.9" r="6.9"/><circle cx="1291.3" cy="45.5" r="6.9"/><circle cx="1292.8" cy="45.2" r="6.9"/><circle cx="1294.2" cy="45" r="6.9"/><circle cx="1295.7" cy="45.6" r="6.9"/><circle cx="1297.2" cy="45.3" r="6.9"/><circle cx="1298.7" cy="45.7" r="6.9"/><circle cx="1300.2" cy="45.3" r="6.9"/><circle cx="1301.7" cy="44.8" r="6.9"/><circle cx="1303.1" cy="45.3" r="6.9"/><circle cx="1304.6" cy="45.4" r="6.9"/><circle cx="1306.1" cy="45.9" r="6.9"/><circle cx="1307.6" cy="44.9" r="6.9"/><circle cx="1309.1" cy="45.4" r="6.9"/><circle cx="1310.5" cy="44.5" r="6.9"/><circle cx="1312" cy="45.7" r="6.9"/><circle cx="1313.5" cy="44.9" r="6.9"/><circle cx="1315" cy="44.5" r="6.9"/><circle cx="1316.5" cy="45.4" r="6.9"/><circle cx="1318" cy="46" r="6.9"/><circle cx="1319.4" cy="44.7" r="6.9"/><circle cx="1320.9" cy="44.9" r="6.9"/><circle cx="1322.4" cy="45.1" r="6.9"/><circle cx="1323.9" cy="44.9" r="6.9"/><circle cx="1325.4" cy="45.6" r="6.9"/><circle cx="1326.8" cy="45.1" r="6.9"/><circle cx="1328.3" cy="45.1" r="6.9"/><circle cx="1329.8" cy="45.8" r="6.9"/><circle cx="1331.3" cy="45.1" r="6.9"/><circle cx="1332.8" cy="45.7" r="6.9"/><circle cx="1334.3" cy="45" r="6.9"/><circle cx="1335.7" cy="44.9" r="6.9"/><circle cx="1337.2" cy="44.6" r="6.9"/><circle cx="1338.7" cy="46.4" r="6.9"/><circle cx="1340.2" cy="45.3" r="6.9"/><circle cx="1341.7" cy="45.6" r="6.9"/><circle cx="1343.1" cy="45.5" r="6.9"/><circle cx="1344.6" cy="45.6" r="6.9"/><circle cx="1346.1" cy="45.6" r="6.9"/><circle cx="1347.6" cy="46.5" r="6.9"/><circle cx="1349.1" cy="45" r="6.9"/><circle cx="1350.6" cy="44.8" r="6.9"/><circle cx="1352" cy="45.1" r="6.9"/><circle cx="1353.5" cy="44.9" r="6.9"/><circle cx="1355" cy="46" r="6.9"/><circle cx="1356.5" cy="46" r="6.9"/><circle cx="1358" cy="45.1" r="6.9"/><circle cx="1359.5" cy="44.9" r="6.9"/><circle cx="1360.9" cy="45.4" r="6.9"/><circle cx="1362.4" cy="46.3" r="6.9"/><circle cx="1363.9" cy="44.2" r="6.9"/><circle cx="1365.4" cy="45.9" r="6.9"/><circle cx="1366.9" cy="45.1" r="6.9"/><circle cx="1368.3" cy="46.2" r="6.9"/><circle cx="1369.8" cy="45.1" r="6.9"/><circle cx="1371.3" cy="45.5" r="6.9"/><circle cx="1372.8" cy="44.9" r="6.9"/><circle cx="1374.3" cy="45.2" r="6.9"/><circle cx="1375.8" cy="46.4" r="6.9"/><circle cx="1377.2" cy="46.1" r="6.9"/><circle cx="1378.7" cy="45.5" r="6.9"/><circle cx="1380.2" cy="45.3" r="6.9"/><circle cx="1381.7" cy="44.8" r="6.9"/><circle cx="1383.2" cy="45.5" r="6.9"/><circle cx="1384.6" cy="45.7" r="6.9"/><circle cx="1386.1" cy="45.7" r="6.9"/><circle cx="1387.6" cy="45.7" r="6.9"/><circle cx="1389.1" cy="45.2" r="6.9"/><circle cx="1390.6" cy="45.7" r="6.9"/><circle cx="1392.1" cy="45.8" r="6.9"/><circle cx="1393.5" cy="46.4" r="6.9"/><circle cx="1395" cy="46.7" r="6.9"/><circle cx="1396.5" cy="45.7" r="6.9"/></g>
<g fill="#f28023"><circle cx="657" cy="121.3" r="8"/><circle cx="658.5" cy="126.4" r="8"/><circle cx="659.9" cy="145.1" r="8"/><circle cx="661.4" cy="146.8" r="8"/><circle cx="662.9" cy="147.8" r="8"/><circle cx="664.4" cy="149.8" r="8"/><circle cx="665.9" cy="150.7" r="8"/><circle cx="667.4" cy="152.5" r="8"/><circle cx="668.8" cy="153.3" r="8"/><circle cx="670.3" cy="154.4" r="8"/><circle cx="671.8" cy="155.6" r="8"/><circle cx="673.3" cy="156.6" r="8"/><circle cx="674.8" cy="157.3" r="8"/><circle cx="676.2" cy="158.4" r="8"/><circle cx="677.7" cy="159" r="8"/><circle cx="679.2" cy="160.1" r="8"/><circle cx="680.7" cy="161.8" r="8"/><circle cx="682.2" cy="162.2" r="8"/><circle cx="683.7" cy="163.9" r="8"/><circle cx="685.1" cy="164.7" r="8"/><circle cx="686.6" cy="165.6" r="8"/><circle cx="688.1" cy="167.4" r="8"/><circle cx="689.6" cy="167.4" r="8"/><circle cx="691.1" cy="168.4" r="8"/><circle cx="692.5" cy="169.5" r="8"/><circle cx="694" cy="170.6" r="8"/><circle cx="695.5" cy="171.5" r="8"/><circle cx="697" cy="172.7" r="8"/><circle cx="698.5" cy="173.3" r="8"/><circle cx="700" cy="174.4" r="8"/><circle cx="701.4" cy="175" r="8"/><circle cx="702.9" cy="176.6" r="8"/><circle cx="704.4" cy="177" r="8"/><circle cx="705.9" cy="178.1" r="8"/><circle cx="707.4" cy="179.3" r="8"/><circle cx="708.9" cy="180.4" r="8"/><circle cx="710.3" cy="181.3" r="8"/><circle cx="711.8" cy="183.5" r="8"/><circle cx="713.3" cy="183.9" r="8"/><circle cx="714.8" cy="185.3" r="8"/><circle cx="716.3" cy="186.9" r="8"/><circle cx="717.7" cy="188.9" r="8"/><circle cx="719.2" cy="191.4" r="8"/><circle cx="720.7" cy="195" r="8"/><circle cx="722.2" cy="202.3" r="8"/><circle cx="723.8" cy="219.1" r="8"/><circle cx="725.1" cy="249" r="8"/><circle cx="726.5" cy="268.7" r="8"/><circle cx="727.3" cy="276" r="8"/><circle cx="728.8" cy="280" r="8"/><circle cx="730.2" cy="284" r="8"/><circle cx="731.6" cy="287.5" r="8"/><circle cx="733" cy="291" r="8"/><circle cx="734.4" cy="294.5" r="8"/><circle cx="735.8" cy="298" r="8"/><circle cx="737.2" cy="301.5" r="8"/><circle cx="738.5" cy="304.6" r="8"/></g>
<g fill="#2d69a3"><circle cx="657" cy="109.9" r="7.9"/><circle cx="658.5" cy="114.3" r="7.9"/><circle cx="659.9" cy="129.1" r="7.9"/><circle cx="661.4" cy="122.9" r="7.9"/><circle cx="662.9" cy="127" r="7.9"/><circle cx="664.4" cy="129.8" r="7.9"/><circle cx="665.9" cy="131.7" r="7.9"/><circle cx="667.4" cy="133.5" r="7.9"/><circle cx="668.8" cy="133.6" r="7.9"/><circle cx="670.3" cy="134.8" r="7.9"/><circle cx="671.8" cy="136.5" r="7.9"/><circle cx="673.3" cy="136.1" r="7.9"/><circle cx="674.8" cy="137.8" r="7.9"/><circle cx="676.2" cy="138.7" r="7.9"/><circle cx="677.7" cy="139.4" r="7.9"/><circle cx="679.2" cy="139.7" r="7.9"/><circle cx="680.7" cy="141.2" r="7.9"/><circle cx="682.2" cy="141.7" r="7.9"/><circle cx="683.7" cy="141.8" r="7.9"/><circle cx="685.1" cy="142.6" r="7.9"/><circle cx="686.6" cy="143.9" r="7.9"/><circle cx="688.1" cy="144.6" r="7.9"/><circle cx="689.6" cy="145.7" r="7.9"/><circle cx="691.1" cy="146.1" r="7.9"/><circle cx="692.5" cy="146.3" r="7.9"/><circle cx="694" cy="146.9" r="7.9"/><circle cx="695.5" cy="147.4" r="7.9"/><circle cx="697" cy="147.5" r="7.9"/><circle cx="698.5" cy="148.6" r="7.9"/><circle cx="700" cy="148.7" r="7.9"/><circle cx="701.4" cy="148.1" r="7.9"/><circle cx="702.9" cy="147.7" r="7.9"/><circle cx="704.4" cy="147.2" r="7.9"/><circle cx="705.9" cy="148.1" r="7.9"/><circle cx="707.4" cy="149" r="7.9"/><circle cx="708.9" cy="149.3" r="7.9"/><circle cx="710.3" cy="150.4" r="7.9"/><circle cx="711.8" cy="151.2" r="7.9"/><circle cx="713.3" cy="150.7" r="7.9"/><circle cx="714.8" cy="151.1" r="7.9"/><circle cx="716.3" cy="151.1" r="7.9"/><circle cx="717.7" cy="152" r="7.9"/><circle cx="719.2" cy="151.7" r="7.9"/><circle cx="720.7" cy="151.9" r="7.9"/><circle cx="722.2" cy="152.1" r="7.9"/><circle cx="723.7" cy="152.8" r="7.9"/><circle cx="725.2" cy="152.2" r="7.9"/><circle cx="726.6" cy="151.8" r="7.9"/><circle cx="728.1" cy="152.1" r="7.9"/><circle cx="729.6" cy="152.6" r="7.9"/><circle cx="731.1" cy="152.5" r="7.9"/><circle cx="732.6" cy="152.3" r="7.9"/><circle cx="734" cy="153.8" r="7.9"/><circle cx="735.5" cy="152.9" r="7.9"/><circle cx="737" cy="152.7" r="7.9"/><circle cx="738.5" cy="152.8" r="7.9"/><circle cx="740" cy="152.5" r="7.9"/><circle cx="741.5" cy="152.8" r="7.9"/><circle cx="742.9" cy="153.3" r="7.9"/><circle cx="744.4" cy="153.4" r="7.9"/><circle cx="745.9" cy="153.3" r="7.9"/><circle cx="747.4" cy="153.9" r="7.9"/><circle cx="748.9" cy="153.8" r="7.9"/><circle cx="750.3" cy="153.6" r="7.9"/><circle cx="751.8" cy="153.3" r="7.9"/><circle cx="753.3" cy="154.1" r="7.9"/><circle cx="754.8" cy="154.2" r="7.9"/><circle cx="756.3" cy="154.2" r="7.9"/><circle cx="757.8" cy="153.8" r="7.9"/><circle cx="759.2" cy="154.4" r="7.9"/><circle cx="760.7" cy="153.9" r="7.9"/><circle cx="762.2" cy="154.9" r="7.9"/><circle cx="763.7" cy="154.7" r="7.9"/><circle cx="765.2" cy="154.8" r="7.9"/><circle cx="766.6" cy="154.5" r="7.9"/><circle cx="768.1" cy="154.5" r="7.9"/><circle cx="769.6" cy="155.6" r="7.9"/><circle cx="771.1" cy="155.4" r="7.9"/><circle cx="772.6" cy="155" r="7.9"/><circle cx="774.1" cy="155.5" r="7.9"/><circle cx="775.5" cy="155.9" r="7.9"/><circle cx="777" cy="154.9" r="7.9"/><circle cx="778.5" cy="155.2" r="7.9"/><circle cx="780" cy="155.3" r="7.9"/><circle cx="781.5" cy="155.7" r="7.9"/><circle cx="783" cy="155.2" r="7.9"/><circle cx="784.4" cy="155.7" r="7.9"/><circle cx="785.9" cy="155.2" r="7.9"/><circle cx="787.4" cy="156.1" r="7.9"/><circle cx="788.9" cy="156.1" r="7.9"/><circle cx="790.4" cy="155.7" r="7.9"/><circle cx="791.8" cy="156.1" r="7.9"/><circle cx="793.3" cy="155.7" r="7.9"/><circle cx="794.8" cy="155.9" r="7.9"/><circle cx="796.3" cy="156.4" r="7.9"/><circle cx="797.8" cy="156.1" r="7.9"/><circle cx="799.3" cy="156.3" r="7.9"/><circle cx="800.7" cy="155.9" r="7.9"/><circle cx="802.2" cy="156.5" r="7.9"/><circle cx="803.7" cy="156.5" r="7.9"/><circle cx="805.2" cy="155.9" r="7.9"/><circle cx="806.7" cy="155.5" r="7.9"/><circle cx="808.1" cy="155.6" r="7.9"/><circle cx="809.6" cy="156.4" r="7.9"/><circle cx="811.1" cy="156.4" r="7.9"/><circle cx="812.6" cy="155.9" r="7.9"/><circle cx="814.1" cy="156.5" r="7.9"/><circle cx="815.6" cy="156.9" r="7.9"/><circle cx="817" cy="156.5" r="7.9"/><circle cx="818.5" cy="156.4" r="7.9"/><circle cx="820" cy="156.9" r="7.9"/><circle cx="821.5" cy="157.2" r="7.9"/><circle cx="823" cy="157.2" r="7.9"/><circle cx="824.4" cy="156.4" r="7.9"/><circle cx="825.9" cy="157" r="7.9"/><circle cx="827.4" cy="156.8" r="7.9"/><circle cx="828.9" cy="156.7" r="7.9"/><circle cx="830.4" cy="156.5" r="7.9"/><circle cx="831.9" cy="156.9" r="7.9"/><circle cx="833.3" cy="156.6" r="7.9"/><circle cx="834.8" cy="157.2" r="7.9"/><circle cx="836.3" cy="157" r="7.9"/><circle cx="837.8" cy="157.3" r="7.9"/><circle cx="839.3" cy="156.5" r="7.9"/><circle cx="840.8" cy="157" r="7.9"/><circle cx="842.2" cy="157.3" r="7.9"/><circle cx="843.7" cy="157.1" r="7.9"/><circle cx="845.2" cy="157.1" r="7.9"/><circle cx="846.7" cy="156.8" r="7.9"/><circle cx="848.2" cy="157.7" r="7.9"/><circle cx="849.6" cy="157.5" r="7.9"/><circle cx="851.1" cy="157.3" r="7.9"/><circle cx="852.6" cy="156.2" r="7.9"/><circle cx="854.1" cy="156.8" r="7.9"/><circle cx="855.6" cy="157.3" r="7.9"/><circle cx="857.1" cy="157" r="7.9"/><circle cx="858.5" cy="156.5" r="7.9"/><circle cx="860" cy="157.4" r="7.9"/><circle cx="861.5" cy="157.5" r="7.9"/><circle cx="863" cy="156.9" r="7.9"/><circle cx="864.5" cy="157.2" r="7.9"/><circle cx="865.9" cy="157.2" r="7.9"/><circle cx="867.4" cy="157.6" r="7.9"/><circle cx="868.9" cy="156.7" r="7.9"/><circle cx="870.4" cy="156.8" r="7.9"/><circle cx="871.9" cy="157.3" r="7.9"/><circle cx="873.4" cy="157.3" r="7.9"/><circle cx="874.8" cy="158.3" r="7.9"/><circle cx="876.3" cy="157.3" r="7.9"/><circle cx="877.8" cy="157.7" r="7.9"/><circle cx="879.3" cy="157.5" r="7.9"/><circle cx="880.8" cy="157.4" r="7.9"/><circle cx="882.2" cy="157.8" r="7.9"/><circle cx="883.7" cy="158.3" r="7.9"/><circle cx="885.2" cy="157.6" r="7.9"/><circle cx="886.7" cy="158" r="7.9"/><circle cx="888.2" cy="157.9" r="7.9"/><circle cx="889.7" cy="158" r="7.9"/><circle cx="891.1" cy="157.9" r="7.9"/><circle cx="892.6" cy="158.7" r="7.9"/><circle cx="894.1" cy="157.4" r="7.9"/><circle cx="895.6" cy="157.8" r="7.9"/><circle cx="897.1" cy="157.5" r="7.9"/><circle cx="898.5" cy="157.2" r="7.9"/><circle cx="900" cy="157.9" r="7.9"/><circle cx="901.5" cy="158.6" r="7.9"/><circle cx="903" cy="158.3" r="7.9"/><circle cx="904.5" cy="158.5" r="7.9"/><circle cx="906" cy="158.2" r="7.9"/><circle cx="907.4" cy="158" r="7.9"/><circle cx="908.9" cy="158.8" r="7.9"/><circle cx="910.4" cy="158" r="7.9"/><circle cx="911.9" cy="158.7" r="7.9"/><circle cx="913.4" cy="158" r="7.9"/><circle cx="914.9" cy="158.2" r="7.9"/><circle cx="916.3" cy="158.3" r="7.9"/><circle cx="917.8" cy="158.2" r="7.9"/><circle cx="919.3" cy="158.4" r="7.9"/><circle cx="920.8" cy="158.5" r="7.9"/><circle cx="922.3" cy="158.9" r="7.9"/><circle cx="923.7" cy="158.3" r="7.9"/><circle cx="925.2" cy="157.6" r="7.9"/><circle cx="926.7" cy="157.6" r="7.9"/><circle cx="928.2" cy="157.9" r="7.9"/><circle cx="929.7" cy="158.1" r="7.9"/><circle cx="931.2" cy="158.7" r="7.9"/><circle cx="932.6" cy="157.9" r="7.9"/><circle cx="934.1" cy="158.5" r="7.9"/><circle cx="935.6" cy="158.5" r="7.9"/><circle cx="937.1" cy="158.6" r="7.9"/><circle cx="938.6" cy="158.5" r="7.9"/><circle cx="940" cy="158.7" r="7.9"/><circle cx="941.5" cy="158.6" r="7.9"/><circle cx="943" cy="159" r="7.9"/><circle cx="944.5" cy="158.7" r="7.9"/><circle cx="946" cy="157.7" r="7.9"/><circle cx="947.5" cy="158.7" r="7.9"/><circle cx="948.9" cy="158.8" r="7.9"/><circle cx="950.4" cy="158.5" r="7.9"/><circle cx="951.9" cy="158.4" r="7.9"/><circle cx="953.4" cy="159.1" r="7.9"/><circle cx="954.9" cy="158.8" r="7.9"/><circle cx="956.3" cy="158.4" r="7.9"/><circle cx="957.8" cy="158.6" r="7.9"/><circle cx="959.3" cy="158.7" r="7.9"/><circle cx="960.8" cy="158.2" r="7.9"/><circle cx="962.3" cy="159" r="7.9"/><circle cx="963.8" cy="158.7" r="7.9"/><circle cx="965.2" cy="159" r="7.9"/><circle cx="966.7" cy="158.2" r="7.9"/><circle cx="968.2" cy="159.5" r="7.9"/><circle cx="969.7" cy="159" r="7.9"/><circle cx="971.2" cy="159" r="7.9"/><circle cx="972.6" cy="158.5" r="7.9"/><circle cx="974.1" cy="158.6" r="7.9"/><circle cx="975.6" cy="158.3" r="7.9"/><circle cx="977.1" cy="159.4" r="7.9"/><circle cx="978.6" cy="158.5" r="7.9"/><circle cx="980.1" cy="158.9" r="7.9"/><circle cx="981.5" cy="159.1" r="7.9"/><circle cx="983" cy="158.6" r="7.9"/><circle cx="984.5" cy="159.2" r="7.9"/><circle cx="986" cy="159.6" r="7.9"/><circle cx="987.5" cy="159" r="7.9"/><circle cx="989" cy="159.4" r="7.9"/><circle cx="990.4" cy="159.1" r="7.9"/><circle cx="991.9" cy="158.7" r="7.9"/><circle cx="993.4" cy="158.8" r="7.9"/><circle cx="994.9" cy="158.3" r="7.9"/><circle cx="996.4" cy="159" r="7.9"/><circle cx="997.8" cy="159.5" r="7.9"/><circle cx="999.3" cy="159.2" r="7.9"/><circle cx="1000.8" cy="159.3" r="7.9"/><circle cx="1002.3" cy="159.4" r="7.9"/><circle cx="1003.8" cy="158.8" r="7.9"/><circle cx="1005.3" cy="159.2" r="7.9"/><circle cx="1006.7" cy="159.7" r="7.9"/><circle cx="1008.2" cy="158.7" r="7.9"/><circle cx="1009.7" cy="159" r="7.9"/><circle cx="1011.2" cy="158.8" r="7.9"/><circle cx="1012.7" cy="158.9" r="7.9"/><circle cx="1014.1" cy="158.7" r="7.9"/><circle cx="1015.6" cy="159" r="7.9"/><circle cx="1017.1" cy="158.5" r="7.9"/><circle cx="1018.6" cy="158.8" r="7.9"/><circle cx="1020.1" cy="158.9" r="7.9"/><circle cx="1021.6" cy="158.9" r="7.9"/><circle cx="1023" cy="159.6" r="7.9"/><circle cx="1024.5" cy="159.1" r="7.9"/><circle cx="1026" cy="159.1" r="7.9"/><circle cx="1027.5" cy="159" r="7.9"/><circle cx="1029" cy="159.6" r="7.9"/><circle cx="1030.4" cy="158.5" r="7.9"/><circle cx="1031.9" cy="159.1" r="7.9"/><circle cx="1033.4" cy="159.6" r="7.9"/><circle cx="1034.9" cy="159.8" r="7.9"/><circle cx="1036.4" cy="159.2" r="7.9"/><circle cx="1037.9" cy="159.2" r="7.9"/><circle cx="1039.3" cy="159.4" r="7.9"/><circle cx="1040.8" cy="159.1" r="7.9"/><circle cx="1042.3" cy="159.4" r="7.9"/><circle cx="1043.8" cy="159" r="7.9"/><circle cx="1045.3" cy="159.5" r="7.9"/><circle cx="1046.7" cy="159.3" r="7.9"/><circle cx="1048.2" cy="158.9" r="7.9"/><circle cx="1049.7" cy="158.3" r="7.9"/><circle cx="1051.2" cy="159.7" r="7.9"/><circle cx="1052.7" cy="159.5" r="7.9"/><circle cx="1054.2" cy="159.6" r="7.9"/><circle cx="1055.6" cy="159" r="7.9"/><circle cx="1057.1" cy="159.8" r="7.9"/><circle cx="1058.6" cy="159.5" r="7.9"/><circle cx="1060.1" cy="159.4" r="7.9"/><circle cx="1061.6" cy="159.8" r="7.9"/><circle cx="1063" cy="159.8" r="7.9"/><circle cx="1064.5" cy="159.6" r="7.9"/><circle cx="1066" cy="160.2" r="7.9"/><circle cx="1067.5" cy="160" r="7.9"/><circle cx="1069" cy="159.6" r="7.9"/><circle cx="1070.5" cy="159.4" r="7.9"/><circle cx="1071.9" cy="159.6" r="7.9"/><circle cx="1073.4" cy="160.2" r="7.9"/><circle cx="1074.9" cy="159.7" r="7.9"/><circle cx="1076.4" cy="159.2" r="7.9"/><circle cx="1077.9" cy="159.4" r="7.9"/><circle cx="1079.4" cy="159.6" r="7.9"/><circle cx="1080.8" cy="159.9" r="7.9"/><circle cx="1082.3" cy="159.4" r="7.9"/><circle cx="1083.8" cy="159.8" r="7.9"/><circle cx="1085.3" cy="160.1" r="7.9"/><circle cx="1086.8" cy="160" r="7.9"/><circle cx="1088.2" cy="159.1" r="7.9"/><circle cx="1089.7" cy="159.6" r="7.9"/><circle cx="1091.2" cy="159.3" r="7.9"/><circle cx="1092.7" cy="159.9" r="7.9"/><circle cx="1094.2" cy="159.4" r="7.9"/><circle cx="1095.7" cy="160" r="7.9"/><circle cx="1097.1" cy="159.8" r="7.9"/><circle cx="1098.6" cy="158.8" r="7.9"/><circle cx="1100.1" cy="159.5" r="7.9"/><circle cx="1101.6" cy="160" r="7.9"/><circle cx="1103.1" cy="159.9" r="7.9"/><circle cx="1104.5" cy="159.7" r="7.9"/><circle cx="1106" cy="159.4" r="7.9"/><circle cx="1107.5" cy="160.1" r="7.9"/><circle cx="1109" cy="160.6" r="7.9"/><circle cx="1110.5" cy="160" r="7.9"/><circle cx="1112" cy="160" r="7.9"/><circle cx="1113.4" cy="159.9" r="7.9"/><circle cx="1114.9" cy="159.5" r="7.9"/><circle cx="1116.4" cy="159.9" r="7.9"/><circle cx="1117.9" cy="159.7" r="7.9"/><circle cx="1119.4" cy="160.5" r="7.9"/><circle cx="1120.8" cy="159.8" r="7.9"/><circle cx="1122.3" cy="159.3" r="7.9"/><circle cx="1123.8" cy="159.8" r="7.9"/><circle cx="1125.3" cy="160.1" r="7.9"/><circle cx="1126.8" cy="160.1" r="7.9"/><circle cx="1128.3" cy="159.5" r="7.9"/><circle cx="1129.7" cy="160.6" r="7.9"/><circle cx="1131.2" cy="160.3" r="7.9"/><circle cx="1132.7" cy="160.1" r="7.9"/><circle cx="1134.2" cy="160" r="7.9"/><circle cx="1135.7" cy="160.5" r="7.9"/><circle cx="1137.2" cy="160.2" r="7.9"/><circle cx="1138.6" cy="160.5" r="7.9"/><circle cx="1140.1" cy="160.3" r="7.9"/><circle cx="1141.6" cy="160.5" r="7.9"/><circle cx="1143.1" cy="160.9" r="7.9"/><circle cx="1144.6" cy="160.5" r="7.9"/><circle cx="1146" cy="160.1" r="7.9"/><circle cx="1147.5" cy="160.9" r="7.9"/><circle cx="1149" cy="160.6" r="7.9"/><circle cx="1150.5" cy="160.3" r="7.9"/><circle cx="1152" cy="161" r="7.9"/><circle cx="1153.5" cy="160.5" r="7.9"/><circle cx="1154.9" cy="161" r="7.9"/><circle cx="1156.4" cy="160.2" r="7.9"/><circle cx="1157.9" cy="159.8" r="7.9"/><circle cx="1159.4" cy="159.9" r="7.9"/><circle cx="1160.9" cy="160.8" r="7.9"/><circle cx="1162.3" cy="160.4" r="7.9"/><circle cx="1163.8" cy="160.7" r="7.9"/><circle cx="1165.3" cy="160.7" r="7.9"/><circle cx="1166.8" cy="160.2" r="7.9"/><circle cx="1168.3" cy="161.3" r="7.9"/><circle cx="1169.8" cy="160.4" r="7.9"/><circle cx="1171.2" cy="160.9" r="7.9"/><circle cx="1172.7" cy="160.3" r="7.9"/><circle cx="1174.2" cy="160.8" r="7.9"/><circle cx="1175.7" cy="161.2" r="7.9"/><circle cx="1177.2" cy="160.8" r="7.9"/><circle cx="1178.6" cy="160.7" r="7.9"/><circle cx="1180.1" cy="161" r="7.9"/><circle cx="1181.6" cy="160.8" r="7.9"/><circle cx="1183.1" cy="161.2" r="7.9"/><circle cx="1184.6" cy="161.9" r="7.9"/><circle cx="1186.1" cy="160.8" r="7.9"/><circle cx="1187.5" cy="160.9" r="7.9"/><circle cx="1189" cy="161.1" r="7.9"/><circle cx="1190.5" cy="161.2" r="7.9"/><circle cx="1192" cy="160.8" r="7.9"/><circle cx="1193.5" cy="161.4" r="7.9"/><circle cx="1194.9" cy="161.5" r="7.9"/><circle cx="1196.4" cy="161.4" r="7.9"/><circle cx="1197.9" cy="160.9" r="7.9"/><circle cx="1199.4" cy="161.9" r="7.9"/><circle cx="1200.9" cy="160.9" r="7.9"/><circle cx="1202.4" cy="161.7" r="7.9"/><circle cx="1203.8" cy="161.9" r="7.9"/><circle cx="1205.3" cy="161" r="7.9"/><circle cx="1206.8" cy="161.5" r="7.9"/><circle cx="1208.3" cy="162" r="7.9"/><circle cx="1209.8" cy="161.7" r="7.9"/><circle cx="1211.2" cy="161.2" r="7.9"/><circle cx="1212.7" cy="161.2" r="7.9"/><circle cx="1214.2" cy="161.8" r="7.9"/><circle cx="1215.7" cy="161.5" r="7.9"/><circle cx="1217.2" cy="161.4" r="7.9"/><circle cx="1218.7" cy="162" r="7.9"/><circle cx="1220.1" cy="161.6" r="7.9"/><circle cx="1221.6" cy="161.8" r="7.9"/><circle cx="1223.1" cy="162" r="7.9"/><circle cx="1224.6" cy="162" r="7.9"/><circle cx="1226.1" cy="161.8" r="7.9"/><circle cx="1227.6" cy="161.9" r="7.9"/><circle cx="1229" cy="162.1" r="7.9"/><circle cx="1230.5" cy="162.1" r="7.9"/><circle cx="1232" cy="161.6" r="7.9"/><circle cx="1233.5" cy="161.9" r="7.9"/><circle cx="1235" cy="161.7" r="7.9"/><circle cx="1236.4" cy="161.6" r="7.9"/><circle cx="1237.9" cy="161.9" r="7.9"/><circle cx="1239.4" cy="161.3" r="7.9"/><circle cx="1240.9" cy="162.5" r="7.9"/><circle cx="1242.4" cy="161.9" r="7.9"/><circle cx="1243.9" cy="162.3" r="7.9"/><circle cx="1245.3" cy="161.5" r="7.9"/><circle cx="1246.8" cy="161.6" r="7.9"/><circle cx="1248.3" cy="163" r="7.9"/><circle cx="1249.8" cy="162.7" r="7.9"/><circle cx="1251.3" cy="162.1" r="7.9"/><circle cx="1252.7" cy="162.1" r="7.9"/><circle cx="1254.2" cy="162.1" r="7.9"/><circle cx="1255.7" cy="162.5" r="7.9"/><circle cx="1257.2" cy="162.3" r="7.9"/><circle cx="1258.7" cy="162.3" r="7.9"/><circle cx="1260.2" cy="162.6" r="7.9"/><circle cx="1261.6" cy="162.2" r="7.9"/><circle cx="1263.1" cy="163.5" r="7.9"/><circle cx="1264.6" cy="162.4" r="7.9"/><circle cx="1266.1" cy="163.1" r="7.9"/><circle cx="1267.6" cy="162.4" r="7.9"/><circle cx="1269" cy="162.8" r="7.9"/><circle cx="1270.5" cy="163.1" r="7.9"/><circle cx="1272" cy="162.7" r="7.9"/><circle cx="1273.5" cy="163.2" r="7.9"/><circle cx="1275" cy="163.2" r="7.9"/><circle cx="1276.5" cy="163.5" r="7.9"/><circle cx="1277.9" cy="163" r="7.9"/><circle cx="1279.4" cy="162.8" r="7.9"/><circle cx="1280.9" cy="162.6" r="7.9"/><circle cx="1282.4" cy="163.1" r="7.9"/><circle cx="1283.9" cy="162.7" r="7.9"/><circle cx="1285.3" cy="163.1" r="7.9"/><circle cx="1286.8" cy="163.2" r="7.9"/><circle cx="1288.3" cy="163" r="7.9"/><circle cx="1289.8" cy="162.8" r="7.9"/><circle cx="1291.3" cy="163.4" r="7.9"/><circle cx="1292.8" cy="163.4" r="7.9"/><circle cx="1294.2" cy="163.4" r="7.9"/><circle cx="1295.7" cy="163.3" r="7.9"/><circle cx="1297.2" cy="163.7" r="7.9"/><circle cx="1298.7" cy="163" r="7.9"/><circle cx="1300.2" cy="163.6" r="7.9"/><circle cx="1301.7" cy="163.3" r="7.9"/><circle cx="1303.1" cy="163.8" r="7.9"/><circle cx="1304.6" cy="163.4" r="7.9"/><circle cx="1306.1" cy="163.4" r="7.9"/><circle cx="1307.6" cy="163.8" r="7.9"/><circle cx="1309.1" cy="162.9" r="7.9"/><circle cx="1310.5" cy="163.5" r="7.9"/><circle cx="1312" cy="163" r="7.9"/><circle cx="1313.5" cy="163.4" r="7.9"/><circle cx="1315" cy="164" r="7.9"/><circle cx="1316.5" cy="163.9" r="7.9"/><circle cx="1318" cy="163.7" r="7.9"/><circle cx="1319.4" cy="163.8" r="7.9"/><circle cx="1320.9" cy="163.9" r="7.9"/><circle cx="1322.4" cy="164" r="7.9"/><circle cx="1323.9" cy="164.6" r="7.9"/><circle cx="1325.4" cy="164.1" r="7.9"/><circle cx="1326.8" cy="164.9" r="7.9"/><circle cx="1328.3" cy="163.9" r="7.9"/><circle cx="1329.8" cy="164.4" r="7.9"/><circle cx="1331.3" cy="164.4" r="7.9"/><circle cx="1332.8" cy="164.2" r="7.9"/><circle cx="1334.3" cy="164.1" r="7.9"/><circle cx="1335.7" cy="164.8" r="7.9"/><circle cx="1337.2" cy="164.9" r="7.9"/><circle cx="1338.7" cy="164.7" r="7.9"/><circle cx="1340.2" cy="165.1" r="7.9"/><circle cx="1341.7" cy="164.7" r="7.9"/><circle cx="1343.1" cy="163.8" r="7.9"/><circle cx="1344.6" cy="164.8" r="7.9"/><circle cx="1346.1" cy="164.2" r="7.9"/><circle cx="1347.6" cy="165" r="7.9"/><circle cx="1349.1" cy="164.4" r="7.9"/><circle cx="1350.6" cy="164.7" r="7.9"/><circle cx="1352" cy="164.6" r="7.9"/><circle cx="1353.5" cy="164.4" r="7.9"/><circle cx="1355" cy="164" r="7.9"/><circle cx="1356.5" cy="164.6" r="7.9"/><circle cx="1358" cy="164.7" r="7.9"/><circle cx="1359.5" cy="165.1" r="7.9"/><circle cx="1360.9" cy="164.6" r="7.9"/><circle cx="1362.4" cy="164.9" r="7.9"/><circle cx="1363.9" cy="164.5" r="7.9"/><circle cx="1365.4" cy="164.9" r="7.9"/><circle cx="1366.9" cy="164.2" r="7.9"/><circle cx="1368.3" cy="165.7" r="7.9"/><circle cx="1369.8" cy="165.1" r="7.9"/><circle cx="1371.3" cy="164.7" r="7.9"/><circle cx="1372.8" cy="165.2" r="7.9"/><circle cx="1374.3" cy="165.4" r="7.9"/><circle cx="1375.8" cy="165.2" r="7.9"/><circle cx="1377.2" cy="165.7" r="7.9"/><circle cx="1378.7" cy="165.1" r="7.9"/><circle cx="1380.2" cy="164.3" r="7.9"/><circle cx="1381.7" cy="164.8" r="7.9"/><circle cx="1383.2" cy="165.7" r="7.9"/><circle cx="1384.6" cy="165.6" r="7.9"/><circle cx="1386.1" cy="165.5" r="7.9"/><circle cx="1387.6" cy="165" r="7.9"/><circle cx="1389.1" cy="165.7" r="7.9"/><circle cx="1390.6" cy="165.7" r="7.9"/><circle cx="1392.1" cy="165.1" r="7.9"/><circle cx="1393.5" cy="165.2" r="7.9"/><circle cx="1395" cy="165.7" r="7.9"/><circle cx="1396.5" cy="166" r="7.9"/></g>
<path d="M1396,14.3V310.2M1388.6,279.7H1396M1388.6,220.9H1396M1388.6,162.2H1396M1388.6,103.4H1396M1388.6,44.7H1396M1392.3,250.3H1396M1392.3,191.6H1396M1392.3,132.8H1396M1392.3,74.1H1396M1392.3,15.3H1396" stroke="#4ea6cc" stroke-width="1.6" fill="none"/>
<g font-size="32.3"><text x="642.5" y="286.1" text-anchor="end">40</text><text x="642.5" y="242.6" text-anchor="end">80</text><text x="642.5" y="199.1" text-anchor="end">120</text><text x="642.5" y="155.6" text-anchor="end">160</text><text x="642.5" y="112" text-anchor="end">200</text><text x="642.5" y="68.5" text-anchor="end">240</text><text x="642.5" y="25" text-anchor="end">280</text><text x="1406" y="289.2">20</text><text x="1406" y="230.4">40</text><text x="1406" y="171.7">60</text><text x="1406" y="112.9">80</text><text x="1406" y="54.2">100</text><text x="655.5" y="345" text-anchor="middle">0</text><text x="729.6" y="345" text-anchor="middle">50</text><text x="803.7" y="345" text-anchor="middle">100</text><text x="877.8" y="345" text-anchor="middle">150</text><text x="951.9" y="345" text-anchor="middle">200</text><text x="1026" y="345" text-anchor="middle">250</text><text x="1100.1" y="345" text-anchor="middle">300</text><text x="1174.2" y="345" text-anchor="middle">350</text><text x="1248.3" y="345" text-anchor="middle">400</text><text x="1322.4" y="345" text-anchor="middle">450</text><text x="1396.5" y="345" text-anchor="middle">500</text></g>
<text x="1024" y="383.3" font-size="32.4" text-anchor="middle">Cycle number (n)</text>
<text transform="translate(566.8,166.3) rotate(-90)" text-anchor="middle" font-size="27.3">Specific capacity (mAh g<tspan font-size="16.5" dy="-10">-1</tspan><tspan dy="10">)</tspan></text>
<text transform="translate(1476.3,180.4) rotate(90) scale(1,1.05)" text-anchor="middle" font-size="29.8">Coulombic efficiency (%)</text>
<text x="518" y="25.7" font-size="28" font-weight="bold">b</text>
<g font-size="29.5"><text x="993.7" y="233.8" style="fill:#2d69a3">Li</text><text x="1025.5" y="233.8" style="fill:#2d69a3" stroke="#2d69a3" stroke-width="0.6">|</text><text x="1040.9" y="233.8" style="fill:#2d69a3">C:G = 7</text><text x="1156.1" y="233.8" style="fill:#2d69a3" stroke="#2d69a3" stroke-width="0.6">|</text><text x="1167.9" y="233.8" style="fill:#2d69a3">NCM83125</text><text x="993.7" y="268.9" style="fill:#f07f22">Li</text><text x="1025.5" y="268.9" style="fill:#f07f22" stroke="#f07f22" stroke-width="0.6">|</text><text x="1040" y="268.9" style="fill:#f07f22">Li</text><text x="1062.1" y="272.7" style="fill:#f07f22" font-size="15.5">5.4</text><text x="1082.6" y="268.9" style="fill:#f07f22">PS</text><text x="1119.6" y="272.7" style="fill:#f07f22" font-size="15.5">4.4</text><text x="1141.5" y="268.9" style="fill:#f07f22">Cl</text><text x="1166.9" y="272.7" style="fill:#f07f22" font-size="15.5">1.6</text><text x="1190.6" y="268.9" style="fill:#f07f22" stroke="#f07f22" stroke-width="0.6">|</text><text x="1203.8" y="268.9" style="fill:#f07f22">NCM83125</text></g>
<path d="M120.9,440.1 123.4,441.5 125.9,442.9 128.4,444.3 130.8,445.6 133.3,447.0 135.8,448.3 138.3,449.6 140.7,450.9 143.2,452.2 145.7,453.5 148.1,454.8 150.6,456.0 153.1,457.3 155.5,458.5 158.0,459.7 160.4,460.9 162.9,462.1 165.4,463.2 167.8,464.4 170.3,465.5 172.7,466.6 175.2,467.7 177.7,468.8 180.1,469.9 182.6,471.0 185.0,472.0 187.5,473.0 190.0,474.1 192.5,475.1 194.9,476.1 197.4,477.0 199.9,478.0 202.4,478.9 204.9,479.9 207.4,480.8 209.9,481.7 212.4,482.6 214.9,483.5 217.5,484.4 220.0,485.2 222.5,486.0 225.1,486.9 227.6,487.7 230.2,488.5 232.7,489.3 235.3,490.0 237.9,490.8 240.5,491.5 243.1,492.3 245.7,493.0 248.3,493.7 251.0,494.4 253.6,495.0 256.2,495.7 258.9,496.3 261.6,497.0 264.3,497.6 267.0,498.2 269.7,498.8 272.4,499.3 275.1,499.9 277.9,500.5 280.6,501.0 283.4,501.5 286.2,502.0 289.0,502.5 291.8,503.0 294.6,503.5 297.5,504.0 300.3,504.4 303.1,504.9 306.0,505.4 308.8,505.8 311.7,506.3 314.5,506.8 317.3,507.3 320.1,507.8 322.9,508.3 325.7,508.9 328.5,509.4 331.3,510.0 334.0,510.6 336.8,511.3 339.5,511.9 342.2,512.6 344.8,513.3 347.5,514.1 350.1,514.9 352.6,515.8 355.2,516.6 357.7,517.6 360.1,518.6 362.5,519.6 364.9,520.7 367.3,521.8 369.6,523.0 371.8,524.3 374.0,525.6 376.2,526.9 378.2,528.4 380.3,529.9 382.3,531.5 384.2,533.1 386.1,534.8 387.9,536.6 389.7,538.4 391.4,540.3 393.1,542.3 394.7,544.3 396.3,546.3 397.8,548.4 399.3,550.5 400.7,552.7 402.1,555.0 403.4,557.3 404.7,559.6 405.9,562.0 407.1,564.4 408.3,566.8 409.4,569.3 410.5,571.8 411.5,574.4 412.5,576.9 413.4,579.5 414.3,582.2 415.2,584.8 416.0,587.5 416.8,590.2 417.6,592.9 418.3,595.6 419.0,598.4 419.6,601.2 420.2,603.9 420.8,606.7 421.3,609.5 421.8,612.3 422.3,615.2 422.7,618.0 423.1,620.8 423.5,623.6 423.9,626.4 424.2,629.2 424.5,632.1 424.7,634.9 425.0,637.7 425.2,640.4 425.3,643.2 425.5,646.0 425.6,648.7 425.7,651.5 425.8,654.2 425.8,656.9 425.8,659.5 425.8,662.2 425.8,664.8 425.8,667.4 425.7,670.0 425.7,672.5 425.6,675.0" fill="none" stroke="#28609f" stroke-width="2.8" stroke-linejoin="round"/>
<path d="M119.6,514.2 121.6,513.9 123.7,513.6 125.7,513.3 127.8,512.9 129.9,512.6 131.9,512.3 134.0,512.0 136.0,511.6 138.1,511.3 140.2,511.0 142.2,510.6 144.3,510.3 146.4,510.0 148.4,509.7 150.5,509.3 152.6,509.0 154.6,508.6 156.7,508.3 158.8,508.0 160.8,507.6 162.9,507.3 165.0,506.9 167.0,506.6 169.1,506.3 171.2,505.9 173.3,505.6 175.3,505.2 177.4,504.9 179.5,504.5 181.6,504.1 183.6,503.8 185.7,503.4 187.8,503.1 189.9,502.7 191.9,502.3 194.0,502.0 196.1,501.6 198.2,501.2 200.2,500.9 202.3,500.5 204.4,500.1 206.5,499.7 208.5,499.3 210.6,499.0 212.7,498.6 214.8,498.2 216.8,497.8 218.9,497.4 221.0,497.0 223.0,496.6 225.1,496.2 227.2,495.8 229.3,495.4 231.3,495.0 233.4,494.6 235.5,494.2 237.6,493.7 239.6,493.3 241.7,492.9 243.8,492.5 245.8,492.0 247.9,491.6 250.0,491.2 252.0,490.7 254.1,490.3 256.2,489.8 258.2,489.4 260.3,488.9 262.4,488.5 264.4,488.0 266.5,487.5 268.6,487.1 270.6,486.6 272.7,486.1 274.8,485.7 276.8,485.2 278.9,484.7 280.9,484.2 283.0,483.7 285.0,483.2 287.1,482.7 289.1,482.2 291.2,481.7 293.3,481.2 295.3,480.7 297.4,480.1 299.4,479.6 301.4,479.1 303.5,478.5 305.5,478.0 307.6,477.5 309.6,476.9 311.7,476.4 313.7,475.8 315.7,475.2 317.8,474.7 319.8,474.1 321.8,473.5 323.9,472.9 325.9,472.4 327.9,471.8 330.0,471.2 332.0,470.6 334.0,470.0 336.0,469.4 338.1,468.8 340.1,468.1 342.1,467.5 344.1,466.9 346.1,466.2 348.1,465.6 350.2,465.0 352.2,464.3 354.2,463.6 356.2,463.0 358.2,462.3 360.2,461.6 362.2,461.0 364.2,460.3 366.2,459.6 368.2,458.9 370.2,458.2 372.2,457.5 374.1,456.8 376.1,456.1 378.1,455.3 380.1,454.6 382.1,453.9 384.0,453.1 386.0,452.4 388.0,451.6 390.0,450.9 391.9,450.1 393.9,449.3 395.9,448.5 397.8,447.8 399.8,447.0 401.7,446.2 403.7,445.4 405.6,444.5 407.6,443.7 409.5,442.9 411.5,442.1 413.4,441.2 415.4,440.4 417.3,439.5 419.2,438.7 421.2,437.8 423.1,436.9 425.0,436.1 426.9,435.2 428.9,434.3 430.8,433.4 432.7,432.5 434.6,431.5 436.5,430.6 438.4,429.7 440.3,428.8 442.2,427.8" fill="none" stroke="#28609f" stroke-width="2.8" stroke-linejoin="round"/>
<path d="M120.3,427.7 120.1,450.2 121.9,451.9 123.7,453.4 125.6,455.0 127.5,456.4 129.4,457.9 131.4,459.3 133.3,460.7 135.3,462.0 137.4,463.3 139.4,464.5 141.5,465.7 143.6,466.9 145.7,468.0 147.8,469.2 150.0,470.2 152.2,471.3 154.4,472.3 156.6,473.3 158.9,474.2 161.1,475.1 163.4,476.0 165.7,476.9 168.0,477.8 170.4,478.6 172.7,479.4 175.1,480.2 177.5,480.9 179.9,481.6 182.3,482.4 184.7,483.0 187.1,483.7 189.5,484.4 192.0,485.0 194.5,485.7 196.9,486.3 199.4,486.9 201.9,487.5 204.4,488.0 206.9,488.6 209.4,489.2 211.9,489.7 214.4,490.3 216.9,490.8 219.5,491.3 222.0,491.9 224.5,492.4 227.0,492.9 229.6,493.4 232.1,493.9 234.6,494.4 237.2,495.0 239.7,495.5 242.2,496.0 244.7,496.5 247.3,497.0 249.8,497.6 252.3,498.1 254.8,498.7 257.3,499.2 259.8,499.8 262.3,500.4 264.7,501.0 267.2,501.6 269.7,502.2 272.1,502.8 274.6,503.4 277.0,504.1 279.4,504.8 281.8,505.5 284.2,506.2 286.6,506.9 289.0,507.6 291.3,508.4 293.6,509.2 296.0,510.0 298.3,510.9 300.5,511.7 302.8,512.6 305.0,513.5 307.3,514.5 309.5,515.5 311.7,516.5 313.8,517.5 316.0,518.6 318.1,519.7 320.2,520.8 322.3,522.0 324.3,523.2 326.4,524.4 328.4,525.7 330.3,527.0 332.3,528.4 334.2,529.8 336.1,531.2 338.0,532.7 339.8,534.2 341.6,535.7 343.4,537.3 345.1,538.9 346.9,540.6 348.6,542.2 350.2,543.9 351.9,545.7 353.5,547.5 355.1,549.3 356.6,551.1 358.2,553.0 359.7,554.9 361.1,556.8 362.6,558.7 364.0,560.7 365.3,562.7 366.7,564.8 368.0,566.8 369.3,568.9 370.5,571.0 371.8,573.1 373.0,575.3 374.1,577.5 375.2,579.7 376.3,581.9 377.4,584.1 378.4,586.4 379.4,588.7 380.4,591.0 381.3,593.3 382.2,595.7 383.1,598.0 383.9,600.4 384.7,602.8 385.5,605.2 386.2,607.6 386.9,610.0 387.6,612.5 388.2,615.0 388.8,617.4 389.4,619.9 389.9,622.4 390.4,624.9 390.9,627.5 391.3,630.0 391.7,632.5 392.0,635.1 392.3,637.6 392.6,640.2 392.9,642.8 393.1,645.4 393.2,647.9 393.4,650.5 393.5,653.1 393.5,655.7 393.5,658.3 393.5,660.9 393.5,663.5 393.4,666.1 393.3,668.7 393.1,671.4 392.9,674.0 392.6,676.6" fill="none" stroke="#3c9cc7" stroke-width="2.8" stroke-linejoin="round"/>
<path d="M120.0,524.2 119.7,503.3 121.5,503.0 123.3,502.7 125.0,502.5 126.8,502.2 128.6,501.9 130.4,501.6 132.2,501.3 133.9,501.0 135.7,500.7 137.5,500.4 139.3,500.1 141.0,499.8 142.8,499.5 144.6,499.2 146.4,498.8 148.1,498.5 149.9,498.2 151.7,497.9 153.5,497.6 155.3,497.3 157.0,496.9 158.8,496.6 160.6,496.3 162.4,496.0 164.1,495.6 165.9,495.3 167.7,495.0 169.4,494.6 171.2,494.3 173.0,494.0 174.8,493.6 176.5,493.3 178.3,492.9 180.1,492.6 181.9,492.2 183.6,491.9 185.4,491.5 187.2,491.2 188.9,490.8 190.7,490.4 192.5,490.1 194.2,489.7 196.0,489.3 197.8,489.0 199.5,488.6 201.3,488.2 203.1,487.9 204.8,487.5 206.6,487.1 208.4,486.7 210.1,486.3 211.9,485.9 213.7,485.6 215.4,485.2 217.2,484.8 219.0,484.4 220.7,484.0 222.5,483.6 224.2,483.2 226.0,482.8 227.8,482.4 229.5,481.9 231.3,481.5 233.0,481.1 234.8,480.7 236.5,480.3 238.3,479.9 240.1,479.4 241.8,479.0 243.6,478.6 245.3,478.1 247.1,477.7 248.8,477.3 250.6,476.8 252.3,476.4 254.1,475.9 255.8,475.5 257.6,475.0 259.3,474.6 261.1,474.1 262.8,473.7 264.6,473.2 266.3,472.7 268.0,472.3 269.8,471.8 271.5,471.3 273.3,470.8 275.0,470.4 276.8,469.9 278.5,469.4 280.2,468.9 282.0,468.4 283.7,467.9 285.4,467.4 287.2,466.9 288.9,466.4 290.6,465.9 292.4,465.4 294.1,464.9 295.8,464.4 297.6,463.9 299.3,463.4 301.0,462.8 302.8,462.3 304.5,461.8 306.2,461.2 307.9,460.7 309.7,460.2 311.4,459.6 313.1,459.1 314.8,458.5 316.5,458.0 318.3,457.4 320.0,456.9 321.7,456.3 323.4,455.8 325.1,455.2 326.8,454.6 328.6,454.1 330.3,453.5 332.0,452.9 333.7,452.3 335.4,451.7 337.1,451.1 338.8,450.5 340.5,450.0 342.2,449.4 343.9,448.8 345.6,448.1 347.3,447.5 349.0,446.9 350.7,446.3 352.4,445.7 354.1,445.1 355.8,444.4 357.5,443.8 359.2,443.2 360.9,442.5 362.6,441.9 364.3,441.3 365.9,440.6 367.6,440.0 369.3,439.3 371.0,438.7 372.7,438.0 374.4,437.3 376.0,436.7 377.7,436.0 379.4,435.3 381.1,434.6 382.7,434.0 384.4,433.3 386.1,432.6 387.8,431.9 389.4,431.2 391.1,430.5 392.8,429.8 394.4,429.1 396.1,428.4" fill="none" stroke="#3c9cc7" stroke-width="2.8" stroke-linejoin="round"/>
<path d="M120.3,427.7 120.7,449.5 122.5,451.1 124.2,452.7 126.0,454.2 127.8,455.7 129.7,457.1 131.6,458.5 133.5,459.9 135.4,461.2 137.4,462.5 139.4,463.8 141.4,465.0 143.4,466.1 145.5,467.3 147.6,468.4 149.7,469.5 151.8,470.5 153.9,471.5 156.1,472.5 158.3,473.5 160.5,474.4 162.7,475.3 165.0,476.2 167.2,477.1 169.5,477.9 171.8,478.7 174.1,479.5 176.4,480.3 178.8,481.0 181.1,481.7 183.5,482.4 185.8,483.1 188.2,483.8 190.6,484.5 193.0,485.1 195.4,485.7 197.8,486.4 200.3,487.0 202.7,487.6 205.2,488.2 207.6,488.7 210.1,489.3 212.5,489.9 215.0,490.4 217.4,491.0 219.9,491.5 222.4,492.1 224.8,492.6 227.3,493.2 229.8,493.7 232.2,494.2 234.7,494.8 237.2,495.3 239.6,495.9 242.1,496.4 244.5,497.0 247.0,497.5 249.4,498.1 251.9,498.7 254.3,499.3 256.7,499.9 259.1,500.5 261.5,501.1 263.9,501.7 266.3,502.4 268.7,503.0 271.1,503.7 273.4,504.4 275.8,505.1 278.1,505.8 280.4,506.6 282.7,507.3 285.0,508.1 287.2,508.9 289.5,509.8 291.7,510.6 293.9,511.5 296.1,512.4 298.3,513.3 300.4,514.3 302.6,515.3 304.7,516.3 306.8,517.3 308.8,518.4 310.9,519.5 312.9,520.6 314.9,521.8 316.9,523.0 318.8,524.3 320.7,525.5 322.6,526.9 324.5,528.2 326.3,529.6 328.1,531.0 329.9,532.5 331.6,534.0 333.3,535.6 335.0,537.2 336.7,538.8 338.3,540.4 339.9,542.1 341.5,543.9 343.0,545.6 344.5,547.4 346.0,549.2 347.5,551.1 348.9,553.0 350.3,554.9 351.6,556.8 353.0,558.8 354.3,560.8 355.6,562.8 356.8,564.8 358.0,566.9 359.2,569.0 360.4,571.1 361.5,573.2 362.6,575.4 363.6,577.6 364.7,579.8 365.7,582.0 366.7,584.2 367.6,586.5 368.5,588.7 369.4,591.0 370.3,593.3 371.1,595.6 371.9,598.0 372.7,600.3 373.4,602.7 374.1,605.1 374.8,607.4 375.4,609.8 376.1,612.2 376.6,614.6 377.2,617.1 377.7,619.5 378.2,621.9 378.7,624.3 379.1,626.8 379.5,629.2 379.9,631.7 380.2,634.1 380.6,636.6 380.8,639.0 381.1,641.5 381.3,644.0 381.5,646.4 381.7,648.9 381.8,651.3 381.9,653.8 382.0,656.2 382.0,658.6 382.0,661.1 382.0,663.5 381.9,665.9 381.8,668.3 381.7,670.7 381.6,673.1 381.4,675.5" fill="none" stroke="#9fc5dc" stroke-width="2.8" stroke-linejoin="round"/>
<path d="M120.0,524.2 119.7,504.4 121.4,504.1 123.1,503.9 124.9,503.6 126.6,503.3 128.3,503.1 130.0,502.8 131.7,502.5 133.4,502.2 135.2,501.9 136.9,501.6 138.6,501.3 140.3,501.0 142.0,500.7 143.7,500.4 145.4,500.1 147.1,499.8 148.8,499.5 150.5,499.1 152.3,498.8 154.0,498.5 155.7,498.2 157.4,497.8 159.1,497.5 160.8,497.1 162.5,496.8 164.2,496.4 165.9,496.1 167.6,495.7 169.3,495.4 171.0,495.0 172.7,494.6 174.4,494.3 176.1,493.9 177.8,493.5 179.5,493.1 181.2,492.7 182.8,492.4 184.5,492.0 186.2,491.6 187.9,491.2 189.6,490.8 191.3,490.4 193.0,490.0 194.7,489.6 196.4,489.1 198.1,488.7 199.7,488.3 201.4,487.9 203.1,487.5 204.8,487.0 206.5,486.6 208.2,486.2 209.8,485.7 211.5,485.3 213.2,484.9 214.9,484.4 216.6,484.0 218.3,483.5 219.9,483.1 221.6,482.6 223.3,482.2 225.0,481.7 226.6,481.2 228.3,480.8 230.0,480.3 231.7,479.8 233.3,479.4 235.0,478.9 236.7,478.4 238.4,477.9 240.0,477.5 241.7,477.0 243.4,476.5 245.0,476.0 246.7,475.5 248.4,475.0 250.0,474.5 251.7,474.0 253.4,473.5 255.0,473.0 256.7,472.5 258.4,472.0 260.0,471.5 261.7,471.0 263.4,470.5 265.0,470.0 266.7,469.5 268.4,468.9 270.0,468.4 271.7,467.9 273.3,467.4 275.0,466.8 276.7,466.3 278.3,465.8 280.0,465.3 281.6,464.7 283.3,464.2 284.9,463.6 286.6,463.1 288.2,462.6 289.9,462.0 291.6,461.5 293.2,460.9 294.9,460.4 296.5,459.8 298.2,459.3 299.8,458.7 301.5,458.2 303.1,457.6 304.8,457.1 306.4,456.5 308.1,456.0 309.7,455.4 311.4,454.8 313.0,454.3 314.7,453.7 316.3,453.1 317.9,452.6 319.6,452.0 321.2,451.4 322.9,450.9 324.5,450.3 326.2,449.7 327.8,449.1 329.5,448.6 331.1,448.0 332.7,447.4 334.4,446.8 336.0,446.3 337.7,445.7 339.3,445.1 340.9,444.5 342.6,443.9 344.2,443.3 345.9,442.8 347.5,442.2 349.1,441.6 350.8,441.0 352.4,440.4 354.0,439.8 355.7,439.2 357.3,438.6 358.9,438.0 360.6,437.5 362.2,436.9 363.8,436.3 365.5,435.7 367.1,435.1 368.7,434.5 370.4,433.9 372.0,433.3 373.6,432.7 375.3,432.1 376.9,431.5 378.5,430.9 380.1,430.3 381.8,429.7 383.4,429.1 385.0,428.5" fill="none" stroke="#9fc5dc" stroke-width="2.8" stroke-linejoin="round"/>
<path d="M120.3,427.7 120.7,449.7 122.5,451.1 124.3,452.5 126.1,453.9 128.0,455.3 129.9,456.6 131.8,457.9 133.8,459.1 135.7,460.3 137.7,461.5 139.7,462.7 141.8,463.8 143.8,464.9 145.9,466.0 148.0,467.0 150.1,468.1 152.2,469.1 154.3,470.0 156.5,471.0 158.7,471.9 160.9,472.8 163.1,473.7 165.3,474.6 167.5,475.4 169.8,476.3 172.1,477.1 174.3,477.9 176.6,478.7 178.9,479.4 181.2,480.2 183.5,480.9 185.9,481.6 188.2,482.3 190.5,483.0 192.9,483.7 195.3,484.4 197.6,485.1 200.0,485.7 202.4,486.4 204.7,487.0 207.1,487.7 209.5,488.3 211.9,488.9 214.3,489.6 216.7,490.2 219.1,490.8 221.5,491.4 223.9,492.0 226.3,492.7 228.7,493.3 231.1,493.9 233.4,494.5 235.8,495.2 238.2,495.8 240.6,496.4 243.0,497.1 245.3,497.7 247.7,498.4 250.0,499.0 252.4,499.7 254.7,500.4 257.1,501.1 259.4,501.8 261.7,502.5 264.0,503.2 266.3,504.0 268.6,504.7 270.8,505.5 273.1,506.3 275.3,507.1 277.6,507.9 279.8,508.8 282.0,509.6 284.1,510.5 286.3,511.4 288.5,512.3 290.6,513.3 292.7,514.2 294.8,515.2 296.9,516.2 298.9,517.3 301.0,518.4 303.0,519.4 305.0,520.6 307.0,521.7 308.9,522.9 310.8,524.1 312.7,525.3 314.6,526.6 316.5,527.9 318.3,529.2 320.1,530.6 321.9,532.0 323.6,533.4 325.3,534.9 327.0,536.4 328.7,538.0 330.3,539.6 331.9,541.2 333.5,542.8 335.1,544.5 336.6,546.2 338.1,547.9 339.6,549.7 341.0,551.5 342.4,553.3 343.8,555.2 345.2,557.1 346.5,559.0 347.8,560.9 349.1,562.9 350.3,564.9 351.6,566.9 352.8,568.9 353.9,571.0 355.1,573.1 356.2,575.2 357.3,577.3 358.3,579.4 359.4,581.6 360.4,583.8 361.4,586.0 362.3,588.2 363.3,590.4 364.2,592.6 365.1,594.9 365.9,597.2 366.7,599.5 367.5,601.8 368.3,604.1 369.1,606.4 369.8,608.7 370.5,611.1 371.2,613.4 371.8,615.8 372.4,618.2 373.0,620.6 373.6,623.0 374.1,625.3 374.7,627.7 375.2,630.2 375.6,632.6 376.1,635.0 376.5,637.4 376.9,639.8 377.3,642.2 377.6,644.6 377.9,647.1 378.2,649.5 378.5,651.9 378.7,654.3 378.9,656.7 379.1,659.1 379.3,661.5 379.5,663.9 379.6,666.3 379.7,668.7 379.8,671.1 379.8,673.5 379.8,675.8" fill="none" stroke="#c8ddf1" stroke-width="2.8" stroke-linejoin="round"/>
<path d="M120.0,524.2 119.9,505.2 121.6,504.9 123.3,504.6 125.0,504.3 126.7,504.1 128.4,503.8 130.1,503.5 131.8,503.2 133.5,502.9 135.2,502.6 136.9,502.3 138.6,502.0 140.3,501.7 142.0,501.3 143.7,501.0 145.4,500.7 147.1,500.4 148.8,500.0 150.5,499.7 152.2,499.4 153.9,499.0 155.6,498.7 157.3,498.3 159.0,498.0 160.7,497.6 162.4,497.3 164.0,496.9 165.7,496.5 167.4,496.2 169.1,495.8 170.8,495.4 172.5,495.0 174.2,494.7 175.8,494.3 177.5,493.9 179.2,493.5 180.9,493.1 182.6,492.7 184.2,492.3 185.9,491.9 187.6,491.5 189.3,491.1 190.9,490.7 192.6,490.3 194.3,489.8 196.0,489.4 197.6,489.0 199.3,488.6 201.0,488.1 202.7,487.7 204.3,487.3 206.0,486.8 207.7,486.4 209.3,485.9 211.0,485.5 212.7,485.1 214.3,484.6 216.0,484.1 217.7,483.7 219.3,483.2 221.0,482.8 222.6,482.3 224.3,481.8 226.0,481.4 227.6,480.9 229.3,480.4 230.9,480.0 232.6,479.5 234.3,479.0 235.9,478.5 237.6,478.0 239.2,477.5 240.9,477.0 242.5,476.6 244.2,476.1 245.9,475.6 247.5,475.1 249.2,474.6 250.8,474.1 252.5,473.6 254.1,473.0 255.8,472.5 257.4,472.0 259.1,471.5 260.7,471.0 262.4,470.5 264.0,470.0 265.7,469.4 267.3,468.9 268.9,468.4 270.6,467.9 272.2,467.3 273.9,466.8 275.5,466.3 277.2,465.7 278.8,465.2 280.5,464.7 282.1,464.1 283.7,463.6 285.4,463.1 287.0,462.5 288.7,462.0 290.3,461.4 291.9,460.9 293.6,460.3 295.2,459.8 296.8,459.2 298.5,458.7 300.1,458.1 301.8,457.6 303.4,457.0 305.0,456.4 306.7,455.9 308.3,455.3 309.9,454.8 311.6,454.2 313.2,453.6 314.8,453.1 316.5,452.5 318.1,451.9 319.7,451.4 321.4,450.8 323.0,450.2 324.6,449.6 326.2,449.1 327.9,448.5 329.5,447.9 331.1,447.3 332.8,446.8 334.4,446.2 336.0,445.6 337.6,445.0 339.3,444.4 340.9,443.9 342.5,443.3 344.1,442.7 345.8,442.1 347.4,441.5 349.0,440.9 350.6,440.4 352.3,439.8 353.9,439.2 355.5,438.6 357.1,438.0 358.8,437.4 360.4,436.8 362.0,436.2 363.6,435.7 365.2,435.1 366.9,434.5 368.5,433.9 370.1,433.3 371.7,432.7 373.3,432.1 375.0,431.5 376.6,430.9 378.2,430.3 379.8,429.7 381.4,429.1 383.0,428.5" fill="none" stroke="#c8ddf1" stroke-width="2.8" stroke-linejoin="round"/>
<rect x="111.1" y="407.8" width="370.8" height="294.7" fill="none" stroke="#000" stroke-width="1.9"/>
<path d="M103.5,688.7H111.2M103.5,632.6H111.2M103.5,576.4H111.2M103.5,520.3H111.2M103.5,464.1H111.2M103.5,408H111.2M107,660.6H111.2M107,604.5H111.2M107,548.4H111.2M107,492.2H111.2M107,436.1H111.2M120,702.5V696M192.3,702.5V696M264.6,702.5V696M336.8,702.5V696M409.1,702.5V696M481.4,702.5V696M156.1,702.5V698.8M228.4,702.5V698.8M300.7,702.5V698.8M373,702.5V698.8M445.3,702.5V698.8" stroke="#000" stroke-width="2" fill="none"/>
<g font-size="32.3"><text x="97.6" y="698.5" text-anchor="end">2.4</text><text x="97.6" y="642.4" text-anchor="end">2.8</text><text x="97.6" y="586.2" text-anchor="end">3.2</text><text x="97.6" y="530.1" text-anchor="end">3.6</text><text x="97.6" y="473.9" text-anchor="end">4.0</text><text x="97.6" y="417.8" text-anchor="end">4.4</text><text x="120" y="736.8" text-anchor="middle">0</text><text x="192.3" y="736.8" text-anchor="middle">40</text><text x="264.6" y="736.8" text-anchor="middle">80</text><text x="336.8" y="736.8" text-anchor="middle">120</text><text x="409.1" y="736.8" text-anchor="middle">160</text><text x="481.4" y="736.8" text-anchor="middle">200</text></g>
<text x="297.6" y="771.6" font-size="32.25" text-anchor="middle">Specific capacity (mAh g<tspan font-size="19" dy="-12">-1</tspan><tspan dy="12">)</tspan></text>
<text transform="translate(35,546.3) rotate(-90)" text-anchor="middle" font-size="32.5">Voltage (V)</text>
<text x="9.5" y="416" font-size="28" font-weight="bold">c</text>
<path d="M136,590.4H175.2" stroke="#28609f" stroke-width="3.2" stroke-linecap="round"/>
<text x="182.5" y="599.6" font-size="26.7">4<tspan font-size="15.5" dy="-9">th</tspan></text>
<path d="M136,615.1H175.2" stroke="#3c9cc7" stroke-width="3.2" stroke-linecap="round"/>
<text x="182.5" y="624.3" font-size="26.7">50<tspan font-size="15.5" dy="-9">th</tspan></text>
<path d="M136,639.8H175.2" stroke="#9fc5dc" stroke-width="3.2" stroke-linecap="round"/>
<text x="182.5" y="649" font-size="26.7">300<tspan font-size="15.5" dy="-9">th</tspan></text>
<path d="M136,664.5H175.2" stroke="#c8ddf1" stroke-width="3.2" stroke-linecap="round"/>
<text x="182.5" y="673.7" font-size="26.7">400<tspan font-size="15.5" dy="-9">th</tspan></text>
<g stroke="#bdbdbd" stroke-width="1.6" stroke-dasharray="5,3.5"><path d="M676.6,410V701"/><path d="M779.5,410V701"/><path d="M1191,410V701"/></g>
<path d="M1061.5,517.6H1072" stroke="#d8d8d8" stroke-width="1.4"/>
<path d="M676.6,476.7 L779.5,530.5 L1191,551.4" stroke="#2e69a5" stroke-width="2" fill="none"/>
<path d="M676.6,482.4 L717.2,589.9" stroke="#4fa4cb" stroke-width="2" fill="none"/>
<path d="M676.6,498.1 L779.5,538.4" stroke="#6bcfd6" stroke-width="2" fill="none"/>
<path d="M676.6,527.6 L779.5,600.8" stroke="#77d6a7" stroke-width="2" fill="none"/>
<path d="M676.6,564.6 L779.5,610.6" stroke="#47be36" stroke-width="2" fill="none"/>
<path d="M676.6,567.3 L728,638.3" stroke="#a8ad39" stroke-width="2" fill="none"/>
<path d="M676.6,569.8 L757.4,665.1" stroke="#e7c94b" stroke-width="2" fill="none"/>
<path d="M676.6,573.7 L1191,619.2" stroke="#eaa84a" stroke-width="2" fill="none"/>
<path d="M676.6,592.6 L756.8,622.1" stroke="#ec8b45" stroke-width="2" fill="none"/>
<path d="M676.6,600.3 L699.9,635.6" stroke="#e9673c" stroke-width="2" fill="none"/>
<path d="M676.6,620.2 L779.5,639.3" stroke="#b4534b" stroke-width="2" fill="none"/>
<path d="M676.6,626.3 L779.5,668.5" stroke="#8c2923" stroke-width="2" fill="none"/>
<circle cx="676.6" cy="564.6" r="8.2" fill="#47be36"/><circle cx="779.5" cy="610.6" r="8.2" fill="#47be36"/>
<circle cx="676.6" cy="527.6" r="8.2" fill="#77d6a7"/><circle cx="779.5" cy="600.8" r="8.2" fill="#77d6a7"/>
<circle cx="676.6" cy="567.3" r="8.2" fill="#a8ad39"/><circle cx="728" cy="638.3" r="8.2" fill="#a8ad39"/>
<circle cx="676.6" cy="569.8" r="8.2" fill="#e7c94b"/><circle cx="757.4" cy="665.1" r="8.2" fill="#e7c94b"/>
<circle cx="676.6" cy="573.7" r="8.2" fill="#eaa84a"/><circle cx="1191" cy="619.2" r="8.2" fill="#eaa84a"/>
<circle cx="676.6" cy="600.3" r="8.2" fill="#e9673c"/><circle cx="699.9" cy="635.6" r="8.2" fill="#e9673c"/>
<circle cx="676.6" cy="592.6" r="8.2" fill="#ec8b45"/><circle cx="756.8" cy="622.1" r="8.2" fill="#ec8b45"/>
<circle cx="676.6" cy="620.2" r="8.2" fill="#b4534b"/><circle cx="779.5" cy="639.3" r="8.2" fill="#b4534b"/>
<circle cx="676.6" cy="626.3" r="8.2" fill="#8c2923"/><circle cx="779.5" cy="668.5" r="8.2" fill="#8c2923"/>
<circle cx="676.6" cy="482.4" r="8.2" fill="#4fa4cb"/><circle cx="717.2" cy="589.9" r="8.2" fill="#4fa4cb"/>
<circle cx="676.6" cy="498.1" r="8.2" fill="#6bcfd6"/><circle cx="779.5" cy="538.4" r="8.2" fill="#6bcfd6"/>
<circle cx="676.6" cy="476.7" r="8.2" fill="#2e69a5"/><circle cx="779.5" cy="530.5" r="8.2" fill="#2e69a5"/><circle cx="1191" cy="551.4" r="8.2" fill="#2e69a5"/>
<rect x="655.8" y="408.2" width="742.2" height="294.7" fill="none" stroke="#000" stroke-width="2"/>
<path d="M655.5,702.9H663.8M655.5,653.8H663.8M655.5,604.7H663.8M655.5,555.6H663.8M655.5,506.4H663.8M655.5,457.3H663.8M655.5,408.2H663.8M655.5,678.4H659.8M655.5,629.2H659.8M655.5,580.1H659.8M655.5,531H659.8M655.5,481.9H659.8M655.5,432.8H659.8M676.6,702.9V696M779.5,702.9V696M882.4,702.9V696M985.2,702.9V696M1088.1,702.9V696M1191,702.9V696M1293.9,702.9V696M1396.8,702.9V696M728,702.9V699M830.9,702.9V699M933.8,702.9V699M1036.7,702.9V699M1139.6,702.9V699M1242.4,702.9V699M1345.3,702.9V699" stroke="#000" stroke-width="2" fill="none"/>
<g font-size="32.3"><text x="647" y="712.5" text-anchor="end">80</text><text x="647" y="663.4" text-anchor="end">100</text><text x="647" y="614.3" text-anchor="end">120</text><text x="647" y="565.2" text-anchor="end">140</text><text x="647" y="516" text-anchor="end">160</text><text x="647" y="466.9" text-anchor="end">180</text><text x="647" y="417.8" text-anchor="end">200</text><text x="676.6" y="736.7" text-anchor="middle">Initial</text><text x="779.5" y="736.7" text-anchor="middle">100</text><text x="882.4" y="736.7" text-anchor="middle">200</text><text x="985.2" y="736.7" text-anchor="middle">300</text><text x="1088.1" y="736.7" text-anchor="middle">400</text><text x="1191" y="736.7" text-anchor="middle">500</text></g>
<text x="1024.5" y="772.7" font-size="32.4" text-anchor="middle">Cycle number (n)</text>
<text transform="translate(569.3,568.6) rotate(-90)" text-anchor="middle" font-size="27.3">Specific capacity (mAh g<tspan font-size="16.5" dy="-10">-1</tspan><tspan dy="10">)</tspan></text>
<text x="516.5" y="416" font-size="28" font-weight="bold">d</text>
<circle cx="1260" cy="429.9" r="8" fill="#2e69a5"/>
<text x="1282.5" y="437.6" font-size="23" style="fill:#2e69a5">This work</text>
<circle cx="1260" cy="453.1" r="8" fill="#4fa4cb"/>
<text x="1282.5" y="460.8" font-size="23" style="fill:#000">Ref.66</text>
<circle cx="1260" cy="476.3" r="8" fill="#6bcfd6"/>
<text x="1282.5" y="484" font-size="23" style="fill:#000">Ref.69</text>
<circle cx="1260" cy="499.4" r="8" fill="#77d6a7"/>
<text x="1282.5" y="507.1" font-size="23" style="fill:#000">Ref.30</text>
<circle cx="1260" cy="522.6" r="8" fill="#47be36"/>
<text x="1282.5" y="530.3" font-size="23" style="fill:#000">Ref.52</text>
<circle cx="1260" cy="545.8" r="8" fill="#a8ad39"/>
<text x="1282.5" y="553.5" font-size="23" style="fill:#000">Ref.64</text>
<circle cx="1260" cy="569" r="8" fill="#e7c94b"/>
<text x="1282.5" y="576.7" font-size="23" style="fill:#000">Ref.67</text>
<circle cx="1260" cy="592.2" r="8" fill="#eaa84a"/>
<text x="1282.5" y="599.9" font-size="23" style="fill:#000">Ref.62</text>
<circle cx="1260" cy="615.3" r="8" fill="#ec8b45"/>
<text x="1282.5" y="623" font-size="23" style="fill:#000">Ref.61</text>
<circle cx="1260" cy="638.5" r="8" fill="#e9673c"/>
<text x="1282.5" y="646.2" font-size="23" style="fill:#000">Ref.63</text>
<circle cx="1260" cy="661.7" r="8" fill="#b4534b"/>
<text x="1282.5" y="669.4" font-size="23" style="fill:#000">Ref.68</text>
<circle cx="1260" cy="684.9" r="8" fill="#8c2923"/>
<text x="1282.5" y="692.6" font-size="23" style="fill:#000">Ref.65</text>
</svg></body></html>
